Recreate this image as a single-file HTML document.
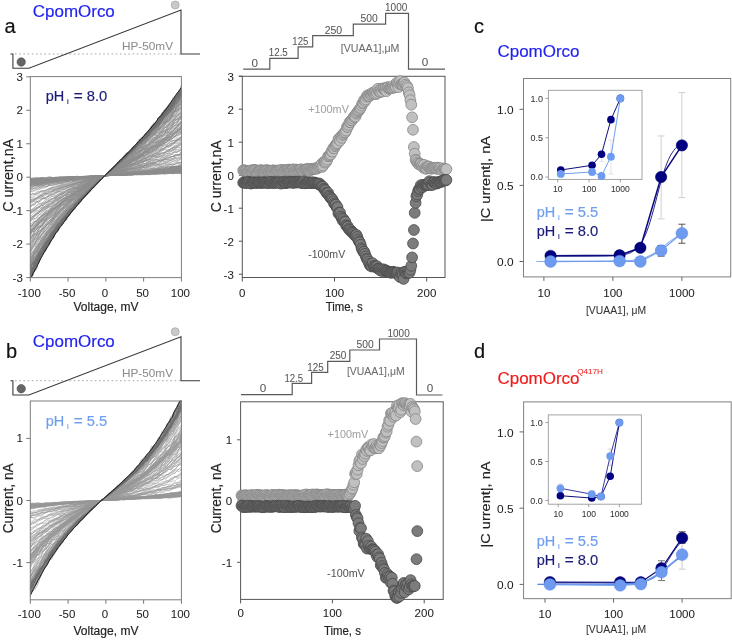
<!DOCTYPE html>
<html><head><meta charset="utf-8"><style>
html,body{margin:0;padding:0;background:#fff;}
svg{display:block;font-family:"Liberation Sans", sans-serif;will-change:transform;}
text{paint-order:stroke;stroke-width:0.05px;stroke:currentColor;}
text.h{stroke-width:0.18px;}
</style></head><body>
<svg width="732" height="640" viewBox="0 0 732 640">
<rect width="732" height="640" fill="#fff"/>
<text x="4.5" y="32.8" font-size="20" fill="#111" color="#111" text-anchor="start" class="h">a</text>
<text x="32.8" y="17" font-size="17" fill="#1f1ff0" color="#1f1ff0" text-anchor="start" class="h" textLength="82" lengthAdjust="spacingAndGlyphs">CpomOrco</text>
<line x1="15" y1="54" x2="180" y2="54" stroke="#a8a8a8" stroke-width="1" stroke-dasharray="1.6,2.6"/>
<polyline points="10.5,54 12.9,54 12.9,68.3 28.9,68.3 181,10 181,54 200,54" fill="none" stroke="#3a3a3a" stroke-width="1.1" />
<circle cx="21.2" cy="62" r="4.2" fill="#666" stroke="#4a4a4a" stroke-width="0.6"/>
<circle cx="175.2" cy="5" r="4" fill="#c9c9c9" stroke="#9a9a9a" stroke-width="0.6"/>
<text x="122" y="50" font-size="11.5" fill="#8c8c8c" color="#8c8c8c" text-anchor="start" textLength="51" lengthAdjust="spacingAndGlyphs">HP-50mV</text>
<g fill="none" stroke-linejoin="round">
<path d="M30.3 178.1l2.1-0.1 2.2 0.1 2.1-0.6 2.1 0.5 2.1 0.8 2.2-0.5 2.1 0.5 2.1 0.4 2.2-0.9 2.1-0.7 2.1 0.3 2.1 0.2 2.2-0.2 2.1-0.9 2.1 0.2 2.2-0.2 2.1-0.1 2.1-0.1 2.1-0.3 2.2 0 2.1 0.1 2.1 0.3 2.1-0.4 2.2 0.2 2.1-0.4 2.1 0.4 2.2-0.3 2.1-0.1 2.1 0.1 2.1-0.6 2.2 0 2.1 0.1 2.1-0.2 2.2 0 2.1 0 2.1-0.1 2.1-0.1 2.2 0 2.1 0 2.1-0.1 2.2-0.1 2.1-0.3 2.1 0.1 2.1 0 2.2-0.4 2.1 0.4 2.1-0.1 2.2 0.2 2.1-0.9 2.1 0.1 2.1-0.1 2.2 0 2.1 0.1 2.1-0.2 2.1 0.1 2.2-0.2 2.1-0.2 2.1-0.6 2.2 0.2 2.1 0 2.1 0.1 2.1-0.1 2.2-0.8 2.1 0.4 2.1 0.2 2.2 0.1 2.1 0.4 2.1-0.4 2.1-0.4 2.2 0.4 2.1-0.1M30.3 179l2.1-0.7 2.2-0.6 2.1 0.5 2.1-0.1 2.1-0.5 2.2-0.1 2.1 0.3 2.1-0.6 2.2-0.6 2.1 0.8 2.1 0 2.1 0.3 2.2-0.4 2.1 0.5 2.1-0.1 2.2-0.8 2.1 0.5 2.1-0.7 2.1-0.2 2.2 0.2 2.1-0.2 2.1-0.4 2.1 0.4 2.2 0 2.1 0.2 2.1-0.4 2.2-0.3 2.1 0.1 2.1 0.3 2.1-0.1 2.2-0.2 2.1-0.2 2.1 0 2.2-0.1 2.1-0.1 2.1-0.1 2.1 0 2.2-0.2 2.1 0 2.1-0.2 2.2-0.3 2.1 0.2 2.1 0 2.1 0.3 2.2-0.5 2.1 0.4 2.1-0.2 2.2-0.6 2.1-0.1 2.1 0.1 2.1 0.4 2.2-0.5 2.1 0.1 2.1-0.5 2.1-0.5 2.2 0.5 2.1 0.2 2.1 0.1 2.2-0.5 2.1-0.1 2.1 0.2 2.1-0.6 2.2 0.3 2.1-0.9 2.1 0 2.2 0 2.1 0.6 2.1-0.3 2.1 0.4 2.2 0.1 2.1 0M30.3 179.6l2.1-0.5 2.2-0.5 2.1-0.2 2.1 0.1 2.1-0.7 2.2 0.1 2.1 0.4 2.1-0.3 2.2-0.7 2.1 0 2.1 0.7 2.1-1.1 2.2 0.2 2.1-0.3 2.1 0.5 2.2-0.1 2.1 0.1 2.1-1.1 2.1 0.7 2.2-0.5 2.1 0.5 2.1-0.2 2.1 0.4 2.2-0.4 2.1-0.3 2.1 0.4 2.2-0.6 2.1 0.1 2.1 0.1 2.1-0.2 2.2-0.1 2.1-0.2 2.1 0 2.2-0.1 2.1-0.1 2.1 0 2.1-0.1 2.2-0.2 2.1-0.2 2.1 0.3 2.2-0.3 2.1 0.1 2.1 0.1 2.1-0.5 2.2 0.3 2.1-0.5 2.1 0.4 2.2-0.4 2.1 0 2.1 0 2.1-0.5 2.2 0.1 2.1-0.3 2.1 0.1 2.1 0.3 2.2-0.4 2.1-0.1 2.1-0.3 2.2 0.6 2.1-0.4 2.1 0.5 2.1-0.9 2.2 0.5 2.1 0.1 2.1-0.7 2.2-0.5 2.1 0.9 2.1-0.2 2.1-0.1 2.2 0.1 2.1-0.6M30.3 179.4l2.1-0.3 2.2 0.1 2.1-1.5 2.1 0.7 2.1-0.4 2.2 0 2.1-0.2 2.1 0 2.2-0.8 2.1 0.9 2.1 0.1 2.1-0.2 2.2 0 2.1-0.7 2.1-0.1 2.2 0.5 2.1 0.1 2.1-0.4 2.1-0.5 2.2 1.1 2.1-1 2.1 0.4 2.1-0.6 2.2 0.4 2.1-0.3 2.1 0.1 2.2-0.2 2.1-0.5 2.1 0 2.1 0.1 2.2-0.1 2.1 0 2.1-0.2 2.2-0.1 2.1-0.1 2.1-0.1 2.1 0 2.2-0.2 2.1-0.1 2.1-0.3 2.2-0.2 2.1 0.3 2.1 0 2.1-0.1 2.2 0 2.1 0 2.1-0.1 2.2 0.2 2.1-0.5 2.1 0.2 2.1-0.2 2.2 0.1 2.1 0 2.1 0 2.1-0.3 2.2 0 2.1-0.4 2.1-0.1 2.2 0.3 2.1-0.7 2.1 0.3 2.1-0.4 2.2-0.2 2.1 0.5 2.1-0.9 2.2-0.2 2.1 0.1 2.1 0 2.1 0 2.2 0.2 2.1-0.2M30.3 178.8l2.1 0.1 2.2-0.5 2.1 0.8 2.1-0.9 2.1 0 2.2-0.2 2.1-0.1 2.1 0.2 2.2-0.3 2.1-0.4 2.1 0 2.1-0.1 2.2 0.5 2.1-0.7 2.1-0.3 2.2 0 2.1 0.2 2.1 0.4 2.1-0.7 2.2 0.3 2.1 0.5 2.1-0.8 2.1 0.4 2.2-0.1 2.1-0.3 2.1-0.5 2.2 0.2 2.1-0.2 2.1-0.3 2.1-0.1 2.2 0.2 2.1-0.1 2.1 0 2.2-0.2 2.1-0.1 2.1-0.1 2.1-0.1 2.2-0.2 2.1 0.1 2.1-0.2 2.2-0.2 2.1-0.1 2.1-0.2 2.1 0.1 2.2 0.1 2.1-0.2 2.1 0.3 2.2 0.1 2.1-0.6 2.1 0.2 2.1-0.2 2.2 0.5 2.1-0.4 2.1 0 2.1 0 2.2 0.3 2.1-0.7 2.1-0.6 2.2 0 2.1 0.2 2.1-0.3 2.1-0.4 2.2 1.1 2.1-1.1 2.1-0.3 2.2-0.1 2.1-0.5 2.1 0.2 2.1 0.3 2.2-0.1 2.1-0.2M30.3 178.9l2.1-0.5 2.2 0.5 2.1-0.6 2.1 0.9 2.1-0.4 2.2-0.1 2.1-0.4 2.1-0.2 2.2 0.7 2.1-0.4 2.1-0.6 2.1 0.2 2.2 0.1 2.1-1 2.1 0 2.2-0.1 2.1 0.1 2.1-0.5 2.1 0.2 2.2-0.4 2.1 0.5 2.1-0.1 2.1-0.3 2.2 0.1 2.1-0.3 2.1 0 2.2 0.2 2.1-0.2 2.1 0 2.1-0.3 2.2 0.2 2.1-0.1 2.1-0.3 2.2-0.1 2.1 0 2.1-0.1 2.1-0.1 2.2-0.2 2.1 0.1 2.1 0.1 2.2-0.3 2.1-0.2 2.1 0.2 2.1 0 2.2-0.1 2.1-0.6 2.1 0.2 2.2-0.2 2.1-0.2 2.1-0.2 2.1 0.1 2.2-0.3 2.1 0.4 2.1-0.3 2.1 0.2 2.2-0.7 2.1 0.3 2.1 0.2 2.2-0.2 2.1-0.1 2.1-0.4 2.1 0.8 2.2-0.3 2.1-0.3 2.1-1.1 2.2 0.5 2.1 0.3 2.1-0.4 2.1-0.7 2.2 0.9 2.1-0.1M30.3 178.7l2.1-0.2 2.2 1 2.1-1.2 2.1 0.2 2.1-0.3 2.2-0.2 2.1 0.2 2.1 0.4 2.2-0.8 2.1 0.3 2.1-0.2 2.1 0 2.2-0.1 2.1 0.5 2.1-1.1 2.2 0.2 2.1-0.3 2.1-0.3 2.1 0.5 2.2 0.3 2.1-0.3 2.1-0.1 2.1-0.3 2.2-0.2 2.1 0.3 2.1-0.6 2.2 0.3 2.1-0.5 2.1 0 2.1 0 2.2-0.2 2.1 0 2.1-0.1 2.2 0 2.1-0.2 2.1-0.2 2.1-0.1 2.2-0.1 2.1 0 2.1 0.2 2.2-0.5 2.1 0.2 2.1-0.1 2.1-0.1 2.2-0.2 2.1 0 2.1-0.2 2.2 0.1 2.1-0.3 2.1-0.8 2.1 0.5 2.2-0.1 2.1-0.3 2.1-0.1 2.1 0.5 2.2-0.4 2.1-0.4 2.1 0.1 2.2 0 2.1-0.6 2.1 0.7 2.1-0.4 2.2 0.1 2.1-0.8 2.1 1.2 2.2-0.6 2.1-0.1 2.1-0.5 2.1 0 2.2-0.4 2.1 1.2M30.3 179.1l2.1 0.2 2.2-0.5 2.1-0.5 2.1-0.1 2.1-0.6 2.2 0.7 2.1 0.4 2.1-0.3 2.2 0.1 2.1 0 2.1-0.6 2.1 0.3 2.2 0.4 2.1-1 2.1 0.2 2.2-0.3 2.1-0.1 2.1-0.3 2.1 0.1 2.2-0.5 2.1 0.1 2.1-0.1 2.1-0.1 2.2 0.3 2.1-0.3 2.1-0.1 2.2-0.2 2.1 0.2 2.1-0.5 2.1 0.1 2.2 0.1 2.1 0 2.1-0.3 2.2-0.1 2.1-0.1 2.1-0.1 2.1 0 2.2-0.2 2.1 0 2.1-0.1 2.2-0.3 2.1-0.4 2.1 0.6 2.1-0.2 2.2 0 2.1-0.5 2.1 0.4 2.2-0.3 2.1-0.2 2.1 0.2 2.1-0.1 2.2-0.2 2.1 0.4 2.1-0.3 2.1-0.4 2.2-0.3 2.1 0.1 2.1 0.4 2.2-0.5 2.1-0.5 2.1 0 2.1 0.1 2.2 0.3 2.1-0.7 2.1 0.4 2.2 0.1 2.1-0.3 2.1-1 2.1 0.3 2.2-0.5 2.1 0.5M30.3 179.8l2.1-0.3 2.2-0.4 2.1 0.6 2.1 0.3 2.1-0.8 2.2-0.3 2.1-0.2 2.1-0.7 2.2 0.2 2.1-0.4 2.1 0.5 2.1-0.8 2.2-0.4 2.1 0.3 2.1 0.1 2.2 0 2.1-0.6 2.1 0.7 2.1-0.3 2.2-0.3 2.1-0.2 2.1 0.2 2.1-0.3 2.2 0 2.1-0.2 2.1 0 2.2 0.1 2.1-0.3 2.1-0.2 2.1 0.2 2.2-0.2 2.1-0.2 2.1 0.1 2.2-0.2 2.1-0.1 2.1-0.2 2.1-0.2 2.2-0.1 2.1 0.1 2.1-0.2 2.2 0 2.1-0.1 2.1-0.4 2.1 0.5 2.2-0.6 2.1 0.2 2.1-0.5 2.2 0.2 2.1 0.1 2.1-0.3 2.1-0.3 2.2 0 2.1-0.3 2.1 0.2 2.1 0.4 2.2-1 2.1 0 2.1 0.1 2.2 0 2.1-0.3 2.1 0.5 2.1 0 2.2-0.2 2.1-0.7 2.1 0.9 2.2-1.1 2.1 0.5 2.1 0.1 2.1-1.1 2.2 0.5 2.1 0.5M30.3 179.9l2.1-0.6 2.2 0.1 2.1 0 2.1 0 2.1-0.3 2.2-0.1 2.1 0.2 2.1-0.2 2.2-0.7 2.1 0.2 2.1-0.4 2.1-0.3 2.2 0 2.1-0.8 2.1 0.8 2.2-0.6 2.1 0.2 2.1-0.7 2.1 0 2.2 0.9 2.1-0.4 2.1-0.5 2.1-0.1 2.2-0.1 2.1 0.1 2.1-0.2 2.2-0.2 2.1 0.1 2.1-0.3 2.1 0.4 2.2-0.5 2.1 0.2 2.1-0.3 2.2 0 2.1-0.1 2.1-0.1 2.1 0 2.2-0.1 2.1 0.1 2.1-0.3 2.2-0.2 2.1-0.2 2.1 0.1 2.1-0.4 2.2 0.2 2.1-0.1 2.1-0.2 2.2-0.2 2.1 0.3 2.1-0.1 2.1-0.1 2.2-0.1 2.1 0.2 2.1-0.7 2.1 0.3 2.2-0.5 2.1 0.2 2.1-0.5 2.2-0.2 2.1 0.1 2.1-1 2.1 0.5 2.2-0.6 2.1 0.3 2.1 0.5 2.2-0.2 2.1-0.4 2.1 0 2.1-0.2 2.2 0 2.1 0.4M30.3 179.5l2.1 0.6 2.2 0 2.1-0.4 2.1 0.2 2.1-0.6 2.2-1.2 2.1 0.8 2.1-0.7 2.2 0.5 2.1-0.6 2.1 0.1 2.1-0.1 2.2-0.3 2.1-0.4 2.1 0.4 2.2 0 2.1 0.2 2.1-0.6 2.1 0.1 2.2-0.5 2.1 0.1 2.1-0.6 2.1 0.8 2.2-0.5 2.1-0.4 2.1 0.2 2.2 0 2.1-0.2 2.1 0.1 2.1-0.3 2.2-0.4 2.1 0.1 2.1 0.1 2.2-0.2 2.1-0.1 2.1-0.2 2.1 0 2.2-0.1 2.1-0.3 2.1-0.1 2.2 0.1 2.1 0 2.1 0.1 2.1-0.3 2.2 0.3 2.1-0.8 2.1 0.2 2.2-0.3 2.1-0.5 2.1 0 2.1 0.5 2.2-0.7 2.1-0.2 2.1 0.5 2.1 0 2.2-0.2 2.1 0.4 2.1-1 2.2 1.3 2.1-0.5 2.1-0.3 2.1-0.2 2.2-0.2 2.1-0.2 2.1 0 2.2-0.7 2.1 1.2 2.1-1 2.1 0.2 2.2-0.4 2.1-0.1M30.3 178.7l2.1 1.3 2.2-0.9 2.1-1 2.1 0.5 2.1 0.1 2.2 0 2.1 0 2.1-0.2 2.2 0.1 2.1-0.6 2.1 0.3 2.1 0 2.2 0.1 2.1-0.5 2.1 0.2 2.2-0.4 2.1-0.5 2.1 0.1 2.1-0.2 2.2-0.1 2.1-0.1 2.1-0.1 2.1 0 2.2-0.4 2.1 0.4 2.1-0.6 2.2 0.2 2.1 0.1 2.1-0.2 2.1 0 2.2-0.2 2.1 0 2.1-0.3 2.2 0.1 2.1-0.2 2.1 0 2.1 0 2.2-0.3 2.1-0.2 2.1-0.1 2.2 0.3 2.1-0.2 2.1-0.6 2.1 0.2 2.2 0 2.1-0.3 2.1-0.4 2.2 0.1 2.1 0.2 2.1-0.1 2.1-0.2 2.2 0.2 2.1 0 2.1-0.5 2.1 0.1 2.2-0.4 2.1-0.2 2.1-0.9 2.2 0.9 2.1-0.4 2.1-0.1 2.1-0.3 2.2-0.3 2.1 0.5 2.1 0.1 2.2 0.3 2.1-0.3 2.1-0.6 2.1 0.1 2.2 0.4 2.1-0.4M30.3 179.2l2.1 1.5 2.2-0.9 2.1-0.3 2.1 0.1 2.1 0 2.2-0.4 2.1-0.2 2.1-0.1 2.2 0.4 2.1-0.7 2.1 0 2.1-0.2 2.2-0.4 2.1-0.3 2.1-0.2 2.2 0.3 2.1-0.6 2.1-0.1 2.1-0.1 2.2-0.2 2.1 0.3 2.1-0.1 2.1-0.3 2.2 0.4 2.1-0.5 2.1 0.1 2.2-0.1 2.1 0.1 2.1-0.3 2.1-0.2 2.2-0.2 2.1-0.1 2.1 0 2.2-0.1 2.1-0.1 2.1-0.1 2.1-0.1 2.2-0.2 2.1-0.3 2.1 0.2 2.2 0.1 2.1-0.2 2.1 0 2.1-0.1 2.2-0.6 2.1 0.1 2.1 0.3 2.2-0.6 2.1-0.3 2.1 0.3 2.1 0 2.2-0.1 2.1-0.3 2.1-0.2 2.1-0.3 2.2-0.1 2.1 0 2.1-0.2 2.2 0.2 2.1 0.6 2.1-0.5 2.1-0.3 2.2 0.2 2.1-0.6 2.1 0.4 2.2 0.1 2.1-1.1 2.1 0.2 2.1 0.1 2.2-0.4 2.1-0.2M30.3 179.2l2.1 0.5 2.2 0 2.1-1.4 2.1 0.8 2.1 0.1 2.2-0.7 2.1-0.2 2.1 0.3 2.2-0.6 2.1 0.4 2.1 0.1 2.1-0.4 2.2-0.3 2.1 0.4 2.1-0.3 2.2 0.1 2.1-0.9 2.1 0.9 2.1-0.7 2.2 0.3 2.1-0.1 2.1-0.3 2.1-0.2 2.2-0.3 2.1 0.1 2.1 0 2.2-0.1 2.1-0.4 2.1-0.1 2.1-0.3 2.2 0.1 2.1-0.2 2.1-0.1 2.2 0.1 2.1-0.1 2.1-0.1 2.1 0 2.2-0.5 2.1 0.3 2.1-0.5 2.2 0.1 2.1-0.3 2.1 0 2.1 0.2 2.2-0.1 2.1-0.1 2.1-0.1 2.2 0 2.1-0.2 2.1-0.6 2.1 0.8 2.2-0.7 2.1 0.2 2.1-0.5 2.1-0.3 2.2 0.1 2.1-0.4 2.1 0.6 2.2-1 2.1 0.5 2.1-0.6 2.1 0.1 2.2 1 2.1-0.8 2.1-0.4 2.2-0.6 2.1 0.5 2.1-0.1 2.1 0.6 2.2-1.3 2.1-0.3M30.3 179.5l2.1 0.2 2.2 0.5 2.1-1.1 2.1 0.9 2.1-0.6 2.2-0.4 2.1-0.4 2.1 0 2.2-0.1 2.1 0.2 2.1 0.1 2.1-0.7 2.2 0.2 2.1 0 2.1-0.1 2.2-0.4 2.1 0.4 2.1-0.3 2.1 0 2.2-0.6 2.1-0.2 2.1-0.4 2.1 0.7 2.2-0.3 2.1-0.4 2.1 0.1 2.2-0.1 2.1-0.5 2.1 0.2 2.1 0 2.2-0.1 2.1-0.3 2.1-0.1 2.2 0 2.1-0.2 2.1-0.2 2.1-0.1 2.2 0 2.1-0.3 2.1-0.1 2.2 0.3 2.1-0.3 2.1-0.3 2.1 0.1 2.2 0.3 2.1-0.5 2.1-0.3 2.2-0.3 2.1 0.9 2.1-1.4 2.1 0.9 2.2-0.7 2.1-0.2 2.1-0.1 2.1 0.1 2.2 0.3 2.1-0.7 2.1 0.3 2.2 0.5 2.1-2 2.1 0.6 2.1-0.5 2.2 0.9 2.1-1 2.1-0.2 2.2-0.1 2.1 0.6 2.1 0.4 2.1-0.5 2.2 0.8 2.1-0.3M30.3 179.9l2.1-0.7 2.2 0.6 2.1-0.4 2.1-0.7 2.1 0.7 2.2-0.5 2.1 0.3 2.1-0.6 2.2-0.6 2.1 0.8 2.1-0.3 2.1 0.3 2.2 0 2.1-0.1 2.1-0.9 2.2-0.5 2.1 0.5 2.1 0.1 2.1-0.5 2.2 0.1 2.1-0.5 2.1 0 2.1-0.2 2.2-0.2 2.1 0.2 2.1-0.1 2.2 0.1 2.1-0.3 2.1 0.1 2.1-0.3 2.2 0 2.1-0.3 2.1-0.1 2.2 0 2.1-0.2 2.1 0 2.1-0.3 2.2-0.2 2.1-0.1 2.1 0.1 2.2-0.4 2.1 0.4 2.1-0.7 2.1 0.3 2.2 0.4 2.1-1.3 2.1 0.1 2.2 0.6 2.1-0.4 2.1 0 2.1-0.2 2.2 0.4 2.1-0.4 2.1-0.5 2.1-0.1 2.2-0.4 2.1 0.2 2.1-1 2.2 0.9 2.1-0.4 2.1 0.6 2.1-0.3 2.2-1 2.1 0.8 2.1-0.7 2.2 0.2 2.1 0.3 2.1-0.3 2.1-0.1 2.2-0.1 2.1-0.7M30.3 178.3l2.1 0.6 2.2 0.3 2.1 0 2.1 0.2 2.1 0 2.2 0 2.1-0.2 2.1-0.1 2.2-0.5 2.1 0.3 2.1-0.2 2.1 0.2 2.2-1.1 2.1 0.2 2.1-0.5 2.2 0.2 2.1-0.3 2.1 0.4 2.1-0.4 2.2-0.7 2.1 0.9 2.1-0.7 2.1-0.3 2.2 0.2 2.1-0.2 2.1-0.2 2.2 0.2 2.1-0.3 2.1 0.1 2.1-0.1 2.2-0.1 2.1-0.2 2.1-0.1 2.2-0.1 2.1-0.1 2.1-0.2 2.1-0.1 2.2-0.1 2.1 0 2.1-0.1 2.2-0.3 2.1-0.1 2.1 0.3 2.1-0.6 2.2-0.6 2.1 1 2.1-0.7 2.2 0.1 2.1 0 2.1-0.4 2.1 0.7 2.2-0.5 2.1-0.5 2.1 0.3 2.1-0.1 2.2-0.4 2.1-0.1 2.1-0.9 2.2 0.6 2.1-0.8 2.1 0.6 2.1-0.8 2.2 0.2 2.1 0.9 2.1-1 2.2 0.5 2.1-0.3 2.1-0.8 2.1 1.1 2.2-0.1 2.1-1.2M30.3 180.2l2.1 0.2 2.2-0.2 2.1-0.1 2.1-0.1 2.1-1.3 2.2 0.5 2.1 0.2 2.1-0.5 2.2-0.6 2.1-0.1 2.1 0.2 2.1 0.1 2.2-0.3 2.1 0.6 2.1-0.2 2.2-0.8 2.1 0.3 2.1-0.3 2.1-0.4 2.2 0 2.1 0 2.1-0.8 2.1 0.2 2.2 0.1 2.1-0.4 2.1 0 2.2 0.1 2.1-0.3 2.1 0 2.1 0.2 2.2-0.4 2.1-0.1 2.1 0 2.2-0.1 2.1-0.2 2.1-0.1 2.1-0.1 2.2 0 2.1-0.4 2.1 0.2 2.2-0.3 2.1-0.4 2.1 0.3 2.1-0.2 2.2-0.4 2.1 0.2 2.1-0.1 2.2-0.2 2.1-0.4 2.1 0.8 2.1-0.5 2.2 0 2.1-0.1 2.1-0.2 2.1-0.1 2.2-0.5 2.1 0.4 2.1-0.4 2.2-0.2 2.1 0.4 2.1-0.4 2.1-0.6 2.2 0.4 2.1 0.2 2.1-0.4 2.2 0.1 2.1-0.6 2.1-0.5 2.1 0.5 2.2-0.5 2.1-0.7M30.3 180.2l2.1-0.2 2.2-0.2 2.1-0.4 2.1-0.6 2.1 0 2.2-0.8 2.1 0.6 2.1-0.5 2.2 0.4 2.1-0.1 2.1 0.7 2.1-0.5 2.2-0.1 2.1 0 2.1 0.5 2.2-1.1 2.1 0.2 2.1-0.1 2.1-0.3 2.2-0.1 2.1-0.3 2.1 0.3 2.1-0.2 2.2-0.4 2.1-0.1 2.1 0 2.2-0.1 2.1-0.1 2.1-0.3 2.1-0.3 2.2 0.2 2.1-0.5 2.1 0 2.2 0 2.1-0.1 2.1 0 2.1-0.1 2.2-0.1 2.1-0.2 2.1-0.1 2.2 0 2.1-0.2 2.1 0.3 2.1-0.6 2.2 0.3 2.1-0.3 2.1-0.2 2.2 0 2.1-0.1 2.1-0.3 2.1-0.4 2.2-0.3 2.1-0.2 2.1 0.4 2.1-0.1 2.2-0.1 2.1-0.5 2.1 0.7 2.2-1.2 2.1 0.4 2.1 0 2.1-0.6 2.2-0.4 2.1 0.1 2.1-0.4 2.2 0.3 2.1-0.5 2.1 0 2.1 0.5 2.2-0.6 2.1 0.5M30.3 180.2l2.1 0 2.2 0.8 2.1-1.1 2.1-0.5 2.1 0.3 2.2-0.7 2.1 0.7 2.1-1.3 2.2 0.3 2.1-0.7 2.1 0.9 2.1-0.9 2.2 0.3 2.1-0.3 2.1 0.5 2.2-0.1 2.1-1 2.1 0.8 2.1-0.2 2.2-0.3 2.1 0 2.1-0.8 2.1-0.3 2.2 0.5 2.1 0.1 2.1-0.8 2.2 0 2.1 0 2.1-0.2 2.1 0.3 2.2-0.3 2.1 0.1 2.1-0.2 2.2-0.3 2.1-0.1 2.1-0.3 2.1 0 2.2 0 2.1-0.4 2.1-0.3 2.2 0.1 2.1 0.2 2.1-0.4 2.1-0.3 2.2 0.3 2.1 0 2.1-0.4 2.2 0.1 2.1 0.2 2.1-0.3 2.1 0 2.2-0.5 2.1-0.1 2.1-0.6 2.1 0 2.2 0.6 2.1-0.7 2.1-0.3 2.2 0.2 2.1-0.2 2.1 0.6 2.1 0.1 2.2-0.7 2.1 0.6 2.1 0.3 2.2-1.5 2.1 0.4 2.1-0.4 2.1 0.1 2.2-0.3 2.1-0.4M30.3 179.6l2.1 0.2 2.2 0.5 2.1-1.4 2.1 1 2.1-0.5 2.2 0 2.1-0.6 2.1 0.6 2.2-0.6 2.1 0.5 2.1-0.8 2.1 0.5 2.2-0.3 2.1-0.9 2.1 0.4 2.2-0.1 2.1-0.8 2.1 0.3 2.1 0.2 2.2-0.6 2.1 0.4 2.1-0.7 2.1-0.2 2.2 0.3 2.1-0.1 2.1-0.3 2.2 0 2.1 0.1 2.1-0.4 2.1 0.3 2.2-0.4 2.1-0.1 2.1-0.1 2.2-0.2 2.1-0.1 2.1-0.2 2.1 0 2.2 0 2.1 0 2.1-0.2 2.2-0.3 2.1 0.1 2.1-0.3 2.1-0.4 2.2-0.1 2.1-0.3 2.1 0.3 2.2 0.1 2.1-0.7 2.1 0.1 2.1-0.4 2.2 0.2 2.1-0.4 2.1 0 2.1-0.1 2.2 0 2.1 0 2.1-0.1 2.2-0.1 2.1-0.3 2.1 0.4 2.1-0.9 2.2 0.5 2.1-0.5 2.1 0.2 2.2-0.1 2.1-1 2.1 0.7 2.1 0.3 2.2-0.4 2.1-0.4M30.3 180l2.1 0.9 2.2-0.8 2.1-0.1 2.1 0.3 2.1-0.7 2.2-0.2 2.1 0.5 2.1-1.3 2.2-0.2 2.1 0.2 2.1 0.2 2.1-1 2.2 0.3 2.1-0.2 2.1-0.1 2.2 0.5 2.1-0.4 2.1 0.2 2.1-0.2 2.2-0.1 2.1-0.2 2.1-0.5 2.1 0.1 2.2-0.2 2.1-0.1 2.1-0.3 2.2 0.1 2.1-0.2 2.1-0.2 2.1 0 2.2-0.2 2.1 0 2.1-0.4 2.2 0 2.1 0 2.1-0.1 2.1-0.3 2.2 0 2.1 0 2.1-0.2 2.2-0.1 2.1-0.3 2.1 0.1 2.1-0.6 2.2 0.6 2.1-0.5 2.1 0.3 2.2-0.9 2.1 0.4 2.1-0.2 2.1-0.5 2.2-0.2 2.1 0.5 2.1-0.4 2.1 0.2 2.2-0.5 2.1 0 2.1 0 2.2 0.2 2.1-0.1 2.1 0.1 2.1-0.5 2.2-0.5 2.1 1.2 2.1-0.9 2.2-0.1 2.1-0.6 2.1 0.2 2.1-0.6 2.2 0 2.1-1M30.3 180.5l2.1-0.1 2.2-0.7 2.1-0.3 2.1 0.7 2.1-0.3 2.2-1 2.1-0.1 2.1 0.7 2.2 0 2.1-0.3 2.1-0.2 2.1 0.3 2.2-0.7 2.1 0.3 2.1-0.2 2.2-0.8 2.1 0.3 2.1-0.3 2.1-0.3 2.2-0.2 2.1 0.1 2.1-0.2 2.1 0.1 2.2-0.8 2.1 0.2 2.1 0.2 2.2-0.3 2.1-0.2 2.1-0.1 2.1-0.3 2.2 0 2.1 0.1 2.1-0.2 2.2 0 2.1-0.2 2.1-0.1 2.1-0.4 2.2 0.1 2.1 0.2 2.1-0.3 2.2-0.3 2.1 0.1 2.1-0.2 2.1-0.2 2.2-0.3 2.1-0.1 2.1 0.1 2.2-0.5 2.1 0.2 2.1-0.1 2.1 0.2 2.2-0.2 2.1-0.5 2.1 0.7 2.1-0.6 2.2-0.3 2.1 0.3 2.1-0.3 2.2 0.4 2.1-1 2.1 0 2.1 0.1 2.2 0.6 2.1-0.4 2.1-1 2.2-0.5 2.1 0.4 2.1-0.6 2.1 0.6 2.2-0.3 2.1-0.3M30.3 180.3l2.1 0.3 2.2 0.5 2.1-1.4 2.1 0.2 2.1 0.1 2.2-1.1 2.1 0.6 2.1 0.2 2.2-0.5 2.1 0.3 2.1-0.3 2.1-0.6 2.2 0.2 2.1-0.3 2.1-0.8 2.2 0.1 2.1-0.2 2.1 0 2.1-0.1 2.2-0.4 2.1 0.3 2.1-0.6 2.1 0.6 2.2-0.3 2.1 0.2 2.1-0.4 2.2-0.3 2.1-0.3 2.1 0.3 2.1-0.2 2.2-0.1 2.1-0.1 2.1-0.1 2.2-0.3 2.1-0.1 2.1-0.1 2.1-0.2 2.2 0 2.1-0.1 2.1 0 2.2-0.7 2.1 0.5 2.1-0.7 2.1 0.1 2.2 0.1 2.1 0.1 2.1-0.6 2.2-0.3 2.1 0.6 2.1-0.3 2.1-0.6 2.2 0.1 2.1-0.7 2.1 0.6 2.1-0.5 2.2 0.4 2.1-1.3 2.1 0.8 2.2 0.4 2.1-0.8 2.1-0.1 2.1-0.9 2.2 0.8 2.1-0.2 2.1-0.3 2.2-0.5 2.1 0.6 2.1-0.6 2.1 0.1 2.2 0.1 2.1-0.3M30.3 180.2l2.1 0 2.2 0.3 2.1 0.1 2.1-0.3 2.1-0.5 2.2-0.3 2.1 0 2.1-0.4 2.2 0.3 2.1-0.5 2.1 0.5 2.1-1 2.2 0 2.1 0 2.1-0.6 2.2 0 2.1 0.9 2.1-0.9 2.1 0.3 2.2-0.8 2.1-0.5 2.1 0.7 2.1-0.3 2.2-0.1 2.1-0.2 2.1-0.2 2.2-0.3 2.1 0.4 2.1-0.6 2.1 0.3 2.2-0.3 2.1-0.3 2.1 0 2.2 0 2.1-0.2 2.1-0.1 2.1-0.1 2.2-0.3 2.1 0.2 2.1-0.4 2.2-0.2 2.1-0.1 2.1-0.1 2.1-0.4 2.2 0.1 2.1-0.3 2.1 0 2.2-0.5 2.1 0.9 2.1-0.9 2.1 0.3 2.2 0 2.1 0.1 2.1 0.3 2.1-0.6 2.2 0 2.1-0.5 2.1 0.5 2.2-1.2 2.1 0.2 2.1-0.1 2.1 0 2.2-0.2 2.1-0.1 2.1-0.5 2.2-0.4 2.1 0 2.1 0.4 2.1-0.5 2.2 0.2 2.1-0.5M30.3 180.5l2.1 0.5 2.2-0.5 2.1 0.1 2.1-0.5 2.1-0.7 2.2 0.6 2.1-0.4 2.1 0 2.2-0.9 2.1 0.5 2.1-0.1 2.1 0 2.2-0.2 2.1-0.7 2.1-0.8 2.2 1.1 2.1-0.7 2.1 0.1 2.1 0.3 2.2-0.4 2.1-0.2 2.1 0 2.1-0.8 2.2 0.7 2.1-0.7 2.1-0.1 2.2 0 2.1-0.3 2.1-0.2 2.1 0 2.2-0.2 2.1-0.1 2.1 0.2 2.2-0.4 2.1 0 2.1-0.2 2.1-0.1 2.2 0.1 2.1-0.2 2.1 0 2.2-0.1 2.1-0.4 2.1 0.2 2.1-0.3 2.2 0.3 2.1-0.5 2.1-0.2 2.2 0.1 2.1-0.2 2.1-0.8 2.1 0.7 2.2-0.2 2.1-0.1 2.1-0.8 2.1-0.4 2.2 0.4 2.1 0.2 2.1-0.2 2.2-0.7 2.1 0.5 2.1-1.1 2.1-0.2 2.2 0.3 2.1-0.4 2.1-0.3 2.2-0.5 2.1 0.9 2.1-1 2.1 0.6 2.2 0.1 2.1-0.4M30.3 180.7l2.1-0.4 2.2 0.6 2.1-0.4 2.1-0.3 2.1 0.4 2.2-0.3 2.1-0.6 2.1 0 2.2 0.1 2.1-0.7 2.1 0 2.1-0.6 2.2 0.2 2.1-0.1 2.1-0.3 2.2-0.1 2.1 0 2.1-0.2 2.1-0.5 2.2-0.1 2.1-0.3 2.1 0.6 2.1-0.5 2.2-0.1 2.1-0.3 2.1 0.1 2.2-0.2 2.1-0.3 2.1 0 2.1 0.1 2.2-0.5 2.1-0.1 2.1 0.1 2.2-0.2 2.1-0.1 2.1-0.2 2.1 0 2.2-0.1 2.1-0.1 2.1-0.1 2.2-0.2 2.1-0.2 2.1-0.1 2.1 0.1 2.2 0.5 2.1-0.9 2.1 0.3 2.2-0.6 2.1-0.4 2.1 0.1 2.1 0 2.2-0.2 2.1-0.2 2.1 0 2.1-0.1 2.2-0.1 2.1-0.8 2.1 0.2 2.2-0.5 2.1 0.3 2.1-0.3 2.1 0 2.2-0.4 2.1-0.3 2.1 0.1 2.2 0.3 2.1-0.1 2.1-1.1 2.1 0.7 2.2-0.1 2.1-0.8M30.3 181.3l2.1 0.5 2.2-0.2 2.1-0.9 2.1-0.2 2.1 0.1 2.2 0.1 2.1-0.2 2.1-0.6 2.2 0.2 2.1-1 2.1-0.3 2.1-0.7 2.2 0.5 2.1 0.3 2.1 0 2.2 0.6 2.1-1.2 2.1-0.3 2.1-0.5 2.2-0.1 2.1-0.2 2.1-0.1 2.1-0.2 2.2-0.3 2.1 0.5 2.1-0.2 2.2 0.1 2.1-0.7 2.1 0 2.1 0 2.2 0.2 2.1-0.4 2.1-0.1 2.2-0.2 2.1-0.1 2.1-0.2 2.1 0 2.2-0.3 2.1 0 2.1-0.1 2.2-0.2 2.1 0 2.1-0.4 2.1 0.1 2.2-0.3 2.1 0.1 2.1 0.1 2.2-0.8 2.1 0.3 2.1-0.6 2.1-0.1 2.2 0.4 2.1-0.4 2.1-0.2 2.1 0 2.2 0 2.1-0.6 2.1 0.2 2.2-0.2 2.1 0.2 2.1-0.3 2.1 0.2 2.2-0.4 2.1-0.4 2.1-0.1 2.2 0 2.1 0 2.1-0.7 2.1-0.3 2.2 0.1 2.1 0.1M30.3 180.7l2.1 0.1 2.2-1 2.1 0.6 2.1 0.1 2.1-0.3 2.2-0.2 2.1 0.2 2.1-0.4 2.2 0.3 2.1-0.6 2.1-0.6 2.1-0.7 2.2 0.2 2.1-0.1 2.1-0.5 2.2-0.1 2.1-0.3 2.1 0.2 2.1 0.3 2.2-0.2 2.1 0 2.1-0.1 2.1-0.1 2.2 0.1 2.1 0.2 2.1-0.5 2.2 0 2.1-0.6 2.1-0.2 2.1 0.1 2.2-0.5 2.1-0.2 2.1 0 2.2-0.2 2.1 0 2.1-0.1 2.1-0.3 2.2 0 2.1-0.2 2.1-0.2 2.2 0.2 2.1-0.2 2.1-0.1 2.1-0.2 2.2-0.3 2.1 0.1 2.1-0.2 2.2-0.6 2.1 0.1 2.1-0.3 2.1 0.6 2.2-0.4 2.1-0.1 2.1-0.2 2.1 0.1 2.2-0.5 2.1 0.2 2.1-0.2 2.2-0.2 2.1-0.4 2.1 0.2 2.1-0.8 2.2 0 2.1-0.1 2.1-0.1 2.2-0.4 2.1-0.3 2.1-0.1 2.1 0 2.2-0.3 2.1 0.1M30.3 181.1l2.1 0 2.2-1.4 2.1 0.5 2.1 0.7 2.1-1 2.2 0.3 2.1-1 2.1 1 2.2 0.3 2.1-1 2.1 0 2.1-0.1 2.2 0.4 2.1-1.1 2.1-0.6 2.2 0.9 2.1-1.2 2.1 0.4 2.1-1.1 2.2 0.4 2.1 0.1 2.1-0.5 2.1 0 2.2 0.2 2.1-0.4 2.1 0.1 2.2 0.2 2.1-0.9 2.1 0.3 2.1-0.1 2.2-0.3 2.1 0.1 2.1-0.2 2.2-0.2 2.1-0.2 2.1-0.1 2.1-0.3 2.2 0.1 2.1-0.3 2.1-0.2 2.2 0.1 2.1-0.3 2.1 0.1 2.1-0.6 2.2 0 2.1 0 2.1 0.2 2.2-0.5 2.1 0.2 2.1-0.6 2.1 0.2 2.2 0.1 2.1-0.7 2.1-0.1 2.1 0.3 2.2-0.7 2.1 0.3 2.1-0.2 2.2-0.4 2.1 0.1 2.1-0.3 2.1-0.2 2.2-0.9 2.1-0.1 2.1 0.5 2.2-0.8 2.1 0.5 2.1-0.3 2.1-0.3 2.2 0.1 2.1-1M30.3 181.1l2.1-0.1 2.2-0.2 2.1-0.3 2.1-0.5 2.1 0.5 2.2-0.6 2.1 0.4 2.1-0.3 2.2-0.8 2.1 0.1 2.1 0.4 2.1-0.8 2.2 0.1 2.1 0 2.1-0.5 2.2 0.1 2.1 0.2 2.1-0.2 2.1-1 2.2 0.7 2.1-0.6 2.1-0.3 2.1-0.2 2.2 0.3 2.1-0.4 2.1-0.3 2.2-0.3 2.1 0.1 2.1 0 2.1-0.5 2.2-0.1 2.1 0 2.1 0 2.2-0.2 2.1-0.1 2.1-0.2 2.1 0.1 2.2-0.3 2.1-0.1 2.1 0 2.2-0.3 2.1-0.2 2.1 0 2.1-0.4 2.2 0.2 2.1-0.5 2.1-0.3 2.2-0.1 2.1-0.3 2.1 0.5 2.1 0 2.2-0.5 2.1-0.1 2.1-0.6 2.1 0.4 2.2 0.4 2.1-0.6 2.1 0.4 2.2 0.1 2.1-1.7 2.1 0.6 2.1-0.4 2.2-0.2 2.1-0.7 2.1 0.3 2.2-0.6 2.1 0.8 2.1 0 2.1-1.2 2.2-0.1 2.1 0.3M30.3 181.6l2.1-0.4 2.2 0.1 2.1-0.3 2.1 0.5 2.1-0.9 2.2-1 2.1 0.8 2.1-0.5 2.2-0.7 2.1-0.3 2.1-0.1 2.1 0.6 2.2-0.9 2.1 0.4 2.1-0.2 2.2-0.6 2.1 0.2 2.1-0.4 2.1-0.8 2.2 0.6 2.1-0.1 2.1 0.3 2.1-0.2 2.2-0.1 2.1-0.3 2.1 0 2.2-0.3 2.1-0.3 2.1 0 2.1-0.1 2.2-0.2 2.1-0.4 2.1-0.1 2.2-0.1 2.1-0.1 2.1-0.1 2.1-0.2 2.2 0.1 2.1-0.7 2.1 0.1 2.2 0.1 2.1 0 2.1-0.4 2.1 0.3 2.2-0.4 2.1-0.5 2.1 0 2.2 0 2.1-0.6 2.1 0.4 2.1-0.5 2.2 0.1 2.1-0.1 2.1-0.5 2.1 0.4 2.2-1.1 2.1 0.8 2.1-1 2.2 1 2.1-0.8 2.1 0.6 2.1-0.1 2.2-0.7 2.1-0.4 2.1 0.5 2.2-1.2 2.1 0.6 2.1-0.6 2.1-0.4 2.2-0.3 2.1 0.8M30.3 181.6l2.1 0.1 2.2 0.2 2.1-0.5 2.1-1 2.1 0.6 2.2-0.1 2.1-1 2.1 0.2 2.2 0 2.1 0 2.1 0.2 2.1-0.4 2.2-0.5 2.1-0.3 2.1-0.4 2.2-0.2 2.1-0.1 2.1-0.2 2.1 0.1 2.2 0.2 2.1-0.7 2.1 0 2.1-0.2 2.2-0.3 2.1 0.1 2.1-0.2 2.2-0.3 2.1-0.2 2.1 0 2.1-0.3 2.2-0.1 2.1 0 2.1-0.3 2.2-0.3 2.1 0 2.1-0.2 2.1-0.3 2.2-0.2 2.1 0.2 2.1-0.7 2.2 0.2 2.1-0.1 2.1-0.2 2.1-0.3 2.2 0 2.1 0 2.1-0.5 2.2 0.4 2.1 0 2.1-0.5 2.1-0.1 2.2-0.2 2.1 0.5 2.1-0.8 2.1 0.1 2.2-0.7 2.1 0.9 2.1-0.8 2.2 0 2.1 0.2 2.1-0.5 2.1-1 2.2 0.4 2.1-0.1 2.1-0.8 2.2-0.2 2.1-0.1 2.1 0.7 2.1-0.4 2.2-0.5 2.1 0.7M30.3 182.5l2.1-0.5 2.2-0.5 2.1 0.2 2.1 0 2.1-0.5 2.2 0.2 2.1-0.6 2.1-0.1 2.2-1.5 2.1 0.4 2.1 0.4 2.1-0.3 2.2-0.4 2.1 0.1 2.1-0.5 2.2-0.2 2.1-0.7 2.1 0.3 2.1-0.1 2.2 0 2.1-0.2 2.1-0.4 2.1-0.1 2.2-0.5 2.1 0.3 2.1-0.5 2.2 0 2.1-0.1 2.1 0.2 2.1-0.3 2.2-0.5 2.1-0.2 2.1 0 2.2-0.1 2.1-0.1 2.1-0.1 2.1-0.1 2.2-0.4 2.1 0 2.1-0.1 2.2-0.1 2.1-0.3 2.1-0.1 2.1 0.1 2.2-0.7 2.1 0.2 2.1-0.1 2.2-0.5 2.1-0.1 2.1 0.2 2.1-0.4 2.2 0.3 2.1-0.4 2.1 0.4 2.1-1.3 2.2 0.8 2.1-1 2.1 0.4 2.2-0.1 2.1-0.4 2.1-0.2 2.1-0.2 2.2-0.5 2.1 0.4 2.1-0.3 2.2 0.5 2.1-0.6 2.1 0.1 2.1 0.1 2.2-0.4 2.1-0.2M30.3 182l2.1-1.1 2.2 1.5 2.1-1 2.1-0.8 2.1 0.7 2.2-1.8 2.1 1.8 2.1-1.7 2.2-0.2 2.1 0.1 2.1 0.2 2.1-0.3 2.2 0.3 2.1-0.8 2.1 0.5 2.2-0.4 2.1-0.6 2.1 0.5 2.1-0.4 2.2-0.3 2.1 0.2 2.1-0.9 2.1 0.1 2.2 0.2 2.1-0.5 2.1 0 2.2-0.3 2.1-0.3 2.1 0 2.1-0.5 2.2 0.2 2.1-0.4 2.1 0 2.2-0.2 2.1-0.1 2.1-0.1 2.1-0.1 2.2-0.3 2.1-0.2 2.1-0.3 2.2-0.1 2.1 0.1 2.1-0.1 2.1-0.2 2.2-0.1 2.1-0.5 2.1-0.1 2.2 0.3 2.1-0.3 2.1-0.7 2.1 0 2.2 0 2.1-0.7 2.1 0.3 2.1-0.2 2.2-0.1 2.1 0.3 2.1-1.1 2.2 0.6 2.1-0.3 2.1 0 2.1-0.6 2.2 0.3 2.1-0.1 2.1 0.6 2.2-0.7 2.1 0.4 2.1-0.8 2.1-0.2 2.2 0 2.1-1.1M30.3 182l2.1-1.4 2.2 0 2.1-0.4 2.1 0.1 2.1 0.6 2.2-0.1 2.1-1.2 2.1 0.5 2.2 0.6 2.1-0.8 2.1 0.2 2.1 0.3 2.2-0.1 2.1-0.4 2.1-0.9 2.2-0.1 2.1-0.2 2.1-0.4 2.1-0.3 2.2 0.6 2.1-0.6 2.1-0.1 2.1-0.1 2.2-0.3 2.1-0.3 2.1-0.1 2.2 0 2.1-0.4 2.1-0.6 2.1 0.4 2.2-0.1 2.1-0.4 2.1-0.1 2.2-0.1 2.1-0.1 2.1-0.2 2.1 0 2.2 0 2.1-0.2 2.1-0.2 2.2-0.2 2.1-0.2 2.1 0 2.1-0.4 2.2 0 2.1-0.4 2.1 0.4 2.2-0.2 2.1-0.8 2.1 0.4 2.1-0.4 2.2-0.2 2.1-0.1 2.1-0.1 2.1-0.8 2.2 1.1 2.1-1.3 2.1-0.7 2.2 0.6 2.1-0.2 2.1-0.4 2.1-0.5 2.2 1.1 2.1-0.5 2.1 0 2.2-0.3 2.1 0.2 2.1-0.3 2.1 0.3 2.2-0.4 2.1 0M30.3 182.5l2.1-1.2 2.2 0.6 2.1-0.6 2.1 0 2.1-0.3 2.2-0.2 2.1 0.1 2.1-0.5 2.2-1 2.1 1.3 2.1-1.1 2.1-0.3 2.2 0.3 2.1-0.1 2.1-1.4 2.2 0.7 2.1-0.9 2.1 0.4 2.1 0 2.2-0.3 2.1-0.2 2.1-0.3 2.1 0 2.2 0 2.1-0.2 2.1-0.5 2.2 0 2.1 0.2 2.1-0.3 2.1-0.3 2.2 0 2.1-0.2 2.1-0.1 2.2-0.2 2.1-0.2 2.1-0.2 2.1-0.1 2.2-0.4 2.1 0.2 2.1-0.7 2.2 0.2 2.1-0.1 2.1 0 2.1 0.4 2.2-0.8 2.1-0.3 2.1-0.7 2.2 0.6 2.1-1.1 2.1 0.4 2.1-0.4 2.2 0.8 2.1-1 2.1 0.1 2.1-0.4 2.2 0.1 2.1 0.3 2.1-0.8 2.2 0 2.1-0.1 2.1-0.3 2.1-0.2 2.2 0.2 2.1 0.4 2.1-0.2 2.2-1.4 2.1 0.1 2.1 0 2.1 0 2.2-0.4 2.1-0.1M30.3 182.6l2.1-0.9 2.2-0.2 2.1 0.2 2.1-0.4 2.1 0 2.2 0.1 2.1-1.2 2.1 0.2 2.2-1 2.1 1 2.1-0.4 2.1-0.6 2.2 0.2 2.1 0.2 2.1-0.3 2.2-0.5 2.1-0.3 2.1-0.1 2.1-0.5 2.2-0.2 2.1 0 2.1-0.1 2.1-0.1 2.2-0.4 2.1-0.2 2.1 0 2.2-0.2 2.1-0.1 2.1 0.1 2.1-0.3 2.2-0.4 2.1-0.1 2.1-0.3 2.2 0 2.1-0.1 2.1-0.3 2.1-0.2 2.2 0.1 2.1-0.3 2.1-0.2 2.2 0 2.1-0.4 2.1-0.3 2.1 0.2 2.2-0.7 2.1 0.3 2.1-0.1 2.2-0.2 2.1 0 2.1-0.4 2.1 0 2.2-0.7 2.1 0.2 2.1-0.1 2.1 0.2 2.2 0.3 2.1-0.6 2.1 0.1 2.2-0.7 2.1 0.2 2.1-0.7 2.1 0.2 2.2-0.2 2.1 0.1 2.1-0.2 2.2-0.4 2.1-0.3 2.1 0.5 2.1-0.7 2.2-1.1 2.1 0.9M30.3 181.5l2.1-0.5 2.2 1.3 2.1-1.1 2.1 0 2.1-0.2 2.2-0.2 2.1-0.1 2.1-0.8 2.2 0.1 2.1-0.1 2.1-0.5 2.1-0.1 2.2 0 2.1-0.2 2.1-0.7 2.2 0.3 2.1-0.1 2.1 0.1 2.1-0.4 2.2 0 2.1-0.6 2.1-0.2 2.1 0.5 2.2-0.7 2.1-0.3 2.1 0 2.2 0.1 2.1-0.5 2.1 0.2 2.1-0.1 2.2-0.2 2.1-0.3 2.1-0.3 2.2-0.1 2.1-0.1 2.1-0.1 2.1-0.1 2.2-0.2 2.1-0.2 2.1 0.1 2.2-0.5 2.1-0.2 2.1 0 2.1-0.3 2.2 0.2 2.1 0 2.1-0.4 2.2-0.6 2.1-0.2 2.1 0.2 2.1-0.7 2.2 0.2 2.1-0.7 2.1 0.1 2.1 0.2 2.2-0.5 2.1 0.5 2.1 0.1 2.2 0.1 2.1-0.6 2.1 0 2.1-0.2 2.2-0.1 2.1-1 2.1 0.4 2.2-0.3 2.1-1.1 2.1-0.4 2.1 0.2 2.2 0.7 2.1-0.6M30.3 182l2.1 0.3 2.2-0.8 2.1 0.4 2.1 0 2.1-0.4 2.2-0.4 2.1-0.1 2.1-1.1 2.2-0.2 2.1 0.2 2.1 0.3 2.1-0.5 2.2 0 2.1-0.9 2.1 0.1 2.2-0.2 2.1 0 2.1 0.3 2.1-0.6 2.2-0.1 2.1-0.6 2.1-0.1 2.1 0 2.2-0.2 2.1-0.6 2.1 0.5 2.2-0.2 2.1-0.2 2.1-0.1 2.1-0.2 2.2-0.3 2.1-0.3 2.1 0.2 2.2-0.3 2.1-0.2 2.1-0.1 2.1-0.2 2.2-0.1 2.1-0.4 2.1 0.1 2.2-0.3 2.1-0.1 2.1-0.2 2.1-0.1 2.2-0.4 2.1 0.1 2.1-0.2 2.2-0.1 2.1 0.1 2.1-0.2 2.1-0.1 2.2-0.5 2.1 0.1 2.1-0.1 2.1-0.6 2.2-0.3 2.1 0.6 2.1-1.3 2.2 0.4 2.1 0 2.1-0.6 2.1 0.3 2.2 0.2 2.1-1.2 2.1 1.1 2.2-0.5 2.1-0.7 2.1 0.6 2.1-0.7 2.2-0.5 2.1-1.2M30.3 182.3l2.1-0.3 2.2-0.5 2.1-0.1 2.1-0.1 2.1-0.2 2.2 0.2 2.1-0.7 2.1-0.5 2.2 0 2.1-0.4 2.1 0.1 2.1-0.9 2.2-0.3 2.1 0.8 2.1-0.4 2.2 0.1 2.1-0.6 2.1 0.1 2.1-0.1 2.2-0.2 2.1-0.3 2.1 0 2.1-0.7 2.2 0.1 2.1-0.4 2.1-0.1 2.2-0.3 2.1 0.1 2.1-0.3 2.1 0.3 2.2-0.4 2.1 0 2.1-0.3 2.2-0.1 2.1-0.2 2.1 0 2.1-0.3 2.2 0 2.1-0.6 2.1 0.3 2.2-0.3 2.1 0 2.1-0.8 2.1 0.5 2.2-0.3 2.1 0.1 2.1 0.2 2.2-0.4 2.1-0.4 2.1 0 2.1-0.6 2.2 0.1 2.1-0.4 2.1-0.2 2.1-0.5 2.2-0.8 2.1 0.3 2.1 0 2.2 0.3 2.1 0 2.1-0.7 2.1 1 2.2-0.1 2.1-0.5 2.1-0.1 2.2-1.2 2.1 1.4 2.1-1.6 2.1-0.6 2.2 0.4 2.1-0.6M30.3 182.5l2.1 0.5 2.2-1.8 2.1 0.4 2.1-0.8 2.1 0.2 2.2-0.1 2.1-0.1 2.1-0.9 2.2-0.1 2.1 1.2 2.1-0.6 2.1-1.1 2.2 0.5 2.1 0.1 2.1-0.7 2.2-0.2 2.1-0.3 2.1-0.2 2.1-0.3 2.2-0.2 2.1-0.4 2.1 0.1 2.1-0.2 2.2-0.2 2.1-0.4 2.1 0.1 2.2 0 2.1-0.2 2.1-0.1 2.1-0.3 2.2-0.1 2.1-0.3 2.1-0.1 2.2 0 2.1-0.2 2.1-0.2 2.1-0.2 2.2-0.1 2.1 0.1 2.1-0.1 2.2-0.4 2.1-0.2 2.1-0.2 2.1 0.3 2.2-0.7 2.1 0.2 2.1-0.5 2.2-0.2 2.1 0 2.1-0.3 2.1 0.3 2.2-0.5 2.1 0.1 2.1-0.8 2.1 0.1 2.2-0.3 2.1 0.2 2.1 0.3 2.2-0.4 2.1 0.2 2.1-0.6 2.1-0.2 2.2 0.2 2.1-0.7 2.1-0.4 2.2-0.2 2.1-0.8 2.1-0.5 2.1 0.7 2.2-0.1 2.1 0.7M30.3 182.7l2.1-0.1 2.2-1.2 2.1 0.6 2.1-0.8 2.1-1.2 2.2 0.5 2.1-0.3 2.1 0 2.2 0.3 2.1-0.6 2.1-0.3 2.1 0.3 2.2-0.6 2.1-0.5 2.1-0.1 2.2 0.6 2.1-0.4 2.1 0 2.1-1 2.2 0 2.1-0.2 2.1 0.3 2.1-0.1 2.2-0.4 2.1-0.2 2.1 0.1 2.2-0.4 2.1-0.2 2.1-0.1 2.1 0 2.2 0 2.1-0.5 2.1-0.2 2.2-0.1 2.1-0.2 2.1-0.1 2.1-0.3 2.2-0.1 2.1-0.2 2.1 0 2.2-0.1 2.1-0.3 2.1 0.1 2.1 0 2.2-0.3 2.1-0.5 2.1 0.1 2.2-0.5 2.1 0.3 2.1-0.2 2.1 0.1 2.2-0.4 2.1-0.9 2.1 0.1 2.1-0.4 2.2-0.2 2.1 0 2.1-0.1 2.2-0.3 2.1-0.4 2.1-0.1 2.1-0.1 2.2-0.1 2.1 0.2 2.1-0.4 2.2 0 2.1-1.1 2.1 1.1 2.1-1 2.2-1.4 2.1 1M30.3 182.5l2.1-1.9 2.2 1.1 2.1-0.1 2.1-0.3 2.1-0.5 2.2-0.3 2.1-0.3 2.1 0.1 2.2 0.5 2.1-0.9 2.1 0.2 2.1-0.2 2.2 0.3 2.1-0.5 2.1-0.1 2.2-0.4 2.1 0.3 2.1-0.7 2.1-0.2 2.2 0.1 2.1-0.3 2.1-0.2 2.1-0.7 2.2 0.6 2.1-0.7 2.1 0.1 2.2-0.5 2.1-0.4 2.1 0.1 2.1-0.3 2.2 0 2.1-0.5 2.1 0 2.2-0.1 2.1-0.1 2.1-0.1 2.1-0.3 2.2 0 2.1-0.2 2.1-0.2 2.2 0.2 2.1-0.6 2.1 0.1 2.1-0.3 2.2 0.1 2.1-0.4 2.1 0.1 2.2-0.6 2.1-0.3 2.1-0.2 2.1-0.1 2.2-0.3 2.1 0.9 2.1-1.4 2.1 0.1 2.2-0.3 2.1 0 2.1 0.2 2.2-0.5 2.1-0.5 2.1-0.5 2.1 0.7 2.2 0 2.1-1 2.1 0.8 2.2-1.3 2.1 0.7 2.1 0.3 2.1-1 2.2-0.5 2.1 1.2M30.3 182.5l2.1-0.6 2.2 0 2.1 0.3 2.1 0.2 2.1-0.2 2.2-0.4 2.1-0.2 2.1-0.6 2.2 0.5 2.1-1.4 2.1-0.3 2.1-1.2 2.2 0.4 2.1 0.2 2.1-0.5 2.2 0.5 2.1-0.4 2.1 0.4 2.1-1.1 2.2 0.2 2.1 0.4 2.1-0.5 2.1-0.4 2.2-0.1 2.1-0.1 2.1 0 2.2-0.3 2.1-0.4 2.1-0.4 2.1 0.1 2.2-0.1 2.1-0.5 2.1 0.1 2.2-0.4 2.1 0 2.1-0.3 2.1-0.3 2.2 0 2.1-0.2 2.1 0.2 2.2-0.2 2.1-0.4 2.1-0.3 2.1-0.1 2.2-0.4 2.1 0.2 2.1-0.1 2.2-0.5 2.1 0.1 2.1-0.3 2.1 0.1 2.2-0.8 2.1 0.4 2.1-0.6 2.1 0.4 2.2-0.9 2.1 0.6 2.1-0.8 2.2 0.7 2.1-0.5 2.1-0.8 2.1 0.6 2.2-0.6 2.1 0 2.1 0.5 2.2-1.4 2.1-0.3 2.1 0.4 2.1-1 2.2 0.4 2.1-0.1M30.3 182.7l2.1 1 2.2-0.5 2.1-1.3 2.1 0.1 2.1-0.6 2.2-0.6 2.1 0.3 2.1 0 2.2 0.4 2.1-1.3 2.1 0.2 2.1-0.7 2.2-0.1 2.1 0.3 2.1-1.2 2.2 0.1 2.1-0.1 2.1 0.4 2.1-0.4 2.2-0.1 2.1-0.3 2.1 0 2.1-0.6 2.2-0.1 2.1-0.3 2.1 0 2.2-0.5 2.1 0 2.1 0.4 2.1-0.6 2.2-0.2 2.1-0.3 2.1 0 2.2-0.2 2.1-0.2 2.1-0.2 2.1-0.1 2.2-0.1 2.1-0.1 2.1-0.4 2.2 0.1 2.1 0.1 2.1-0.7 2.1 0.2 2.2-0.5 2.1-0.2 2.1-0.4 2.2-0.2 2.1 0.3 2.1-0.4 2.1 0.1 2.2-1.1 2.1 0.2 2.1-0.6 2.1 0.4 2.2 0.4 2.1-1.4 2.1 0.4 2.2-0.1 2.1-0.1 2.1-0.3 2.1-0.1 2.2 0.8 2.1-1.2 2.1 0.6 2.2-0.2 2.1-1.1 2.1 0.1 2.1 0.3 2.2 0.4 2.1-1.2M30.3 182.2l2.1-0.3 2.2 0.6 2.1-0.6 2.1-0.2 2.1 0.4 2.2-0.3 2.1-1 2.1 0.6 2.2-0.5 2.1 0.2 2.1-0.5 2.1 0.3 2.2-1 2.1-0.8 2.1-0.6 2.2 0.1 2.1-0.1 2.1 0 2.1 0 2.2-0.2 2.1-0.4 2.1 0.2 2.1-0.6 2.2 0.3 2.1 0 2.1-0.4 2.2 0 2.1-0.3 2.1-0.6 2.1 0 2.2-0.2 2.1-0.3 2.1-0.1 2.2 0 2.1-0.2 2.1-0.2 2.1-0.1 2.2-0.2 2.1 0.1 2.1-0.3 2.2-0.3 2.1-0.3 2.1 0 2.1-0.3 2.2-0.4 2.1-0.3 2.1 0 2.2-0.3 2.1 0.4 2.1-0.2 2.1-0.3 2.2 0.1 2.1-0.2 2.1-0.9 2.1 0.4 2.2 0 2.1-0.8 2.1-0.7 2.2 0.4 2.1-0.7 2.1 0.5 2.1-0.2 2.2 0 2.1-0.4 2.1-0.9 2.2 1.1 2.1-1.4 2.1 0.9 2.1-0.6 2.2-0.7 2.1-0.2M30.3 182.8l2.1 0.4 2.2-0.5 2.1 0.1 2.1-1.2 2.1 0.4 2.2-0.6 2.1 0.3 2.1-0.3 2.2-0.9 2.1 0.7 2.1 0.1 2.1-1.1 2.2 0.3 2.1-0.5 2.1-0.7 2.2 0.4 2.1-0.8 2.1 0.2 2.1-0.9 2.2-0.2 2.1 0.3 2.1-0.3 2.1 0 2.2-0.5 2.1-0.5 2.1 0.5 2.2-0.8 2.1 0.3 2.1-0.2 2.1-0.1 2.2-0.7 2.1 0.1 2.1-0.1 2.2-0.1 2.1-0.2 2.1 0 2.1-0.4 2.2-0.4 2.1 0.2 2.1-0.2 2.2-0.3 2.1 0.1 2.1-0.3 2.1-0.3 2.2 0 2.1-0.2 2.1 0.1 2.2-0.3 2.1-0.1 2.1-0.6 2.1 0 2.2 0.2 2.1 0.5 2.1-1.3 2.1-0.2 2.2 0.3 2.1 0.2 2.1-0.6 2.2-1 2.1 0.5 2.1-0.5 2.1-0.5 2.2-0.7 2.1 0.3 2.1-0.2 2.2-0.1 2.1-1.1 2.1 0 2.1 0.3 2.2 0.3 2.1-0.4M30.3 182.6l2.1 0.4 2.2-0.4 2.1-1.4 2.1 1.3 2.1-0.5 2.2-0.8 2.1 0.2 2.1 0.1 2.2-0.1 2.1-0.9 2.1-0.5 2.1-0.4 2.2 0.2 2.1-0.6 2.1 0.5 2.2-0.7 2.1 0 2.1-0.5 2.1-0.4 2.2-0.3 2.1 0.4 2.1-0.8 2.1 0.3 2.2-0.1 2.1-0.3 2.1 0.1 2.2-0.4 2.1-0.2 2.1-0.1 2.1-0.2 2.2 0 2.1-0.3 2.1 0 2.2-0.3 2.1-0.2 2.1-0.1 2.1-0.2 2.2-0.1 2.1 0.1 2.1-0.2 2.2-0.3 2.1-0.4 2.1-0.1 2.1-0.4 2.2-0.3 2.1 0 2.1-0.1 2.2 0.1 2.1-0.2 2.1-0.3 2.1-0.5 2.2-0.1 2.1-0.1 2.1-0.1 2.1-0.4 2.2 0 2.1-0.2 2.1-0.1 2.2 0.1 2.1 0.1 2.1-0.8 2.1-0.1 2.2 0.1 2.1-0.1 2.1-1.4 2.2 1.1 2.1-0.5 2.1-0.5 2.1 0.3 2.2-0.8 2.1-1.1M30.3 183.9l2.1-0.6 2.2-0.8 2.1-0.2 2.1-0.5 2.1 0.6 2.2-1.7 2.1-0.8 2.1 0.1 2.2 0.4 2.1-0.1 2.1-0.6 2.1 0.4 2.2-0.8 2.1 0.4 2.1-0.6 2.2-0.2 2.1 0.9 2.1-0.8 2.1 0.1 2.2 0 2.1-0.5 2.1-0.3 2.1-0.6 2.2 0.4 2.1-0.8 2.1-0.5 2.2 0.1 2.1-0.2 2.1 0 2.1 0 2.2-0.5 2.1-0.1 2.1-0.2 2.2-0.2 2.1 0 2.1-0.2 2.1-0.3 2.2 0.2 2.1-0.2 2.1-0.2 2.2-0.1 2.1-0.5 2.1 0.1 2.1-0.7 2.2-0.1 2.1 0 2.1 0.1 2.2-0.5 2.1-0.2 2.1 0.3 2.1-0.6 2.2-0.3 2.1 0 2.1-0.7 2.1 0 2.2 0.5 2.1-0.6 2.1 0.2 2.2-0.7 2.1 0.3 2.1-0.9 2.1 0 2.2-0.4 2.1 0.2 2.1 0.4 2.2-1.6 2.1 0.7 2.1-0.8 2.1 0.2 2.2-0.3 2.1-0.7M30.3 183.8l2.1-0.5 2.2-0.9 2.1 1 2.1-1.2 2.1-0.1 2.2-1.2 2.1 0.3 2.1-0.7 2.2 0.1 2.1-0.7 2.1-0.3 2.1 0.3 2.2-0.3 2.1 0.3 2.1-0.7 2.2-0.4 2.1 0.3 2.1-0.7 2.1 0.7 2.2-0.3 2.1-0.3 2.1-0.4 2.1-0.3 2.2-0.1 2.1-0.2 2.1-0.3 2.2 0.1 2.1 0 2.1-0.2 2.1-0.8 2.2 0.6 2.1-0.6 2.1-0.4 2.2 0 2.1-0.2 2.1-0.2 2.1-0.2 2.2-0.3 2.1 0.1 2.1-0.5 2.2-0.1 2.1-0.4 2.1-0.2 2.1 0.2 2.2 0.1 2.1-0.6 2.1-0.5 2.2 0.2 2.1-0.1 2.1-0.8 2.1 0.9 2.2-0.8 2.1 0.2 2.1-0.4 2.1-0.2 2.2-0.6 2.1 0.7 2.1-0.3 2.2 0.2 2.1-0.9 2.1 0.3 2.1-0.5 2.2 0.4 2.1-0.5 2.1-0.8 2.2 0.2 2.1-0.6 2.1-0.3 2.1 0 2.2 0.2 2.1-1.5M30.3 182.2l2.1 0 2.2 0.1 2.1-0.3 2.1-0.4 2.1 0.3 2.2-0.5 2.1 0 2.1 0.7 2.2-0.9 2.1-0.9 2.1 0.5 2.1-0.4 2.2-0.1 2.1-0.3 2.1-0.8 2.2 0.2 2.1 0 2.1 0.4 2.1-1.1 2.2 0.2 2.1-0.3 2.1-0.9 2.1-0.1 2.2 0.5 2.1-0.9 2.1-0.1 2.2 0.1 2.1-0.4 2.1 0.2 2.1-0.2 2.2-0.2 2.1-0.2 2.1-0.4 2.2 0 2.1-0.3 2.1-0.1 2.1-0.2 2.2-0.1 2.1-0.4 2.1 0.1 2.2-0.1 2.1-0.3 2.1-0.3 2.1 0 2.2-0.4 2.1-0.6 2.1 0.4 2.2-0.4 2.1-0.6 2.1 0.4 2.1-0.1 2.2 0 2.1-0.7 2.1-0.1 2.1 0.1 2.2-0.2 2.1-0.6 2.1 0 2.2 0.6 2.1-0.7 2.1-0.2 2.1-0.5 2.2 0.1 2.1-0.1 2.1-0.3 2.2 0.3 2.1-1.1 2.1 0 2.1-0.7 2.2 0.4 2.1-0.5M30.3 183.1l2.1 0.4 2.2-0.9 2.1-0.3 2.1-0.8 2.1-0.1 2.2-0.1 2.1-0.6 2.1 0.1 2.2-0.3 2.1-0.3 2.1 0.1 2.1-0.1 2.2-0.4 2.1 0.1 2.1-0.5 2.2-0.4 2.1-0.1 2.1 0.2 2.1 0 2.2-0.6 2.1-0.1 2.1-0.6 2.1 0.2 2.2-0.2 2.1-0.4 2.1 0.1 2.2-0.3 2.1-0.5 2.1-0.2 2.1 0 2.2-0.1 2.1 0 2.1-0.4 2.2-0.1 2.1-0.2 2.1-0.1 2.1-0.3 2.2-0.1 2.1-0.3 2.1-0.4 2.2 0 2.1 0.3 2.1-0.3 2.1 0 2.2-0.4 2.1-0.5 2.1-0.1 2.2 0.1 2.1-0.4 2.1 0.2 2.1 0 2.2-0.1 2.1-0.4 2.1-0.9 2.1 0.8 2.2-1.1 2.1-0.2 2.1 0.3 2.2-0.2 2.1 0 2.1-0.5 2.1-0.5 2.2 0.1 2.1-0.7 2.1-0.3 2.2 0.1 2.1-0.3 2.1-0.1 2.1-0.4 2.2 0.4 2.1-0.9M30.3 183.8l2.1-0.8 2.2 0 2.1-0.5 2.1-0.5 2.1-0.4 2.2-0.4 2.1-0.1 2.1-0.2 2.2 0 2.1 0.2 2.1-0.8 2.1 0.4 2.2-0.2 2.1-1.1 2.1 0 2.2 0 2.1-0.5 2.1-0.2 2.1 0.4 2.2-0.6 2.1 0.2 2.1-0.6 2.1 0 2.2-0.7 2.1 0.1 2.1 0.1 2.2-0.4 2.1 0 2.1-0.4 2.1-0.3 2.2-0.2 2.1 0.2 2.1-0.4 2.2-0.3 2.1-0.1 2.1-0.3 2.1 0.1 2.2-0.4 2.1 0 2.1-0.3 2.2-0.2 2.1-0.2 2.1 0.1 2.1-0.3 2.2 0.1 2.1-0.1 2.1-0.7 2.2 0 2.1 0.3 2.1-0.4 2.1-0.5 2.2-0.6 2.1-0.1 2.1-0.1 2.1 0.7 2.2-0.7 2.1-0.4 2.1-0.2 2.2-0.3 2.1 0 2.1-1 2.1-0.1 2.2 0.3 2.1 0.1 2.1-1.5 2.2 0.8 2.1-0.9 2.1-0.6 2.1 1 2.2-0.7 2.1 0.1M30.3 183.8l2.1-0.3 2.2-1.5 2.1 1 2.1-0.5 2.1-0.5 2.2 0.1 2.1 0.1 2.1-1.6 2.2 0.4 2.1-0.4 2.1-0.3 2.1 0 2.2-0.3 2.1-0.6 2.1-1 2.2 0.4 2.1-0.2 2.1 0.6 2.1-0.7 2.2 0.2 2.1-0.7 2.1 0.1 2.1-0.2 2.2-0.1 2.1 0 2.1 0 2.2-0.6 2.1 0.2 2.1-0.3 2.1-0.3 2.2-0.2 2.1-0.3 2.1-0.3 2.2-0.1 2.1-0.2 2.1-0.2 2.1-0.2 2.2 0.1 2.1-0.4 2.1 0 2.2-0.1 2.1-0.5 2.1-0.1 2.1-0.4 2.2-0.3 2.1 0.6 2.1-0.7 2.2-0.8 2.1 0.1 2.1-0.3 2.1 0.2 2.2 0.3 2.1-0.2 2.1-0.7 2.1-0.3 2.2 0.4 2.1-0.3 2.1-0.3 2.2 0.5 2.1-0.7 2.1-1 2.1-0.4 2.2 0.6 2.1-1 2.1 0.7 2.2-0.2 2.1 0.3 2.1-1.7 2.1 0.3 2.2-1.5 2.1 0.6M30.3 183.5l2.1-0.3 2.2 0.5 2.1-0.6 2.1-0.4 2.1-0.6 2.2 0.1 2.1-1 2.1 0.5 2.2-0.2 2.1-0.3 2.1 0.4 2.1-1 2.2-0.9 2.1 0 2.1 0 2.2-0.6 2.1 0.5 2.1-0.8 2.1-0.4 2.2-0.3 2.1 0.3 2.1-0.7 2.1-0.4 2.2 0.4 2.1-0.4 2.1 0.4 2.2-0.1 2.1-0.7 2.1-0.1 2.1-0.2 2.2 0 2.1-0.3 2.1-0.3 2.2-0.2 2.1-0.1 2.1 0 2.1-0.5 2.2-0.1 2.1-0.2 2.1-0.1 2.2-0.6 2.1 0.2 2.1-0.3 2.1 0.3 2.2-0.5 2.1-0.2 2.1-0.3 2.2-0.3 2.1 0.1 2.1-0.9 2.1 0.7 2.2-0.4 2.1-0.3 2.1 0.3 2.1-0.7 2.2-0.2 2.1 0.2 2.1-1 2.2 0.6 2.1-0.3 2.1 0.3 2.1 0.1 2.2-0.6 2.1-0.3 2.1-0.2 2.2-0.7 2.1 1.1 2.1-0.8 2.1 0.1 2.2-1.7 2.1 0.7M30.3 183.1l2.1 0.1 2.2-0.3 2.1-0.5 2.1 0.4 2.1-0.4 2.2-0.7 2.1-0.2 2.1 0 2.2-0.5 2.1-0.1 2.1-0.7 2.1-0.3 2.2 0.1 2.1-0.8 2.1 1 2.2-0.7 2.1-0.8 2.1 0.4 2.1 0.2 2.2-1.2 2.1 0 2.1 0.2 2.1-0.8 2.2 0.3 2.1-0.1 2.1-0.5 2.2-0.1 2.1 0 2.1-0.3 2.1 0 2.2-0.4 2.1-0.1 2.1-0.3 2.2-0.1 2.1-0.2 2.1-0.1 2.1-0.2 2.2-0.4 2.1-0.1 2.1 0.1 2.2-0.5 2.1 0.2 2.1-0.6 2.1 0.1 2.2-0.4 2.1-0.1 2.1 0.1 2.2-0.4 2.1 0.2 2.1-0.5 2.1-0.6 2.2-1.2 2.1 0.8 2.1 0 2.1 0.1 2.2-1 2.1 0.8 2.1-0.5 2.2-0.5 2.1 0.5 2.1-1.2 2.1 0 2.2 0.6 2.1-0.2 2.1 0.1 2.2-0.2 2.1-1.1 2.1-0.4 2.1-0.3 2.2-0.3 2.1 0M30.3 184.1l2.1-1.1 2.2-0.4 2.1 1.1 2.1-0.8 2.1-0.5 2.2-0.7 2.1 0.6 2.1-0.9 2.2 0.2 2.1-1.3 2.1 0.6 2.1 0 2.2-0.1 2.1-0.7 2.1-0.1 2.2 0.3 2.1-0.7 2.1 0.3 2.1-0.5 2.2-0.1 2.1-0.3 2.1-0.5 2.1-0.2 2.2-0.7 2.1-0.3 2.1 0 2.2 0 2.1-0.6 2.1 0.4 2.1-0.2 2.2-0.7 2.1-0.1 2.1-0.2 2.2 0 2.1-0.2 2.1-0.2 2.1-0.2 2.2 0 2.1-0.2 2.1 0 2.2-0.2 2.1-0.6 2.1-0.1 2.1 0.2 2.2-0.2 2.1-0.3 2.1-0.5 2.2 0.3 2.1-0.5 2.1 0.4 2.1-0.4 2.2-0.7 2.1-0.3 2.1 0.5 2.1-0.4 2.2-0.7 2.1 0.2 2.1-0.3 2.2-0.6 2.1-0.2 2.1-0.7 2.1-0.2 2.2 0.2 2.1-0.5 2.1-0.4 2.2 0.3 2.1-0.5 2.1-1.1 2.1 1 2.2-1.4 2.1 0.2M30.3 184.5l2.1-1.5 2.2-0.1 2.1 0.4 2.1-0.7 2.1-0.2 2.2-0.6 2.1-0.2 2.1-1 2.2 1.5 2.1-1.3 2.1 0.1 2.1 0.2 2.2-0.4 2.1-0.2 2.1-0.5 2.2-0.6 2.1 0.5 2.1-1.3 2.1 0.3 2.2-0.8 2.1 0.1 2.1-0.4 2.1 0 2.2-0.3 2.1 0.2 2.1 0.1 2.2-0.5 2.1-0.2 2.1-0.4 2.1 0.5 2.2-0.6 2.1-0.4 2.1 0.1 2.2-0.4 2.1-0.2 2.1-0.3 2.1 0 2.2-0.5 2.1-0.2 2.1-0.1 2.2-0.1 2.1-0.2 2.1 0.1 2.1-0.3 2.2-0.4 2.1-0.1 2.1-0.7 2.2 0.4 2.1 0.4 2.1-0.9 2.1-0.4 2.2-0.3 2.1-0.1 2.1 0 2.1-1 2.2 0.6 2.1-0.7 2.1 0.1 2.2 0.1 2.1-1.2 2.1 1.3 2.1-0.9 2.2-0.7 2.1 0.1 2.1-0.7 2.2 0.2 2.1-0.1 2.1-1.3 2.1 1 2.2-0.2 2.1 0.3M30.3 185.5l2.1-0.9 2.2-0.3 2.1-0.1 2.1-0.7 2.1 0 2.2-0.3 2.1-1.5 2.1 0 2.2-0.6 2.1 0 2.1-0.7 2.1-0.3 2.2-0.4 2.1-0.6 2.1 0.7 2.2-0.3 2.1 0 2.1 0.9 2.1-0.9 2.2-0.6 2.1-0.4 2.1 0.1 2.1-0.7 2.2-0.3 2.1 0.2 2.1-0.7 2.2-0.3 2.1 0.1 2.1 0.1 2.1-0.6 2.2 0.1 2.1-0.2 2.1-0.2 2.2-0.2 2.1-0.2 2.1-0.3 2.1-0.2 2.2-0.2 2.1 0 2.1-0.3 2.2-0.4 2.1 0.1 2.1-0.9 2.1 0.5 2.2 0 2.1-0.6 2.1 0 2.2 0 2.1-0.1 2.1-0.4 2.1-0.3 2.2-0.3 2.1 0.1 2.1-0.6 2.1-0.5 2.2-0.3 2.1 1.1 2.1-1.1 2.2-0.3 2.1-0.4 2.1-0.4 2.1-0.5 2.2-0.1 2.1 0.2 2.1-0.3 2.2-1 2.1 0.7 2.1-0.6 2.1-0.9 2.2 0.3 2.1 0.9M30.3 183.9l2.1-0.2 2.2-0.1 2.1-0.4 2.1-0.3 2.1 0 2.2-0.2 2.1-0.4 2.1 0.1 2.2-0.1 2.1-1.3 2.1 0.3 2.1-0.3 2.2-0.3 2.1-0.4 2.1-0.3 2.2-0.3 2.1 0 2.1-0.8 2.1 0.3 2.2-0.8 2.1 0.7 2.1-0.5 2.1-0.8 2.2 0.1 2.1 0 2.1-0.5 2.2 0.1 2.1-0.4 2.1 0.3 2.1-0.6 2.2-0.2 2.1-0.3 2.1-0.3 2.2 0 2.1-0.3 2.1-0.1 2.1-0.1 2.2-0.1 2.1-0.7 2.1 0 2.2-0.1 2.1-0.2 2.1-0.2 2.1-0.7 2.2 0.1 2.1-0.7 2.1 0.4 2.2 0.5 2.1-1 2.1 0.2 2.1-0.2 2.2-0.7 2.1 0.4 2.1-0.8 2.1 0.1 2.2 0 2.1-0.8 2.1 0.1 2.2-1 2.1-0.2 2.1 0.1 2.1-0.4 2.2-0.1 2.1 0.2 2.1-0.7 2.2 0.3 2.1-0.6 2.1 0.5 2.1-0.8 2.2-0.5 2.1 0.2M30.3 183.6l2.1 0.1 2.2 0.4 2.1-1.2 2.1-0.7 2.1 0.3 2.2-0.8 2.1 0 2.1-0.2 2.2 0.1 2.1-0.1 2.1-0.3 2.1-0.4 2.2-0.4 2.1-0.2 2.1 0 2.2-0.4 2.1-0.4 2.1 0.4 2.1-0.5 2.2-0.2 2.1-0.3 2.1-0.2 2.1-0.2 2.2 0 2.1-0.6 2.1-0.1 2.2 0.2 2.1-0.6 2.1 0 2.1-0.8 2.2 0.1 2.1-0.2 2.1-0.3 2.2-0.2 2.1-0.2 2.1-0.3 2.1-0.2 2.2-0.3 2.1-0.3 2.1 0.2 2.2-0.7 2.1 0 2.1-0.3 2.1 0.2 2.2-0.6 2.1-0.1 2.1 0 2.2-1 2.1 0.2 2.1 0.1 2.1-0.4 2.2-0.4 2.1-0.3 2.1 0 2.1-0.3 2.2-0.2 2.1 0.8 2.1-0.3 2.2 0 2.1-0.5 2.1-0.7 2.1 0 2.2 0.4 2.1-0.6 2.1-0.9 2.2 0.3 2.1-0.6 2.1-0.5 2.1 0.6 2.2-1.6 2.1-0.1M30.3 184.7l2.1-1.1 2.2-0.2 2.1 0.6 2.1-0.4 2.1-1.4 2.2 0.6 2.1-1.1 2.1-0.4 2.2 0.6 2.1-0.4 2.1-0.4 2.1 0 2.2-0.2 2.1-0.5 2.1-0.7 2.2 0.2 2.1-0.3 2.1-0.2 2.1 0 2.2-1.1 2.1 0.9 2.1-0.7 2.1-0.6 2.2 0.3 2.1-0.7 2.1-0.3 2.2 0.2 2.1-0.4 2.1 0.1 2.1-0.5 2.2-0.2 2.1-0.2 2.1-0.3 2.2-0.1 2.1-0.1 2.1-0.3 2.1 0 2.2-0.4 2.1-0.2 2.1 0.1 2.2-0.7 2.1 0.1 2.1-0.3 2.1 0.1 2.2-0.4 2.1-0.2 2.1-0.1 2.2-0.2 2.1 0.4 2.1-1.2 2.1 0.6 2.2 0.2 2.1-0.6 2.1-0.2 2.1-0.7 2.2 0.4 2.1-0.7 2.1 0.3 2.2-1.4 2.1 0.4 2.1-0.8 2.1 0.9 2.2-0.9 2.1 0.4 2.1-1 2.2-0.3 2.1 0.7 2.1-0.5 2.1-0.3 2.2-0.2 2.1-0.7M30.3 184.7l2.1-0.2 2.2-0.1 2.1-1 2.1-0.2 2.1-0.3 2.2 0.1 2.1-1.2 2.1-0.2 2.2 0.6 2.1-0.5 2.1-0.8 2.1 0.4 2.2-0.7 2.1-0.2 2.1 0 2.2-0.5 2.1 0.2 2.1-0.6 2.1 0.2 2.2-1.5 2.1 0 2.1-0.2 2.1 0.1 2.2-0.4 2.1-0.3 2.1-0.1 2.2-0.2 2.1 0.2 2.1-0.5 2.1 0 2.2-0.1 2.1-0.3 2.1-0.4 2.2-0.2 2.1-0.1 2.1-0.3 2.1-0.3 2.2 0 2.1-0.2 2.1-0.2 2.2-0.4 2.1 0 2.1 0 2.1-0.5 2.2 0.4 2.1-0.7 2.1-0.5 2.2 0.1 2.1-0.3 2.1-0.1 2.1-0.3 2.2 0 2.1 0.1 2.1-0.5 2.1-0.3 2.2-0.7 2.1-0.4 2.1 0.2 2.2 0.2 2.1-0.3 2.1-0.4 2.1-0.8 2.2 0.2 2.1 0 2.1 0.1 2.2-1 2.1 0 2.1-0.1 2.1-0.4 2.2-1.1 2.1 0.5M30.3 184.3l2.1 0 2.2-0.8 2.1 0.1 2.1-0.4 2.1-0.3 2.2 1.6 2.1-1.7 2.1 0.7 2.2-1.1 2.1 0 2.1-0.7 2.1-0.9 2.2 0.7 2.1-1.1 2.1-0.3 2.2 0.2 2.1-1.2 2.1 0 2.1-0.1 2.2-0.1 2.1-1.4 2.1 0.9 2.1 0.3 2.2-0.4 2.1-0.4 2.1-0.1 2.2-0.3 2.1 0 2.1-0.6 2.1 0 2.2-0.1 2.1-0.3 2.1-0.3 2.2-0.4 2.1-0.1 2.1-0.2 2.1-0.2 2.2-0.2 2.1-0.5 2.1 0.2 2.2-0.4 2.1-0.3 2.1 0.1 2.1-0.5 2.2-0.2 2.1-0.1 2.1-0.5 2.2-0.4 2.1-0.2 2.1 0.2 2.1-0.2 2.2-0.8 2.1 1 2.1-0.6 2.1-0.3 2.2 0.1 2.1-0.4 2.1-0.1 2.2-0.5 2.1-0.6 2.1 0.2 2.1-0.6 2.2-0.3 2.1-0.3 2.1-0.5 2.2 0.1 2.1-1.1 2.1-0.7 2.1-0.1 2.2 0.1 2.1 0.9M30.3 184.6l2.1-0.2 2.2 0.1 2.1-0.9 2.1 0.1 2.1-1 2.2-0.3 2.1 0.8 2.1-0.6 2.2-0.4 2.1 0.1 2.1-0.4 2.1-0.7 2.2-0.2 2.1 0.2 2.1-0.7 2.2-0.6 2.1 0.3 2.1-0.4 2.1-1.1 2.2-0.1 2.1 0.6 2.1-0.3 2.1-0.8 2.2 0.2 2.1-0.4 2.1-0.2 2.2-0.4 2.1 0.4 2.1-0.3 2.1-0.4 2.2-0.6 2.1 0 2.1-0.1 2.2-0.4 2.1-0.2 2.1-0.2 2.1-0.2 2.2-0.3 2.1-0.3 2.1-0.1 2.2-0.3 2.1-0.1 2.1-0.2 2.1-0.1 2.2-0.5 2.1-0.1 2.1-0.2 2.2-0.5 2.1-0.1 2.1-0.3 2.1 0.6 2.2-0.9 2.1 0.2 2.1 0 2.1-0.2 2.2-0.9 2.1 0 2.1 0.4 2.2-0.1 2.1-0.7 2.1 0 2.1-1.2 2.2 1 2.1-0.2 2.1-1.1 2.2-0.5 2.1-0.4 2.1-0.7 2.1-1 2.2 0.7 2.1-0.2M30.3 183.5l2.1 0.3 2.2 0.4 2.1-0.4 2.1 0.3 2.1-0.1 2.2-1 2.1-0.4 2.1-0.6 2.2 0.6 2.1-0.2 2.1 0 2.1-1.1 2.2-0.2 2.1 0 2.1-0.9 2.2-0.4 2.1 0.5 2.1-1.3 2.1-0.1 2.2-0.1 2.1-0.3 2.1-0.8 2.1-0.1 2.2-0.2 2.1 0.6 2.1-0.3 2.2-0.5 2.1 0.3 2.1-0.3 2.1 0 2.2-0.8 2.1-0.1 2.1-0.2 2.2-0.2 2.1-0.2 2.1-0.2 2.1-0.3 2.2 0 2.1-0.5 2.1 0 2.2-0.2 2.1-0.7 2.1 0.1 2.1-0.4 2.2 0 2.1 0.3 2.1-1 2.2 0.4 2.1-0.8 2.1 0.7 2.1 0 2.2-0.9 2.1-0.1 2.1-0.1 2.1 0.3 2.2-1 2.1 0.6 2.1-0.7 2.2-0.2 2.1-0.6 2.1-0.8 2.1 0.2 2.2-0.9 2.1-0.4 2.1 0.7 2.2-0.5 2.1-0.6 2.1-0.1 2.1-0.6 2.2 0.9 2.1-1.3M30.3 185l2.1-0.6 2.2 0.3 2.1-1 2.1 1.4 2.1-0.9 2.2-0.9 2.1 0.5 2.1-1.3 2.2 0.4 2.1-0.9 2.1 0 2.1-0.7 2.2-0.6 2.1-0.3 2.1-0.3 2.2-1.2 2.1 0.5 2.1 0 2.1-0.8 2.2-0.2 2.1-0.2 2.1-0.3 2.1 0.5 2.2-0.6 2.1-0.2 2.1 0.1 2.2-0.3 2.1 0.5 2.1-0.8 2.1-0.6 2.2 0.4 2.1-0.5 2.1-0.3 2.2-0.2 2.1-0.2 2.1-0.1 2.1-0.3 2.2-0.3 2.1 0.1 2.1-0.4 2.2-0.5 2.1-0.1 2.1-0.1 2.1 0.5 2.2-0.8 2.1-0.4 2.1-0.1 2.2-0.3 2.1-1.2 2.1 0.7 2.1 0 2.2-0.7 2.1 0 2.1-0.2 2.1-0.2 2.2-0.5 2.1 0 2.1 0.4 2.2-0.5 2.1-0.5 2.1 0.2 2.1-0.9 2.2-0.1 2.1 0.4 2.1-0.9 2.2-1.1 2.1-0.2 2.1 0.4 2.1-0.8 2.2 0.4 2.1 0.1M30.3 186.1l2.1-1.3 2.2-0.4 2.1 0.1 2.1-0.8 2.1 0.8 2.2-0.9 2.1-1.3 2.1-0.6 2.2 0.2 2.1-0.3 2.1 0.1 2.1-1 2.2-0.5 2.1 0.5 2.1-0.9 2.2-0.2 2.1-0.2 2.1 0.3 2.1-0.7 2.2 0.5 2.1-1 2.1 0.2 2.1 0.1 2.2-0.8 2.1-0.2 2.1 0.2 2.2-0.9 2.1 0.4 2.1-0.5 2.1-0.4 2.2 0.3 2.1-0.7 2.1-0.1 2.2-0.2 2.1-0.2 2.1-0.3 2.1 0 2.2-0.3 2.1-0.2 2.1-0.1 2.2-0.7 2.1 0.4 2.1-0.3 2.1-0.3 2.2-0.2 2.1-0.4 2.1-0.2 2.2 0.1 2.1-0.2 2.1-0.3 2.1-0.5 2.2-0.2 2.1 0.1 2.1 0.3 2.1-1.7 2.2 0.2 2.1-0.1 2.1-0.3 2.2 0.1 2.1-0.1 2.1-0.6 2.1-0.3 2.2-0.1 2.1 0.1 2.1-0.8 2.2-0.7 2.1 0.3 2.1-0.5 2.1 0.8 2.2-1.1 2.1-0.2M30.3 185l2.1 0.1 2.2 0.1 2.1-1.1 2.1-0.3 2.1-0.9 2.2 0.1 2.1-0.4 2.1-0.9 2.2-0.4 2.1-0.1 2.1-0.3 2.1 0 2.2-0.3 2.1-0.2 2.1 0 2.2-0.1 2.1-0.3 2.1-1.1 2.1 0.5 2.2-0.2 2.1-0.3 2.1-0.4 2.1-0.3 2.2 0.1 2.1 0 2.1-0.7 2.2 0.2 2.1-0.6 2.1-0.2 2.1-0.3 2.2-0.3 2.1 0 2.1-0.2 2.2-0.2 2.1-0.3 2.1-0.2 2.1 0 2.2-0.5 2.1-0.2 2.1-0.4 2.2-0.1 2.1-0.3 2.1 0 2.1-0.2 2.2 0.2 2.1-0.6 2.1-0.5 2.2 0.2 2.1-0.2 2.1 0.2 2.1-1 2.2 0.4 2.1-0.8 2.1 0 2.1 0.1 2.2-1.1 2.1 0.1 2.1-0.3 2.2-0.4 2.1-0.1 2.1-0.1 2.1-0.6 2.2 0 2.1-0.5 2.1 0.1 2.2 0 2.1-0.6 2.1-0.4 2.1-0.4 2.2-0.8 2.1 1.2M30.3 185.3l2.1-0.3 2.2-0.3 2.1-0.1 2.1-1.7 2.1 0.6 2.2-0.1 2.1-1.4 2.1 0 2.2 0.1 2.1-1 2.1 0.2 2.1-0.5 2.2-0.1 2.1 0.2 2.1-0.9 2.2 0.1 2.1 0.1 2.1-0.3 2.1-0.8 2.2 0.2 2.1-0.4 2.1-0.4 2.1-0.1 2.2 0.2 2.1-0.8 2.1-0.2 2.2-0.2 2.1-0.4 2.1 0 2.1-0.3 2.2-0.3 2.1 0 2.1-0.4 2.2-0.2 2.1-0.1 2.1-0.4 2.1-0.1 2.2-0.1 2.1-0.5 2.1-0.1 2.2-0.3 2.1-0.2 2.1-0.5 2.1-0.1 2.2 0.1 2.1-0.4 2.1-0.3 2.2 0.3 2.1-0.3 2.1-0.1 2.1-0.1 2.2-0.5 2.1-0.5 2.1-0.6 2.1 0 2.2-0.3 2.1-0.3 2.1-0.5 2.2 0.4 2.1-0.7 2.1-0.2 2.1 0 2.2 0 2.1-0.2 2.1-0.2 2.2 0.3 2.1-0.9 2.1 0.1 2.1-0.3 2.2-0.3 2.1-0.5M30.3 186.7l2.1-1.5 2.2-0.8 2.1 0.5 2.1-1.4 2.1-0.5 2.2-0.1 2.1-1 2.1 0.2 2.2 0.2 2.1-0.9 2.1 0 2.1 0 2.2-0.3 2.1-1.5 2.1 0.8 2.2-0.4 2.1 0.1 2.1-0.5 2.1-0.1 2.2-0.2 2.1 0 2.1-0.2 2.1-0.5 2.2-0.5 2.1-0.7 2.1 0 2.2-0.4 2.1 0.1 2.1-0.1 2.1 0.1 2.2-0.5 2.1 0.1 2.1-0.5 2.2-0.4 2.1-0.1 2.1-0.3 2.1 0 2.2-0.1 2.1-0.3 2.1-0.2 2.2-0.6 2.1-0.4 2.1 0.4 2.1-0.3 2.2-0.3 2.1-0.2 2.1 0.1 2.2-0.6 2.1-0.2 2.1-0.3 2.1 0.3 2.2-0.6 2.1 0.3 2.1-1.2 2.1 0.3 2.2-0.6 2.1-0.3 2.1-0.3 2.2-0.2 2.1 0 2.1-1.7 2.1 0.3 2.2-0.2 2.1-1.1 2.1 0.8 2.2-0.6 2.1 0 2.1-0.8 2.1 0 2.2-0.2 2.1-0.2M30.3 186.4l2.1 0.5 2.2-1.5 2.1 0.3 2.1-0.7 2.1-0.4 2.2 0 2.1-1.1 2.1 0.1 2.2-0.9 2.1-0.7 2.1-0.5 2.1-0.4 2.2-0.2 2.1-1.1 2.1 0.5 2.2 0.4 2.1-0.4 2.1-0.2 2.1-0.4 2.2-0.1 2.1-0.2 2.1-1 2.1 0.2 2.2-0.2 2.1-0.4 2.1-0.3 2.2-0.6 2.1 0 2.1-0.3 2.1 0.5 2.2-0.8 2.1-0.3 2.1-0.3 2.2 0 2.1-0.2 2.1-0.2 2.1-0.1 2.2 0 2.1-0.4 2.1-0.5 2.2-0.3 2.1-0.2 2.1 0.1 2.1-1.2 2.2 0.6 2.1-0.6 2.1 0.1 2.2-1 2.1 0.1 2.1-0.4 2.1 0.1 2.2 0 2.1-0.2 2.1 0.6 2.1-1.2 2.2-0.2 2.1 0.3 2.1-0.4 2.2-0.5 2.1-0.8 2.1 0 2.1-0.2 2.2-0.1 2.1 0 2.1-0.6 2.2-0.6 2.1-0.1 2.1-0.3 2.1-0.5 2.2 0 2.1-0.2M30.3 185.9l2.1-1.3 2.2 0.1 2.1-0.8 2.1 0.3 2.1 0.3 2.2-1 2.1 0.1 2.1-0.2 2.2-0.3 2.1-0.8 2.1-0.3 2.1-0.3 2.2 0.2 2.1-0.9 2.1-0.6 2.2-1 2.1 0.1 2.1-0.1 2.1-0.6 2.2 0.3 2.1-0.2 2.1-0.2 2.1 0.3 2.2-0.8 2.1-0.1 2.1-0.1 2.2 0 2.1-0.6 2.1-0.5 2.1 0.1 2.2-0.2 2.1-0.5 2.1 0 2.2-0.2 2.1-0.4 2.1-0.2 2.1-0.2 2.2-0.2 2.1-0.3 2.1-0.1 2.2-0.2 2.1-0.2 2.1-0.5 2.1-0.4 2.2-0.3 2.1-0.2 2.1 0.8 2.2-0.9 2.1-0.4 2.1-0.4 2.1 0.4 2.2-1.2 2.1 0.3 2.1 0.2 2.1-0.5 2.2 0 2.1 0 2.1-0.7 2.2 0 2.1 0 2.1-0.6 2.1-0.6 2.2 0 2.1-1.4 2.1 0.6 2.2-1.6 2.1 0.1 2.1 0.6 2.1-0.8 2.2-0.7 2.1 0.4M30.3 185.8l2.1-0.2 2.2-0.3 2.1-0.9 2.1 0 2.1 0.4 2.2-1.4 2.1 0.9 2.1-1.2 2.2-0.3 2.1-0.9 2.1-0.1 2.1-0.8 2.2 0 2.1-0.8 2.1-0.1 2.2-0.9 2.1 0.7 2.1-0.8 2.1 0.1 2.2 0 2.1 0 2.1-0.4 2.1 0.3 2.2-0.3 2.1-0.8 2.1 0.3 2.2-1 2.1 0.1 2.1-0.4 2.1-0.2 2.2-0.3 2.1-0.1 2.1-0.2 2.2-0.3 2.1-0.2 2.1-0.3 2.1-0.3 2.2-0.1 2.1-0.1 2.1 0.1 2.2-0.6 2.1-0.3 2.1 0 2.1-0.6 2.2-0.4 2.1 0 2.1-0.6 2.2 0 2.1 0.3 2.1-0.6 2.1-0.3 2.2-0.5 2.1 0.3 2.1-0.4 2.1 0 2.2-0.6 2.1-0.3 2.1-0.6 2.2-0.3 2.1 0 2.1-0.3 2.1-0.3 2.2-0.2 2.1-0.9 2.1 1.5 2.2-1.2 2.1-0.5 2.1-0.6 2.1 0.8 2.2-1 2.1-0.5M30.3 185.7l2.1 0.3 2.2 0.1 2.1-0.6 2.1-0.2 2.1-1.1 2.2-0.9 2.1 0.3 2.1-0.8 2.2 0.4 2.1-0.9 2.1-1.1 2.1 1.1 2.2-1.3 2.1-0.3 2.1 0.8 2.2-0.4 2.1-0.5 2.1-0.9 2.1 0.2 2.2-0.4 2.1-0.5 2.1-0.1 2.1-0.3 2.2-0.1 2.1-0.7 2.1 0.3 2.2-0.9 2.1 0.3 2.1-0.2 2.1-0.5 2.2-0.2 2.1 0.1 2.1-0.5 2.2-0.2 2.1-0.3 2.1-0.3 2.1-0.1 2.2-0.4 2.1-0.1 2.1-0.6 2.2 0.1 2.1 0 2.1-0.3 2.1-0.3 2.2-0.5 2.1-0.2 2.1-0.5 2.2 0 2.1-0.2 2.1-0.3 2.1-0.1 2.2-0.3 2.1-0.4 2.1-0.3 2.1 0.3 2.2 0.1 2.1-0.6 2.1-0.7 2.2 0.8 2.1-1.2 2.1-0.7 2.1 0.1 2.2-0.1 2.1-1.6 2.1-0.1 2.2 0.4 2.1-1 2.1-0.2 2.1 0.9 2.2-2.1 2.1 1.5M30.3 187.1l2.1-0.3 2.2-1.3 2.1 0.6 2.1-1.4 2.1 0.1 2.2-0.7 2.1-0.4 2.1-0.5 2.2-0.4 2.1-0.1 2.1-0.4 2.1-0.7 2.2 0 2.1 0.2 2.1-0.4 2.2-0.2 2.1-0.4 2.1-0.3 2.1-0.2 2.2 0 2.1-0.5 2.1 0 2.1 0.1 2.2-1.1 2.1 0 2.1-0.5 2.2-0.3 2.1-0.7 2.1 0.1 2.1-0.5 2.2-0.2 2.1-0.1 2.1-0.2 2.2-0.5 2.1-0.2 2.1-0.3 2.1-0.4 2.2-0.1 2.1-0.2 2.1-0.2 2.2-0.3 2.1-0.2 2.1-0.1 2.1-1 2.2 0.7 2.1-0.9 2.1-0.3 2.2-0.2 2.1 0 2.1-0.5 2.1-0.1 2.2 0 2.1-0.6 2.1 0 2.1-0.2 2.2-0.7 2.1 0.4 2.1-0.8 2.2 0.2 2.1-0.8 2.1-0.1 2.1-0.4 2.2 0.2 2.1-0.4 2.1-0.2 2.2-0.8 2.1-0.6 2.1-0.4 2.1 0.4 2.2-0.6 2.1 0.4M30.3 187.6l2.1-0.1 2.2-2.3 2.1 0.6 2.1-0.2 2.1-0.7 2.2 0.3 2.1-1.3 2.1 1 2.2-0.5 2.1-0.9 2.1-0.1 2.1-1.3 2.2 0.7 2.1-0.8 2.1-0.7 2.2-0.5 2.1-0.5 2.1-0.1 2.1-0.9 2.2 0.7 2.1-0.5 2.1-0.4 2.1 0.1 2.2-0.3 2.1-0.2 2.1-0.3 2.2-0.2 2.1-0.4 2.1-0.1 2.1-0.7 2.2 0 2.1-0.8 2.1-0.2 2.2-0.1 2.1-0.2 2.1-0.2 2.1-0.5 2.2-0.1 2.1-0.3 2.1-0.1 2.2-0.5 2.1 0.1 2.1-0.4 2.1 0.2 2.2-0.6 2.1-0.5 2.1 0 2.2-0.3 2.1-0.7 2.1 0 2.1-0.7 2.2 1 2.1-1.3 2.1-0.2 2.1 0.4 2.2-0.4 2.1-1.1 2.1 0.4 2.2-0.6 2.1-0.9 2.1 0 2.1-0.7 2.2 0.2 2.1-0.8 2.1-0.7 2.2 0.1 2.1 1 2.1-1.5 2.1 0.2 2.2 0.3 2.1-1.3M30.3 187.7l2.1-0.6 2.2-0.6 2.1-0.6 2.1 0.5 2.1-1.1 2.2-0.4 2.1 0.1 2.1-0.2 2.2-0.4 2.1-1.1 2.1-0.5 2.1 0.2 2.2-0.2 2.1-1.4 2.1 0.6 2.2-1 2.1 0 2.1 0 2.1-1 2.2-0.1 2.1-0.8 2.1-0.5 2.1 0.5 2.2-0.7 2.1-0.3 2.1 0.1 2.2-0.2 2.1-0.9 2.1 0.2 2.1-0.4 2.2-0.2 2.1-0.2 2.1-0.2 2.2-0.4 2.1-0.2 2.1-0.2 2.1-0.1 2.2-0.4 2.1 0 2.1-0.4 2.2-0.6 2.1-0.6 2.1 0.2 2.1 0 2.2-0.7 2.1 0.5 2.1-0.6 2.2-0.9 2.1 0 2.1 0.5 2.1-0.1 2.2-1.1 2.1 0.1 2.1-0.2 2.1-0.7 2.2 0 2.1 0.1 2.1-1.5 2.2 0.2 2.1-0.2 2.1-0.2 2.1-1 2.2 0.2 2.1-0.8 2.1 0.1 2.2-0.8 2.1 0.3 2.1-0.2 2.1 0.2 2.2-0.9 2.1-1.4M30.3 188.7l2.1 0.3 2.2-1.2 2.1-1.1 2.1-0.9 2.1 0.3 2.2-0.5 2.1-0.9 2.1-0.7 2.2-0.2 2.1 0.1 2.1-0.9 2.1-0.6 2.2 0.3 2.1-0.1 2.1-1 2.2-0.2 2.1-0.5 2.1 0 2.1-0.1 2.2-0.4 2.1-0.1 2.1-0.4 2.1-0.5 2.2-0.3 2.1-0.8 2.1 0.3 2.2-0.6 2.1-0.2 2.1-0.7 2.1 0 2.2-0.2 2.1-0.5 2.1-0.1 2.2-0.3 2.1-0.3 2.1-0.3 2.1-0.5 2.2-0.2 2.1-0.2 2.1-0.2 2.2 0 2.1-0.7 2.1-0.1 2.1-0.4 2.2-0.1 2.1-0.1 2.1-0.1 2.2-0.8 2.1-0.5 2.1 0.2 2.1-0.5 2.2-0.6 2.1 0.4 2.1-0.6 2.1 0 2.2-1.3 2.1 0 2.1-0.1 2.2 0.1 2.1-0.9 2.1-0.8 2.1 0.3 2.2-0.2 2.1-0.7 2.1 0.6 2.2-0.8 2.1-0.5 2.1 0.4 2.1-0.2 2.2-0.9 2.1-0.3M30.3 188.6l2.1-0.7 2.2 0.5 2.1-1.5 2.1-0.3 2.1-0.2 2.2-0.8 2.1-0.6 2.1-1 2.2 0.7 2.1-1.2 2.1-0.1 2.1-0.4 2.2-0.9 2.1-0.1 2.1 0.4 2.2-0.5 2.1-0.4 2.1 0.3 2.1-1 2.2 0 2.1-0.4 2.1-0.4 2.1-0.8 2.2 0.1 2.1-0.3 2.1-1 2.2 0.2 2.1-0.4 2.1-0.2 2.1-0.8 2.2-0.1 2.1-0.3 2.1-0.2 2.2-0.2 2.1-0.3 2.1-0.2 2.1-0.4 2.2-0.3 2.1-0.5 2.1 0.1 2.2-0.3 2.1-0.1 2.1-0.9 2.1 0.4 2.2-0.8 2.1-0.5 2.1 0.2 2.2-0.5 2.1 0.6 2.1-0.8 2.1 0.1 2.2-1 2.1-0.4 2.1-0.1 2.1-1.1 2.2-0.3 2.1-0.1 2.1-0.4 2.2 0 2.1-0.8 2.1-1.3 2.1 1 2.2-0.6 2.1 0.3 2.1-0.8 2.2 0 2.1 0 2.1 0.4 2.1-1 2.2-1.3 2.1 0.2M30.3 190.1l2.1-0.9 2.2-0.2 2.1-1.1 2.1-0.3 2.1 0.5 2.2-1.5 2.1-0.3 2.1-0.3 2.2-1 2.1 0 2.1-0.9 2.1-0.7 2.2-0.1 2.1 0.2 2.1-0.8 2.2-1.1 2.1-0.1 2.1-0.2 2.1-0.7 2.2-0.5 2.1-0.3 2.1-0.3 2.1 0.1 2.2-0.4 2.1-0.2 2.1-0.3 2.2 0.2 2.1-0.8 2.1-0.1 2.1-0.9 2.2-0.3 2.1-0.4 2.1-0.2 2.2-0.1 2.1-0.4 2.1-0.3 2.1-0.4 2.2-0.1 2.1-0.4 2.1-0.5 2.2-0.5 2.1 0 2.1-0.8 2.1-0.5 2.2 0.7 2.1-0.6 2.1-0.1 2.2-0.5 2.1-0.2 2.1-0.5 2.1-0.6 2.2-0.2 2.1 0 2.1-0.1 2.1-0.3 2.2-0.2 2.1-0.5 2.1-0.1 2.2-0.6 2.1 0.3 2.1-1.5 2.1-1 2.2 0.1 2.1 0.1 2.1-1.8 2.2 0.2 2.1 0.9 2.1-1.7 2.1-0.8 2.2-0.1 2.1-0.7M30.3 190.2l2.1-0.9 2.2-1.3 2.1 0.5 2.1-0.5 2.1-1.3 2.2-0.7 2.1 0 2.1 0.5 2.2-1.3 2.1 0.3 2.1-1.2 2.1 0.1 2.2-0.5 2.1-0.5 2.1 0 2.2-1 2.1-0.6 2.1-0.2 2.1-0.9 2.2 0.2 2.1-1 2.1-0.3 2.1 0 2.2-0.7 2.1-0.2 2.1-0.3 2.2-0.4 2.1-0.5 2.1 0.1 2.1-0.4 2.2 0 2.1-0.5 2.1-0.5 2.2-0.2 2.1-0.3 2.1-0.2 2.1-0.2 2.2-0.4 2.1-0.1 2.1-0.3 2.2-0.8 2.1 0 2.1-1 2.1 0.4 2.2-0.8 2.1 0.1 2.1-0.7 2.2 0 2.1-0.6 2.1-0.2 2.1-0.2 2.2-0.6 2.1-0.6 2.1 0.5 2.1-0.9 2.2 0.1 2.1-0.3 2.1-1.3 2.2 1.5 2.1-1 2.1 0.1 2.1-1.1 2.2-0.5 2.1-2.3 2.1 1.2 2.2-1.1 2.1-0.2 2.1 0.4 2.1-0.9 2.2-1.1 2.1 0.3M30.3 192.2l2.1-1 2.2-0.9 2.1-0.7 2.1-1.2 2.1-0.5 2.2-0.8 2.1 0.1 2.1-0.8 2.2-1.1 2.1 0.3 2.1-1.2 2.1 0 2.2-0.4 2.1-1 2.1 0.1 2.2-0.4 2.1-0.5 2.1-0.8 2.1-1.3 2.2 1.2 2.1-1.1 2.1-0.3 2.1-0.7 2.2 0.1 2.1 0.3 2.1-1.3 2.2 0.4 2.1-0.6 2.1 0 2.1-0.4 2.2-0.5 2.1-0.6 2.1-0.3 2.2-0.2 2.1-0.4 2.1-0.3 2.1-0.3 2.2-0.3 2.1-0.4 2.1-0.1 2.2-0.3 2.1-0.4 2.1-0.3 2.1 0 2.2-1 2.1 0.2 2.1-0.8 2.2-0.2 2.1-0.8 2.1 0.7 2.1-1.9 2.2 0.4 2.1 0 2.1-0.9 2.1-1.1 2.2 0.3 2.1 0.4 2.1-0.7 2.2-1.2 2.1 0.8 2.1-1 2.1-0.5 2.2-1.7 2.1 0.6 2.1-1.2 2.2 0.5 2.1-0.4 2.1-1.2 2.1-0.1 2.2 1 2.1-1.5M30.3 191.7l2.1-0.7 2.2 0 2.1-1.3 2.1 0.2 2.1-1.4 2.2-0.5 2.1-0.1 2.1-1.5 2.2-1 2.1-0.3 2.1 0.7 2.1-1.7 2.2 0 2.1-0.3 2.1-0.3 2.2-0.6 2.1-0.9 2.1-0.1 2.1 0 2.2-0.3 2.1-0.5 2.1-0.7 2.1-0.8 2.2 0.5 2.1-0.8 2.1-0.3 2.2-0.3 2.1-0.6 2.1-0.4 2.1 0 2.2-0.4 2.1-0.8 2.1-0.2 2.2-0.3 2.1-0.3 2.1-0.3 2.1-0.4 2.2-0.2 2.1-0.2 2.1-0.5 2.2-0.5 2.1 0.2 2.1-0.8 2.1-0.3 2.2 0.1 2.1-0.6 2.1-0.4 2.2-0.6 2.1-0.4 2.1 0.2 2.1-0.5 2.2-1.3 2.1-0.1 2.1-0.6 2.1-0.4 2.2-1 2.1 0.7 2.1-1.3 2.2 0.4 2.1-1 2.1-0.6 2.1 0.9 2.2-1.2 2.1 0 2.1-0.3 2.2-0.5 2.1 0.1 2.1-0.4 2.1-1.3 2.2-0.5 2.1 0.2M30.3 195.4l2.1-1.4 2.2-0.1 2.1-2.2 2.1 0 2.1-0.8 2.2 0.1 2.1-0.7 2.1-0.6 2.2-1.1 2.1-0.3 2.1-0.6 2.1-0.9 2.2-0.5 2.1-1.2 2.1 0.1 2.2-0.3 2.1-1.1 2.1-1.1 2.1 0.2 2.2-0.8 2.1-0.4 2.1-0.7 2.1-0.4 2.2-0.1 2.1-0.6 2.1-0.7 2.2-0.4 2.1-0.4 2.1-0.3 2.1-0.2 2.2-0.4 2.1-0.7 2.1-0.1 2.2-0.6 2.1-0.4 2.1-0.4 2.1-0.3 2.2-0.4 2.1-0.7 2.1-0.1 2.2-0.5 2.1-0.4 2.1-0.3 2.1-0.9 2.2 0.1 2.1-0.5 2.1 0.1 2.2-0.7 2.1-0.4 2.1-0.5 2.1-0.3 2.2-0.8 2.1-1.1 2.1 0.2 2.1-0.6 2.2-0.4 2.1-1.8 2.1-0.1 2.2 0 2.1-0.5 2.1 0.2 2.1-0.7 2.2-0.5 2.1-0.4 2.1 0.1 2.2-0.5 2.1-1.2 2.1-0.4 2.1 0.7 2.2-1.9 2.1-1.3M30.3 195.4l2.1-2.2 2.2 1 2.1-0.4 2.1-1.6 2.1-0.6 2.2-1.4 2.1 0.6 2.1-0.6 2.2-1.5 2.1-1.2 2.1-0.7 2.1-1.1 2.2 0.5 2.1-0.9 2.1-0.9 2.2-0.8 2.1-0.3 2.1-0.1 2.1-0.2 2.2-1.2 2.1-0.4 2.1-1.1 2.1 0.5 2.2-1.1 2.1 0.4 2.1-0.6 2.2-0.4 2.1-0.5 2.1-0.3 2.1-0.5 2.2-0.4 2.1-0.3 2.1-0.6 2.2-0.3 2.1-0.5 2.1-0.5 2.1-0.3 2.2-0.3 2.1-0.4 2.1-0.4 2.2-0.6 2.1-0.1 2.1-0.9 2.1-0.5 2.2-0.3 2.1 0.1 2.1 0 2.2-0.7 2.1-0.6 2.1-0.7 2.1-0.1 2.2-0.5 2.1-1.3 2.1 0.3 2.1-1.3 2.2-0.5 2.1 0.4 2.1-1.3 2.2-0.1 2.1-0.2 2.1 0 2.1-0.5 2.2-1.4 2.1 0 2.1-0.9 2.2 0.2 2.1-1 2.1-0.7 2.1 0 2.2-0.6 2.1-1.8M30.3 195.4l2.1-1.7 2.2 0.4 2.1-1.6 2.1 1.4 2.1-2.8 2.2 0 2.1 0.3 2.1-2 2.2-0.8 2.1-0.6 2.1-0.7 2.1 0 2.2-0.4 2.1-0.7 2.1-0.9 2.2-0.8 2.1-0.3 2.1-0.8 2.1-0.9 2.2-0.3 2.1-1.2 2.1-0.4 2.1 0.7 2.2-0.5 2.1-0.2 2.1-0.4 2.2-0.9 2.1-0.1 2.1-0.4 2.1-0.7 2.2-0.7 2.1-0.3 2.1-0.5 2.2-0.6 2.1-0.3 2.1-0.5 2.1-0.6 2.2-0.1 2.1-0.7 2.1-0.2 2.2-0.8 2.1-0.3 2.1 0.2 2.1-1 2.2 0.4 2.1-1.1 2.1-0.1 2.2-0.1 2.1-0.4 2.1-0.8 2.1-0.7 2.2-0.4 2.1-1.1 2.1 0.2 2.1-1.1 2.2-0.5 2.1 0.5 2.1-1.4 2.2 0.4 2.1 0.2 2.1-1.3 2.1-0.6 2.2-1 2.1 0.1 2.1-1.6 2.2-0.7 2.1-0.6 2.1-0.9 2.1-0.1 2.2-0.2 2.1-1.3M30.3 197.8l2.1-1.8 2.2-1.3 2.1-0.5 2.1-1.5 2.1-0.9 2.2 0.2 2.1-1.4 2.1-1.3 2.2-0.9 2.1-1 2.1 1 2.1-1.5 2.2-0.9 2.1-0.7 2.1-0.6 2.2 0.6 2.1-0.7 2.1-0.2 2.1-1.2 2.2 0.3 2.1-1.4 2.1-0.4 2.1-0.4 2.2 0.4 2.1-1 2.1-1 2.2 0.1 2.1-0.8 2.1-0.5 2.1-0.7 2.2-0.3 2.1-0.4 2.1-0.4 2.2-0.5 2.1-0.5 2.1-0.5 2.1-0.3 2.2-0.6 2.1 0.1 2.1-1 2.2-0.1 2.1-0.8 2.1-0.2 2.1-0.8 2.2-0.7 2.1 0.1 2.1-0.7 2.2-0.4 2.1-0.7 2.1 0.2 2.1-1 2.2-0.5 2.1-0.2 2.1-0.7 2.1 0.1 2.2-1.7 2.1-0.1 2.1-1.1 2.2 0.8 2.1-0.4 2.1-1.3 2.1 0.3 2.2-1.6 2.1-0.2 2.1-0.8 2.2-1 2.1-0.5 2.1-1.7 2.1 0.1 2.2 0.5 2.1-1.8M30.3 198.5l2.1-0.9 2.2-1 2.1-1.9 2.1 0.5 2.1-0.9 2.2-1.9 2.1 0.3 2.1-1.5 2.2-1.6 2.1-0.2 2.1-0.5 2.1-0.5 2.2-0.5 2.1-0.8 2.1-0.8 2.2-1 2.1-0.5 2.1 0.1 2.1-0.5 2.2-1.1 2.1 0.4 2.1-1.1 2.1-0.7 2.2-0.3 2.1-0.6 2.1-1 2.2 0 2.1-0.7 2.1-0.6 2.1-0.7 2.2-0.2 2.1-0.9 2.1-0.2 2.2-0.5 2.1-0.5 2.1-0.4 2.1-0.4 2.2-0.8 2.1-0.2 2.1-0.4 2.2-0.8 2.1 0 2.1-0.8 2.1-0.3 2.2-0.2 2.1-1.1 2.1 0.3 2.2-1.2 2.1 0.1 2.1-1 2.1-0.9 2.2-0.2 2.1-0.1 2.1-0.8 2.1-0.4 2.2-0.2 2.1-0.7 2.1-1.1 2.2-0.8 2.1 0.5 2.1-1.4 2.1-0.8 2.2-0.3 2.1 0.1 2.1-1.5 2.2 0.7 2.1-1.4 2.1-1.1 2.1 1.6 2.2-2 2.1-0.7M30.3 200.4l2.1-0.6 2.2-1.2 2.1-1.3 2.1-1.1 2.1-1.1 2.2-1.2 2.1-0.5 2.1-0.3 2.2-2.8 2.1-1.3 2.1 0.7 2.1-1.1 2.2-1 2.1-0.8 2.1-0.3 2.2-0.7 2.1 0.1 2.1-0.7 2.1-0.6 2.2-0.2 2.1-1.3 2.1-0.5 2.1-0.8 2.2-0.2 2.1-1.1 2.1 0 2.2-1 2.1 0.3 2.1-0.9 2.1-0.9 2.2-0.2 2.1-0.6 2.1-0.2 2.2-0.9 2.1-0.4 2.1-0.4 2.1-0.6 2.2-0.4 2.1-0.8 2.1-0.2 2.2-0.1 2.1-0.9 2.1-0.9 2.1-0.4 2.2-0.2 2.1-0.8 2.1-0.3 2.2-0.7 2.1 0.4 2.1-0.7 2.1-1.1 2.2-0.1 2.1-0.8 2.1-1.3 2.1 0.4 2.2-0.9 2.1-0.4 2.1-0.6 2.2-0.9 2.1 0 2.1-0.2 2.1-2.3 2.2 0.2 2.1-1.1 2.1 0 2.2-0.5 2.1-0.8 2.1-0.7 2.1 0.5 2.2-2.2 2.1 0.4M30.3 200.1l2.1-1 2.2-0.1 2.1-0.7 2.1-1.6 2.1 0.2 2.2-1.3 2.1-1.7 2.1-0.3 2.2-0.8 2.1-0.9 2.1-1.5 2.1-0.7 2.2-1 2.1-0.7 2.1-1.6 2.2 0.3 2.1 0 2.1-1.5 2.1-0.6 2.2-0.7 2.1 0 2.1-1.6 2.1-0.2 2.2-0.6 2.1-0.1 2.1-1.2 2.2-0.3 2.1-0.9 2.1 0 2.1-0.4 2.2-0.8 2.1-0.3 2.1-0.8 2.2-0.3 2.1-0.7 2.1-0.5 2.1-0.5 2.2-0.4 2.1-0.5 2.1-0.7 2.2-0.4 2.1-0.7 2.1-0.4 2.1 0.2 2.2-1.1 2.1-0.9 2.1-0.1 2.2-0.5 2.1-0.4 2.1-0.1 2.1-0.2 2.2-1.5 2.1-0.8 2.1-0.5 2.1-0.7 2.2-0.8 2.1-0.6 2.1-0.9 2.2-0.6 2.1-0.9 2.1 0.1 2.1-0.7 2.2-1.1 2.1 0 2.1 0.6 2.2-2 2.1 0.8 2.1-3.1 2.1-0.1 2.2-0.9 2.1-0.1M30.3 200.1l2.1 0 2.2-0.3 2.1-2.2 2.1-0.5 2.1-1.5 2.2-1.6 2.1-0.8 2.1-0.2 2.2-1.3 2.1-1.2 2.1-0.1 2.1-0.9 2.2-1.1 2.1-0.4 2.1-0.6 2.2-0.6 2.1-1 2.1-0.4 2.1-1.2 2.2-0.2 2.1-1.2 2.1-0.4 2.1 0.3 2.2-1.3 2.1 0 2.1-1.1 2.2-0.2 2.1-0.4 2.1-0.7 2.1-0.3 2.2-0.7 2.1-0.6 2.1-0.5 2.2-0.6 2.1-0.6 2.1-0.5 2.1-0.3 2.2-0.7 2.1-0.6 2.1-0.5 2.2-0.3 2.1-1.5 2.1 0.4 2.1-0.7 2.2-0.3 2.1-1.2 2.1 0.1 2.2-1.1 2.1 0.2 2.1-1.1 2.1-0.2 2.2-1.1 2.1-0.1 2.1-0.4 2.1-1.2 2.2 0.1 2.1-0.7 2.1-1.5 2.2 0.5 2.1-2 2.1-0.1 2.1-0.5 2.2-1.3 2.1-0.9 2.1 0 2.2-0.9 2.1-1.2 2.1-0.7 2.1-0.1 2.2-0.2 2.1-0.5M30.3 201.5l2.1-1 2.2-2.4 2.1 1 2.1-2.5 2.1-1.2 2.2-1 2.1-2.3 2.1-0.4 2.2-0.7 2.1 0 2.1-1.4 2.1-0.2 2.2-0.7 2.1-0.6 2.1-0.2 2.2-1.1 2.1-0.9 2.1-0.4 2.1-0.3 2.2 0.1 2.1-1.9 2.1-0.7 2.1-0.3 2.2-0.6 2.1-1 2.1-0.1 2.2-1 2.1 0 2.1-0.6 2.1-0.7 2.2-0.2 2.1-0.8 2.1-0.6 2.2-0.4 2.1-0.7 2.1-0.4 2.1-0.6 2.2-0.5 2.1-0.4 2.1-0.5 2.2-0.3 2.1-0.8 2.1-0.5 2.1-1.3 2.2-0.4 2.1 0.3 2.1-1.2 2.2-0.3 2.1-0.3 2.1-0.8 2.1-0.6 2.2 0 2.1-0.7 2.1-0.8 2.1-0.2 2.2-1.2 2.1-0.7 2.1-0.5 2.2-0.6 2.1-1.3 2.1-1 2.1-0.5 2.2 0 2.1-1.5 2.1-0.3 2.2-0.8 2.1-1 2.1 0.5 2.1-1.2 2.2-0.5 2.1-0.6M30.3 202.6l2.1-0.9 2.2-1.3 2.1-1.3 2.1-1.1 2.1-1.1 2.2-1.3 2.1-1.6 2.1-0.2 2.2-1.5 2.1-0.8 2.1-0.6 2.1-1.2 2.2 0.3 2.1-1 2.1-0.4 2.2-1.3 2.1-0.3 2.1-1 2.1-0.9 2.2 0 2.1-1.6 2.1-0.3 2.1-0.8 2.2-0.7 2.1-0.9 2.1-0.5 2.2-0.8 2.1 0 2.1-0.4 2.1-0.5 2.2-0.8 2.1-0.7 2.1-0.3 2.2-0.5 2.1-0.6 2.1-0.6 2.1-0.5 2.2-0.4 2.1-0.2 2.1-0.9 2.2-1 2.1-0.3 2.1 0.2 2.1-1.1 2.2 0.1 2.1-1.7 2.1 0 2.2 0 2.1-1.3 2.1 0 2.1-1.2 2.2-0.4 2.1-0.1 2.1-1.4 2.1 0.2 2.2-1.8 2.1 0 2.1-0.1 2.2-0.2 2.1-2.3 2.1-0.6 2.1 0.7 2.2-2.2 2.1 0 2.1-0.6 2.2-0.8 2.1-0.7 2.1-1.8 2.1-0.1 2.2 0.4 2.1-3.2M30.3 201.5l2.1-0.7 2.2-1.1 2.1-1.9 2.1-0.4 2.1-2.2 2.2 0.8 2.1-1.7 2.1-0.4 2.2-0.4 2.1-1.9 2.1-0.3 2.1-0.3 2.2-1.1 2.1-1.5 2.1 0.2 2.2-1.9 2.1-0.4 2.1-0.3 2.1-1.2 2.2-0.8 2.1-0.1 2.1-0.4 2.1-1.1 2.2-0.4 2.1 0.2 2.1-0.9 2.2-0.6 2.1-0.6 2.1-0.4 2.1-1.2 2.2-0.4 2.1-0.7 2.1-0.8 2.2-0.3 2.1-0.6 2.1-0.6 2.1-0.5 2.2-0.6 2.1-0.8 2.1-0.4 2.2-0.8 2.1-0.1 2.1-0.8 2.1-0.1 2.2-0.9 2.1-0.4 2.1-1.3 2.2-0.5 2.1-0.5 2.1-1.2 2.1-0.5 2.2-0.3 2.1 0.1 2.1-0.2 2.1-1.2 2.2-0.3 2.1-0.3 2.1-0.6 2.2 0.1 2.1-2 2.1 0.7 2.1-0.8 2.2-1.4 2.1 0.4 2.1-2.2 2.2-1 2.1-0.2 2.1-0.5 2.1-1.3 2.2-0.1 2.1-2.8M30.3 203l2.1-0.6 2.2-2.7 2.1-0.8 2.1-2.2 2.1 0.4 2.2-0.7 2.1-0.7 2.1-1.8 2.2 0.5 2.1-2.2 2.1-0.7 2.1-0.6 2.2-0.7 2.1-1.9 2.1-1.2 2.2 0.3 2.1-1.2 2.1-1.1 2.1 0.4 2.2-0.8 2.1-0.1 2.1-1 2.1-0.6 2.2-0.4 2.1-0.6 2.1-0.3 2.2-0.8 2.1-0.7 2.1-1.1 2.1-0.3 2.2-0.6 2.1-0.8 2.1-0.6 2.2-0.4 2.1-0.7 2.1-0.6 2.1-0.5 2.2-0.3 2.1-0.7 2.1-0.5 2.2-0.8 2.1-0.1 2.1-1.1 2.1-0.5 2.2-0.2 2.1-1.3 2.1-0.6 2.2 0.2 2.1-1.8 2.1 0.6 2.1-0.6 2.2-0.8 2.1-1.1 2.1-0.6 2.1-0.4 2.2-1.4 2.1-0.3 2.1-1.3 2.2-1.6 2.1 0.5 2.1 0.7 2.1-1.8 2.2-0.3 2.1-1.3 2.1-0.5 2.2 0.2 2.1-0.7 2.1-1.2 2.1-0.7 2.2 0.6 2.1-3.1M30.3 202.4l2.1-0.6 2.2-0.5 2.1-0.5 2.1-2.2 2.1-0.4 2.2-0.3 2.1 0.1 2.1-1.6 2.2-0.3 2.1-2.7 2.1-0.4 2.1-0.4 2.2-1.2 2.1-2.4 2.1-0.3 2.2 0.3 2.1-1.4 2.1-0.4 2.1-0.6 2.2-1.6 2.1-1.6 2.1-0.3 2.1-0.1 2.2-0.5 2.1-0.8 2.1-0.9 2.2 0.2 2.1-0.5 2.1-1.6 2.1-0.2 2.2-0.9 2.1-0.3 2.1-0.8 2.2-0.3 2.1-0.7 2.1-0.7 2.1-0.6 2.2-0.4 2.1-0.9 2.1-0.2 2.2-0.4 2.1-1.2 2.1-0.9 2.1-0.5 2.2 0.1 2.1-1.4 2.1-0.5 2.2-0.1 2.1 0.3 2.1-2 2.1-0.5 2.2-0.4 2.1 0.5 2.1-0.6 2.1-1.7 2.2-0.5 2.1-0.5 2.1-0.3 2.2-1.1 2.1-0.3 2.1-0.9 2.1-0.6 2.2-1.6 2.1-0.6 2.1-1.8 2.2-0.8 2.1-0.1 2.1-2.7 2.1 0.9 2.2-1.9 2.1-1.3M30.3 206.4l2.1-1.6 2.2-1 2.1-2.3 2.1 0.1 2.1-2.4 2.2-0.7 2.1 0 2.1-1.4 2.2-1.4 2.1-1.3 2.1-1.5 2.1-0.3 2.2-1.5 2.1 0.5 2.1-0.1 2.2-2.2 2.1-1.2 2.1-0.4 2.1-0.5 2.2-1.4 2.1-1.4 2.1 0 2.1-0.5 2.2-0.7 2.1-1.8 2.1 0 2.2-0.9 2.1-0.8 2.1-0.6 2.1-0.1 2.2-1 2.1-0.6 2.1-0.5 2.2-0.7 2.1-0.5 2.1-0.6 2.1-0.4 2.2-0.8 2.1-0.3 2.1-0.9 2.2-0.2 2.1-0.9 2.1-0.6 2.1-0.8 2.2-0.9 2.1-0.6 2.1-0.8 2.2 0 2.1-2.1 2.1 0 2.1-0.8 2.2-0.4 2.1-1.5 2.1 0.4 2.1-1.2 2.2-0.9 2.1-0.8 2.1-0.3 2.2-0.3 2.1 0.4 2.1-2.1 2.1-0.7 2.2-0.7 2.1-0.8 2.1-0.5 2.2-0.6 2.1-2 2.1-1.2 2.1 0.5 2.2-2.3 2.1-0.6M30.3 205.4l2.1-0.5 2.2-0.3 2.1-2.3 2.1 0.1 2.1-2.6 2.2-1.7 2.1 0.1 2.1-2 2.2-0.9 2.1-1.2 2.1 0.1 2.1-2.1 2.2-0.7 2.1-1.2 2.1-0.5 2.2-1.3 2.1-0.4 2.1-0.9 2.1-1.1 2.2-0.1 2.1-1 2.1-0.4 2.1-0.8 2.2-0.3 2.1-1.1 2.1-0.9 2.2-0.3 2.1-1 2.1-0.6 2.1-0.3 2.2-1.1 2.1-0.8 2.1-0.3 2.2-0.5 2.1-0.8 2.1-0.6 2.1-1 2.2-0.3 2.1-0.6 2.1-0.3 2.2-0.8 2.1-0.4 2.1-0.4 2.1-0.9 2.2-0.5 2.1-1.5 2.1 0.1 2.2-1.2 2.1-0.6 2.1-0.4 2.1-2.1 2.2 1 2.1-2.2 2.1 0.8 2.1-1.2 2.2-1.6 2.1 1.7 2.1-1 2.2-2.1 2.1-0.2 2.1-0.5 2.1-1.2 2.2-0.5 2.1-1.7 2.1-1.9 2.2 0.1 2.1-1.2 2.1-1.5 2.1-1.3 2.2 1 2.1-1.2M30.3 206.3l2.1-2.1 2.2-2 2.1-0.2 2.1-1.4 2.1-1.5 2.2-1 2.1-0.4 2.1-1 2.2-1.9 2.1 0.3 2.1-0.8 2.1-0.3 2.2-2.1 2.1-0.6 2.1-2 2.2 0.3 2.1-1.4 2.1-0.9 2.1-1.1 2.2 0.5 2.1-2 2.1-0.1 2.1-0.8 2.2-0.7 2.1-0.7 2.1-0.8 2.2-0.1 2.1-1.6 2.1-0.5 2.1-0.4 2.2-0.8 2.1-1.1 2.1-0.2 2.2-0.5 2.1-0.7 2.1-0.5 2.1-0.6 2.2-0.5 2.1-0.6 2.1-0.9 2.2-0.6 2.1-0.4 2.1-0.9 2.1-0.8 2.2-0.6 2.1-0.8 2.1-0.4 2.2-0.7 2.1-0.9 2.1-0.1 2.1-1.2 2.2-0.3 2.1-0.2 2.1-0.8 2.1-0.9 2.2-0.9 2.1-1.1 2.1-0.7 2.2-0.6 2.1-2.1 2.1-0.6 2.1-0.3 2.2-1.2 2.1-0.3 2.1-0.2 2.2-0.8 2.1-2.2 2.1 0.3 2.1-0.8 2.2 0 2.1-1.6M30.3 207.3l2.1-1.6 2.2-0.7 2.1-3.4 2.1 0.2 2.1-1.1 2.2-1.9 2.1 0 2.1-1.4 2.2-0.6 2.1-1.5 2.1-0.8 2.1-1.5 2.2-0.7 2.1-0.7 2.1-1.1 2.2-1 2.1-0.7 2.1-1.5 2.1-0.7 2.2-0.5 2.1-0.2 2.1-1.4 2.1 0 2.2-1.2 2.1-0.6 2.1-0.5 2.2-0.6 2.1-0.8 2.1-1.4 2.1-0.1 2.2-0.7 2.1-1 2.1-0.6 2.2-0.7 2.1-0.6 2.1-0.5 2.1-1.3 2.2-0.2 2.1-0.6 2.1-0.8 2.2-0.9 2.1 0 2.1-1.1 2.1-0.6 2.2-0.8 2.1-0.4 2.1-0.3 2.2-0.5 2.1 0.1 2.1-2.1 2.1 0.5 2.2-1.2 2.1-1.7 2.1 0.3 2.1-1.4 2.2-0.5 2.1-1.4 2.1-0.6 2.2-0.7 2.1-2.1 2.1-0.1 2.1-0.4 2.2-1.5 2.1-1.5 2.1 0.1 2.2-2 2.1-0.8 2.1-1.7 2.1 1 2.2-1.6 2.1 0.7M30.3 210.7l2.1-1.8 2.2-1.6 2.1-1.4 2.1-1.6 2.1-1.4 2.2 0.5 2.1-2.1 2.1-1.5 2.2-0.9 2.1-2.1 2.1-0.9 2.1-0.5 2.2-1.1 2.1-1.5 2.1-0.1 2.2-1 2.1-1.5 2.1-0.7 2.1-1.5 2.2-0.5 2.1-1.1 2.1-0.4 2.1-0.9 2.2-1.3 2.1 0.1 2.1-2 2.2-0.9 2.1-0.5 2.1-0.6 2.1-1.1 2.2-0.3 2.1-0.9 2.1-0.9 2.2-0.4 2.1-0.6 2.1-0.8 2.1-0.6 2.2-0.7 2.1-0.7 2.1-0.9 2.2 0 2.1-1.1 2.1-1 2.1-0.2 2.2-1 2.1-0.5 2.1-1.2 2.2-0.9 2.1-1 2.1-0.3 2.1-0.1 2.2-1.2 2.1-1 2.1-1.2 2.1 0.9 2.2-2.2 2.1 0.2 2.1-2.4 2.2-0.9 2.1-1 2.1-1.3 2.1-0.6 2.2-0.3 2.1-1.5 2.1-1.4 2.2 0 2.1-0.9 2.1 0 2.1-2.4 2.2 0.2 2.1-0.8M30.3 210.2l2.1 0 2.2-2.6 2.1-2.3 2.1-2.2 2.1 0.7 2.2-1.5 2.1-2.6 2.1-0.8 2.2-0.7 2.1-1.8 2.1-0.3 2.1 0 2.2-2 2.1-0.8 2.1-1.1 2.2-1 2.1-0.5 2.1-0.7 2.1-0.8 2.2-0.6 2.1-1.5 2.1-1.6 2.1-0.8 2.2-1.4 2.1 0 2.1-0.2 2.2-1.7 2.1-0.8 2.1 0 2.1-0.7 2.2-1.2 2.1-0.8 2.1-0.5 2.2-0.9 2.1-0.8 2.1-0.6 2.1-0.6 2.2-1 2.1-0.6 2.1-0.7 2.2-0.2 2.1-2 2.1 0.1 2.1-1 2.2-0.4 2.1-1.3 2.1 0 2.2-1.4 2.1-0.7 2.1-1.3 2.1 0.1 2.2-1 2.1-1 2.1-2 2.1 1.1 2.2-1.6 2.1-0.1 2.1-1.2 2.2-0.9 2.1-0.4 2.1-0.9 2.1-0.9 2.2-0.4 2.1-1.3 2.1-0.3 2.2-2 2.1-1 2.1-1.5 2.1-1.9 2.2-0.8 2.1-1.1M30.3 211.8l2.1-1.9 2.2-1.4 2.1-0.6 2.1-1.8 2.1-1.4 2.2-1.7 2.1-0.8 2.1-0.5 2.2-1.1 2.1-1.3 2.1-1.3 2.1-0.9 2.2-2 2.1-0.6 2.1-1.2 2.2-1.9 2.1-0.7 2.1-1.2 2.1-0.2 2.2-2.2 2.1-0.5 2.1-0.7 2.1-1 2.2-0.6 2.1-0.4 2.1-1.7 2.2 0.1 2.1-1.2 2.1-1 2.1-0.2 2.2-1 2.1-0.6 2.1-1.2 2.2-0.6 2.1-0.8 2.1-0.9 2.1-0.7 2.2-0.4 2.1-1.2 2.1-0.6 2.2-1.5 2.1-0.5 2.1-0.1 2.1-0.9 2.2-0.6 2.1-1.3 2.1-0.9 2.2-1.1 2.1-0.6 2.1-0.2 2.1-1 2.2-1.8 2.1-0.6 2.1 0 2.1-0.6 2.2-0.6 2.1-0.7 2.1 0.3 2.2-2.3 2.1 0 2.1-1.5 2.1 0.6 2.2-2.9 2.1-2 2.1 1 2.2-3.8 2.1-0.6 2.1-0.4 2.1-0.6 2.2-3.1 2.1-0.4M30.3 213.4l2.1-2.1 2.2-1 2.1-3.1 2.1 0.9 2.1-1.5 2.2-2.3 2.1-0.8 2.1-2.4 2.2-1 2.1-0.6 2.1-1.4 2.1 0 2.2-2 2.1-1.7 2.1-1.3 2.2-0.6 2.1-1.4 2.1-1 2.1-1.9 2.2-0.5 2.1-0.5 2.1-0.8 2.1-1.1 2.2-0.4 2.1-1 2.1-0.3 2.2-1.7 2.1-0.9 2.1-0.6 2.1-0.8 2.2-0.8 2.1-1.1 2.1-0.4 2.2-0.6 2.1-1 2.1-0.8 2.1-0.8 2.2-0.8 2.1-0.8 2.1-0.6 2.2-0.3 2.1-1 2.1-0.5 2.1-1.2 2.2-0.5 2.1-1.3 2.1-0.7 2.2 0 2.1-1.9 2.1-0.8 2.1 0.2 2.2-1.6 2.1-1.2 2.1-0.5 2.1-1.6 2.2-0.7 2.1-1.6 2.1-0.5 2.2-0.8 2.1-1.3 2.1-0.9 2.1-0.4 2.2-0.3 2.1-0.4 2.1-0.9 2.2-0.6 2.1-1.4 2.1-1 2.1-0.9 2.2-1.4 2.1-1.7M30.3 212.4l2.1-1.2 2.2-0.8 2.1-0.5 2.1-3 2.1-1.7 2.2 0.2 2.1-2.1 2.1-0.6 2.2-1.8 2.1-0.6 2.1-1.8 2.1-1.4 2.2-0.1 2.1-2.8 2.1-1 2.2 0.1 2.1-2.7 2.1-0.6 2.1-1 2.2-0.9 2.1-0.5 2.1-0.5 2.1-1.2 2.2-0.8 2.1-1.9 2.1-0.7 2.2 0 2.1-0.9 2.1-1.1 2.1-0.9 2.2-0.5 2.1-0.8 2.1-1.3 2.2-0.6 2.1-0.7 2.1-0.6 2.1-0.8 2.2-0.9 2.1-0.9 2.1-0.6 2.2-0.4 2.1-1.3 2.1-0.9 2.1-0.6 2.2-0.6 2.1-1.2 2.1-0.5 2.2-0.3 2.1-1.3 2.1-0.1 2.1-1.9 2.2-0.6 2.1-0.1 2.1-1.5 2.1-1.6 2.2 0.9 2.1-2.2 2.1-2.1 2.2 0.9 2.1-1.9 2.1-0.2 2.1-1.8 2.2 0.6 2.1-1.3 2.1-1.6 2.2-1.3 2.1-1 2.1-0.9 2.1-1.6 2.2-0.8 2.1-1.2M30.3 212.8l2.1-0.5 2.2-3.2 2.1 0.1 2.1-1.7 2.1-3 2.2 1.3 2.1-3 2.1-0.1 2.2-2.1 2.1-1.6 2.1-1.1 2.1-1.5 2.2-0.6 2.1-1.4 2.1-0.4 2.2-1.4 2.1-0.5 2.1-1.9 2.1 0 2.2-1.9 2.1-0.4 2.1-1 2.1-1.5 2.2-0.5 2.1-0.2 2.1-1.8 2.2 0.3 2.1-2 2.1-0.7 2.1-0.5 2.2-1.3 2.1-0.7 2.1-1.1 2.2-0.4 2.1-0.8 2.1-1 2.1-0.5 2.2-0.6 2.1-1.3 2.1-0.3 2.2-0.9 2.1-0.6 2.1-0.4 2.1-1 2.2-0.6 2.1-0.5 2.1-1.3 2.2-1.8 2.1-0.8 2.1 0 2.1-1 2.2-1 2.1-1.3 2.1-0.2 2.1-0.4 2.2-0.9 2.1-1.7 2.1-1.7 2.2 1 2.1-0.1 2.1-2.8 2.1-0.5 2.2-1.3 2.1-2 2.1-0.5 2.2-0.3 2.1-0.9 2.1-2.7 2.1-0.5 2.2-2.4 2.1-0.1M30.3 212.9l2.1-0.5 2.2-1 2.1-3.5 2.1-0.4 2.1-1.6 2.2-1.5 2.1-2 2.1-1.2 2.2-1.1 2.1-1.4 2.1-0.2 2.1-1.3 2.2-1.3 2.1-1.1 2.1-0.9 2.2-1.1 2.1-0.7 2.1-0.7 2.1-0.4 2.2-2.3 2.1-0.9 2.1-0.4 2.1-1.6 2.2-1 2.1-0.8 2.1-0.2 2.2-1.2 2.1-1 2.1-1.5 2.1-0.1 2.2-0.9 2.1-0.7 2.1-0.9 2.2-1 2.1-0.8 2.1-0.4 2.1-1.3 2.2-0.6 2.1-0.7 2.1-1.3 2.2-0.8 2.1 0.1 2.1-1.4 2.1-1.3 2.2-0.1 2.1-0.9 2.1-1.3 2.2-0.3 2.1-0.4 2.1-1 2.1-0.6 2.2-1.8 2.1 0.2 2.1-2.4 2.1 0.6 2.2-1.8 2.1 0.1 2.1-1.5 2.2-1.6 2.1-0.8 2.1-1 2.1 0.1 2.2-1.1 2.1-1.2 2.1-1.5 2.2-0.6 2.1-2.5 2.1-1 2.1-2.1 2.2-1 2.1-1.6M30.3 215l2.1-5.4 2.2 0.8 2.1-2.5 2.1-1 2.1 1.4 2.2-2.6 2.1-2.1 2.1 1.6 2.2-3.3 2.1-0.2 2.1-1.7 2.1-2 2.2-0.3 2.1-2.8 2.1-0.9 2.2-1.3 2.1-1.9 2.1-2.4 2.1 0.9 2.2-0.9 2.1-0.3 2.1-0.4 2.1-1.3 2.2-1.4 2.1-0.4 2.1-1.2 2.2-0.7 2.1-1.9 2.1 0.3 2.1-1.6 2.2-0.8 2.1-0.8 2.1-0.5 2.2-0.8 2.1-0.9 2.1-0.8 2.1-0.5 2.2-0.7 2.1-1.1 2.1-0.9 2.2-0.3 2.1-0.9 2.1-0.9 2.1-2.3 2.2-0.2 2.1-0.8 2.1-1.3 2.2-1.5 2.1-0.2 2.1 0.7 2.1-1.2 2.2-0.4 2.1-0.7 2.1-0.3 2.1-1.4 2.2-0.7 2.1-2.1 2.1-1.1 2.2-0.5 2.1-1.1 2.1-2.1 2.1-1.8 2.2-0.8 2.1-0.3 2.1 1.7 2.2-2.6 2.1-0.5 2.1-1.1 2.1-0.3 2.2-1.9 2.1-1.3M30.3 216.9l2.1-2.2 2.2-2.4 2.1-1.4 2.1-0.8 2.1-2 2.2-0.3 2.1-0.3 2.1-0.7 2.2-2 2.1-1.9 2.1-1.8 2.1-2 2.2-0.6 2.1-1.4 2.1-2.3 2.2-1.5 2.1-0.2 2.1-1.5 2.1-1.5 2.2-0.4 2.1-0.7 2.1 0.1 2.1-2.6 2.2-0.7 2.1-0.8 2.1-0.9 2.2-0.8 2.1-1.5 2.1-1 2.1-1.2 2.2-0.3 2.1-1.5 2.1-0.4 2.2-1 2.1-0.7 2.1-0.9 2.1-1 2.2-0.5 2.1-0.4 2.1-1.2 2.2-1.1 2.1-0.3 2.1-0.9 2.1-1.6 2.2-0.5 2.1-1.6 2.1 0 2.2-0.4 2.1-1.2 2.1-1.9 2.1 0.5 2.2-1.3 2.1-1.1 2.1-0.4 2.1-2.3 2.2-0.8 2.1-1.5 2.1 0 2.2-1.2 2.1-0.6 2.1-2.8 2.1-0.9 2.2-1.6 2.1-1.4 2.1 0.4 2.2-0.9 2.1-1.5 2.1-2 2.1 0.5 2.2-2.6 2.1-0.9M30.3 218.9l2.1-1.8 2.2-2.2 2.1-1.1 2.1-2.5 2.1-1.4 2.2-2.4 2.1-1.4 2.1-1.3 2.2-0.8 2.1-1.7 2.1-1 2.1-3.7 2.2 0.7 2.1-1.8 2.1-1.7 2.2 0.5 2.1-1.5 2.1-1.3 2.1-0.7 2.2-0.9 2.1-1.4 2.1-1.9 2.1-0.7 2.2-0.6 2.1-1 2.1-0.3 2.2-1.9 2.1-0.9 2.1-0.5 2.1-1.4 2.2-0.9 2.1-0.9 2.1-0.8 2.2-1 2.1-1 2.1-1 2.1-0.9 2.2-0.9 2.1-0.8 2.1-0.8 2.2-1.6 2.1 0.4 2.1-1.9 2.1-0.5 2.2-0.8 2.1-0.6 2.1-0.9 2.2-0.4 2.1-0.8 2.1-1.6 2.1-0.1 2.2-2.4 2.1-1.2 2.1 1.6 2.1-2.2 2.2-2.2 2.1-1.1 2.1-1 2.2-1.3 2.1-1.4 2.1-1.2 2.1-1.7 2.2 0.1 2.1-1.7 2.1 0.7 2.2-2.2 2.1-0.3 2.1-3.2 2.1-2 2.2 0.2 2.1 0.1M30.3 217.4l2.1-0.4 2.2-1.8 2.1-3.4 2.1-0.5 2.1-1.1 2.2-1.8 2.1-2.6 2.1-2.2 2.2-1.8 2.1-0.1 2.1-1 2.1-2.5 2.2 0.3 2.1-2.2 2.1-0.3 2.2-1.1 2.1-0.8 2.1-1.4 2.1-0.8 2.2-1 2.1-1.5 2.1-0.8 2.1-1.6 2.2-0.9 2.1-0.8 2.1-1 2.2-0.9 2.1-1.7 2.1-0.3 2.1-0.7 2.2-1.1 2.1-1.2 2.1-0.8 2.2-0.9 2.1-1 2.1-0.9 2.1-1 2.2-0.9 2.1-0.4 2.1-1 2.2-0.3 2.1-2.1 2.1-0.9 2.1-1 2.2-0.4 2.1-1.3 2.1-0.4 2.2-0.9 2.1-0.3 2.1-1.4 2.1-1.1 2.2-1.9 2.1-1.4 2.1 0.2 2.1-1.5 2.2-0.8 2.1-0.2 2.1-0.3 2.2-1.5 2.1-0.5 2.1-1.8 2.1-1.3 2.2-1.2 2.1-1.4 2.1-1.8 2.2-0.4 2.1-2.7 2.1 0.6 2.1-2.7 2.2-1.4 2.1-0.2M30.3 218.8l2.1-2.4 2.2-1.2 2.1-0.7 2.1-2.4 2.1-1.9 2.2-1.4 2.1-1.5 2.1-1.4 2.2-1.5 2.1-0.9 2.1-1.1 2.1-3.1 2.2-0.1 2.1-1.8 2.1-0.1 2.2-2.2 2.1-0.5 2.1-3.2 2.1 1.1 2.2-1.1 2.1-2.1 2.1-1.2 2.1 0.5 2.2-2.2 2.1-1.4 2.1-0.2 2.2-1.9 2.1-0.6 2.1-0.8 2.1-1.2 2.2-1 2.1-0.7 2.1-1.6 2.2-0.4 2.1-0.9 2.1-1.1 2.1-0.7 2.2-1.2 2.1-0.5 2.1-1.1 2.2-0.7 2.1-0.9 2.1-0.7 2.1-0.9 2.2-1.6 2.1 0.1 2.1-1 2.2-1 2.1-1.4 2.1-0.9 2.1-1.2 2.2 0.2 2.1-1.8 2.1-0.7 2.1-0.9 2.2-1.3 2.1 0.4 2.1-2.5 2.2-1 2.1-0.1 2.1-2.1 2.1-2.5 2.2 0 2.1-2.1 2.1-0.8 2.2-1.1 2.1-1.4 2.1-1.9 2.1-2.7 2.2-1.1 2.1-0.1M30.3 218.9l2.1 0.7 2.2-3.6 2.1-0.1 2.1-2.8 2.1-1.4 2.2-1.4 2.1-0.3 2.1-3 2.2-1.5 2.1-0.9 2.1-2 2.1-2.2 2.2-0.4 2.1-2 2.1-0.6 2.2-2.3 2.1-1.5 2.1-2.3 2.1-0.3 2.2-1 2.1-1.6 2.1 0.1 2.1-2 2.2-0.2 2.1-1 2.1-1.6 2.2-0.6 2.1-1.3 2.1 0.1 2.1-1.5 2.2-0.7 2.1-1.1 2.1-0.6 2.2-1.5 2.1-0.8 2.1-0.8 2.1-0.7 2.2-1 2.1-1.5 2.1-0.6 2.2-0.9 2.1-1.3 2.1-0.8 2.1-1 2.2-1.2 2.1-0.7 2.1-1.2 2.2 0.2 2.1-1.5 2.1-0.6 2.1-1 2.2-0.8 2.1-0.5 2.1-1 2.1-1.7 2.2 0 2.1-0.6 2.1-2.3 2.2-1.4 2.1-0.4 2.1-1.6 2.1-0.7 2.2-1.8 2.1-2.3 2.1-1.2 2.2-0.9 2.1-1.1 2.1-0.3 2.1-2.8 2.2-1.5 2.1-1.8M30.3 218.7l2.1-1.4 2.2-1.7 2.1-2.5 2.1 0 2.1-2.6 2.2-1.7 2.1-0.2 2.1-1.1 2.2-2.6 2.1-1.2 2.1-1.8 2.1-1.5 2.2-0.6 2.1-2.1 2.1-2 2.2-0.5 2.1-1.4 2.1-0.9 2.1-2.2 2.2-1.7 2.1 0.6 2.1-2 2.1-1 2.2-0.2 2.1-1 2.1-0.6 2.2-1 2.1-1.2 2.1-1.1 2.1-0.8 2.2-1.2 2.1-0.8 2.1-0.8 2.2-1.4 2.1-0.8 2.1-0.8 2.1-1.4 2.2-0.7 2.1-0.9 2.1-1.5 2.2 0.5 2.1-1.2 2.1-1.8 2.1-0.5 2.2-0.6 2.1-1.9 2.1-0.4 2.2-0.1 2.1-1.2 2.1-1.7 2.1-1.5 2.2 1.1 2.1-2.3 2.1-0.8 2.1-0.3 2.2-2 2.1-0.2 2.1-1.8 2.2-2.5 2.1-0.3 2.1-1.3 2.1-0.9 2.2-0.9 2.1-1.5 2.1 0.5 2.2-1.8 2.1-2.1 2.1-0.1 2.1-1.6 2.2-2.7 2.1-1.8M30.3 220.6l2.1-1.7 2.2-4.3 2.1-0.8 2.1-1.7 2.1-2.1 2.2-3.2 2.1-0.4 2.1-0.2 2.2-2.1 2.1-1.2 2.1-0.7 2.1-1.8 2.2-1.1 2.1-1 2.1-1 2.2-2 2.1 0.1 2.1-2.7 2.1-0.9 2.2-1.3 2.1 0.1 2.1-3.1 2.1 0.5 2.2-1.4 2.1-1.7 2.1-0.4 2.2-1 2.1-0.3 2.1-1.6 2.1-1.2 2.2-1.1 2.1-0.7 2.1-1.1 2.2-0.9 2.1-0.9 2.1-0.8 2.1-1.4 2.2-0.4 2.1-1.4 2.1-0.6 2.2-1.3 2.1-0.2 2.1-1.3 2.1-0.9 2.2-0.7 2.1-1.1 2.1-0.5 2.2-1.3 2.1-0.9 2.1-1.6 2.1-0.6 2.2-0.3 2.1-1.5 2.1-1.2 2.1-0.5 2.2-2.3 2.1-0.4 2.1-1.4 2.2 0 2.1-1.4 2.1-2.1 2.1 0.4 2.2-2.6 2.1-1.1 2.1-0.9 2.2-1.7 2.1-0.4 2.1-2.2 2.1-0.1 2.2-1.1 2.1-3.4M30.3 220.8l2.1-2.7 2.2-1.5 2.1-2.9 2.1-0.4 2.1-2.3 2.2-0.6 2.1-2.5 2.1-2.5 2.2-0.8 2.1-1.2 2.1 0.1 2.1-2.4 2.2-0.7 2.1-2.5 2.1-0.3 2.2-1.8 2.1-0.4 2.1-2.8 2.1 0.6 2.2-1.8 2.1-2.4 2.1 0.1 2.1-0.6 2.2-1.8 2.1-1.3 2.1-1 2.2 0 2.1-1.9 2.1-0.2 2.1-2.4 2.2-0.4 2.1-0.9 2.1-1.2 2.2-0.8 2.1-0.9 2.1-1.2 2.1-0.6 2.2-0.6 2.1-1.7 2.1-1 2.2-0.8 2.1-0.7 2.1-0.3 2.1-1.7 2.2-1.3 2.1-0.5 2.1-1.3 2.2 0.1 2.1-1.9 2.1-1.1 2.1 0.2 2.2-1 2.1-1.7 2.1-1.7 2.1-1.4 2.2-0.9 2.1-1.3 2.1-1.2 2.2-1.4 2.1-1.5 2.1-1.2 2.1-0.7 2.2-1.4 2.1-0.6 2.1-2 2.2-0.1 2.1-2.7 2.1 0.2 2.1-1.4 2.2-0.3 2.1-1.6M30.3 222l2.1-2.7 2.2-0.7 2.1-0.6 2.1-3.3 2.1-0.3 2.2-2.1 2.1-3.3 2.1-1.1 2.2-0.5 2.1-1.4 2.1-1.8 2.1-0.3 2.2-3 2.1-0.9 2.1-2.9 2.2 0.4 2.1-2.7 2.1-0.5 2.1-2.3 2.2-0.2 2.1-2.2 2.1-0.6 2.1-0.9 2.2-1.3 2.1-1.3 2.1-0.9 2.2-1.4 2.1-0.7 2.1 0.3 2.1-1.8 2.2-0.6 2.1-1.5 2.1-1.2 2.2-0.8 2.1-1.2 2.1-1 2.1-0.9 2.2-1.4 2.1-0.8 2.1-1.1 2.2-1.5 2.1-0.2 2.1-1.2 2.1-0.5 2.2-1.4 2.1-1.2 2.1-1 2.2-0.2 2.1-0.5 2.1-0.8 2.1-0.6 2.2-2 2.1-1.9 2.1 1 2.1-1.4 2.2-3.7 2.1 0.5 2.1-2.8 2.2-0.3 2.1-2.8 2.1-1.2 2.1-0.7 2.2-1.5 2.1-0.4 2.1-1.3 2.2-1.8 2.1-0.4 2.1 0.4 2.1-1 2.2-1.8 2.1-1.6M30.3 223.8l2.1-0.7 2.2-4.5 2.1-1.1 2.1-2.3 2.1-2.2 2.2-2.4 2.1-1.6 2.1-1.3 2.2-1.3 2.1-0.4 2.1-2.6 2.1-0.9 2.2-1.2 2.1-2.9 2.1 1.6 2.2-2.4 2.1-1.9 2.1-1.1 2.1-1.5 2.2 0.1 2.1-1.6 2.1-2.1 2.1-0.8 2.2-2.2 2.1-0.5 2.1-1.1 2.2-1.2 2.1-0.7 2.1-1.2 2.1-0.8 2.2-1.2 2.1-0.9 2.1-1.2 2.2-0.8 2.1-1.2 2.1-1 2.1-1 2.2-0.7 2.1-1.2 2.1-0.7 2.2-2.1 2.1 0.3 2.1-2.3 2.1 0 2.2-1.6 2.1-0.7 2.1-0.9 2.2-1.8 2.1-1 2.1-0.6 2.1-0.8 2.2-2.9 2.1-0.8 2.1-0.4 2.1-0.9 2.2-1.4 2.1-0.9 2.1-1.8 2.2 0.5 2.1-1.6 2.1-0.4 2.1-2.6 2.2-1.5 2.1 0.2 2.1-1.8 2.2-2.1 2.1-0.3 2.1-1.1 2.1-3.4 2.2-1.3 2.1-1.1M30.3 226l2.1-0.4 2.2-2.1 2.1-2.7 2.1-2.1 2.1-1 2.2-3.5 2.1-1.8 2.1-3.4 2.2-2.7 2.1 0.8 2.1-1.7 2.1-1.6 2.2-1.5 2.1-1.2 2.1-1.7 2.2-1.8 2.1 0.3 2.1-1 2.1-1.2 2.2-3 2.1-1.5 2.1 0.2 2.1-1.3 2.2-2.2 2.1-1.8 2.1-1.1 2.2-0.8 2.1-1.3 2.1-0.9 2.1-0.8 2.2-1.8 2.1-0.4 2.1-0.9 2.2-1.2 2.1-1.2 2.1-1 2.1-1.3 2.2-0.5 2.1-1.7 2.1-1.5 2.2-0.6 2.1-0.5 2.1-1.3 2.1-1.3 2.2-0.6 2.1-1 2.1-1.4 2.2-1 2.1-1.4 2.1 0.1 2.1-2.8 2.2-0.6 2.1-1 2.1-0.2 2.1-2.8 2.2 0.1 2.1-2.9 2.1-0.8 2.2 0 2.1-1.7 2.1-3.1 2.1-0.8 2.2-0.5 2.1-1.6 2.1-1.5 2.2-0.7 2.1-1.9 2.1-1.2 2.1-1.8 2.2-2.4 2.1-0.3M30.3 226.7l2.1-1.5 2.2-3 2.1-0.9 2.1-2.7 2.1-2.8 2.2-1.3 2.1-2.1 2.1-0.5 2.2-3.5 2.1 0 2.1-2.3 2.1-1.2 2.2-2.2 2.1-0.7 2.1-1.2 2.2-1.1 2.1-2.7 2.1-1.1 2.1-2.5 2.2-2 2.1 0.7 2.1-1.7 2.1-2 2.2-1.5 2.1-0.6 2.1-1 2.2-1 2.1-1.1 2.1-1.4 2.1-0.7 2.2-0.6 2.1-1.4 2.1-1.3 2.2-0.9 2.1-1.2 2.1-1 2.1-1 2.2-1.4 2.1-0.7 2.1-0.8 2.2-1.1 2.1-1.2 2.1-1.8 2.1-0.2 2.2-1.6 2.1-0.6 2.1 0.3 2.2-2.5 2.1-0.6 2.1-0.9 2.1-1.5 2.2-3 2.1 0.8 2.1-1.9 2.1-2.4 2.2-0.9 2.1 0.4 2.1-2.3 2.2-0.9 2.1-1.5 2.1-2 2.1-0.3 2.2-1.6 2.1-2.8 2.1 1.2 2.2-2.6 2.1-2.1 2.1 0.1 2.1-2 2.2-0.7 2.1-2.8M30.3 225.9l2.1-0.8 2.2-3.9 2.1-1.2 2.1-2.3 2.1-0.1 2.2-3.6 2.1-2.8 2.1-0.7 2.2-0.2 2.1-2.8 2.1-1.6 2.1-1.8 2.2-1.2 2.1-2 2.1-0.7 2.2-1.8 2.1-0.7 2.1-1.8 2.1-1.8 2.2-0.5 2.1-2 2.1-0.4 2.1-1.6 2.2-1.4 2.1-2 2.1-0.3 2.2-2.1 2.1 0 2.1-1.6 2.1-1.4 2.2-1 2.1-0.6 2.1-1 2.2-1.5 2.1-1 2.1-1.1 2.1-0.8 2.2-1.1 2.1-1.7 2.1-0.9 2.2-0.9 2.1-0.2 2.1-1.8 2.1-1.1 2.2-1 2.1-1.9 2.1 0.4 2.2-2.2 2.1-1 2.1-0.6 2.1-2.6 2.2 0.6 2.1-2 2.1-1.3 2.1 0.2 2.2-1.8 2.1-1.7 2.1-2.6 2.2-1.4 2.1-1.1 2.1-1 2.1 0.7 2.2-3 2.1-0.6 2.1-2.5 2.2-1.3 2.1-2 2.1 0 2.1-1.6 2.2 0.1 2.1-2.7M30.3 225.6l2.1-1.1 2.2-2.6 2.1-0.8 2.1-3.7 2.1 0 2.2-3 2.1-2.6 2.1 1.9 2.2-2.9 2.1-2.3 2.1-2.8 2.1-0.5 2.2-2.3 2.1-0.9 2.1-2.5 2.2-0.3 2.1-2.9 2.1 1 2.1-2.1 2.2-3.5 2.1-0.3 2.1-0.7 2.1-2.8 2.2-0.6 2.1-1.1 2.1-0.4 2.2-1.6 2.1-1 2.1-0.3 2.1-1.9 2.2-0.8 2.1-1.5 2.1-1.1 2.2-0.7 2.1-1.2 2.1-1 2.1-1.2 2.2-0.8 2.1-1.1 2.1-1.4 2.2-1.1 2.1-1.5 2.1-0.7 2.1-0.7 2.2-0.7 2.1-2.3 2.1-0.4 2.2-1 2.1-1 2.1-0.1 2.1-1.6 2.2 0.4 2.1-2.4 2.1-0.7 2.1-3.1 2.2-0.3 2.1-1 2.1-1.8 2.2-2.1 2.1-0.5 2.1-2.1 2.1-1.5 2.2-3.9 2.1 0.5 2.1 0.4 2.2-3.6 2.1-2.7 2.1 2 2.1-5 2.2 2.1 2.1-2.2M30.3 228.3l2.1-3.6 2.2-2.2 2.1-1.2 2.1-2.6 2.1-1.9 2.2-1.5 2.1-2.3 2.1-1.8 2.2-0.9 2.1-1.5 2.1-2 2.1-2.3 2.2-2.5 2.1-1.6 2.1-0.7 2.2-2 2.1-0.8 2.1-2.1 2.1-0.7 2.2-1.5 2.1-0.9 2.1-1.3 2.1-2.3 2.2 0.5 2.1-1.7 2.1-0.9 2.2-1.8 2.1-1.4 2.1-0.3 2.1-0.2 2.2-2.3 2.1-1.1 2.1-0.6 2.2-1.4 2.1-1.2 2.1-0.7 2.1-1.5 2.2-1.1 2.1-1 2.1-0.7 2.2-1.2 2.1-1.1 2.1-1.7 2.1-0.4 2.2-2.3 2.1-0.6 2.1 0.3 2.2-3.2 2.1-0.2 2.1-0.6 2.1-1.4 2.2 0.3 2.1-2.3 2.1 0.7 2.1-2 2.2-2.8 2.1-1.1 2.1-0.1 2.2-0.8 2.1-2.8 2.1-0.7 2.1-1.8 2.2-1.9 2.1-0.2 2.1-3.3 2.2 0.8 2.1-4.8 2.1 1 2.1-2.5 2.2-1.5 2.1-2.9M30.3 231l2.1-2.3 2.2-4.3 2.1-2.1 2.1-2.3 2.1-2.5 2.2-1.8 2.1-1.5 2.1-1.7 2.2-1.7 2.1-4.3 2.1-1.5 2.1 0 2.2-2.3 2.1-2.1 2.1-2.2 2.2 0.1 2.1-1.8 2.1-2 2.1 0.5 2.2-1.9 2.1-1.7 2.1-0.8 2.1-2.8 2.2-0.6 2.1-0.8 2.1-0.6 2.2-2 2.1-1 2.1-0.6 2.1-1.1 2.2-0.8 2.1-1.5 2.1-1.3 2.2-1 2.1-1 2.1-1.1 2.1-0.8 2.2-1 2.1-1.5 2.1-0.8 2.2-0.6 2.1-1.6 2.1-1.3 2.1-1.1 2.2-0.9 2.1-0.9 2.1-1.7 2.2-1.9 2.1-0.3 2.1-0.6 2.1-1.7 2.2-0.1 2.1-2.1 2.1-0.7 2.1-2 2.2-0.5 2.1-1.9 2.1-2.2 2.2 0.6 2.1-0.9 2.1-2.4 2.1-1 2.2-1.7 2.1-0.9 2.1-2.6 2.2-1.1 2.1 0.4 2.1-3.2 2.1-2 2.2-2.3 2.1 0.1M30.3 226.4l2.1-1.1 2.2-3.8 2.1-0.5 2.1-1.7 2.1-3.8 2.2-0.6 2.1-0.1 2.1-2.2 2.2-1.9 2.1-1.4 2.1-1 2.1-3.8 2.2-1.7 2.1-1.3 2.1-1.2 2.2-2 2.1-1.7 2.1-0.3 2.1-1.8 2.2-1.1 2.1-2 2.1-1 2.1-0.4 2.2-1.6 2.1-2.4 2.1 0.1 2.2-1.7 2.1-0.9 2.1-1.8 2.1-0.6 2.2-1 2.1-0.9 2.1-1.3 2.2-1.2 2.1-1 2.1-0.8 2.1-1.5 2.2-0.6 2.1-0.8 2.1-1.4 2.2-0.8 2.1-1.1 2.1-1.2 2.1-1.4 2.2-1 2.1-0.5 2.1-2.4 2.2-0.5 2.1-2.1 2.1-0.7 2.1-1.1 2.2-0.8 2.1-1.8 2.1-0.1 2.1-0.7 2.2-2.2 2.1 1 2.1-3.1 2.2-1.7 2.1-0.9 2.1-2.6 2.1-0.9 2.2-0.8 2.1-0.9 2.1-2.5 2.2 0.2 2.1-1.5 2.1-2.5 2.1-1.5 2.2-3 2.1 0.3M30.3 230.9l2.1-2.4 2.2-1.6 2.1-3.7 2.1-2.3 2.1-1.9 2.2-0.4 2.1-2.4 2.1-1.3 2.2-1.8 2.1-2 2.1-1.6 2.1-2.8 2.2-2.1 2.1-1.7 2.1-1.1 2.2-1.1 2.1-2 2.1-1.8 2.1-0.9 2.2-1.6 2.1-1.1 2.1-1.3 2.1-1.6 2.2-0.7 2.1-2.4 2.1 0 2.2-2.2 2.1-0.5 2.1-2.4 2.1-0.9 2.2-0.7 2.1-1.3 2.1-1 2.2-1.5 2.1-1.1 2.1-1.5 2.1-0.5 2.2-1.8 2.1-0.6 2.1-1.5 2.2-1.4 2.1-1 2.1-1.1 2.1-0.9 2.2-1.3 2.1-1.2 2.1-1.7 2.2 0.3 2.1-1.7 2.1-0.6 2.1-1.3 2.2-1.2 2.1-2.4 2.1-1.9 2.1-0.6 2.2 0.6 2.1-2.1 2.1-0.3 2.2-2.5 2.1-2 2.1-0.8 2.1-1.7 2.2-0.6 2.1 0 2.1-1.5 2.2-3.3 2.1-2.3 2.1-2.3 2.1-0.3 2.2-2.3 2.1-2M30.3 233l2.1-3.8 2.2-1.2 2.1-2.4 2.1-4.1 2.1-2.2 2.2-3.1 2.1-2.7 2.1-0.5 2.2-3.1 2.1 0.4 2.1-2.5 2.1 0.1 2.2-2.5 2.1-1.2 2.1-1.7 2.2-2.2 2.1 0 2.1-3 2.1-1 2.2-2.2 2.1-1.6 2.1-1 2.1-1.3 2.2-0.9 2.1-2.1 2.1-0.6 2.2-1.7 2.1-0.4 2.1-2.3 2.1-0.3 2.2-1.9 2.1-0.7 2.1-1.4 2.2-1 2.1-1.2 2.1-1.1 2.1-1.4 2.2-1 2.1-1.1 2.1-1.5 2.2-0.3 2.1-1.9 2.1-0.7 2.1-0.4 2.2-2.2 2.1-0.9 2.1-2.3 2.2 0 2.1-1.5 2.1-1.4 2.1 0.2 2.2-2.7 2.1-0.2 2.1-2.8 2.1-1.4 2.2 0 2.1-0.1 2.1-2.6 2.2-1.4 2.1-1.8 2.1-0.7 2.1-0.7 2.2-2.4 2.1-1 2.1-3.9 2.2 0.5 2.1-1.7 2.1-2.3 2.1-0.6 2.2-2.5 2.1-2M30.3 231l2.1-1 2.2-3 2.1-2.1 2.1-2.8 2.1-1.6 2.2-2.2 2.1-1.5 2.1-3.1 2.2-0.9 2.1-4.1 2.1-0.5 2.1-1.6 2.2-2.5 2.1-1 2.1-1.7 2.2-1.5 2.1-1 2.1-1.4 2.1-1.6 2.2-2.5 2.1-0.3 2.1-1.4 2.1-1.3 2.2-1.9 2.1-1.9 2.1 0.2 2.2-1.8 2.1-1 2.1-1.1 2.1-1.4 2.2-0.6 2.1-1.9 2.1-1 2.2-0.9 2.1-1.4 2.1-1.2 2.1-1.3 2.2-0.4 2.1-1.5 2.1-1 2.2-1.6 2.1-1.5 2.1 0.3 2.1-2 2.2-1.1 2.1-1.8 2.1-0.6 2.2-0.5 2.1-1.8 2.1-0.7 2.1-1.4 2.2-1.8 2.1-1 2.1-1.8 2.1 0 2.2-4.1 2.1-0.5 2.1-1 2.2 0.3 2.1-0.6 2.1-2.3 2.1-1.8 2.2-3.3 2.1-0.6 2.1 0.2 2.2-3 2.1-1.6 2.1-0.6 2.1-2.9 2.2-1 2.1-1.1M30.3 232.5l2.1-6.7 2.2-0.2 2.1-3.1 2.1-3 2.1 1 2.2-2.2 2.1-4.6 2.1 0.5 2.2-1.9 2.1-1.9 2.1-2.3 2.1-1.9 2.2-0.7 2.1-1.3 2.1-1.9 2.2-1.9 2.1-2.2 2.1-0.8 2.1-2.6 2.2 0.2 2.1-2.3 2.1-2.1 2.1-1 2.2-0.8 2.1-0.6 2.1-1.4 2.2-1.4 2.1-1.5 2.1-0.9 2.1-0.8 2.2-1.5 2.1-1.5 2.1-1.3 2.2-0.8 2.1-1.4 2.1-0.8 2.1-1.3 2.2-2.2 2.1-0.2 2.1-1 2.2-1 2.1-0.9 2.1-0.8 2.1-2 2.2-1 2.1-2.1 2.1 0.5 2.2-2.3 2.1-1.7 2.1 0.8 2.1-2.9 2.2 0.2 2.1-2.8 2.1-2 2.1-0.4 2.2-1.7 2.1-0.8 2.1-2.2 2.2-2.2 2.1-0.5 2.1-1.6 2.1-1.9 2.2-1.8 2.1 0.7 2.1-2.8 2.2-0.7 2.1-2.4 2.1-1.8 2.1-0.7 2.2-2.3 2.1 0.7M30.3 231.7l2.1-1.9 2.2-3.2 2.1-1.5 2.1-3.6 2.1-1.4 2.2-0.5 2.1-3.7 2.1-1 2.2-4 2.1-2.2 2.1-0.5 2.1-1.9 2.2-0.1 2.1-0.8 2.1-2.7 2.2-1.6 2.1-0.6 2.1-2.5 2.1-1.7 2.2-1.7 2.1-2.1 2.1-1.1 2.1-0.8 2.2-1.7 2.1-1.6 2.1-0.4 2.2-2.3 2.1-1 2.1-0.7 2.1-1 2.2-2.5 2.1-0.2 2.1-1.2 2.2-1.3 2.1-1 2.1-1.1 2.1-1.2 2.2-0.8 2.1-1.7 2.1-0.4 2.2-2 2.1-1.2 2.1-0.3 2.1-2.7 2.2 0.4 2.1-2.2 2.1-0.2 2.2-1.5 2.1-0.6 2.1-3.1 2.1-0.4 2.2-1.9 2.1-0.8 2.1-1.5 2.1-1.2 2.2-1.3 2.1-2.1 2.1-1.1 2.2-1.2 2.1-0.3 2.1-2 2.1-2 2.2-0.3 2.1-1.9 2.1-1 2.2-0.7 2.1-1.7 2.1-1.9 2.1-2.3 2.2-2 2.1-3.3M30.3 229.2l2.1-1.5 2.2-2.5 2.1-1.4 2.1-2.7 2.1-0.5 2.2-1.7 2.1-2 2.1-3.5 2.2-1.8 2.1 0 2.1-3.3 2.1-0.8 2.2-2.7 2.1-0.8 2.1-2.7 2.2-0.9 2.1-1.6 2.1-1.7 2.1-1.6 2.2-0.9 2.1-0.9 2.1-3 2.1-0.1 2.2-0.5 2.1-1 2.1-1 2.2-2.3 2.1-2.1 2.1-0.1 2.1-1.8 2.2-0.7 2.1-2.1 2.1-1 2.2-1.2 2.1-1.1 2.1-1.4 2.1-1.1 2.2-0.8 2.1-0.8 2.1-1.2 2.2-0.8 2.1-2.6 2.1-0.3 2.1-1.4 2.2-1.2 2.1-2.3 2.1 0.1 2.2-2.3 2.1-0.8 2.1-1 2.1-0.2 2.2-3.1 2.1-0.1 2.1-1.3 2.1-1.6 2.2-1 2.1-1.9 2.1 0.3 2.2-1.8 2.1-1.3 2.1-1.1 2.1-2 2.2-0.7 2.1-2.9 2.1 0 2.2-1.1 2.1-3 2.1-3 2.1-0.2 2.2-1.7 2.1-2M30.3 233.7l2.1-4.3 2.2-1.3 2.1-3.2 2.1 0.2 2.1-4.8 2.2-0.8 2.1-0.5 2.1-4.6 2.2-1.3 2.1-1.6 2.1-2.6 2.1-0.6 2.2-3.8 2.1-1.2 2.1-1.6 2.2-2.7 2.1-0.5 2.1-0.9 2.1-1.2 2.2-1.9 2.1-2.1 2.1-0.3 2.1-1.1 2.2-2.4 2.1-0.8 2.1-1.3 2.2-2.2 2.1 0.2 2.1-1.8 2.1-0.5 2.2-1.7 2.1-1.5 2.1-1.2 2.2-0.7 2.1-1.4 2.1-1.3 2.1-1 2.2-1.8 2.1-0.4 2.1-0.9 2.2-1.6 2.1-0.2 2.1-2.7 2.1-1 2.2-0.6 2.1-1.8 2.1-1.2 2.2-2 2.1 0.3 2.1-0.8 2.1-0.6 2.2-2.3 2.1-0.2 2.1-2.1 2.1-1.5 2.2-0.5 2.1-0.8 2.1-2.9 2.2-0.2 2.1-1.8 2.1-2.1 2.1 0.2 2.2-2 2.1-4.7 2.1 0.5 2.2-1 2.1-2.5 2.1-1.5 2.1-1.2 2.2-2.5 2.1-2.1M30.3 231l2.1-1.8 2.2-0.9 2.1-4.2 2.1-1 2.1-3.3 2.2-3 2.1-2.7 2.1 0 2.2-2.4 2.1-1.3 2.1-2.1 2.1 1 2.2-3.3 2.1-2.1 2.1-1.7 2.2-0.8 2.1-2.7 2.1-1.8 2.1-0.9 2.2-1.4 2.1-1.5 2.1-1.7 2.1-2 2.2-1.5 2.1-0.2 2.1-1.1 2.2-1.2 2.1-2 2.1-0.8 2.1-1.1 2.2-1.2 2.1-1.2 2.1-1 2.2-1 2.1-1.4 2.1-1.1 2.1-1.2 2.2-1 2.1-1.1 2.1-1.8 2.2-0.4 2.1-1.4 2.1-0.9 2.1-0.8 2.2-0.8 2.1-1.6 2.1-0.9 2.2-2.1 2.1 0 2.1-1.7 2.1-1.9 2.2-0.9 2.1-1.8 2.1-1.7 2.1 0.3 2.2-2.4 2.1-1.1 2.1-3.3 2.2-0.4 2.1-1.9 2.1-2.4 2.1 0.3 2.2-1.7 2.1-1.6 2.1-0.7 2.2-2.8 2.1-1.1 2.1-1.7 2.1-0.8 2.2-1.4 2.1-1.8M30.3 234l2.1-3 2.2-2.6 2.1-2.4 2.1-3.7 2.1 0.1 2.2-3.3 2.1-2.4 2.1-1.5 2.2-1.8 2.1-1.3 2.1-2.2 2.1-2.8 2.2-2.4 2.1-0.2 2.1-2.6 2.2-1.7 2.1-1.9 2.1-1.1 2.1-1.6 2.2-1.8 2.1-0.1 2.1-2 2.1-0.2 2.2-1.2 2.1-1.8 2.1-0.9 2.2-2.2 2.1-1.4 2.1-0.7 2.1-1.3 2.2-1.3 2.1-1.3 2.1-1.3 2.2-1.3 2.1-1.1 2.1-1.1 2.1-1.1 2.2-1.5 2.1-0.8 2.1-1.8 2.2-0.5 2.1-1.7 2.1 0 2.1-1.3 2.2-1.8 2.1-1.2 2.1-1 2.2-2.6 2.1-0.3 2.1-1.7 2.1-0.9 2.2-2.9 2.1-0.9 2.1-1.1 2.1 0.2 2.2-2.7 2.1-0.5 2.1-1.8 2.2-1.5 2.1 0.2 2.1-2.1 2.1-1.9 2.2-0.8 2.1-1.2 2.1-1.1 2.2-2.1 2.1-1.3 2.1-3.9 2.1-1 2.2-0.5 2.1-2.9M30.3 233.2l2.1-2.2 2.2-2.3 2.1-2.9 2.1-2.9 2.1-2.2 2.2-2.9 2.1-1.8 2.1-1.5 2.2-2.5 2.1-0.3 2.1-4 2.1 0.9 2.2-2.7 2.1-1.9 2.1-1.5 2.2-1.5 2.1-2.2 2.1 0 2.1-2.2 2.2-1.7 2.1-1.1 2.1-1.4 2.1-2.4 2.2-0.2 2.1-1.4 2.1-1.4 2.2-1.3 2.1-1.4 2.1-1.1 2.1-1.5 2.2-1.1 2.1-1.4 2.1-1.4 2.2-0.8 2.1-1.3 2.1-1.1 2.1-1.4 2.2-1.1 2.1-1 2.1-0.5 2.2-2.4 2.1-0.2 2.1-1 2.1-2 2.2-0.8 2.1-2.2 2.1-1.2 2.2-0.9 2.1-1.1 2.1-1.8 2.1-0.1 2.2-2.3 2.1-1.4 2.1-0.9 2.1-1.7 2.2 0 2.1-3 2.1-1.5 2.2 0.7 2.1-2.5 2.1-2.5 2.1-0.6 2.2-0.3 2.1-1.6 2.1-3.1 2.2-2.4 2.1 1 2.1-2.5 2.1-0.7 2.2-2 2.1-2.1M30.3 233.9l2.1-2.3 2.2-3.6 2.1-0.7 2.1-3.9 2.1-2.6 2.2-1.9 2.1-1.5 2.1-2.2 2.2-0.7 2.1-3.3 2.1-2.2 2.1-2.2 2.2-1.2 2.1-1.3 2.1-1.4 2.2-2.1 2.1-1.7 2.1-2.2 2.1-0.6 2.2-1.2 2.1-1.6 2.1-1.2 2.1-1.5 2.2-0.3 2.1-1.6 2.1-1.6 2.2-2 2.1-1 2.1-1.4 2.1-1.6 2.2-0.4 2.1-1.9 2.1-1 2.2-1 2.1-1.3 2.1-0.9 2.1-1.2 2.2-1.3 2.1-1.3 2.1-1 2.2-0.4 2.1-1.8 2.1-1.2 2.1-2.4 2.2-0.7 2.1-0.6 2.1-0.5 2.2-2.1 2.1-0.3 2.1-2.1 2.1-1.5 2.2-0.8 2.1-1.9 2.1-1 2.1-1.2 2.2-3 2.1-0.8 2.1-0.8 2.2-1.2 2.1-2.2 2.1-1.8 2.1-1.7 2.2-2.1 2.1-0.6 2.1-0.2 2.2-4.2 2.1-0.7 2.1-1.3 2.1-2 2.2 1.1 2.1-2.6M30.3 233.6l2.1-4.4 2.2 0.6 2.1-3.9 2.1-1.6 2.1-2.8 2.2-1.4 2.1-1.6 2.1-2.9 2.2-0.8 2.1-3.4 2.1-1.3 2.1-2.8 2.2-0.8 2.1-1.6 2.1-2.5 2.2-2.2 2.1 0.6 2.1-3 2.1-1.9 2.2-0.2 2.1-1.8 2.1-2.3 2.1-0.6 2.2-1.4 2.1-2.5 2.1 0 2.2-1.3 2.1-0.7 2.1-1.7 2.1-1.2 2.2-2.2 2.1-1 2.1-0.6 2.2-1.8 2.1-0.9 2.1-1.1 2.1-1.4 2.2-1 2.1-0.8 2.1-0.8 2.2-1.4 2.1-1.5 2.1-1.1 2.1-1 2.2-2 2.1-0.2 2.1-2.3 2.2-0.5 2.1-1.7 2.1-0.6 2.1-2 2.2-0.8 2.1-0.7 2.1-2.6 2.1-1.3 2.2-2 2.1-1.1 2.1-0.4 2.2-1.7 2.1 0.1 2.1-2.5 2.1-3.4 2.2-1.6 2.1-0.9 2.1-1.1 2.2-1.7 2.1-1.4 2.1 0.4 2.1-2.4 2.2-3.5 2.1-1.7M30.3 233.4l2.1-2 2.2-2.6 2.1-4 2.1-1.1 2.1-0.8 2.2-3.1 2.1-0.2 2.1-4 2.2-1.2 2.1-1.6 2.1-2.5 2.1-2.6 2.2-0.5 2.1-1.6 2.1-4.1 2.2-0.4 2.1-2.8 2.1-0.2 2.1-2.3 2.2-0.8 2.1-2.2 2.1-0.8 2.1-1.1 2.2-2.4 2.1-0.6 2.1 0 2.2-2.1 2.1-0.9 2.1-1.2 2.1-1.5 2.2-1.3 2.1-1.5 2.1-1 2.2-1.2 2.1-1.5 2.1-1.3 2.1-0.8 2.2-1.7 2.1-1.1 2.1-0.9 2.2-1.5 2.1-0.7 2.1-1.2 2.1-0.8 2.2-1.8 2.1-1.6 2.1-0.1 2.2-2.2 2.1 0.7 2.1-2 2.1-1.2 2.2-3.2 2.1 0 2.1-2.5 2.1 0.4 2.2-3.1 2.1-1.9 2.1-1.1 2.2 0.6 2.1-3.8 2.1-1.9 2.1-1.8 2.2-0.7 2.1 0.4 2.1-2.6 2.2-2.5 2.1 0 2.1-2.9 2.1-0.8 2.2-2.4 2.1-2.6M30.3 236.8l2.1-1.3 2.2-2.4 2.1-4.2 2.1-2.1 2.1-0.2 2.2-3 2.1-4 2.1-2.5 2.2-2.8 2.1-0.6 2.1-3.4 2.1-1.1 2.2-1.6 2.1-1.9 2.1-2.4 2.2-1.2 2.1-1.7 2.1-0.4 2.1-1.7 2.2-1 2.1-1.9 2.1-1.6 2.1-1.6 2.2-2.1 2.1-1.4 2.1-1.7 2.2-1.1 2.1-1.8 2.1-1 2.1-1.6 2.2-1.1 2.1-1.3 2.1-1 2.2-1 2.1-1.4 2.1-1.5 2.1-1 2.2-1.2 2.1-1 2.1-1.1 2.2-2.5 2.1 0.3 2.1-1.7 2.1-1.3 2.2-0.8 2.1-1.3 2.1-1.7 2.2-1.6 2.1-1.3 2.1-2.1 2.1-0.1 2.2-2.3 2.1-2 2.1-0.9 2.1 0.3 2.2 0.2 2.1-4.1 2.1-1 2.2-0.5 2.1-2.9 2.1-0.1 2.1-2 2.2-0.7 2.1-3 2.1-1.2 2.2-1.8 2.1-3.4 2.1-1.1 2.1-0.3 2.2-3.9 2.1-2M30.3 236.3l2.1-5 2.2 0 2.1-2.7 2.1-4.7 2.1-2.7 2.2-0.1 2.1-2 2.1-1.3 2.2-3.9 2.1-1.1 2.1-1 2.1-2.8 2.2-2.6 2.1-1.2 2.1-2.8 2.2-0.9 2.1-1.2 2.1-1.3 2.1-2 2.2-1.9 2.1-1.3 2.1-1.5 2.1-0.9 2.2-1.7 2.1-1.5 2.1-0.6 2.2-0.8 2.1-2.6 2.1-0.8 2.1-0.9 2.2-1.6 2.1-1.1 2.1-1.1 2.2-1.6 2.1-1.4 2.1-1.2 2.1-1.2 2.2-1.6 2.1-0.9 2.1-1.4 2.2-1 2.1-1.2 2.1-0.8 2.1-2.3 2.2-0.8 2.1-0.8 2.1-1.6 2.2-0.8 2.1-1 2.1-1.8 2.1-2 2.2-0.4 2.1-0.7 2.1-2 2.1-3.4 2.2 0.3 2.1-3.2 2.1-0.5 2.2-2.5 2.1-0.9 2.1-0.4 2.1-2.5 2.2-3.7 2.1 0.4 2.1-2.1 2.2-0.8 2.1-1.7 2.1-2.1 2.1-1.8 2.2-3.5 2.1 0.3M30.3 234.2l2.1-2 2.2-1.4 2.1-1.5 2.1-3.4 2.1-2.1 2.2-3.1 2.1-0.5 2.1-2.3 2.2-2.3 2.1-1.8 2.1-1.7 2.1-1.1 2.2-2 2.1-2.6 2.1-2.2 2.2-2.7 2.1-2.6 2.1-1.2 2.1-0.7 2.2-2.5 2.1-0.2 2.1-1.2 2.1-3 2.2 0.5 2.1-1.7 2.1-1.4 2.2-2.2 2.1-0.3 2.1-1.9 2.1-0.8 2.2-1.1 2.1-1.7 2.1-1.3 2.2-1 2.1-1.5 2.1-1.1 2.1-1.5 2.2-1.1 2.1-1.2 2.1-1.4 2.2-0.9 2.1-1.6 2.1-0.8 2.1-1 2.2-1.5 2.1-1.8 2.1-1.2 2.2-1.9 2.1 0.4 2.1-2.1 2.1-1.6 2.2-0.4 2.1-2 2.1-0.8 2.1-0.8 2.2-3.1 2.1 0.5 2.1-3.4 2.2-0.5 2.1-1.2 2.1-1.8 2.1-1.9 2.2-1.7 2.1-2.8 2.1 0.1 2.2-4.5 2.1-1.3 2.1-2.2 2.1 0.6 2.2-0.3 2.1-3.2M30.3 234.8l2.1 0.5 2.2-3.6 2.1-3 2.1-0.6 2.1-3.1 2.2-3.9 2.1-0.7 2.1-3.5 2.2-1.7 2.1-2.1 2.1-2.5 2.1-1.2 2.2-1.8 2.1-2.6 2.1-1 2.2-1.7 2.1-0.3 2.1-2.3 2.1-2.3 2.2-1.3 2.1-1.2 2.1-1 2.1-1.6 2.2-2.2 2.1-2 2.1-0.8 2.2-2 2.1-0.7 2.1-1.9 2.1-0.4 2.2-1.7 2.1-0.9 2.1-1.7 2.2-1.1 2.1-1.2 2.1-1.1 2.1-1.3 2.2-0.9 2.1-1.3 2.1-1.3 2.2-1.9 2.1-1.5 2.1-0.5 2.1-1.3 2.2-1.5 2.1-0.8 2.1-1.4 2.2-1.9 2.1-0.9 2.1-1.1 2.1-1.1 2.2-2.7 2.1 0 2.1-2 2.1-0.6 2.2-1.8 2.1-1.9 2.1-1 2.2-2 2.1-1 2.1-0.1 2.1-0.6 2.2-4.3 2.1-0.2 2.1-3.6 2.2-0.6 2.1-1.3 2.1-3.4 2.1-1.4 2.2-2.5 2.1-1.2M30.3 237.6l2.1-2.1 2.2-6.1 2.1-1.5 2.1-1.9 2.1 0.4 2.2-3.9 2.1-2.3 2.1-1.8 2.2-2.3 2.1-1.1 2.1-2.7 2.1-1.3 2.2-2.6 2.1-2.5 2.1-1 2.2-2.2 2.1-1.6 2.1-2 2.1-2.1 2.2-1.1 2.1-1.5 2.1-0.3 2.1-2.1 2.2-2 2.1-0.4 2.1-1.6 2.2-1.1 2.1-2.4 2.1-0.6 2.1-1.3 2.2-1.8 2.1-1.5 2.1-1.1 2.2-1.4 2.1-1.1 2.1-1.2 2.1-1.2 2.2-1.2 2.1-1.3 2.1-1.6 2.2-1.1 2.1-1.3 2.1-1.6 2.1-0.9 2.2-0.6 2.1-1.6 2.1-1 2.2-0.8 2.1-2.5 2.1-0.5 2.1-1.3 2.2-1.4 2.1-2.7 2.1-0.6 2.1-2.3 2.2-0.6 2.1-1.2 2.1-2.2 2.2-1.5 2.1-1 2.1-0.5 2.1-2 2.2-0.9 2.1-2.3 2.1-1.9 2.2-3 2.1-1.7 2.1-1.1 2.1-2.2 2.2-1.3 2.1-4.6M30.3 237.6l2.1-1.7 2.2-4.6 2.1-1.7 2.1-3 2.1-1.2 2.2-0.6 2.1-4 2.1-2.5 2.2 0.2 2.1-2.3 2.1-2.6 2.1-2.1 2.2-1 2.1-4.8 2.1-1.5 2.2-0.8 2.1-1 2.1-3.3 2.1-2.7 2.2-0.8 2.1-1.6 2.1-0.1 2.1-2.1 2.2-0.3 2.1-3.3 2.1-0.6 2.2-0.1 2.1-1.5 2.1-2.4 2.1-1.2 2.2-1.2 2.1-1.7 2.1-1.6 2.2-0.9 2.1-1.3 2.1-1.2 2.1-1 2.2-1.3 2.1-1.7 2.1-1.1 2.2-0.9 2.1-1.8 2.1-0.9 2.1-2 2.2-0.9 2.1-1.7 2.1-0.8 2.2-1.9 2.1-0.7 2.1-1.4 2.1-0.9 2.2-1.9 2.1 0 2.1-4.7 2.1 0.9 2.2-2.2 2.1-1.1 2.1-1.5 2.2-2.3 2.1-0.8 2.1-1.5 2.1-0.7 2.2-1.9 2.1-1.3 2.1-4.5 2.2 1.1 2.1-2.2 2.1-3.3 2.1-3.4 2.2 0.8 2.1-2.3M30.3 239.7l2.1-3.4 2.2-1.8 2.1-2.6 2.1-3.2 2.1-1.8 2.2-2.8 2.1-1.5 2.1-2.6 2.2-3.2 2.1-1.7 2.1-1.7 2.1-3.2 2.2-1.9 2.1-1.5 2.1-1.2 2.2-3 2.1-2.8 2.1 0.6 2.1-1.1 2.2-2.1 2.1-1.5 2.1-1.4 2.1-1.6 2.2-2.6 2.1-1.5 2.1-1.7 2.2-1.1 2.1-0.8 2.1-2 2.1-0.7 2.2-1.4 2.1-1.1 2.1-1.9 2.2-1.1 2.1-1.1 2.1-1.3 2.1-1.3 2.2-1.3 2.1-1.5 2.1-0.9 2.2-1.4 2.1-0.4 2.1-1.7 2.1-0.4 2.2-3.1 2.1-1.1 2.1-0.9 2.2-1.6 2.1-1.9 2.1-0.8 2.1 0.3 2.2-2.4 2.1 0 2.1-2.5 2.1-1.2 2.2-2.4 2.1-1.9 2.1-0.4 2.2-2.1 2.1-2 2.1-1.2 2.1-1.6 2.2 0.4 2.1-3.4 2.1-2.9 2.2-1.3 2.1-0.3 2.1-3 2.1-2.6 2.2-0.9 2.1-3.7M30.3 238.5l2.1-1.4 2.2-3.1 2.1-0.1 2.1-4.7 2.1-2 2.2-1.1 2.1-4.7 2.1-0.9 2.2-2.3 2.1-1.3 2.1-2 2.1-3 2.2-1.3 2.1-3.6 2.1-2.1 2.2-0.7 2.1-1 2.1-2.5 2.1-1.2 2.2-2.4 2.1-1.6 2.1-1.2 2.1-1.9 2.2-2.1 2.1-1.9 2.1-0.3 2.2-2.1 2.1-1 2.1-1 2.1-2.3 2.2-0.9 2.1-1.2 2.1-1.3 2.2-1.2 2.1-1.4 2.1-1.6 2.1-1.1 2.2-1.1 2.1-1.5 2.1-1.4 2.2-0.7 2.1-1.7 2.1-0.9 2.1-1.8 2.2-0.9 2.1-2.8 2.1 0.2 2.2-1.8 2.1-1.3 2.1-0.8 2.1-2.2 2.2-0.7 2.1-1.3 2.1-1.9 2.1-1 2.2-3.3 2.1-1.3 2.1-2.1 2.2 0.1 2.1-3.2 2.1-0.8 2.1-2.5 2.2-2.7 2.1-0.7 2.1-1.2 2.2-2.8 2.1-1.6 2.1-2.5 2.1 1.9 2.2-4.1 2.1-1.2M30.3 238.7l2.1-0.3 2.2-2.6 2.1-2.2 2.1-4.4 2.1-2.9 2.2-2.9 2.1-1 2.1-2.9 2.2-0.8 2.1-4.1 2.1-0.4 2.1-0.9 2.2-4.9 2.1-1.2 2.1-1.6 2.2-1.8 2.1-0.8 2.1-3.2 2.1-0.3 2.2-3.6 2.1-0.5 2.1-0.4 2.1-3.1 2.2-2.1 2.1-0.2 2.1-2 2.2-0.8 2.1-1.2 2.1-0.6 2.1-2.9 2.2-0.8 2.1-1.6 2.1-1 2.2-1.5 2.1-1.5 2.1-1.2 2.1-1.2 2.2-1 2.1-1.7 2.1-1.5 2.2-0.8 2.1-1.4 2.1-0.8 2.1-2.7 2.2-0.4 2.1-1.7 2.1-2.5 2.2-0.3 2.1-0.6 2.1-1.8 2.1-1.8 2.2-2.8 2.1-0.3 2.1-1 2.1-2.1 2.2-1.9 2.1 0.2 2.1-3.4 2.2-1.3 2.1-1.5 2.1 0.5 2.1-4.2 2.2-3 2.1-0.4 2.1-4.2 2.2 0.4 2.1-0.6 2.1-3 2.1-1.2 2.2-2.1 2.1-0.5M30.3 240.3l2.1-3.6 2.2-1.7 2.1-2.7 2.1-2.6 2.1-2.8 2.2-2.7 2.1-2.3 2.1-2.4 2.2-1.5 2.1-1.5 2.1-1.3 2.1-3.2 2.2-1.8 2.1-1.2 2.1-4.7 2.2 0.8 2.1-3.5 2.1-1.9 2.1-1.1 2.2-3.5 2.1 0.2 2.1-1 2.1-2.9 2.2 0.1 2.1-1.1 2.1-1.6 2.2-1.6 2.1-1.8 2.1-1.5 2.1-0.7 2.2-2.1 2.1-1.9 2.1-0.6 2.2-1.5 2.1-1.4 2.1-1.5 2.1-1 2.2-1.2 2.1-1.2 2.1-2.2 2.2-1.3 2.1 0.1 2.1-1.3 2.1-1.6 2.2-1.1 2.1-2.3 2.1-1.2 2.2-2.3 2.1-0.6 2.1-0.9 2.1-2.1 2.2 0 2.1-1.1 2.1-2.5 2.1-2.3 2.2 0.3 2.1-3.7 2.1-1.7 2.2-0.6 2.1-2.4 2.1-1.3 2.1-2.1 2.2-2.3 2.1-0.2 2.1-3.4 2.2-1.5 2.1-1.7 2.1 1.2 2.1-1.7 2.2-4.4 2.1-0.5M30.3 239.9l2.1-1.2 2.2-5.2 2.1 0.5 2.1-7.4 2.1 1.1 2.2-4.4 2.1-2.7 2.1-1.3 2.2-2.7 2.1-1.2 2.1-0.4 2.1-3.6 2.2-2.4 2.1-0.3 2.1-1 2.2-2.6 2.1-2.6 2.1-1.8 2.1-2.4 2.2-1.4 2.1-1.7 2.1 0 2.1-4.2 2.2-0.1 2.1-1.8 2.1-0.7 2.2-1.4 2.1-1.4 2.1-2 2.1-1.4 2.2-1 2.1-1.8 2.1-0.8 2.2-1.6 2.1-1.3 2.1-1.5 2.1-1.1 2.2-1.7 2.1-1.6 2.1 0.1 2.2-3 2.1-0.5 2.1-0.9 2.1-0.4 2.2-2 2.1-0.2 2.1-2.8 2.2-1.3 2.1-2.8 2.1-0.3 2.1-2.6 2.2-1.7 2.1-2.3 2.1 0.1 2.1-2.3 2.2 0.4 2.1-1.7 2.1-2 2.2-1.6 2.1-0.4 2.1-2.3 2.1-2.6 2.2-0.7 2.1-2.2 2.1-1.3 2.2-4.2 2.1-2.5 2.1-0.5 2.1-1.6 2.2-3.8 2.1-0.6M30.3 242.3l2.1-2.7 2.2-4.3 2.1-1 2.1-3.1 2.1-1 2.2-2.2 2.1-2.9 2.1-3.2 2.2-1.5 2.1-1.1 2.1-4.3 2.1-1.6 2.2-1.9 2.1-1.7 2.1-0.5 2.2-4.8 2.1-0.2 2.1-2.5 2.1-2.3 2.2-1.5 2.1-1.1 2.1-1.7 2.1-1.9 2.2-2.1 2.1-1.5 2.1-1.1 2.2-2 2.1-1.4 2.1-1.6 2.1-1.1 2.2-1.8 2.1-0.9 2.1-1.5 2.2-1.2 2.1-1.4 2.1-1.1 2.1-1.5 2.2-1.5 2.1-1.7 2.1-0.9 2.2-1.2 2.1-1.4 2.1-2.3 2.1-0.8 2.2-1.1 2.1-2.1 2.1-0.1 2.2-2.2 2.1-1.3 2.1-1.3 2.1-0.8 2.2-3 2.1-2.2 2.1 0.7 2.1-2.8 2.2-2.1 2.1-3 2.1 0.6 2.2-1.2 2.1-2.5 2.1-3.5 2.1 0.1 2.2-2 2.1-3.3 2.1 1.8 2.2-2 2.1-5.2 2.1-2.1 2.1 0.1 2.2-4.1 2.1-1.6M30.3 241.8l2.1-1.9 2.2-0.6 2.1-4.9 2.1-3.7 2.1-1.4 2.2-3.2 2.1-1.3 2.1-3 2.2-0.7 2.1-3.8 2.1-0.2 2.1-4.5 2.2 0.3 2.1-1.6 2.1-4.2 2.2-1.5 2.1-2.1 2.1-2.1 2.1-1.5 2.2-1.2 2.1-2.4 2.1-1.7 2.1-1.6 2.2-2.4 2.1 0.1 2.1-1.9 2.2-1.7 2.1-0.9 2.1-1.1 2.1-1.8 2.2-2.1 2.1-1 2.1-1.7 2.2-1.2 2.1-1.6 2.1-1.2 2.1-1.3 2.2-1.6 2.1-1.5 2.1-2 2.2-0.1 2.1-2.4 2.1-2.1 2.1-1.3 2.2-0.5 2.1-1.2 2.1-1.5 2.2-1.9 2.1-1.3 2.1-1.6 2.1-1.6 2.2-0.2 2.1-1.4 2.1-1.4 2.1-1.5 2.2-2.6 2.1-1.9 2.1-3.6 2.2 0.1 2.1-1.2 2.1-3 2.1 0.3 2.2-2.7 2.1-2.4 2.1-1.6 2.2-1.5 2.1-1.2 2.1-1.1 2.1-3.2 2.2-1.8 2.1-3.7M30.3 245.4l2.1-3.7 2.2-4.6 2.1-2.2 2.1-0.7 2.1-3.7 2.2-2.3 2.1-1 2.1-2.9 2.2-1.5 2.1-3.5 2.1-0.8 2.1-3.9 2.2-2.1 2.1-2.3 2.1-2 2.2-3.4 2.1-0.6 2.1-2.2 2.1-1.9 2.2-1.7 2.1-1.4 2.1-0.8 2.1-1.4 2.2-1.9 2.1-1.9 2.1-1.9 2.2-1.6 2.1-2.2 2.1-1 2.1-2.3 2.2-1.1 2.1-0.9 2.1-1.7 2.2-0.7 2.1-1.9 2.1-1.4 2.1-1.4 2.2-0.7 2.1-2.8 2.1-0.4 2.2-1.5 2.1-2 2.1-0.9 2.1-1.2 2.2-2.3 2.1-0.5 2.1-2.6 2.2-1.1 2.1-2.1 2.1 0.2 2.1-3.2 2.2-0.7 2.1-2.8 2.1 0.5 2.1-3.6 2.2-0.8 2.1-1.7 2.1-0.4 2.2-2.9 2.1-1.8 2.1-0.3 2.1-1.4 2.2-2.1 2.1-4 2.1-0.5 2.2-2.7 2.1-1.4 2.1-1.9 2.1-2.2 2.2-1.5 2.1-3.8M30.3 242.5l2.1-0.5 2.2-3.6 2.1-3.5 2.1-3.2 2.1-0.9 2.2-3.3 2.1-2.4 2.1-1.1 2.2-1.4 2.1-2.4 2.1-4.4 2.1-1.6 2.2-0.8 2.1-2.5 2.1-2.2 2.2-2 2.1-2.2 2.1-3.6 2.1 0.3 2.2-2.5 2.1-1.3 2.1-1.8 2.1-1.6 2.2-2 2.1-1.4 2.1-2 2.2-1.4 2.1-0.9 2.1-2.7 2.1-0.1 2.2-2.1 2.1-2 2.1-0.6 2.2-1.9 2.1-1.2 2.1-1.5 2.1-0.8 2.2-2.4 2.1-1.1 2.1-1.1 2.2-2.3 2.1-0.4 2.1-2.3 2.1-0.5 2.2-1.9 2.1-0.4 2.1-1.7 2.2-1 2.1-1.5 2.1-2.1 2.1-1.3 2.2-1.8 2.1-2.4 2.1-0.6 2.1-0.2 2.2-2.9 2.1-2 2.1-2.4 2.2-1.7 2.1-1.6 2.1-0.7 2.1-2.7 2.2 0.1 2.1-4.6 2.1-1.2 2.2-2.2 2.1-1.2 2.1-2.5 2.1-1.3 2.2-3.4 2.1 0.1M30.3 244.5l2.1-3.1 2.2-2.1 2.1-2.9 2.1-3.3 2.1-2.8 2.2-1.5 2.1-2.2 2.1-3.1 2.2-3.1 2.1-1.2 2.1-3 2.1-2.4 2.2-2 2.1-1.2 2.1-2.2 2.2-1 2.1-3 2.1-2.8 2.1-0.7 2.2-3.5 2.1-1.7 2.1-0.3 2.1-2.4 2.2 0 2.1-1.7 2.1-1.9 2.2-1.7 2.1-1.4 2.1-1.2 2.1-2.7 2.2-0.9 2.1-1.5 2.1-1.5 2.2-1.4 2.1-1.4 2.1-1.3 2.1-1.1 2.2-2.3 2.1-0.5 2.1-1.1 2.2-1.6 2.1-0.9 2.1-3.2 2.1-0.5 2.2-2 2.1-1.5 2.1-1 2.2-1.6 2.1-0.7 2.1-2.1 2.1-1.3 2.2-2.1 2.1-1.1 2.1-3.2 2.1-1.2 2.2-0.9 2.1-0.3 2.1-3.6 2.2-1.8 2.1-0.9 2.1-0.6 2.1-3.4 2.2-2.5 2.1 1 2.1-4.5 2.2 0.3 2.1-4 2.1-3.9 2.1-0.4 2.2-2.6 2.1-1.2M30.3 242.2l2.1-0.8 2.2-3.7 2.1-1.1 2.1-1.6 2.1-5 2.2-1 2.1-1.6 2.1-2.4 2.2-2.3 2.1-2.3 2.1-1.4 2.1-4.7 2.2-1.5 2.1-2.7 2.1-1 2.2-2.6 2.1-1.9 2.1-2.7 2.1-1.6 2.2-1.5 2.1-1 2.1-1.4 2.1-2 2.2-1.7 2.1-1.7 2.1-1.2 2.2-3.1 2.1-0.8 2.1-0.4 2.1-2 2.2-1.4 2.1-2.1 2.1-1.7 2.2-1 2.1-1.6 2.1-1.4 2.1-1.7 2.2-1.5 2.1-1.1 2.1-1.6 2.2-1.1 2.1-1.2 2.1-1 2.1-2.2 2.2-1.3 2.1-1.3 2.1-1.7 2.2-1.5 2.1-1 2.1-1.9 2.1-2.8 2.2-0.6 2.1-2.9 2.1 0.4 2.1-1.4 2.2-2.9 2.1-2.2 2.1-0.4 2.2-2.8 2.1-2.1 2.1-1.9 2.1-0.7 2.2-1.9 2.1-0.3 2.1-3.6 2.2-2.2 2.1-3.1 2.1 0.7 2.1-2.4 2.2-1.9 2.1-4.1M30.3 246.9l2.1-3.9 2.2-2.5 2.1-2 2.1-2.2 2.1-4.3 2.2-1.9 2.1-3.3 2.1-2.2 2.2-1.7 2.1-4.2 2.1-0.6 2.1-3.1 2.2-1.4 2.1-2.5 2.1-2.1 2.2-1.8 2.1-2.7 2.1-2.7 2.1-2.2 2.2-1.5 2.1-0.6 2.1-2.8 2.1-1 2.2-2.4 2.1 0.2 2.1-3.1 2.2-0.4 2.1-2.4 2.1-0.8 2.1-2 2.2-1.1 2.1-1 2.1-1.8 2.2-1.7 2.1-1.5 2.1-1 2.1-1.5 2.2-1.5 2.1-1.6 2.1-1.6 2.2-0.9 2.1-1.1 2.1-2.3 2.1-1.1 2.2-2.2 2.1-0.6 2.1-2.3 2.2-0.5 2.1-2.3 2.1-1.4 2.1-1.8 2.2-0.6 2.1-2.2 2.1-1 2.1-2.3 2.2-2.3 2.1-3.8 2.1 0.8 2.2-2.4 2.1-1.3 2.1-2.9 2.1-1.3 2.2-2.5 2.1-1.3 2.1-4 2.2-1 2.1 1.1 2.1-4.2 2.1-1.8 2.2 0.3 2.1-3.5M30.3 247l2.1-2.4 2.2-3.3 2.1-2.6 2.1-4.6 2.1-2.2 2.2-4.2 2.1-0.5 2.1-4.3 2.2-0.6 2.1-2.8 2.1-1.5 2.1-3.5 2.2-1.6 2.1-2.6 2.1-2.6 2.2-0.7 2.1-2.2 2.1-2.2 2.1-1.1 2.2-1.4 2.1-2.5 2.1-1.8 2.1-1.9 2.2-1.7 2.1-0.8 2.1-2.3 2.2-2 2.1-0.7 2.1-1.9 2.1-1.1 2.2-1.8 2.1-2 2.1-1 2.2-1.2 2.1-1.7 2.1-1.4 2.1-1.7 2.2-0.7 2.1-1.5 2.1-1.7 2.2-0.8 2.1-2.8 2.1 0.1 2.1-2.1 2.2-1.1 2.1-2 2.1-2.4 2.2-1.5 2.1-1.7 2.1-1.4 2.1 0.4 2.2-3.2 2.1 0.1 2.1-2.5 2.1-1.7 2.2-1.4 2.1-2.6 2.1-0.5 2.2-4.1 2.1-0.8 2.1-2.5 2.1-1.6 2.2-2.1 2.1-1.2 2.1-4 2.2 0.9 2.1-3.6 2.1-1.5 2.1-1.9 2.2-2.6 2.1-0.9M30.3 247.8l2.1-3.4 2.2-5.7 2.1 0 2.1-4.1 2.1-2.6 2.2-4 2.1-0.8 2.1-3.2 2.2-1.7 2.1-1.9 2.1-2.4 2.1-2.5 2.2-4.1 2.1-1.1 2.1-1.7 2.2-2 2.1-1.4 2.1-2.2 2.1-1.8 2.2-2.1 2.1-1.9 2.1 0 2.1-2.8 2.2-2.3 2.1-0.3 2.1-2.1 2.2-1.8 2.1-2 2.1-1.4 2.1-1.2 2.2-1.8 2.1-1.7 2.1-1.2 2.2-1.8 2.1-1.1 2.1-1.2 2.1-1.5 2.2-1.5 2.1-1.4 2.1-1.8 2.2-1.3 2.1-2.1 2.1-1.1 2.1-1.9 2.2-0.3 2.1-1.7 2.1-2.3 2.2-1.2 2.1-2 2.1-1.3 2.1-1 2.2-3.3 2.1-1.2 2.1 0.6 2.1-2.3 2.2-2.1 2.1-2.1 2.1-0.9 2.2-0.4 2.1-3.6 2.1-0.7 2.1-3.1 2.2-1.1 2.1-2.6 2.1-1.9 2.2-2.2 2.1-0.8 2.1-3.9 2.1-1.5 2.2-0.9 2.1-3.3M30.3 250.6l2.1-5.5 2.2-1.8 2.1-2.8 2.1-5.2 2.1-3.1 2.2-1.2 2.1-4.3 2.1-2.4 2.2-0.8 2.1-4.5 2.1-0.2 2.1-2.3 2.2 0.3 2.1-4.6 2.1-1 2.2-2.9 2.1-0.4 2.1-4.3 2.1-2.2 2.2-2.3 2.1 1.4 2.1-4.4 2.1-1.7 2.2 0.3 2.1-3.1 2.1-2.1 2.2-2.3 2.1-0.4 2.1-2 2.1-1.4 2.2-1.7 2.1-1.2 2.1-1.9 2.2-1.5 2.1-1.4 2.1-1.6 2.1-1.1 2.2-1.6 2.1-2 2.1-1.1 2.2-1.8 2.1-1.7 2.1-1.5 2.1-0.9 2.2-1.4 2.1-2.5 2.1-1.6 2.2-1.2 2.1-1.2 2.1-2.2 2.1-0.8 2.2-0.5 2.1-2.9 2.1-1.8 2.1-1.9 2.2-0.4 2.1-1.9 2.1-2.8 2.2-1.3 2.1-2.3 2.1-3 2.1-1.5 2.2-3.5 2.1-0.5 2.1-3.5 2.2-1.3 2.1-3.6 2.1 0.7 2.1-1.9 2.2-3.6 2.1-0.1M30.3 249.8l2.1-3.4 2.2-2.7 2.1-4.3 2.1-2.3 2.1-2.1 2.2-2.9 2.1-3.6 2.1-2.3 2.2-2.9 2.1-1.2 2.1-2.7 2.1-4.1 2.2-0.6 2.1-3.8 2.1-1.6 2.2-1.2 2.1-1.4 2.1-3.6 2.1-0.9 2.2-1.8 2.1-1.1 2.1-3.6 2.1-0.9 2.2-1.5 2.1-1.7 2.1-1.5 2.2-1.5 2.1-1.9 2.1-1.2 2.1-0.7 2.2-3 2.1-1.5 2.1-1.5 2.2-1.9 2.1-1.2 2.1-1 2.1-2.5 2.2-1.2 2.1-0.8 2.1-1.9 2.2-1.9 2.1-0.6 2.1-2.4 2.1-2.3 2.2-1.2 2.1-0.7 2.1-1.9 2.2-0.8 2.1-2.4 2.1-1.3 2.1-1.2 2.2-1.4 2.1-4.2 2.1-0.2 2.1-0.7 2.2-2.1 2.1-3.3 2.1-1.9 2.2 0.3 2.1-2.6 2.1-2.6 2.1-0.8 2.2-1.3 2.1-2.3 2.1-3.1 2.2-1.4 2.1-1.6 2.1-3.3 2.1-3.5 2.2-1.9 2.1-1.3M30.3 252.6l2.1-4.2 2.2-6.1 2.1-1.9 2.1-2.4 2.1-3.7 2.2-0.4 2.1-3.4 2.1-2.2 2.2-3 2.1-2.8 2.1-3.2 2.1-2.8 2.2-2.2 2.1-3.7 2.1 0.5 2.2-2.6 2.1-2.6 2.1-1.1 2.1-2.5 2.2-2.5 2.1-1 2.1-2.8 2.1-2.2 2.2-0.3 2.1-1 2.1-3 2.2-0.9 2.1-2.2 2.1-1.2 2.1-1.9 2.2-1.8 2.1-1.4 2.1-1.2 2.2-1.4 2.1-1.8 2.1-1.1 2.1-1.7 2.2-1.7 2.1-1.2 2.1-1.5 2.2-1.1 2.1-1.4 2.1-1.4 2.1-2.7 2.2 0 2.1-3.1 2.1-0.5 2.2-2.4 2.1-1.4 2.1-2 2.1-2 2.2-0.2 2.1-1.6 2.1-2.2 2.1-1.6 2.2-3.1 2.1-1.3 2.1-2 2.2-2.3 2.1-1.2 2.1-3.3 2.1 0.9 2.2-3.9 2.1-2.1 2.1-0.6 2.2-2 2.1-3.7 2.1-0.8 2.1-0.4 2.2-2.9 2.1-4.9M30.3 251.7l2.1-2.9 2.2-4.5 2.1-1.2 2.1-4.3 2.1-3.2 2.2-3.5 2.1-0.3 2.1-3.2 2.2-3.6 2.1-3.3 2.1-2.8 2.1-2.4 2.2-3.9 2.1-1 2.1-2 2.2-1.1 2.1-3 2.1-1.8 2.1-1.8 2.2-1.3 2.1-2.4 2.1-2.4 2.1-0.3 2.2-0.9 2.1-3.5 2.1-1.7 2.2-1.1 2.1-1.5 2.1-3.1 2.1-0.1 2.2-1.2 2.1-1.9 2.1-1.8 2.2-1.3 2.1-1.7 2.1-1.5 2.1-1.3 2.2-1.6 2.1-1.4 2.1-1.1 2.2-1.9 2.1-1 2.1-2.6 2.1-0.5 2.2-2 2.1-0.6 2.1-2.5 2.2-1 2.1-3.5 2.1-0.5 2.1-2 2.2 0.1 2.1-2 2.1-2.5 2.1-0.7 2.2-3.9 2.1-0.5 2.1-2.4 2.2-2.1 2.1-1.6 2.1-2.9 2.1-0.7 2.2-3.1 2.1-3 2.1-1 2.2-2 2.1-1.6 2.1-2.4 2.1-2.7 2.2-1.1 2.1-0.5M30.3 251.3l2.1-4.9 2.2-1.3 2.1-4.4 2.1-2.5 2.1-0.8 2.2-5.4 2.1-3.3 2.1-1.5 2.2-1.1 2.1-4.5 2.1-0.8 2.1-3.2 2.2-2.7 2.1-1.2 2.1-1.3 2.2-3.3 2.1-2.1 2.1-1.3 2.1-1.9 2.2-3 2.1-1.3 2.1-1.6 2.1-1.8 2.2-2.4 2.1-1.8 2.1-1.7 2.2-1.1 2.1-2.3 2.1-1.5 2.1-2 2.2-1.9 2.1-1.5 2.1-1.3 2.2-1.4 2.1-1.5 2.1-1.6 2.1-1.3 2.2-1.4 2.1-1.3 2.1-1.7 2.2-1.5 2.1-2.4 2.1-0.9 2.1-1.1 2.2-2.3 2.1-0.9 2.1-2.5 2.2-1.6 2.1-3.1 2.1 1.1 2.1-2.4 2.2-1.6 2.1-2 2.1-2.1 2.1-0.4 2.2-1.9 2.1-2.7 2.1-2.5 2.2-0.1 2.1-1.6 2.1-4.4 2.1-1.8 2.2-2.3 2.1 0 2.1-2.7 2.2-2.5 2.1-2.2 2.1-1.4 2.1-2.2 2.2-3.2 2.1-0.6M30.3 249.1l2.1-1.9 2.2-2.4 2.1-4.6 2.1-1 2.1-3.4 2.2-2.6 2.1-2.3 2.1-2.8 2.2-3 2.1-1.2 2.1-3.4 2.1-3 2.2-2.4 2.1-2.3 2.1-3.9 2.2-0.8 2.1-1.4 2.1-2.1 2.1-2.1 2.2-2.2 2.1-1.4 2.1-2.9 2.1-0.1 2.2-2.8 2.1-1.6 2.1-0.8 2.2-2.5 2.1-1.6 2.1-1 2.1-2.8 2.2-0.9 2.1-1.3 2.1-1.6 2.2-1.5 2.1-1.8 2.1-1.5 2.1-1.1 2.2-1.5 2.1-1.5 2.1-1.6 2.2-1.6 2.1-1.3 2.1-2.2 2.1-1.8 2.2-1.1 2.1-0.3 2.1-2.8 2.2-2.1 2.1-1.3 2.1-1.9 2.1-1.5 2.2-0.5 2.1-0.9 2.1-4.1 2.1-0.8 2.2-2.6 2.1-1.1 2.1-2 2.2-3.2 2.1 0.4 2.1-3 2.1-1 2.2-3.1 2.1-2.5 2.1-2.4 2.2-1.7 2.1-0.7 2.1-3.9 2.1-3 2.2-2.5 2.1-3.6M30.3 251.6l2.1-3 2.2-1.7 2.1-4.7 2.1-1.8 2.1-3.8 2.2-2.7 2.1-3.4 2.1-1.4 2.2-4.2 2.1-0.1 2.1-4 2.1-2.1 2.2-4 2.1-1.1 2.1-1.2 2.2-1.7 2.1-2.7 2.1-1.5 2.1-4 2.2 1.5 2.1-3.9 2.1-0.4 2.1-4.2 2.2-0.8 2.1-3.2 2.1-0.6 2.2-2.6 2.1-1.3 2.1-2.1 2.1-1.1 2.2-0.5 2.1-2.5 2.1-1.4 2.2-2.2 2.1-1.5 2.1-1.5 2.1-1.6 2.2-1.5 2.1-1.3 2.1-2.5 2.2-0.9 2.1-1.4 2.1-1 2.1-2 2.2-2 2.1-1.5 2.1-1.4 2.2-1.9 2.1-0.9 2.1-2.5 2.1-0.5 2.2-2.3 2.1-1.9 2.1-3.1 2.1-1.6 2.2-1.7 2.1-0.9 2.1-2.6 2.2-3.1 2.1-2.4 2.1 0.6 2.1-2.9 2.2-2.4 2.1-2.1 2.1-1.5 2.2-2.5 2.1 0.2 2.1-5.2 2.1 0.7 2.2-3.5 2.1-2.9M30.3 252.9l2.1-0.9 2.2-2.5 2.1-3.5 2.1-5.4 2.1-2.5 2.2-1.2 2.1-3.3 2.1-3 2.2-3.3 2.1 0 2.1-4 2.1-3 2.2-3.2 2.1-2.2 2.1-2.1 2.2-2.7 2.1 0.2 2.1-6.4 2.1-0.2 2.2-1.9 2.1-0.7 2.1-2.6 2.1-3 2.2-1.7 2.1-0.8 2.1-1.2 2.2-2.6 2.1-1.6 2.1-2.3 2.1-0.8 2.2-2.1 2.1-1.8 2.1-1.5 2.2-1.9 2.1-1.5 2.1-1.3 2.1-1.7 2.2-2 2.1-1.2 2.1-1.5 2.2-2.2 2.1-1.5 2.1-1.3 2.1-2 2.2-1.5 2.1-2.2 2.1-1.4 2.2-1 2.1-1.8 2.1-1.7 2.1-2.2 2.2-1.7 2.1-0.9 2.1-2.3 2.1-2.4 2.2-2.6 2.1-1.3 2.1-3.6 2.2-0.4 2.1-2.7 2.1-1 2.1-1.4 2.2-3 2.1-2.4 2.1-1.9 2.2-1.9 2.1-1.7 2.1-1.8 2.1-3 2.2-3.3 2.1-3.2M30.3 255.1l2.1-2 2.2-3.6 2.1-3.9 2.1-1.4 2.1-3.4 2.2-4 2.1-1.5 2.1-4.3 2.2-1.3 2.1-4.3 2.1-2.5 2.1-2 2.2-2.1 2.1-2.8 2.1-0.9 2.2-3.8 2.1-2.7 2.1-3 2.1-0.8 2.2-2.3 2.1-3.2 2.1-2.1 2.1-0.5 2.2-2.9 2.1-1.8 2.1-1.4 2.2-0.9 2.1-1.8 2.1-2.4 2.1-2.4 2.2-0.6 2.1-2.2 2.1-1.7 2.2-0.9 2.1-2 2.1-1.8 2.1-1.5 2.2-1.5 2.1-1.4 2.1-2 2.2-1.1 2.1-3.2 2.1 0.1 2.1-1.4 2.2-2.9 2.1-2.5 2.1-0.6 2.2-2 2.1-1 2.1-2.4 2.1-0.9 2.2-1.7 2.1-1.3 2.1-2.4 2.1-3.7 2.2-0.2 2.1-2 2.1-3.8 2.2 0.7 2.1-1.7 2.1-3.5 2.1-0.4 2.2-3.7 2.1-3.1 2.1 0.1 2.2-2.9 2.1-4.6 2.1 0.6 2.1-2.8 2.2-3.5 2.1-1.9M30.3 256.9l2.1-6 2.2-1.9 2.1-5 2.1-0.6 2.1-3.8 2.2-4 2.1-2.5 2.1-2 2.2-3.2 2.1-1.5 2.1-3.8 2.1 0.1 2.2-4.9 2.1-3.3 2.1-1.8 2.2-2.1 2.1-1.1 2.1-2.8 2.1-1.4 2.2-2.4 2.1-2 2.1 0.2 2.1-4.9 2.2-1.6 2.1-2.2 2.1-0.8 2.2-2.7 2.1-1.6 2.1-0.5 2.1-2 2.2-2.4 2.1-1.5 2.1-1.8 2.2-1.6 2.1-1.8 2.1-1.2 2.1-1.5 2.2-1.6 2.1-1.4 2.1-1.9 2.2-1.8 2.1-1 2.1-2.5 2.1-2.3 2.2-1.7 2.1-2.3 2.1-1.3 2.2-1.1 2.1-3.1 2.1-1 2.1-2.7 2.2-0.3 2.1-0.2 2.1-2.6 2.1-2.9 2.2-2.1 2.1-1.2 2.1-3 2.2 0 2.1-2.4 2.1-3.7 2.1-1.2 2.2-2.2 2.1-3.5 2.1-1.9 2.2-0.3 2.1-3.4 2.1-0.2 2.1-4.2 2.2-2.8 2.1 0.1M30.3 256l2.1-2.9 2.2-1.4 2.1-4.1 2.1-3.6 2.1-4.9 2.2-2 2.1-3.8 2.1-1.4 2.2-2 2.1-5.9 2.1-3.1 2.1-0.3 2.2-1.9 2.1-3.6 2.1-0.3 2.2-3 2.1-1.2 2.1-3.7 2.1-1.8 2.2-1.6 2.1-1.8 2.1-1.4 2.1-2.5 2.2-3.3 2.1-0.9 2.1-2.8 2.2-0.6 2.1-2.3 2.1-1.6 2.1-1.9 2.2-2.2 2.1-0.7 2.1-2.6 2.2-1.7 2.1-1.5 2.1-1.7 2.1-1.6 2.2-1.9 2.1-1.4 2.1-1.3 2.2-2.1 2.1-2 2.1-1.3 2.1-1.5 2.2-1.7 2.1-1.2 2.1-1.7 2.2-0.7 2.1-2.9 2.1-2.7 2.1-0.8 2.2-1.4 2.1-3.4 2.1-1.4 2.1-2 2.2-2.3 2.1-2.2 2.1-1.4 2.2-1.4 2.1-4.5 2.1-0.5 2.1-1.2 2.2-3.1 2.1-3.1 2.1 0.5 2.2-5 2.1-0.7 2.1-4.6 2.1-0.9 2.2-1.6 2.1-4M30.3 258.5l2.1-1.5 2.2-6.5 2.1-0.4 2.1-4.6 2.1-4.6 2.2-2.4 2.1-3 2.1-2.4 2.2-3.3 2.1-1.5 2.1-4.7 2.1-3 2.2-2.4 2.1-1.7 2.1-3.5 2.2-1.6 2.1-2.6 2.1-1.7 2.1-1.8 2.2-1.5 2.1-0.7 2.1-4.3 2.1-1.4 2.2-3.2 2.1 0.6 2.1-3.6 2.2-0.8 2.1-2.3 2.1-1.4 2.1-2.4 2.2-1.6 2.1-2 2.1-1.5 2.2-1.8 2.1-1.7 2.1-1.7 2.1-1.6 2.2-2.1 2.1-1.2 2.1-1.9 2.2-1.3 2.1-1.5 2.1-0.4 2.1-3.8 2.2-0.6 2.1-2.9 2.1-2.5 2.2 0.4 2.1-3.4 2.1-1.1 2.1-2.3 2.2-0.5 2.1-2.9 2.1-2 2.1-3.1 2.2-2.6 2.1-0.4 2.1-1.4 2.2-4.5 2.1 0.2 2.1-2.2 2.1-2.2 2.2-2.5 2.1-2.3 2.1-0.9 2.2-2.6 2.1-4.4 2.1-2 2.1-1.1 2.2-2.2 2.1-2M30.3 259.1l2.1-3 2.2-4.2 2.1-3.7 2.1-2.8 2.1-3.2 2.2-3.8 2.1-3.9 2.1-3.4 2.2-1.9 2.1-2.3 2.1-2.8 2.1-4.3 2.2-1.4 2.1-0.7 2.1-3 2.2-1.9 2.1-2.3 2.1-1.2 2.1-3.6 2.2-1.1 2.1-2.8 2.1-3.6 2.1-1.6 2.2-0.9 2.1-1.9 2.1-2 2.2-1.3 2.1-2.3 2.1-2.1 2.1-1.4 2.2-2.5 2.1-1.4 2.1-1.5 2.2-2.2 2.1-1.4 2.1-1.7 2.1-2.1 2.2-1.6 2.1-1 2.1-2 2.2-1.4 2.1-1.2 2.1-3.4 2.1-1.5 2.2-0.1 2.1-2.8 2.1-0.3 2.2-3.5 2.1-1 2.1-1.6 2.1-3 2.2-0.9 2.1-1.7 2.1-3 2.1-0.9 2.2-3.1 2.1-1.3 2.1-2.8 2.2-1.9 2.1-2.2 2.1-0.3 2.1-4.9 2.2 0.1 2.1-4.1 2.1 0.4 2.2-2.5 2.1-2.3 2.1-3.9 2.1-0.7 2.2-3.6 2.1-0.5M30.3 256.8l2.1-1.3 2.2-6.4 2.1-1.8 2.1-3.3 2.1-2.4 2.2-3.5 2.1-3.6 2.1-0.4 2.2-5.6 2.1-0.4 2.1-3.3 2.1 0 2.2-5.3 2.1-2.6 2.1-1.9 2.2-2.4 2.1-1.8 2.1-2.8 2.1-3.2 2.2-1 2.1-2.8 2.1-2.3 2.1-1.3 2.2-2.2 2.1-1.9 2.1-1.3 2.2-3.4 2.1-0.2 2.1-2.8 2.1-1.4 2.2-0.5 2.1-2.7 2.1-2 2.2-1.7 2.1-1.6 2.1-1.7 2.1-1.3 2.2-1.7 2.1-2 2.1-1.9 2.2-2.3 2.1-1.1 2.1-2.1 2.1-0.3 2.2-1.7 2.1-2 2.1-3.2 2.2 0.3 2.1-1.6 2.1-3 2.1-2.9 2.2 0.2 2.1-3.2 2.1-1.1 2.1-4.5 2.2-1.3 2.1-1.6 2.1-1.7 2.2-1.7 2.1-2.3 2.1-1.1 2.1-1.7 2.2-1.9 2.1-3.3 2.1-1.4 2.2-4.2 2.1 0.7 2.1-5.6 2.1-2.6 2.2-3.5 2.1-0.9M30.3 258.8l2.1-3.4 2.2-1.9 2.1-4.4 2.1-5.1 2.1-3.6 2.2-1.5 2.1-2.7 2.1-4.9 2.2-1.4 2.1-1.8 2.1-3.7 2.1-3.4 2.2-3.3 2.1-0.5 2.1-3.1 2.2-1.5 2.1-3.4 2.1-1.4 2.1-2.1 2.2-1.2 2.1-2.6 2.1-2.1 2.1 0.1 2.2-5 2.1-1.5 2.1-1.8 2.2-1.8 2.1-2 2.1-1.9 2.1-1 2.2-2.3 2.1-1.7 2.1-1.7 2.2-1.4 2.1-2.1 2.1-1.4 2.1-1.9 2.2-2 2.1-1.6 2.1-1.3 2.2-1.7 2.1-1.7 2.1-2.3 2.1-1.2 2.2-1.8 2.1-0.4 2.1-2.7 2.2-1.6 2.1-1.8 2.1-2.9 2.1 0.3 2.2-1.7 2.1-3.4 2.1-0.7 2.1-2.8 2.2-2.5 2.1-2.1 2.1-1.6 2.2-3.9 2.1-2.8 2.1 0.3 2.1-2.8 2.2-3.2 2.1-0.8 2.1-1.1 2.2-2.6 2.1-3.5 2.1-0.2 2.1-3.8 2.2-2.7 2.1-1.6M30.3 257.8l2.1-4.1 2.2-1.3 2.1-5.2 2.1-2.5 2.1-1.2 2.2-5.4 2.1-0.7 2.1-2.6 2.2-4.2 2.1-1.9 2.1-3.8 2.1-2.2 2.2-3.3 2.1-3.1 2.1-1.8 2.2-3.2 2.1-2.3 2.1-0.7 2.1-3.4 2.2-1.8 2.1-1.6 2.1-2.6 2.1-2.2 2.2-1.3 2.1-0.5 2.1-3.1 2.2-1.7 2.1-1.8 2.1-2.2 2.1-1.5 2.2-2.6 2.1-1.2 2.1-1.7 2.2-1.8 2.1-1.6 2.1-1.9 2.1-1.6 2.2-1.5 2.1-1.7 2.1-0.6 2.2-1.9 2.1-3 2.1-1 2.1-3.1 2.2-1.8 2.1 0.1 2.1-2.9 2.2-3.6 2.1 0.8 2.1-2.7 2.1-1.3 2.2-1.8 2.1-1.7 2.1-2.1 2.1-2.5 2.2-0.5 2.1-3.2 2.1-1 2.2-3.3 2.1-2 2.1-1.2 2.1-3.2 2.2-1.4 2.1-2.1 2.1-4.5 2.2 0.9 2.1-4.9 2.1-2.5 2.1-0.9 2.2-4.3 2.1-2.3M30.3 261.1l2.1-2.1 2.2-6.2 2.1-2.1 2.1-2.3 2.1-4.7 2.2-1.1 2.1-5.3 2.1-4.9 2.2 1.5 2.1-6.2 2.1-1.4 2.1-3.1 2.2-2.2 2.1-3.9 2.1-1.8 2.2-1.7 2.1-1.9 2.1-2.9 2.1-3.5 2.2-0.3 2.1-3.3 2.1-2 2.1-0.5 2.2-4.1 2.1-1.2 2.1-3.3 2.2-1.6 2.1-0.7 2.1-1.9 2.1-1.5 2.2-1.7 2.1-2.6 2.1-1.4 2.2-1.7 2.1-1.8 2.1-1.9 2.1-1.8 2.2-1.4 2.1-1.6 2.1-1.8 2.2-2.6 2.1 0.4 2.1-2.1 2.1-2.7 2.2-1.5 2.1-2.5 2.1-1.9 2.2-2.3 2.1 0.2 2.1-3 2.1-1.2 2.2-3 2.1-1.3 2.1-2.6 2.1-0.5 2.2-2.9 2.1-1.3 2.1-2.3 2.2-1.8 2.1-1.5 2.1-4.3 2.1-1.3 2.2-3 2.1-0.1 2.1-1.2 2.2-3.8 2.1-3.1 2.1-3.6 2.1-3 2.2-2.9 2.1-3.2M30.3 259.3l2.1-3.1 2.2-4.1 2.1-1.6 2.1-5.4 2.1-2.4 2.2-2.6 2.1-2.6 2.1-2.7 2.2-2.7 2.1-5.6 2.1 0.1 2.1-4.6 2.2-1.6 2.1-2.1 2.1-2.4 2.2-2.6 2.1-3.1 2.1-1.9 2.1-1.7 2.2-1.1 2.1-1.9 2.1-4.8 2.1-0.1 2.2-1.7 2.1-3.7 2.1-0.3 2.2-3.2 2.1-2 2.1-1.4 2.1-2.1 2.2-0.8 2.1-1.9 2.1-2.2 2.2-1.9 2.1-1.8 2.1-1.8 2.1-1.4 2.2-1.1 2.1-2.7 2.1-1.5 2.2-2.2 2.1-2.5 2.1-0.6 2.1-2.1 2.2-0.8 2.1-2.9 2.1-1.4 2.2-1.7 2.1-2.4 2.1-0.3 2.1-3.3 2.2-1.9 2.1-3 2.1 0.9 2.1-3.6 2.2-4.1 2.1 0.3 2.1-1.9 2.2-4.2 2.1-2.8 2.1 0.4 2.1-1.3 2.2-2.3 2.1-2.4 2.1-1.9 2.2-2.4 2.1-3.7 2.1-2.4 2.1-3.1 2.2-2.2 2.1-1.1M30.3 261.4l2.1-4.8 2.2-4 2.1-2 2.1-3.7 2.1-2.1 2.2-4.3 2.1-3.8 2.1-3.4 2.2-2.2 2.1-2.6 2.1-2.1 2.1-3.6 2.2-1.3 2.1-3.6 2.1-2.3 2.2-1.6 2.1-3.3 2.1-1.8 2.1-2.8 2.2-1.3 2.1-2.8 2.1-2.8 2.1-1 2.2-2.4 2.1-1 2.1-2.2 2.2-1 2.1-2.9 2.1-1.4 2.1-2.5 2.2-0.9 2.1-2.4 2.1-2.2 2.2-1.9 2.1-1.7 2.1-1.6 2.1-2.5 2.2-1.3 2.1-1.5 2.1-0.4 2.2-2.6 2.1-2.5 2.1-1.6 2.1-2 2.2-2.2 2.1-1.3 2.1-2.4 2.2 0 2.1-5.1 2.1 0.2 2.1-1.7 2.2-3.7 2.1-1.2 2.1-2.3 2.1-0.6 2.2-2.9 2.1-2.4 2.1-0.3 2.2-3 2.1-2 2.1-2.1 2.1-1.7 2.2-1.5 2.1-4 2.1-2.1 2.2-3.2 2.1-1 2.1-1.6 2.1-1.5 2.2-4.3 2.1-2M30.3 261.8l2.1-6.1 2.2-1.7 2.1-2.6 2.1-3.5 2.1-4.6 2.2-0.7 2.1-4.7 2.1-1.3 2.2-4.3 2.1-2.6 2.1-3.9 2.1-2.6 2.2-3.7 2.1-2.1 2.1-1.3 2.2-1.7 2.1-2.7 2.1-2.6 2.1-2.3 2.2-1.8 2.1-3.5 2.1-2 2.1-1.2 2.2-1.8 2.1-2.2 2.1-2.1 2.2-1.9 2.1-1 2.1-2.5 2.1-1.2 2.2-2.7 2.1-2 2.1-1.3 2.2-2.1 2.1-1.8 2.1-1.6 2.1-2.4 2.2-1.5 2.1-1.6 2.1-1.4 2.2-2.1 2.1-1.5 2.1-2.1 2.1-0.9 2.2-2.3 2.1-1.5 2.1-1.1 2.2-4 2.1-1.2 2.1-0.7 2.1-1.3 2.2-2.5 2.1-1.8 2.1-2.2 2.1-1.1 2.2-2.7 2.1-2.8 2.1-2.5 2.2 0.3 2.1-4.2 2.1-1.3 2.1-2.2 2.2-3.2 2.1-2 2.1-4 2.2-2.5 2.1-1.2 2.1-2 2.1-5.2 2.2-2.4 2.1-0.6M30.3 260l2.1-1.6 2.2-4.1 2.1-2.8 2.1-3.8 2.1-4.4 2.2-1.2 2.1-3.9 2.1-4.1 2.2-2.1 2.1-5.5 2.1 0.6 2.1-6.6 2.2 0.6 2.1-3.9 2.1-2.8 2.2-1.2 2.1-0.5 2.1-3 2.1-2.6 2.2-2.5 2.1-2.6 2.1-2.3 2.1-2.5 2.2-0.5 2.1-3.3 2.1-0.4 2.2-3.1 2.1-1.2 2.1-1.4 2.1-3.1 2.2-1.3 2.1-2.1 2.1-1 2.2-2 2.1-2.1 2.1-1.5 2.1-1.9 2.2-1.5 2.1-1.9 2.1-1.3 2.2-3 2.1-0.9 2.1-1.3 2.1-2.8 2.2-1.6 2.1-1.5 2.1-1.8 2.2-1.3 2.1-2 2.1-0.3 2.1-2.5 2.2-2.4 2.1-3.4 2.1-3 2.1-0.9 2.2-2 2.1-3.3 2.1-0.5 2.2-2.9 2.1-1.7 2.1 0 2.1-3.7 2.2-1.9 2.1-0.8 2.1-2.5 2.2-2.3 2.1-5.8 2.1-3.8 2.1-1.2 2.2-4 2.1 0.7M30.3 260.4l2.1-1.6 2.2-4.4 2.1-2.8 2.1-4.6 2.1-2.5 2.2-4.5 2.1-2.6 2.1-2.4 2.2-2.4 2.1-2.4 2.1-3 2.1-3.4 2.2-2 2.1-2.6 2.1-2.3 2.2-2.4 2.1-1.9 2.1-1.4 2.1-4.5 2.2-2.3 2.1-1 2.1-4.4 2.1 0.1 2.2-3.6 2.1-1.5 2.1-2 2.2-2.4 2.1-1.7 2.1-1.4 2.1-1.3 2.2-1.8 2.1-2.4 2.1-2.1 2.2-1.6 2.1-1.6 2.1-1.8 2.1-1.8 2.2-2.2 2.1-0.8 2.1-2.4 2.2-1.5 2.1-1.3 2.1-1.6 2.1-3.2 2.2-1.3 2.1-1.5 2.1-2.1 2.2-2.6 2.1-1.2 2.1-3.2 2.1-0.4 2.2-1.4 2.1-2.5 2.1-1.2 2.1-2.4 2.2-3.5 2.1-2.4 2.1-1 2.2-1.6 2.1-1 2.1-2 2.1-3.7 2.2-2 2.1-1.5 2.1-2.6 2.2-4.7 2.1-1.9 2.1-1.5 2.1-2.8 2.2-3.9 2.1-1.6M30.3 261.7l2.1-2.3 2.2-5.2 2.1-3.4 2.1-2.8 2.1-1.6 2.2-6.5 2.1-3.1 2.1-0.9 2.2-5.7 2.1-0.9 2.1-2 2.1-3.1 2.2-1.2 2.1-3.9 2.1-1.2 2.2-4.8 2.1-1.5 2.1-0.7 2.1-3.9 2.2-0.3 2.1-3.7 2.1-2.4 2.1-1.8 2.2-1.3 2.1-2.8 2.1-2 2.2-2.2 2.1-2.7 2.1-1.9 2.1-1.8 2.2-0.8 2.1-1.8 2.1-2.2 2.2-1.9 2.1-1.7 2.1-1.6 2.1-2.4 2.2-0.8 2.1-2 2.1-1.7 2.2-2.4 2.1-1.5 2.1-1.6 2.1-1.1 2.2-3.1 2.1-1.3 2.1-1.3 2.2-2.3 2.1-2.4 2.1-0.1 2.1-1.8 2.2-2.5 2.1-2.2 2.1-0.1 2.1-4.3 2.2-3.8 2.1-0.7 2.1-3.4 2.2 1.8 2.1-4.9 2.1-3.7 2.1-2.4 2.2 0.1 2.1-2 2.1-3.7 2.2-0.7 2.1-3.5 2.1-1 2.1-4.8 2.2-2.5 2.1-4.7M30.3 263.2l2.1-4.4 2.2-0.3 2.1-6.5 2.1-4.1 2.1-1.4 2.2-7 2.1-0.4 2.1-6.6 2.2-1.2 2.1-3 2.1-2 2.1-3.3 2.2-0.5 2.1-2.7 2.1-1.3 2.2-4.7 2.1-1.2 2.1-3.6 2.1-2.2 2.2-0.7 2.1-3.8 2.1-1.9 2.1-2.1 2.2-2.2 2.1-1.7 2.1-2 2.2-2.5 2.1-0.7 2.1-1.8 2.1-2.1 2.2-2.7 2.1-1.3 2.1-2.5 2.2-0.6 2.1-2.5 2.1-1.7 2.1-1.9 2.2-2.2 2.1-1.2 2.1-1.4 2.2-2.6 2.1-2.2 2.1 0.6 2.1-3.6 2.2-1.6 2.1-1 2.1-2.1 2.2-2.4 2.1-1.7 2.1-1.7 2.1-1.2 2.2-3.2 2.1-1.2 2.1-2.7 2.1-1.5 2.2-2.8 2.1-2.6 2.1-1.6 2.2-2.6 2.1 0 2.1-4.1 2.1-2 2.2-1.3 2.1-2.9 2.1 0.5 2.2-5.8 2.1-2 2.1-0.3 2.1-6 2.2-1.2 2.1-3.7M30.3 265.7l2.1-6.6 2.2-3 2.1-3 2.1-6.3 2.1-2.9 2.2-1 2.1-3.1 2.1-5.1 2.2-1.4 2.1-3.2 2.1-1.1 2.1-4.5 2.2-3.9 2.1-1.1 2.1-2.8 2.2-4.2 2.1-1.6 2.1-2.8 2.1-1.7 2.2-2.6 2.1 0 2.1-2.7 2.1-1.5 2.2-4.7 2.1-0.6 2.1-1.7 2.2-1.5 2.1-1.8 2.1-1 2.1-4.3 2.2-0.8 2.1-1.9 2.1-1.5 2.2-2.2 2.1-1.9 2.1-1.7 2.1-2 2.2-1.3 2.1-2.2 2.1-2 2.2-1.7 2.1-1.7 2.1-1.5 2.1-1.1 2.2-2.7 2.1-1.1 2.1-1.4 2.2-3 2.1 0 2.1-2.7 2.1-3.1 2.2-2.2 2.1-0.9 2.1-2.6 2.1-2.6 2.2-1.7 2.1-1.6 2.1-3.4 2.2-1.9 2.1-2.1 2.1-3.3 2.1-1.3 2.2-1.3 2.1-2.8 2.1-4.3 2.2 0.7 2.1-2.9 2.1-1.9 2.1-4.1 2.2-0.8 2.1-5M30.3 264.8l2.1-4 2.2-3.2 2.1-5.3 2.1-4.3 2.1 1 2.2-4.9 2.1-4.4 2.1-1.8 2.2-3.7 2.1-3.9 2.1-4.2 2.1-2.6 2.2-1.3 2.1-3 2.1-2 2.2-2.6 2.1-1.4 2.1-1.8 2.1-3.4 2.2-3.3 2.1-2 2.1-0.2 2.1-3.4 2.2-1.9 2.1-2.8 2.1-1.2 2.2-3.2 2.1-1.3 2.1-2.3 2.1-2 2.2-0.6 2.1-2.6 2.1-2.3 2.2-1.4 2.1-1.8 2.1-1.8 2.1-1.5 2.2-2.1 2.1-2.1 2.1-2 2.2-2 2.1-0.5 2.1-3 2.1-0.5 2.2-2.7 2.1-1.7 2.1-2.4 2.2-1.6 2.1-2.5 2.1-0.3 2.1-3 2.2-1.5 2.1-1.7 2.1-0.9 2.1-3.8 2.2-2 2.1-2.7 2.1-1.5 2.2-2.1 2.1-2.9 2.1-2.3 2.1-2.4 2.2-3.5 2.1 0.6 2.1-5.2 2.2 3.5 2.1-7 2.1-0.3 2.1-6.1 2.2 0.8 2.1-5.3M30.3 264.3l2.1-5.9 2.2-0.4 2.1-3.6 2.1-4.6 2.1-2.1 2.2-5 2.1-0.3 2.1-5.8 2.2-2.4 2.1-2.6 2.1-4.2 2.1-2.5 2.2-2.5 2.1-3.9 2.1-2.1 2.2-2.5 2.1-3.3 2.1-1 2.1-3 2.2-1.2 2.1-3 2.1-2 2.1-1.3 2.2-1.4 2.1-2.3 2.1-2.2 2.2-2.9 2.1-1.6 2.1-1.8 2.1-2.2 2.2-2 2.1-2 2.1-1.1 2.2-2.2 2.1-1.7 2.1-1.5 2.1-2 2.2-1.3 2.1-2 2.1-2 2.2-0.7 2.1-2.2 2.1-1.8 2.1-2.4 2.2-1.4 2.1-2.7 2.1-1 2.2-2.2 2.1-2.8 2.1-1.8 2.1-1.8 2.2-1.8 2.1-2.9 2.1-2.4 2.1-0.5 2.2-1.7 2.1-1.8 2.1-4.9 2.2 0.4 2.1-1.8 2.1-4 2.1-3.2 2.2 0.1 2.1-3.5 2.1-0.9 2.2-3.2 2.1-5 2.1-0.7 2.1-1.8 2.2-2.8 2.1-2.8M30.3 266.7l2.1-6.3 2.2-3 2.1-2.6 2.1-6.3 2.1-0.1 2.2-4.2 2.1-2.7 2.1-3.3 2.2-3.6 2.1-2.4 2.1-3.6 2.1-4.7 2.2 0.6 2.1-3.1 2.1-2.8 2.2-2.9 2.1-3.7 2.1-2.1 2.1-2 2.2-2 2.1-4 2.1 0.6 2.1-2.2 2.2-2.9 2.1-2.3 2.1-1.8 2.2-1.7 2.1-1.7 2.1-2.6 2.1-1.8 2.2-2 2.1-1.7 2.1-2.7 2.2-1.6 2.1-1.8 2.1-1.7 2.1-1.9 2.2-1.7 2.1-1.9 2.1-1.6 2.2-1.9 2.1-0.8 2.1-2.8 2.1-2.5 2.2-0.2 2.1-3 2.1-2.6 2.2-2.5 2.1-0.9 2.1-2.5 2.1-3.1 2.2-1.7 2.1-0.5 2.1-1.9 2.1-3.6 2.2-1.3 2.1-1.4 2.1-2.5 2.2-2.8 2.1-1.7 2.1-2.2 2.1-2.4 2.2-0.9 2.1-6.1 2.1-1.9 2.2-2.9 2.1-0.6 2.1-2.9 2.1-3.2 2.2-3 2.1 0.6M30.3 265.5l2.1-5.7 2.2-2 2.1-2.8 2.1-4 2.1-3.1 2.2-3.7 2.1-4 2.1-1.9 2.2-3.1 2.1-4.1 2.1-2.2 2.1-3.6 2.2-2 2.1-1.4 2.1-2.9 2.2-2.2 2.1-5 2.1-1.8 2.1-1.5 2.2-1.8 2.1-3.2 2.1-1.7 2.1-2.4 2.2-1.3 2.1-1.9 2.1-3.8 2.2-0.5 2.1-2.6 2.1-2.8 2.1-0.4 2.2-3.2 2.1-1.6 2.1-1.9 2.2-1.9 2.1-1.8 2.1-1.4 2.1-2.8 2.2-1.2 2.1-2.2 2.1-1.9 2.2-1.5 2.1-1.9 2.1-2 2.1-2.5 2.2-1.3 2.1-2.5 2.1-0.9 2.2-1.9 2.1-2.4 2.1-2.2 2.1-2.1 2.2-3.2 2.1-1 2.1-1.2 2.1-3.8 2.2-0.5 2.1-2.1 2.1-2.2 2.2-1.4 2.1-1.5 2.1-3.6 2.1-2 2.2-1.8 2.1-3.6 2.1-2.1 2.2-2.1 2.1-1.2 2.1-4.5 2.1-5 2.2-1.6 2.1-3.1M30.3 265.8l2.1-4.1 2.2-5.4 2.1-0.7 2.1-4.8 2.1-2.1 2.2-3.5 2.1-0.8 2.1-5.2 2.2-5.4 2.1-2.4 2.1-2.6 2.1-5.2 2.2-0.9 2.1-1 2.1-3.7 2.2-2.8 2.1-4 2.1-0.2 2.1-3.5 2.2-2.7 2.1-0.8 2.1-2.8 2.1-0.6 2.2-3.6 2.1-0.4 2.1-3.2 2.2-3.2 2.1-1.2 2.1-1.7 2.1-2 2.2-2.8 2.1-1.2 2.1-2 2.2-1.6 2.1-2 2.1-1.5 2.1-2 2.2-1.6 2.1-2.5 2.1-1.8 2.2-1.5 2.1-1.7 2.1-0.4 2.1-3.3 2.2-2.5 2.1-2.2 2.1 0.8 2.2-2.4 2.1-3.8 2.1-1 2.1-2.6 2.2-1.7 2.1-2.9 2.1 0.3 2.1-3.2 2.2-3.6 2.1-1.4 2.1-1.1 2.2-3.6 2.1-2.1 2.1-1.1 2.1-4.2 2.2-2.5 2.1-1.6 2.1-3.9 2.2-0.1 2.1-5 2.1-1.5 2.1-1.7 2.2-3.1 2.1-5M30.3 265.8l2.1-2.8 2.2-4.1 2.1-2.5 2.1-3.5 2.1-2.9 2.2-6.6 2.1-1.4 2.1-3 2.2-3.4 2.1-4.1 2.1-2.3 2.1-3.5 2.2-2.9 2.1-3.8 2.1 0 2.2-3.9 2.1-1.5 2.1-2.5 2.1-4 2.2-1.3 2.1-1.4 2.1-2.8 2.1-1.8 2.2-2.9 2.1-1 2.1-2.8 2.2-1.6 2.1-2.2 2.1-1.9 2.1-1.8 2.2-2.3 2.1-2.3 2.1-1.3 2.2-2 2.1-2 2.1-1.7 2.1-2.2 2.2-1.8 2.1-0.6 2.1-2.5 2.2-1.6 2.1-2.9 2.1-2 2.1-0.5 2.2-2.2 2.1-2.4 2.1-1.7 2.2-2.8 2.1-2.3 2.1-1.7 2.1-2.4 2.2-1.9 2.1-1.2 2.1-1.7 2.1-1.7 2.2-3.6 2.1-2.2 2.1-2.3 2.2-0.8 2.1-2.2 2.1-3 2.1-3.4 2.2-1.5 2.1-2.3 2.1-1.4 2.2-4 2.1-2.8 2.1-0.9 2.1-6.1 2.2 0.6 2.1-5.2M30.3 267.5l2.1-5.5 2.2-3.7 2.1-3.2 2.1-3.8 2.1-5.3 2.2-1.2 2.1-4 2.1-3.3 2.2-1.1 2.1-2.5 2.1-5 2.1-3.6 2.2-2 2.1-1.9 2.1-2.5 2.2-3.9 2.1-1.4 2.1-1.3 2.1-4.3 2.2-1.9 2.1-2.4 2.1-2.7 2.1-2.4 2.2-1.6 2.1-1.6 2.1-0.8 2.2-3.6 2.1-1.7 2.1-2.8 2.1-1.8 2.2-1.6 2.1-2.2 2.1-1.4 2.2-1.9 2.1-1.9 2.1-1.7 2.1-2 2.2-2.1 2.1-1.1 2.1-2.5 2.2-2.7 2.1 0.2 2.1-2.5 2.1-2.1 2.2-2.5 2.1-2.7 2.1-1.5 2.2-1 2.1-1.4 2.1-2.6 2.1-2.1 2.2-2.3 2.1-1.1 2.1-4.3 2.1 0 2.2-3.5 2.1-1.7 2.1-0.9 2.2-3.4 2.1-2.2 2.1-2.1 2.1-3.5 2.2-1 2.1-5.9 2.1-1 2.2-0.2 2.1-0.8 2.1-7.2 2.1-1.6 2.2-2.7 2.1-1.5M30.3 269.1l2.1-7.1 2.2-3.7 2.1-1.7 2.1-4 2.1-2.7 2.2-4.6 2.1-4.7 2.1-2.8 2.2-2.5 2.1-3.9 2.1 0 2.1-6.9 2.2-0.7 2.1-1.6 2.1-3.6 2.2-2.3 2.1-3.2 2.1-2.6 2.1 0 2.2-5.3 2.1-2.6 2.1 0 2.1-4 2.2-2 2.1-1.9 2.1-2.4 2.2-0.2 2.1-3.3 2.1-1 2.1-3.7 2.2-0.4 2.1-1.8 2.1-2.7 2.2-1.7 2.1-1.8 2.1-1.8 2.1-2 2.2-2.2 2.1-0.9 2.1-1.8 2.2-1.8 2.1-2.2 2.1-1.9 2.1-1.1 2.2-2.9 2.1-0.9 2.1-2.6 2.2-2 2.1-2 2.1-3.4 2.1-2.2 2.2-1.5 2.1-2.6 2.1-0.3 2.1-3.8 2.2-0.8 2.1-2.6 2.1-2.4 2.2-0.7 2.1-3.2 2.1-3 2.1-3.1 2.2-1.9 2.1-1.7 2.1-2.1 2.2-3.9 2.1-1 2.1-2.6 2.1-3.8 2.2-3 2.1-1.5M30.3 266.4l2.1-1.3 2.2-6.1 2.1-2.1 2.1-4.2 2.1-3.6 2.2-1.8 2.1-8.7 2.1 1.5 2.2-5.2 2.1-2.1 2.1-3.6 2.1-4.6 2.2 0.6 2.1-4.3 2.1-3.1 2.2-2 2.1-2.6 2.1-1.3 2.1-1.5 2.2-2.6 2.1-3 2.1-3.1 2.1-1.8 2.2-3.3 2.1-1.1 2.1-2.2 2.2-2.1 2.1-1 2.1-3.3 2.1-1.2 2.2-2.3 2.1-2.9 2.1-0.6 2.2-2.3 2.1-1.9 2.1-1.9 2.1-1.8 2.2-1.6 2.1-2.9 2.1 0 2.2-2.2 2.1-3.3 2.1-1.4 2.1-1.1 2.2-1.8 2.1-2.4 2.1-4.1 2.2-0.3 2.1-0.8 2.1-2.9 2.1-1.3 2.2-3.8 2.1-0.9 2.1-3 2.1-1 2.2-4 2.1-0.6 2.1-2.2 2.2-1 2.1-3 2.1-3.4 2.1-1.5 2.2-6 2.1 0.3 2.1-1.7 2.2-4.7 2.1-0.8 2.1-3.7 2.1-2 2.2-1.8 2.1-5.4M30.3 268.3l2.1-4.3 2.2-4.5 2.1-1.5 2.1-5.5 2.1-1.8 2.2-4 2.1-7.1 2.1-1.7 2.2-1.4 2.1-5.4 2.1-2.6 2.1-2.5 2.2-3.4 2.1-1.2 2.1-2.8 2.2-2 2.1-3.9 2.1-0.9 2.1-3 2.2-3.2 2.1-1.4 2.1-2.8 2.1-3.2 2.2 0 2.1-3.7 2.1-0.6 2.2-1.8 2.1-2.7 2.1-2.4 2.1-1.1 2.2-2 2.1-2.2 2.1-1.9 2.2-2.2 2.1-1.9 2.1-1.8 2.1-2 2.2-1.6 2.1-2.5 2.1-1 2.2-1.8 2.1-3.5 2.1-1.6 2.1-1 2.2-2.4 2.1-1.6 2.1-1.3 2.2-2.9 2.1-1.7 2.1-2.9 2.1 0.6 2.2-4.4 2.1-1.5 2.1-1.4 2.1-2.4 2.2-2.2 2.1-1.2 2.1-2.9 2.2-3.7 2.1 0.3 2.1-3.5 2.1-0.1 2.2-4.3 2.1-3.6 2.1-2 2.2-2.7 2.1-1.2 2.1-4.9 2.1-1 2.2-5.1 2.1-2.1M30.3 266.7l2.1-3.5 2.2-3.4 2.1-3.8 2.1-4.1 2.1-3.4 2.2-2.9 2.1-2.5 2.1-1.5 2.2-5.8 2.1-2.9 2.1-4.5 2.1-2 2.2-3.5 2.1-3.4 2.1-0.9 2.2-1.9 2.1-4.1 2.1-1.2 2.1-2.7 2.2-3.7 2.1-1.4 2.1-2.6 2.1-0.2 2.2-3.1 2.1-2.8 2.1-0.4 2.2-3 2.1-2.1 2.1-0.6 2.1-4 2.2-0.9 2.1-2.3 2.1-2.5 2.2-1.1 2.1-2.3 2.1-1.7 2.1-2 2.2-1.5 2.1-2.7 2.1-0.8 2.2-2.5 2.1-2 2.1-1.6 2.1-1.8 2.2-2 2.1-2.9 2.1-1.6 2.2-1.7 2.1-1.2 2.1-3.1 2.1-2.4 2.2-1.5 2.1-3.3 2.1 1.1 2.1-6.3 2.2 0.6 2.1-1.1 2.1-1.5 2.2-5 2.1-2 2.1-1.5 2.1-2.6 2.2-2.7 2.1-1.9 2.1-4.4 2.2-2 2.1-1.7 2.1-0.7 2.1-6.4 2.2-0.3 2.1-2M30.3 268.5l2.1-7.6 2.2-4.4 2.1-0.1 2.1-4.8 2.1-3.7 2.2-2.3 2.1-1.7 2.1-6.1 2.2-1.6 2.1-3.6 2.1-3.1 2.1-1.1 2.2-5.3 2.1-1 2.1-2.8 2.2-2 2.1-3.6 2.1-2.9 2.1-1.1 2.2-3.5 2.1-1.5 2.1-1.8 2.1-3 2.2-2.9 2.1-2 2.1-2.4 2.2-0.9 2.1-2.2 2.1-2.2 2.1-2.2 2.2-1.6 2.1-1.6 2.1-1.8 2.2-2.7 2.1-1.7 2.1-1.7 2.1-2.5 2.2-1.4 2.1-2.1 2.1-2.3 2.2-1 2.1-1.7 2.1-1.3 2.1-3.1 2.2-2 2.1-2.2 2.1-1.8 2.2-1.5 2.1-2.9 2.1-0.2 2.1-3.2 2.2-2.2 2.1-1.5 2.1-3.8 2.1-1 2.2-3 2.1-1.8 2.1-1.1 2.2-4.4 2.1-1.5 2.1-1.1 2.1-2.2 2.2-1.4 2.1-3.6 2.1-2.5 2.2-3.3 2.1-2 2.1-4.1 2.1-2.1 2.2-1 2.1-4.4M30.3 268.2l2.1-8 2.2 0.7 2.1-4.8 2.1-2.8 2.1-5 2.2-4 2.1-1.4 2.1-4.7 2.2-0.6 2.1-4.5 2.1-1.4 2.1-4.5 2.2-2.1 2.1-3.6 2.1-1.4 2.2-4 2.1-2.4 2.1-1.9 2.1-2.3 2.2-2 2.1-3 2.1-2.8 2.1-1.8 2.2-2.3 2.1-2.9 2.1-0.9 2.2-2.5 2.1-2.3 2.1-1.8 2.1-1.9 2.2-1.8 2.1-2.7 2.1-1.2 2.2-1.9 2.1-2 2.1-2.2 2.1-2 2.2-1.4 2.1-2.3 2.1-1.7 2.2-1.7 2.1-2.2 2.1-1.9 2.1-1.7 2.2-3 2.1-0.4 2.1-3.3 2.2-2.5 2.1-2 2.1-0.5 2.1-1.7 2.2-0.8 2.1-3.5 2.1-4.5 2.1 1.7 2.2-2.2 2.1-4.7 2.1-2.1 2.2 0.3 2.1-4.2 2.1-2.8 2.1-0.3 2.2-5.2 2.1 0.3 2.1-5.4 2.2-1.3 2.1-1.4 2.1-1.5 2.1-4.2 2.2-3 2.1-2.8M30.3 267.7l2.1-3.2 2.2-4.9 2.1-4.5 2.1-1.2 2.1-4.1 2.2 0.2 2.1-6.4 2.1-4.4 2.2-1.3 2.1-5.9 2.1 0.3 2.1-6.5 2.2-1 2.1-2.4 2.1-3.3 2.2-2.9 2.1-1.8 2.1-2.1 2.1-3.1 2.2-3.5 2.1-1.7 2.1-2.8 2.1-0.6 2.2-2.3 2.1-2.1 2.1-2.4 2.2-2.3 2.1-2.8 2.1-1.5 2.1-1.8 2.2-2.5 2.1-1.1 2.1-1.9 2.2-2.5 2.1-1.7 2.1-1.9 2.1-2.2 2.2-1.5 2.1-1.9 2.1-2.1 2.2-1.9 2.1-2.1 2.1-1.3 2.1-1.9 2.2-0.1 2.1-4.4 2.1 0.1 2.2-3.2 2.1-4.2 2.1 0.3 2.1-1.1 2.2-5 2.1-0.2 2.1-2.5 2.1-2.2 2.2-3.1 2.1-2.3 2.1-1.3 2.2-3.6 2.1-0.1 2.1-4 2.1-0.9 2.2-3.9 2.1-0.9 2.1-2.7 2.2-4.9 2.1 0.5 2.1-2.6 2.1-4.9 2.2-1.7 2.1-2.7M30.3 268.2l2.1-4.6 2.2-2 2.1-6.2 2.1-0.7 2.1-4.6 2.2-3.9 2.1-6.6 2.1 2.4 2.2-5.5 2.1-5.7 2.1 0.3 2.1-4.9 2.2-2.1 2.1-1.2 2.1-4.6 2.2-1.4 2.1-3.5 2.1-1 2.1-4.3 2.2 0.4 2.1-4.1 2.1-3.3 2.1-1.5 2.2-1.5 2.1-2.2 2.1-2 2.2-4 2.1-0.4 2.1-2.1 2.1-1.6 2.2-2.2 2.1-2.4 2.1-1.5 2.2-1.9 2.1-2.1 2.1-1.8 2.1-2 2.2-1.6 2.1-1.9 2.1-1.5 2.2-2.9 2.1-1.2 2.1-1.6 2.1-2.3 2.2-1.8 2.1-0.9 2.1-3 2.2-3.5 2.1-1.2 2.1-2.6 2.1-0.5 2.2-1.3 2.1-2.8 2.1-4 2.1 0.2 2.2-2.3 2.1-4.1 2.1-0.8 2.2-2.4 2.1-3 2.1-2.1 2.1-2.1 2.2-3.2 2.1-1.5 2.1-3.5 2.2-3.5 2.1-0.6 2.1-3.8 2.1-1.5 2.2-5.1 2.1-2.6M30.3 270.6l2.1-8.3 2.2-1.3 2.1-4.2 2.1-1.4 2.1-6.3 2.2-3.6 2.1-0.1 2.1-4.4 2.2-3.4 2.1-2.9 2.1-5.3 2.1-3.7 2.2 0.4 2.1-4.9 2.1-1.4 2.2-4.2 2.1 1 2.1-4.4 2.1-3.8 2.2-0.7 2.1-3.9 2.1-0.9 2.1-3.5 2.2-1.8 2.1-1.5 2.1-2 2.2-2.5 2.1-2.9 2.1-1.3 2.1-1.7 2.2-3.7 2.1 0.1 2.1-2.5 2.2-2.1 2.1-1.8 2.1-1.9 2.1-1.7 2.2-1.4 2.1-2.6 2.1-1.1 2.2-2 2.1-3 2.1-0.6 2.1-3.1 2.2-2.4 2.1-1.9 2.1-1.6 2.2-1.5 2.1-1 2.1-3.3 2.1-2.3 2.2-1.2 2.1-1.6 2.1-3.8 2.1-0.3 2.2-3.7 2.1-1.4 2.1-1 2.2-5.9 2.1-1.4 2.1-2.4 2.1-0.3 2.2-3.9 2.1-3 2.1-1.4 2.2-5.5 2.1 1.9 2.1-6.1 2.1 0.5 2.2-3.3 2.1-3.3M30.3 271.9l2.1-4.8 2.2-3.8 2.1-4.7 2.1-3.8 2.1-1.2 2.2-5.7 2.1-5.6 2.1-1.4 2.2-3.7 2.1-2.4 2.1-3.1 2.1-3.6 2.2-1.5 2.1-4 2.1-1.2 2.2-4.6 2.1-0.8 2.1-4.6 2.1-2.8 2.2-0.2 2.1-4.3 2.1-1.5 2.1-3.5 2.2-0.9 2.1-2.4 2.1-2.1 2.2-3 2.1-0.2 2.1-3.5 2.1-1.6 2.2-1.7 2.1-2 2.1-2.3 2.2-1.9 2.1-1.8 2.1-1.7 2.1-1.4 2.2-2.2 2.1-2 2.1-1.8 2.2-2.8 2.1-2.5 2.1-0.9 2.1-0.5 2.2-3.9 2.1-0.7 2.1-2.5 2.2-2.6 2.1-1.6 2.1-1.7 2.1-2.3 2.2-2.5 2.1-2 2.1-3.5 2.1 2.7 2.2-4.4 2.1-2.5 2.1-3.8 2.2-1.7 2.1-3.1 2.1 0.1 2.1-3.8 2.2-3.4 2.1-1.7 2.1-2 2.2-3.3 2.1-4.3 2.1 2.1 2.1-7.3 2.2-1.1 2.1-1.3M30.3 269.1l2.1-4.3 2.2-2.8 2.1-4.5 2.1-2.1 2.1-5.6 2.2-1.7 2.1-3.3 2.1-4.2 2.2-3.5 2.1-2.5 2.1-4.9 2.1-2.1 2.2-3.6 2.1-0.6 2.1-2.8 2.2-3.6 2.1-1.7 2.1-3.2 2.1-3 2.2-2.8 2.1-2.6 2.1-1.7 2.1-1.2 2.2-3.2 2.1-1.4 2.1-2.9 2.2-1.1 2.1-3.4 2.1-1.5 2.1-1.6 2.2-1.5 2.1-2.6 2.1-1.7 2.2-2.2 2.1-2 2.1-1.7 2.1-2.1 2.2-2.3 2.1-0.8 2.1-2.3 2.2-2.3 2.1-1.6 2.1-1.8 2.1-3.6 2.2 0.1 2.1-2.8 2.1-1.3 2.2-2.2 2.1-0.2 2.1-4.6 2.1-1.2 2.2-1.5 2.1-4.6 2.1-0.5 2.1-1.9 2.2-2.1 2.1-4.2 2.1-1.2 2.2-1.9 2.1-1.2 2.1-2.7 2.1-3.7 2.2-1.9 2.1-0.1 2.1-3.8 2.2-4 2.1-5.7 2.1 1.5 2.1-1 2.2-6.7 2.1-1.3" stroke="#8c8c8c" stroke-width="0.5"/>
<path d="M30.3 269.7l2.1-1.8 2.2-7.6 2.1-1.1 2.1-7 2.1-2.2 2.2-2.9 2.1-3.9 2.1-2.2 2.2-3.8 2.1-5 2.1-0.7 2.1-4.4 2.2-1.2 2.1-3.7 2.1-3.7 2.2-0.5 2.1-4 2.1-0.1 2.1-3.3 2.2-2.9 2.1-3.3 2.1-2.1 2.1-0.9 2.2-2.8 2.1-2.4 2.1-1 2.2-3.5 2.1-2.6 2.1-2 2.1-1.1 2.2-2.1 2.1-1.9 2.1-2.2 2.2-2 2.1-2.1 2.1-1.9 2.1-1.5 2.2-2.5 2.1-1.9 2.1-1.3 2.2-2.1 2.1-2 2.1-1 2.1-3.1 2.2-2.4 2.1-2.9 2.1-0.7 2.2-1.5 2.1-2.1 2.1-2.6 2.1-2.2 2.2-0.6 2.1-3 2.1-2.7 2.1 0.4 2.2-5.7 2.1-0.7 2.1-3.6 2.2-1.4 2.1-2.2 2.1-2.6 2.1-2.8 2.2-3.1 2.1-1.1 2.1-1.5 2.2-3.1 2.1-2.4 2.1-4.9 2.1-0.7 2.2-6.2 2.1-1.2M30.3 271l2.1-8.4 2.2-1.4 2.1-1.4 2.1-5 2.1-4.8 2.2-2.7 2.1-4.1 2.1-5.1 2.2-1.7 2.1-4.4 2.1-1.7 2.1-1.7 2.2-5.2 2.1-0.6 2.1-4.4 2.2-2.3 2.1-1.1 2.1-2.5 2.1-2.8 2.2-2.8 2.1-3.1 2.1-1.2 2.1-3.6 2.2-1.4 2.1-1.1 2.1-2.2 2.2-2.6 2.1-1.8 2.1-2.3 2.1-2.4 2.2-1.8 2.1-2.2 2.1-1.4 2.2-1.9 2.1-2.2 2.1-1.5 2.1-2.1 2.2-2 2.1-1.7 2.1-2 2.2-3 2.1-0.2 2.1-2.4 2.1-1.8 2.2-1.7 2.1-3.6 2.1-1.1 2.2-3 2.1-0.1 2.1-4.5 2.1-2.4 2.2 0.8 2.1-2.9 2.1-1.9 2.1-2.8 2.2-0.4 2.1-4 2.1-2.7 2.2-1 2.1-0.6 2.1-4.3 2.1-2.9 2.2-3.9 2.1-1 2.1-2 2.2-4.7 2.1-2.4 2.1-3.1 2.1-1.8 2.2-4 2.1-2.2M30.3 269l2.1-1.4 2.2-5.3 2.1-3 2.1-3.1 2.1-3.3 2.2-5.4 2.1-3.7 2.1-2.2 2.2-2.6 2.1-3.7 2.1-4.9 2.1-1 2.2-5.4 2.1 0 2.1-4.7 2.2-3 2.1-3 2.1-0.9 2.1-2.2 2.2-1.8 2.1-4.2 2.1-1.4 2.1-2 2.2-2.3 2.1-2.6 2.1-2 2.2-2.8 2.1-0.1 2.1-3.8 2.1-1.3 2.2-2.2 2.1-1.9 2.1-2.1 2.2-2.2 2.1-1.8 2.1-1.6 2.1-2.1 2.2-1.9 2.1-2.1 2.1-1.8 2.2-1.8 2.1-2.6 2.1-0.7 2.1-4.1 2.2-0.1 2.1-1.6 2.1-3.3 2.2-2.3 2.1-2.2 2.1-2.2 2.1-1.2 2.2-1.7 2.1-2.4 2.1-1.8 2.1-1.6 2.2-4.4 2.1-2.6 2.1-0.4 2.2-2.2 2.1-2.2 2.1-1.1 2.1-3.7 2.2-2.7 2.1-3.2 2.1-1.4 2.2-1.5 2.1-5.7 2.1-4 2.1 2.2 2.2-5.3 2.1-4.1M30.3 268l2.1-3.1 2.2-3.1 2.1-3.5 2.1-5.2 2.1-2.2 2.2-5.5 2.1-3 2.1-1.1 2.2-4.6 2.1-3.9 2.1-2 2.1-1.2 2.2-3.6 2.1-2.7 2.1-3.3 2.2-2.6 2.1-2.2 2.1-3.7 2.1-2.9 2.2-0.8 2.1-1.6 2.1-3.8 2.1-1.9 2.2-2.5 2.1-1.4 2.1-2.8 2.2-1.3 2.1-3.3 2.1-2.3 2.1-0.7 2.2-1.4 2.1-3 2.1-2 2.2-2.2 2.1-1.9 2.1-2 2.1-2.7 2.2-0.9 2.1-1.9 2.1-2.4 2.2-0.7 2.1-3.4 2.1-1.1 2.1-1.3 2.2-2.3 2.1-3 2.1-2.2 2.2-2.4 2.1-1.4 2.1-1.1 2.1-3.3 2.2-1.6 2.1-4.4 2.1 2 2.1-5.8 2.2-1.4 2.1-1.9 2.1-1.7 2.2-1.7 2.1-1.8 2.1-1.6 2.1-6.4 2.2-1.1 2.1-2.2 2.1-2.1 2.2 0.2 2.1-4.8 2.1-3.2 2.1-4.3 2.2-0.1 2.1-4.7M30.3 268.9l2.1-5.4 2.2-0.1 2.1-6.4 2.1-1 2.1-4.1 2.2-6.2 2.1-1.5 2.1-4.7 2.2-1.8 2.1-3.9 2.1-1.8 2.1-4.7 2.2-3.3 2.1-1.7 2.1-1.6 2.2-2.9 2.1-2.1 2.1-4 2.1-2.4 2.2-1.4 2.1-3.7 2.1-1 2.1-4.1 2.2-1.4 2.1-2.7 2.1-0.6 2.2-1.9 2.1-1.7 2.1-3.4 2.1-1.2 2.2-3.2 2.1-1.4 2.1-2.2 2.2-1.4 2.1-2.3 2.1-2 2.1-2.1 2.2-1.1 2.1-2.6 2.1-1.3 2.2-2.8 2.1-1.3 2.1-1.9 2.1-2.5 2.2-2.5 2.1-1.1 2.1-3.2 2.2-0.4 2.1-3.1 2.1-0.9 2.1-3.3 2.2-1.1 2.1-3 2.1-2.7 2.1-0.5 2.2-1.4 2.1-3.7 2.1-3 2.2-2 2.1-1.2 2.1-4.4 2.1-1.3 2.2-3.9 2.1-0.7 2.1-4.4 2.2-3.8 2.1-0.6 2.1-3.4 2.1-4.1 2.2-2.8 2.1-2.7M30.3 272l2.1-1.2 2.2-9 2.1-4.4 2.1-1.9 2.1-2 2.2-4.2 2.1-4.8 2.1-3 2.2-1.6 2.1-5.4 2.1-2.6 2.1-2.9 2.2-2.1 2.1-3.4 2.1-2.2 2.2-3.7 2.1-1.9 2.1-4.3 2.1-1.4 2.2-2.6 2.1-2.4 2.1-2.2 2.1-0.9 2.2-4.2 2.1-1.3 2.1-1.7 2.2-1.9 2.1-2.3 2.1-2.2 2.1-2.5 2.2-1.6 2.1-2.5 2.1-2.1 2.2-1.8 2.1-2.1 2.1-1.9 2.1-2.1 2.2-1.9 2.1-1.8 2.1-2.3 2.2-2.4 2.1-1.1 2.1-1.5 2.1-2.9 2.2-0.1 2.1-3.7 2.1-1.8 2.2-2.5 2.1-0.6 2.1-3 2.1-1.7 2.2-2.6 2.1-3.2 2.1-1.5 2.1-1.8 2.2-4.1 2.1-1.1 2.1-0.2 2.2-3.5 2.1-4 2.1-2.6 2.1-2.3 2.2-2.6 2.1-1.2 2.1-3.7 2.2-1.3 2.1-3.2 2.1-2.6 2.1-2.9 2.2-3.6 2.1-3.1M30.3 270.9l2.1-1.2 2.2-7.7 2.1-2.4 2.1-2 2.1-2.1 2.2-5.7 2.1-2.3 2.1-6.2 2.2-0.6 2.1-4.3 2.1-3.9 2.1-2.6 2.2-3.3 2.1-2.3 2.1-3.8 2.2-1.2 2.1-4 2.1-1 2.1-3.8 2.2-1.3 2.1-3.2 2.1-3 2.1-2.8 2.2 0 2.1-3 2.1-2.1 2.2-3.6 2.1-0.9 2.1-3 2.1-1.4 2.2-1.7 2.1-2.7 2.1-1.7 2.2-2.5 2.1-1.9 2.1-2.2 2.1-1.3 2.2-2.9 2.1-1.7 2.1-0.7 2.2-4 2.1-1.8 2.1-0.5 2.1-2.9 2.2-0.9 2.1-3 2.1-2.3 2.2-2.4 2.1-0.9 2.1-2.8 2.1-1.3 2.2-3.2 2.1-2.4 2.1-1.6 2.1-3.2 2.2-1.9 2.1-1.9 2.1-3.2 2.2 0.1 2.1-3.9 2.1-0.6 2.1-4.6 2.2-2.2 2.1-4.2 2.1-1.2 2.2-2.4 2.1-3.4 2.1-2.7 2.1-3.6 2.2-0.9 2.1-2M30.3 273.6l2.1-6.5 2.2-1.6 2.1-5.1 2.1-4.4 2.1-3.9 2.2-1 2.1-4.5 2.1-3.8 2.2-1.4 2.1-6.1 2.1-2.9 2.1-3.2 2.2-1 2.1-4.6 2.1-3 2.2-3.3 2.1-1.1 2.1-3.7 2.1-3.6 2.2-0.3 2.1-2.4 2.1-2.4 2.1-1.4 2.2-3.2 2.1-3.6 2.1-0.5 2.2-2.7 2.1-3 2.1-1.8 2.1-1.9 2.2-1.8 2.1-2.1 2.1-2.1 2.2-2.2 2.1-1.8 2.1-2.2 2.1-1.1 2.2-2.9 2.1-1.3 2.1-2.2 2.2-1.7 2.1-2.6 2.1-1.5 2.1-2.5 2.2-1.1 2.1-2.7 2.1-2.9 2.2-2 2.1-0.9 2.1-2.4 2.1-1.7 2.2-2.3 2.1-2.3 2.1-3.3 2.1-1.6 2.2-3.2 2.1-2.5 2.1 0.5 2.2-4.1 2.1-1.8 2.1-1.3 2.1-3.3 2.2-3.4 2.1-5.3 2.1-0.9 2.2-2.4 2.1-3 2.1-1.8 2.1-4 2.2-2.5 2.1-0.8M30.3 272.4l2.1-5 2.2-0.7 2.1-4.8 2.1-4.1 2.1-3.7 2.2-3.3 2.1-4.5 2.1-4.3 2.2-2.7 2.1-4.1 2.1-3.4 2.1-1.4 2.2-4.1 2.1-2.3 2.1-3.9 2.2-1.7 2.1-2.8 2.1-4.2 2.1-0.7 2.2-1.2 2.1-3.7 2.1-2.4 2.1-1.7 2.2-2.7 2.1-2.9 2.1-1.1 2.2-2.5 2.1-1.9 2.1-2.7 2.1-1.9 2.2-1.8 2.1-2.4 2.1-2.6 2.2-1.1 2.1-2.4 2.1-2 2.1-1.5 2.2-3.1 2.1-0.5 2.1-2 2.2-2.3 2.1-2.9 2.1-1.8 2.1-1.9 2.2-1.8 2.1-2.8 2.1 0.2 2.2-3.7 2.1-3.1 2.1 0 2.1-3.4 2.2-3 2.1-2.3 2.1-0.9 2.1-4.2 2.2-1 2.1-3 2.1-0.1 2.2-2.7 2.1-2.4 2.1-5.3 2.1 2.2 2.2-3.1 2.1-5.6 2.1-1.9 2.2 1.1 2.1-5.8 2.1-3 2.1-4.8 2.2 1 2.1-4.8M30.3 274l2.1-6.3 2.2-3.3 2.1-1.7 2.1-4.7 2.1-4.7 2.2-3.4 2.1-4.8 2.1-3 2.2-2.5 2.1-3.8 2.1-1.7 2.1-3.4 2.2-4.3 2.1-2.7 2.1-1.5 2.2-3.8 2.1-2 2.1-2.9 2.1-4.1 2.2-0.5 2.1-2.7 2.1-3.3 2.1-1.8 2.2-2.3 2.1-1.1 2.1-3.1 2.2-2 2.1-1.9 2.1-2.2 2.1-2.3 2.2-2.6 2.1-2.4 2.1-1.4 2.2-2.4 2.1-1.7 2.1-1.6 2.1-2.3 2.2-2.5 2.1-2.1 2.1-0.9 2.2-3.6 2.1-0.4 2.1-2 2.1-2.1 2.2-3.3 2.1-1.4 2.1-2.4 2.2 0.4 2.1-3.8 2.1-2.1 2.1-2.8 2.2-1.2 2.1-3.7 2.1-0.5 2.1-1.6 2.2-2.1 2.1-5.3 2.1-1.9 2.2-0.9 2.1-4.5 2.1-1.1 2.1-2.6 2.2-1 2.1-3.6 2.1-3.4 2.2-2.8 2.1-1.8 2.1-4.7 2.1-3.4 2.2 0 2.1-4.6M30.3 273.3l2.1-3.7 2.2-5.7 2.1-1.7 2.1-4.3 2.1-4.8 2.2-3.3 2.1-3.9 2.1-2.9 2.2-2.8 2.1-4.8 2.1-2.5 2.1-3.9 2.2-3.3 2.1-1.1 2.1-2.4 2.2-3 2.1-2.5 2.1-1.4 2.1-5.8 2.2-1.5 2.1-4 2.1-0.1 2.1-3.2 2.2-2.1 2.1-2 2.1-2.9 2.2-1.5 2.1-2 2.1-2.2 2.1-0.9 2.2-2.8 2.1-2.1 2.1-2.9 2.2-1.7 2.1-1.9 2.1-2.1 2.1-1.7 2.2-2.7 2.1-1.2 2.1-1.4 2.2-3.1 2.1-2.3 2.1-1.4 2.1-2.2 2.2-2.5 2.1-2.5 2.1-1.4 2.2-3 2.1-1 2.1-3.7 2.1 0.8 2.2-4.3 2.1-1.7 2.1-2.1 2.1-1 2.2-4.6 2.1-1 2.1-1.5 2.2-2.7 2.1-2.8 2.1-2.7 2.1-1.2 2.2-2.5 2.1-4 2.1-2.1 2.2-5.2 2.1 0.1 2.1-4.4 2.1-4.3 2.2-0.7 2.1-4.7M30.3 273.5l2.1-5.7 2.2-2.6 2.1-5.3 2.1-1.9 2.1-6 2.2-2.1 2.1-3 2.1-5.7 2.2-1.4 2.1-3.8 2.1-2.6 2.1-3.6 2.2-2.3 2.1-1.6 2.1-4.3 2.2-3 2.1-2.6 2.1-2.2 2.1-4.4 2.2-0.4 2.1-3.2 2.1-2.5 2.1-1.4 2.2-2.3 2.1-3.5 2.1-2.2 2.2-1.8 2.1-1.2 2.1-2.8 2.1-2.3 2.2-2.2 2.1-2.3 2.1-1.7 2.2-2.1 2.1-1.8 2.1-1.5 2.1-2.7 2.2-1.5 2.1-2.4 2.1-1.8 2.2-1.4 2.1-2 2.1-2.8 2.1-1.7 2.2-2.7 2.1-1.3 2.1-3.9 2.2-0.3 2.1-4 2.1 0.2 2.1-3.3 2.2-2.6 2.1 0 2.1-2.5 2.1-3.5 2.2-3 2.1-2.6 2.1-1.5 2.2-3 2.1 0 2.1-3.3 2.1-4.7 2.2-0.3 2.1-3 2.1-0.9 2.2-4.5 2.1-1.1 2.1-5.2 2.1-4.3 2.2-1.5 2.1-2.8M30.3 274.6l2.1-3.2 2.2-7.4 2.1-2.2 2.1-2.6 2.1-3.9 2.2-6.5 2.1-3.1 2.1-3.6 2.2-2.4 2.1-4.3 2.1-3.6 2.1-2.4 2.2-0.6 2.1-2.5 2.1-3.3 2.2-4.4 2.1-0.9 2.1-3 2.1-3.5 2.2-1.7 2.1-2.1 2.1-4.1 2.1-2 2.2-2.5 2.1-2.4 2.1-2.5 2.2-1.3 2.1-2.1 2.1-1.4 2.1-2.9 2.2-2 2.1-2.8 2.1-1.8 2.2-2.2 2.1-1.7 2.1-2.2 2.1-1.9 2.2-1.9 2.1-1.7 2.1-2.2 2.2-1.4 2.1-2.7 2.1-1.7 2.1-0.8 2.2-1.5 2.1-3.4 2.1-2.2 2.2-2.3 2.1-3.4 2.1-0.6 2.1-1.7 2.2-3.7 2.1-2.9 2.1-2.9 2.1 0.2 2.2-3.1 2.1-2.1 2.1-4.4 2.2-1.5 2.1-1.7 2.1-3.2 2.1-1.3 2.2-2.7 2.1-2.8 2.1-2.1 2.2-2.9 2.1-3.6 2.1-2.7 2.1-4.4 2.2-2.2 2.1-1.9M30.3 273.4l2.1-3.3 2.2-4.8 2.1-4.1 2.1-3.1 2.1-3.5 2.2-4.4 2.1-3.8 2.1-1.9 2.2-2.1 2.1-4.4 2.1-4.7 2.1-0.8 2.2-5.6 2.1-1.5 2.1-3.5 2.2-2 2.1-4 2.1-2.1 2.1-2.9 2.2-0.5 2.1-4.7 2.1-0.5 2.1-3.4 2.2-2.9 2.1-1.8 2.1-2.7 2.2-2 2.1-2.1 2.1-1.7 2.1-3.1 2.2-2.1 2.1-1.4 2.1-2 2.2-2.3 2.1-2 2.1-2 2.1-2.2 2.2-2 2.1-2.3 2.1-1.6 2.2-1.2 2.1-2 2.1-2.8 2.1-2.9 2.2-0.6 2.1-1.6 2.1-3.8 2.2-1 2.1-2.7 2.1-2.5 2.1-0.5 2.2-2.7 2.1-2 2.1-3.2 2.1-2.4 2.2-1.1 2.1-3.4 2.1 0 2.2-4.7 2.1-2.5 2.1-2.2 2.1-1 2.2-4.3 2.1-1.6 2.1-5.7 2.2-0.7 2.1-2.9 2.1-3 2.1-3.6 2.2-2.3 2.1-3.5M30.3 273.6l2.1-5.2 2.2-2.5 2.1-2.2 2.1-4.1 2.1-4.8 2.2-5.4 2.1-1.4 2.1-4 2.2-4.6 2.1-1.4 2.1-4.2 2.1-3.1 2.2-2.3 2.1-3.8 2.1-3.8 2.2-2.8 2.1-1.5 2.1-5.5 2.1-0.3 2.2-2 2.1-2 2.1-2.2 2.1-3.7 2.2 0.4 2.1-4.1 2.1-1.5 2.2-2.9 2.1-2.3 2.1-1.5 2.1-2.3 2.2-3.1 2.1-1.4 2.1-2.3 2.2-2 2.1-2.1 2.1-2.3 2.1-2 2.2-1.9 2.1-2 2.1-1.2 2.2-3.2 2.1-1 2.1-1.7 2.1-2.3 2.2-1.7 2.1-2.8 2.1-2.3 2.2-2.5 2.1-1.1 2.1-1.7 2.1-2.4 2.2-1.5 2.1-2.6 2.1-4.9 2.1 0.3 2.2-2.7 2.1-3.5 2.1-2 2.2-3 2.1-0.7 2.1-2.3 2.1-5.1 2.2-0.4 2.1-3.2 2.1-3 2.2-0.3 2.1-4.8 2.1-2.3 2.1-4.5 2.2-2 2.1-0.6M30.3 273.9l2.1-2.1 2.2-4.6 2.1-5.8 2.1-3.8 2.1-4.2 2.2-3.3 2.1-3.1 2.1-3.3 2.2-3.5 2.1-4.8 2.1-3.7 2.1-3.5 2.2 0.1 2.1-3.6 2.1-3 2.2-2.5 2.1-1.8 2.1-5.5 2.1-1.9 2.2-1 2.1-2.2 2.1-2.8 2.1-1.5 2.2-3 2.1-3.1 2.1-2.8 2.2-1.7 2.1-2.4 2.1-0.8 2.1-1.1 2.2-4.3 2.1-1.5 2.1-2 2.2-2.4 2.1-1.7 2.1-1.7 2.1-2 2.2-2.7 2.1-1.8 2.1-0.7 2.2-3.7 2.1-1.1 2.1-2.3 2.1-1.3 2.2-3.8 2.1-1.1 2.1-2.8 2.2-0.4 2.1-3.5 2.1-1.7 2.1-2 2.2-1.7 2.1-2.3 2.1-1.8 2.1-2.7 2.2-2.9 2.1-3 2.1-0.1 2.2-3 2.1-2.9 2.1-1.4 2.1-4 2.2-2.7 2.1-2.8 2.1-3.4 2.2-3.5 2.1-2.7 2.1-2.3 2.1-3.3 2.2-1.3 2.1-2.8M30.3 275.4l2.1-3.8 2.2-7 2.1-4.7 2.1-2.1 2.1-2.7 2.2-4.8 2.1-3.3 2.1-2 2.2-5.9 2.1-2.7 2.1-4.2 2.1-1.1 2.2-3.6 2.1-2.8 2.1-1.2 2.2-6.8 2.1 1.7 2.1-3.5 2.1-3.2 2.2-1.5 2.1-4.1 2.1-1.7 2.1-2.8 2.2-2.4 2.1-2.2 2.1-2.3 2.2-2 2.1-2.6 2.1-2.3 2.1-1.6 2.2-2 2.1-2.1 2.1-2.4 2.2-1.9 2.1-2.1 2.1-1.6 2.1-2.9 2.2-0.9 2.1-3.2 2.1-1.6 2.2-2.2 2.1-1.6 2.1-2.2 2.1-1.9 2.2-2.3 2.1-2.3 2.1-2.7 2.2-0.2 2.1-3.3 2.1-3.2 2.1-2.1 2.2-0.1 2.1-3.4 2.1-2.3 2.1-2.2 2.2 0.2 2.1-5.5 2.1 0.3 2.2-6.4 2.1-0.8 2.1-1.6 2.1-3.3 2.2-2 2.1-1.8 2.1-3.2 2.2-3.3 2.1-1.4 2.1-4.8 2.1-3.5 2.2-3 2.1-3.3M30.3 272.1l2.1-1.2 2.2-2.7 2.1-8.5 2.1-2.6 2.1-4.6 2.2-2.6 2.1-2.9 2.1-2.5 2.2-3.1 2.1-6 2.1-2.7 2.1-2.4 2.2-1.6 2.1-3.5 2.1-2.8 2.2-3 2.1-0.3 2.1-5.5 2.1-3.7 2.2-0.6 2.1-2.9 2.1-2.6 2.1-1.4 2.2-3.4 2.1-1.4 2.1-2.6 2.2-2.6 2.1-2 2.1-2.3 2.1-1.6 2.2-2.9 2.1-1.3 2.1-2.8 2.2-1.6 2.1-2.2 2.1-2 2.1-1.6 2.2-2.1 2.1-2.1 2.1-2.5 2.2-2 2.1-1.9 2.1-1.5 2.1-1.3 2.2-2.9 2.1-2 2.1-2.3 2.2-1.8 2.1-2.2 2.1-3.2 2.1-0.4 2.2-3.3 2.1-3.4 2.1-0.3 2.1-2 2.2-3 2.1-2.2 2.1-3 2.2-3.7 2.1-0.8 2.1-3.4 2.1-1.3 2.2-2.8 2.1-3.6 2.1-1.6 2.2-5.2 2.1-0.8 2.1-3.2 2.1-1.8 2.2-3.7 2.1-2.2M30.3 272.2l2.1-1.8 2.2-5.4 2.1-1.6 2.1-7.7 2.1 0 2.2-4.9 2.1-5.4 2.1-0.2 2.2-2.1 2.1-5.8 2.1-2.4 2.1-2.9 2.2-3 2.1-2.4 2.1-5.8 2.2-2.6 2.1-0.2 2.1-3.9 2.1-2.3 2.2-4 2.1-0.8 2.1-4.4 2.1-1.1 2.2-1.7 2.1-2.7 2.1-1.9 2.2-4 2.1-0.8 2.1-1.8 2.1-2.5 2.2-2.7 2.1-1.1 2.1-1.9 2.2-2.9 2.1-1.8 2.1-1.9 2.1-2.1 2.2-2.5 2.1-0.3 2.1-3.9 2.2-1.2 2.1-2.5 2.1-1.6 2.1-4 2.2 0.5 2.1-3.3 2.1 0.9 2.2-4.2 2.1-2.8 2.1-0.1 2.1-1.8 2.2-4.2 2.1-3.2 2.1-2.6 2.1-0.5 2.2-3.4 2.1-0.5 2.1-5.8 2.2 0.2 2.1-4.5 2.1-0.7 2.1-2.4 2.2-4.9 2.1 0.3 2.1-5.4 2.2-0.8 2.1-2.2 2.1-3.1 2.1-5.6 2.2-1.5 2.1-2.8M30.3 277.3l2.1-5.8 2.2-5.2 2.1-4.2 2.1-3.2 2.1-4.9 2.2-2.5 2.1-3.7 2.1-2.7 2.2-5 2.1-2.2 2.1-3.4 2.1-5.1 2.2-1.5 2.1-2.9 2.1-1.4 2.2-3.9 2.1-4.2 2.1-2.2 2.1-2.1 2.2-2.3 2.1-2.6 2.1-2.7 2.1-1.7 2.2-0.7 2.1-5.5 2.1-1.6 2.2-1.4 2.1-3.1 2.1-0.6 2.1-3.5 2.2-1.6 2.1-2.3 2.1-1.7 2.2-2.2 2.1-2 2.1-2.2 2.1-1.9 2.2-2 2.1-1.6 2.1-3.1 2.2-1.3 2.1-1.8 2.1-2 2.1-1.4 2.2-2.4 2.1-1.5 2.1-3.3 2.2-1.9 2.1-2.3 2.1-0.7 2.1-2.8 2.2-1.9 2.1-3.7 2.1 0.2 2.1-2.3 2.2-5.3 2.1-1.6 2.1-0.4 2.2-5.9 2.1-2.8 2.1-2.3 2.1 1.1 2.2-5.2 2.1-1.4 2.1-3.4 2.2-0.9 2.1-6.9 2.1 0.4 2.1-4.1 2.2-3.6 2.1-2.8M30.3 277.6l2.1-8.5 2.2-2 2.1-4.2 2.1-4 2.1-2.6 2.2-4 2.1-2.9 2.1-6.2 2.2-4.2 2.1-2 2.1-1.8 2.1-5.8 2.2-1.2 2.1-1.6 2.1-2.6 2.2-4.8 2.1-3.9 2.1-0.9 2.1-2.3 2.2-2.8 2.1-2 2.1-2.7 2.1-3 2.2-1.6 2.1-3.5 2.1-0.9 2.2-3.4 2.1-1.9 2.1-1.8 2.1-2.2 2.2-2.1 2.1-3 2.1-1.1 2.2-2.6 2.1-1.8 2.1-1.9 2.1-2.6 2.2-0.6 2.1-3 2.1-2 2.2-2 2.1-2.5 2.1-1.2 2.1-2.2 2.2-2.9 2.1-1.2 2.1-1.3 2.2-3.4 2.1-1.5 2.1-1.7 2.1-3.2 2.2-0.9 2.1-2 2.1-3 2.1-2.4 2.2-2.6 2.1-1 2.1-5.6 2.2-1.4 2.1-1.9 2.1-2.7 2.1 0.7 2.2-6.7 2.1-0.3 2.1-4.6 2.2-0.7 2.1-5.5 2.1-0.9 2.1-3.4 2.2-5.3 2.1-2.3M30.3 277.6l2.1-5.1 2.2-5.2 2.1-5.1 2.1-4.3 2.1-4.5 2.2-2.5 2.1-3.2 2.1-4.7 2.2-2.4 2.1-2.9 2.1-3.3 2.1-4.6 2.2-3.6 2.1-2.7 2.1 0.2 2.2-5.4 2.1-0.5 2.1-3.3 2.1-3.4 2.2-0.8 2.1-2.5 2.1-2.9 2.1-4.3 2.2-1.8 2.1-0.9 2.1-3 2.2-2.2 2.1-2.3 2.1-1.6 2.1-3.3 2.2-1.3 2.1-2.6 2.1-1.2 2.2-2.7 2.1-2 2.1-2.3 2.1-0.9 2.2-3 2.1-2.2 2.1-1.5 2.2-2.9 2.1-2.5 2.1-1.3 2.1-2.1 2.2-2.4 2.1-1.5 2.1-2.7 2.2-1.7 2.1-1.1 2.1-1.8 2.1-4.2 2.2-1.8 2.1-1 2.1-3 2.1-3.8 2.2 1 2.1-3.2 2.1-4.2 2.2-2.5 2.1-0.2 2.1-2.7 2.1-3.9 2.2-4.1 2.1-0.9 2.1 0.2 2.2-7 2.1-1.5 2.1-2.4 2.1-2 2.2-6.3 2.1-1.9M30.3 275.6l2.1-3.9 2.2-7.1 2.1-1.5 2.1-2.3 2.1-5.9 2.2-2.8 2.1-3.5 2.1-3.8 2.2-2.3 2.1-2.6 2.1-7.5 2.1-0.7 2.2-2.1 2.1-4.6 2.1-3.5 2.2 0.2 2.1-4.1 2.1-3.4 2.1-1.6 2.2-3.8 2.1-1.1 2.1-3 2.1-2.9 2.2-2.8 2.1-2 2.1-1.7 2.2-2.4 2.1-1.1 2.1-4.7 2.1-0.7 2.2-2.2 2.1-2.3 2.1-2.2 2.2-2 2.1-2 2.1-1.6 2.1-2.3 2.2-1.8 2.1-2.1 2.1-2.3 2.2-2.2 2.1-2.7 2.1-1.1 2.1-1 2.2-3.6 2.1-2.3 2.1 0 2.2-3.9 2.1-1.7 2.1-1.5 2.1-2.8 2.2-2.4 2.1-2.5 2.1-2.9 2.1-1.3 2.2-2.4 2.1-5.1 2.1 1.2 2.2-3.5 2.1-2.5 2.1-3.9 2.1-3 2.2 0.3 2.1-5.8 2.1 0.3 2.2-7.5 2.1 1.4 2.1-5.1 2.1-1.1 2.2-4.3 2.1-1.1M30.3 277.6l2.1-5.1 2.2-3.7 2.1-6 2.1-3.8 2.1-2.2 2.2-5.3 2.1-4.8 2.1-1.7 2.2-2.4 2.1-7.5 2.1-1 2.1-3.2 2.2-5 2.1 0.6 2.1-4 2.2-0.6 2.1-5.1 2.1-2.6 2.1-1.6 2.2-2.5 2.1-3.2 2.1-2.4 2.1-3.9 2.2-0.9 2.1-2.4 2.1-2.2 2.2-1.3 2.1-2.9 2.1-1.7 2.1-2.9 2.2-1.1 2.1-2.7 2.1-2.6 2.2-1.6 2.1-2.6 2.1-2.2 2.1-1.4 2.2-2.4 2.1-2.2 2.1-1.4 2.2-1.7 2.1-3.9 2.1-0.8 2.1-2.7 2.2-1.2 2.1-2.9 2.1-0.7 2.2-2 2.1-2.4 2.1-2.5 2.1-2.2 2.2-2.5 2.1-3 2.1-1.3 2.1-3.9 2.2-0.7 2.1-3.9 2.1-3.2 2.2-3 2.1 1.7 2.1-7 2.1 1.5 2.2-6.5 2.1-1 2.1-3.3 2.2-1.1 2.1-5.4 2.1-2.6 2.1-1.2 2.2-2.9 2.1-5.1M30.3 275.4l2.1-3 2.2-3.1 2.1-5.5 2.1-4.2 2.1-2.6 2.2-5 2.1-2.1 2.1-4.9 2.2-2.4 2.1-6.5 2.1-2.1 2.1-2.1 2.2-1.4 2.1-3.1 2.1-4.9 2.2-2 2.1-3.2 2.1-0.9 2.1-2.8 2.2-4.1 2.1-2.3 2.1-1.6 2.1-2.9 2.2-3.7 2.1-1.4 2.1-3 2.2-2.9 2.1-1.4 2.1-2 2.1-1.8 2.2-3 2.1-0.9 2.1-2.4 2.2-2.4 2.1-2.1 2.1-2.2 2.1-1.6 2.2-2.4 2.1-1.7 2.1-2 2.2-2.2 2.1-0.9 2.1-2.5 2.1-2.5 2.2-4.1 2.1-1.1 2.1-2.1 2.2-0.7 2.1-3.9 2.1-2.5 2.1-1.8 2.2-4.1 2.1 1.6 2.1-2.5 2.1-3.2 2.2-1.5 2.1-3.5 2.1-3 2.2-1.8 2.1-2.7 2.1-2.9 2.1-3.1 2.2-1 2.1-2.7 2.1-5.1 2.2-0.9 2.1-2.3 2.1-4.4 2.1-2.2 2.2-3.7 2.1-2.8M30.3 277.6l2.1-2.3 2.2-6.8 2.1-3.5 2.1-2.5 2.1-5.2 2.2-3.7 2.1-6.3 2.1-2.7 2.2-3.3 2.1-1.9 2.1-4.6 2.1-4.1 2.2-2.4 2.1-3.9 2.1-1.8 2.2-3.4 2.1-2.5 2.1-1.6 2.1-4.3 2.2-1.6 2.1-2.8 2.1-0.8 2.1-2.4 2.2-3.1 2.1-1.9 2.1-3.3 2.2-2.1 2.1-2.7 2.1-1.8 2.1-1.3 2.2-3.2 2.1-1.5 2.1-2.1 2.2-2.4 2.1-2.1 2.1-2.3 2.1-2.7 2.2-1.3 2.1-2.5 2.1-1.3 2.2-2.3 2.1-1.5 2.1-2.1 2.1-3.3 2.2-1.5 2.1-2.1 2.1-1.1 2.2-4.2 2.1-0.6 2.1-1.7 2.1-2.8 2.2-2.9 2.1-2.5 2.1-3.1 2.1 0.2 2.2-3.1 2.1-4.6 2.1-3.3 2.2 0.6 2.1-3.1 2.1-0.9 2.1-3.5 2.2-2.5 2.1-3.7 2.1-1.3 2.2-5.4 2.1-1.5 2.1-2.5 2.1-4.5 2.2-1.3 2.1-1.7M30.3 275.8l2.1-0.2 2.2-6.2 2.1-5 2.1-4.4 2.1-6 2.2-4.9 2.1-1.3 2.1-3.1 2.2-3.7 2.1-4.2 2.1-0.3 2.1-3.7 2.2-3.7 2.1-3.2 2.1-0.6 2.2-5.3 2.1-0.8 2.1-5 2.1-2.8 2.2 0.2 2.1-5 2.1-2.2 2.1-1.7 2.2-3.6 2.1-3 2.1-1.2 2.2-1.2 2.1-2 2.1-2.4 2.1-2.4 2.2-3.2 2.1-1.7 2.1-2 2.2-2.4 2.1-1.9 2.1-2 2.1-1.8 2.2-2 2.1-2.4 2.1-1.4 2.2-3.6 2.1-1.2 2.1-1.6 2.1-3.1 2.2-0.6 2.1-3.7 2.1-1.4 2.2-3.6 2.1-0.2 2.1-2.3 2.1-1.8 2.2-1.9 2.1-3.8 2.1-1 2.1-3.8 2.2-1.4 2.1-4.2 2.1 1.5 2.2-5.7 2.1-2.1 2.1-2.5 2.1-1.8 2.2-5.5 2.1 0 2.1-3.8 2.2-1.9 2.1-2.8 2.1-3.6 2.1-3.9 2.2-0.7 2.1-4M30.3 276.3l2.1-3.7 2.2-5 2.1-3.8 2.1-2.5 2.1-5.6 2.2-3.1 2.1-3.8 2.1-4.1 2.2-2.5 2.1-2.7 2.1-5.7 2.1-3.8 2.2-0.7 2.1-4.5 2.1-2.2 2.2-1.8 2.1-2.6 2.1-3.3 2.1-2.5 2.2-2.8 2.1-2.7 2.1-1.6 2.1-4.1 2.2-0.7 2.1-2.4 2.1-3.6 2.2-2.1 2.1-2.6 2.1-1.3 2.1-1.7 2.2-3 2.1-1.6 2.1-2.2 2.2-2 2.1-2.3 2.1-1.4 2.1-2.8 2.2-1 2.1-3.3 2.1-0.8 2.2-3.3 2.1-3.2 2.1-0.4 2.1-1.4 2.2-4.3 2.1-0.3 2.1-1.5 2.2-4.1 2.1 1.4 2.1-3.3 2.1-2.3 2.2-2.9 2.1-1 2.1-5.2 2.1-2.7 2.2-1.3 2.1-2.2 2.1-1.2 2.2-4.8 2.1-1.3 2.1-4.1 2.1-3.1 2.2-1.4 2.1 0 2.1-4.1 2.2-5.7 2.1-1.5 2.1-4.4 2.1 1.9 2.2-5.9 2.1-3M30.3 275l2.1-1.2 2.2-6 2.1-5 2.1-1.6 2.1-6.4 2.2-2 2.1-5.1 2.1-3.4 2.2-2.7 2.1-2.7 2.1-3 2.1-4.2 2.2-3.1 2.1-4.3 2.1-1.4 2.2-3.3 2.1-4 2.1-1.3 2.1-2.7 2.2-3.5 2.1-1 2.1-2.7 2.1-2.6 2.2-1.7 2.1-1.6 2.1-2.1 2.2-3.1 2.1-3.1 2.1-2.1 2.1-2.5 2.2-1.8 2.1-1.5 2.1-1.9 2.2-2.5 2.1-2.2 2.1-1.9 2.1-2.5 2.2-1.4 2.1-2.6 2.1-2.2 2.2-0.6 2.1-2.7 2.1-3.2 2.1-1.8 2.2-1.6 2.1-1.2 2.1-2.4 2.2-2.8 2.1-3.3 2.1-1.6 2.1-1.8 2.2-2.6 2.1-2.8 2.1 0.1 2.1-3.1 2.2-3.4 2.1-3.7 2.1-2.3 2.2-0.4 2.1-3.4 2.1-1.7 2.1-2.9 2.2-3.3 2.1-2.1 2.1-2.5 2.2-2 2.1-2.3 2.1-4.8 2.1-3.5 2.2-3.6 2.1-1.2M30.3 277.6l2.1-6.2 2.2-1.3 2.1-3.3 2.1-5.3 2.1-6.5 2.2-2.2 2.1-4 2.1-3.5 2.2-3.4 2.1-3.3 2.1-1.9 2.1-6.7 2.2-1.1 2.1-4.4 2.1 0 2.2-4.9 2.1-1 2.1-2.6 2.1-4 2.2-3.2 2.1-2.7 2.1-2.4 2.1-1 2.2-3.3 2.1-1.3 2.1-2.4 2.2-2.8 2.1-2 2.1-2.8 2.1-0.8 2.2-3.6 2.1-1.4 2.1-2.9 2.2-1.9 2.1-1.8 2.1-2 2.1-2.3 2.2-1.5 2.1-2 2.1-2.2 2.2-2.6 2.1-2.2 2.1-1.3 2.1-2.9 2.2-2.6 2.1-1.7 2.1-0.9 2.2-2 2.1-3.1 2.1-2.7 2.1-1.9 2.2-1.5 2.1-1.7 2.1-4.5 2.1-0.9 2.2-4.5 2.1 0.7 2.1-3.3 2.2-2.2 2.1-5.4 2.1-2 2.1-0.6 2.2-1 2.1-6.5 2.1-1.5 2.2-1.2 2.1-2.4 2.1-5.4 2.1-2.2 2.2-3.6 2.1-3.5M30.3 277.6l2.1-6.5 2.2-3.3 2.1-2.5 2.1-4.8 2.1-5.7 2.2-2.8 2.1-0.8 2.1-4.4 2.2-4.8 2.1-5.1 2.1-2 2.1-2.1 2.2-3.8 2.1-2.4 2.1-2.6 2.2-3.5 2.1-0.4 2.1-5.8 2.1-2.2 2.2-1.8 2.1-2.2 2.1-2.3 2.1-3.7 2.2-2.3 2.1-2.4 2.1-3.4 2.2 0.4 2.1-3.3 2.1-2.2 2.1-3.1 2.2-1.5 2.1-1.9 2.1-2.5 2.2-2.2 2.1-2 2.1-2.1 2.1-1.8 2.2-2 2.1-1.9 2.1-2.7 2.2-2.2 2.1-1.5 2.1-2.1 2.1-3.2 2.2-1.2 2.1-2.5 2.1-0.9 2.2-2.5 2.1-0.8 2.1-2.8 2.1-3.8 2.2-3.1 2.1-0.8 2.1-1.4 2.1-3.6 2.2-3.5 2.1-1.1 2.1-3.6 2.2-1.5 2.1-1.2 2.1-3 2.1-3.5 2.2-5.8 2.1-0.8 2.1-1.8 2.2-3.6 2.1-2.8 2.1-2.1 2.1-3.4 2.2-2.9 2.1-4.4M30.3 277.6l2.1-4.8 2.2-3.6 2.1-5.5 2.1-4.2 2.1-3.9 2.2-2.8 2.1-2.3 2.1-7.4 2.2-0.7 2.1-4.7 2.1-2.9 2.1-2.1 2.2-5.4 2.1-1.7 2.1-2.1 2.2-2.4 2.1-2.3 2.1-2.4 2.1-4.4 2.2-1.7 2.1-2.6 2.1-3.3 2.1-1.8 2.2-3.1 2.1-1.4 2.1-2.4 2.2-3.2 2.1-1.2 2.1-3 2.1-2.1 2.2-1.9 2.1-1.5 2.1-2.4 2.2-2.3 2.1-2.4 2.1-2.2 2.1-1.6 2.2-1.9 2.1-2.3 2.1-2.2 2.2-1.1 2.1-3.4 2.1-2.2 2.1-1.2 2.2-3.1 2.1-0.3 2.1-2.9 2.2-2.5 2.1-2.5 2.1-3.2 2.1-0.9 2.2-1.7 2.1-3.5 2.1-2.2 2.1-2.7 2.2-1.5 2.1-2.9 2.1-1.6 2.2-3.6 2.1-1.1 2.1-2.7 2.1-4.7 2.2-0.5 2.1-3.7 2.1-3.7 2.2-1.8 2.1-4.7 2.1-1.1 2.1-5.3 2.2 0.3 2.1-3.4M30.3 277.6l2.1-5.4 2.2-2.8 2.1-6.3 2.1-2.6 2.1-2.9 2.2-3.6 2.1-4.3 2.1-4.4 2.2-2.4 2.1-7.2 2.1-0.4 2.1-1.7 2.2-4.5 2.1-4.2 2.1-2.1 2.2-2.1 2.1-2.5 2.1-2.5 2.1-2.3 2.2-3.2 2.1-3.2 2.1-1.8 2.1-4.2 2.2-1.3 2.1-1.8 2.1-2.6 2.2-3.2 2.1-0.3 2.1-3.3 2.1-3.4 2.2-1.3 2.1-1.3 2.1-2.6 2.2-2 2.1-2.2 2.1-1.9 2.1-2 2.2-2 2.1-1.5 2.1-1 2.2-3.7 2.1-2.5 2.1-1.5 2.1-2.8 2.2-2.3 2.1-2.2 2.1-0.3 2.2-4.8 2.1-1.7 2.1-2.1 2.1-1.5 2.2-2.2 2.1-1.8 2.1-3.2 2.1-2.8 2.2-0.9 2.1-3.9 2.1-1.1 2.2-3.7 2.1-1.8 2.1-3.9 2.1-4.1 2.2-0.8 2.1-2 2.1-2.9 2.2-4.3 2.1-1.5 2.1-4.9 2.1-2 2.2-3.9 2.1-1M30.3 277.6l2.1-4.2 2.2-2 2.1-5.8 2.1-2.8 2.1-5.6 2.2-3.4 2.1-4.8 2.1-1.6 2.2-2.6 2.1-4.7 2.1-4.2 2.1-3.3 2.2-3.3 2.1-4.3 2.1-1.4 2.2-3.1 2.1-2.2 2.1-2.9 2.1-4.2 2.2-1.8 2.1 0.1 2.1-5.6 2.1 0.2 2.2-3.6 2.1-3.4 2.1-1.7 2.2-2.6 2.1-2.4 2.1-1.9 2.1-1.4 2.2-3 2.1-1.7 2.1-1.7 2.2-2.8 2.1-2.2 2.1-2.1 2.1-2 2.2-2.7 2.1-1.5 2.1-2.4 2.2-1.8 2.1-2.9 2.1-0.9 2.1-3.2 2.2-2.7 2.1-0.5 2.1-3.3 2.2-0.3 2.1-3.5 2.1-2.5 2.1-0.8 2.2-1.2 2.1-3.9 2.1-1.9 2.1-2.9 2.2-2.5 2.1-3.1 2.1-3.4 2.2-1.4 2.1-0.5 2.1-5.3 2.1-2.5 2.2-2.5 2.1-4.5 2.1-1.2 2.2-2 2.1-3.8 2.1-0.1 2.1-6.3 2.2-1.8 2.1-5.4M30.3 276.8l2.1-3.7 2.2-4.7 2.1-4.1 2.1-2.5 2.1-5 2.2-3.1 2.1-2.5 2.1-3.4 2.2-6.4 2.1-4.1 2.1-3.3 2.1-0.7 2.2-5.7 2.1-3 2.1-0.5 2.2-4.1 2.1-3.9 2.1-1.1 2.1-3.6 2.2-0.9 2.1-2.8 2.1-3.5 2.1-1.6 2.2-2.6 2.1-2.4 2.1-1.6 2.2-3.9 2.1-1.3 2.1-2.1 2.1-2.1 2.2-2.4 2.1-1.8 2.1-2.7 2.2-1.8 2.1-2.2 2.1-1.9 2.1-1.9 2.2-2 2.1-2.5 2.1-1.3 2.2-3.3 2.1-1.4 2.1-2.9 2.1-1.2 2.2-3 2.1-0.7 2.1-2 2.2-3.5 2.1-1.1 2.1-3.6 2.1-0.7 2.2-3.4 2.1-1 2.1-1.4 2.1-5.7 2.2-0.8 2.1-3.8 2.1-1.7 2.2-0.4 2.1-5 2.1-3.5 2.1-2.9 2.2-3.1 2.1-1.2 2.1-2.1 2.2-3.1 2.1-1.3 2.1-5.5 2.1-3.1 2.2-2.6 2.1-1.7M30.3 277.6l2.1-1.5 2.2-5.2 2.1-1.5 2.1-9.9 2.1-2 2.2-3.8 2.1-2.3 2.1-5 2.2-3.4 2.1-3.6 2.1-1.5 2.1-4.9 2.2-1.2 2.1-4.9 2.1-2.2 2.2-3.2 2.1-3.1 2.1-3.8 2.1-3 2.2-1.5 2.1-1.6 2.1-4.6 2.1-0.1 2.2-3.1 2.1-2.6 2.1-1.9 2.2-3.7 2.1-1.6 2.1-2.7 2.1-1.4 2.2-2.8 2.1-1.7 2.1-2.2 2.2-2.3 2.1-2.1 2.1-2.2 2.1-1.8 2.2-1.6 2.1-2.5 2.1-0.9 2.2-3.3 2.1-1.8 2.1-3.2 2.1 0.3 2.2-5.5 2.1-0.5 2.1-1.1 2.2-3.9 2.1-2.3 2.1-2.2 2.1-3.8 2.2 0.5 2.1-3.4 2.1-2.2 2.1-1.5 2.2-3.4 2.1-3.5 2.1-0.1 2.2-4 2.1-3.2 2.1-2.2 2.1 0 2.2-5 2.1-2 2.1-4.9 2.2-1.2 2.1-5.7 2.1 1.1 2.1-5.4 2.2-1.3 2.1-7" stroke="#6e6e6e" stroke-width="0.5"/>
<path d="M30.3 277.6l1.5-0.9 1.6-3.8 1.5-2.8 1.5-2.5 1.5-3.2 1.6-3.3 1.5-3 1.5-2.5 1.5-2.9 1.6-2.7 1.5-2.6 1.5-2.1 1.5-2.9 1.6-2.6 1.5-1.8 1.5-3.3 1.5-2.2 1.6-1.9 1.5-2.8 1.5-1.3 1.6-2.1 1.5-2.2 1.5-2.1 1.5-2.6 1.6-1.6 1.5-1.9 1.5-2 1.5-2.1 1.6-1.6 1.5-1.7 1.5-1.9 1.5-2 1.6-1.4 1.5-2.1 1.5-1.5 1.5-1.6 1.6-1.7 1.5-1.9 1.5-1.3 1.6-1.8 1.5-1.5 1.5-1.6 1.5-1.5 1.6-1.7 1.5-1.5 1.5-1.6 1.5-1.5 1.6-1.5 1.5-1.6 1.5-1.4 1.5-1.6 1.6-1.4 1.5-1.5 1.5-1.6 1.5-1.4 1.6-1.5 1.5-1.6 1.5-1.7 1.5-1.3 1.6-1.7 1.5-1.5 1.5-1.2 1.6-1.8 1.5-1.3 1.5-1.7 1.5-1.7 1.6-1.3 1.5-1.9 1.5-1.5 1.5-1.6 1.6-1.8 1.5-1.4 1.5-1.4 1.5-2.1 1.6-1.5 1.5-1.9 1.5-1.5 1.5-1.8 1.6-1.7 1.5-1.8 1.5-1.9 1.6-1.9 1.5-2.1 1.5-2.8 1.5-0.7 1.6-1.7 1.5-2.6 1.5-1.4 1.5-2.1 1.6-2.2 1.5-2.2 1.5-2.1 1.5-2.2 1.6-2 1.5-2.7 1.5-2.1 1.5-1.7 1.6-2.4 1.5-1.8" stroke="#1a1a1a" stroke-width="1.0"/>
</g>
<rect x="30.3" y="76.6" width="151.1" height="201" fill="none" stroke="#7e7e7e" stroke-width="1"/>
<line x1="26.3" y1="76.85" x2="30.3" y2="76.85" stroke="#777" stroke-width="1" />
<text x="22.8" y="80.85" font-size="11.5" fill="#222" color="#222" text-anchor="end" >3</text>
<line x1="26.3" y1="110.3" x2="30.3" y2="110.3" stroke="#777" stroke-width="1" />
<text x="22.8" y="114.3" font-size="11.5" fill="#222" color="#222" text-anchor="end" >2</text>
<line x1="26.3" y1="143.75" x2="30.3" y2="143.75" stroke="#777" stroke-width="1" />
<text x="22.8" y="147.75" font-size="11.5" fill="#222" color="#222" text-anchor="end" >1</text>
<line x1="26.3" y1="177.2" x2="30.3" y2="177.2" stroke="#777" stroke-width="1" />
<text x="22.8" y="181.2" font-size="11.5" fill="#222" color="#222" text-anchor="end" >0</text>
<line x1="26.3" y1="210.65" x2="30.3" y2="210.65" stroke="#777" stroke-width="1" />
<text x="22.8" y="214.65" font-size="11.5" fill="#222" color="#222" text-anchor="end" >-1</text>
<line x1="26.3" y1="244.1" x2="30.3" y2="244.1" stroke="#777" stroke-width="1" />
<text x="22.8" y="248.1" font-size="11.5" fill="#222" color="#222" text-anchor="end" >-2</text>
<line x1="26.3" y1="277.55" x2="30.3" y2="277.55" stroke="#777" stroke-width="1" />
<text x="22.8" y="281.55" font-size="11.5" fill="#222" color="#222" text-anchor="end" >-3</text>
<line x1="30.3" y1="277.6" x2="30.3" y2="281.6" stroke="#777" stroke-width="1" />
<text x="29.3" y="296.5" font-size="11.5" fill="#222" color="#222" text-anchor="middle" >-100</text>
<line x1="68.08" y1="277.6" x2="68.08" y2="281.6" stroke="#777" stroke-width="1" />
<text x="67.08" y="296.5" font-size="11.5" fill="#222" color="#222" text-anchor="middle" >-50</text>
<line x1="105.85" y1="277.6" x2="105.85" y2="281.6" stroke="#777" stroke-width="1" />
<text x="104.85" y="296.5" font-size="11.5" fill="#222" color="#222" text-anchor="middle" >0</text>
<line x1="143.62" y1="277.6" x2="143.62" y2="281.6" stroke="#777" stroke-width="1" />
<text x="142.62" y="296.5" font-size="11.5" fill="#222" color="#222" text-anchor="middle" >50</text>
<line x1="181.4" y1="277.6" x2="181.4" y2="281.6" stroke="#777" stroke-width="1" />
<text x="180.4" y="296.5" font-size="11.5" fill="#222" color="#222" text-anchor="middle" >100</text>
<text x="106" y="310.6" font-size="12" fill="#222" color="#222" text-anchor="middle" class="h" textLength="65" lengthAdjust="spacingAndGlyphs">Voltage, mV</text>
<text transform="translate(12.7,175.3) rotate(-90)" class="h" font-size="15" fill="#222" color="#222" text-anchor="middle" textLength="73" lengthAdjust="spacingAndGlyphs">C urrent,nA</text>
<text x="45.7" y="101.2" font-size="15.5" class="h" fill="#1c1c78" color="#1c1c78" textLength="18.5" lengthAdjust="spacingAndGlyphs">pH</text>
<text x="66.9" y="104.2" font-size="7.5" class="h" fill="#1c1c78" color="#1c1c78">i</text>
<text x="73.7" y="101.2" font-size="15" class="h" fill="#1c1c78" color="#1c1c78" textLength="9" lengthAdjust="spacingAndGlyphs">=</text>
<text x="86.7" y="101.2" font-size="15" class="h" fill="#1c1c78" color="#1c1c78" textLength="20.5" lengthAdjust="spacingAndGlyphs">8.0</text>
<text x="6" y="357.8" font-size="20" fill="#111" color="#111" text-anchor="start" class="h">b</text>
<text x="32.8" y="346.6" font-size="17" fill="#1f1ff0" color="#1f1ff0" text-anchor="start" class="h" textLength="82" lengthAdjust="spacingAndGlyphs">CpomOrco</text>
<line x1="15" y1="380.7" x2="180" y2="380.7" stroke="#a8a8a8" stroke-width="1" stroke-dasharray="1.6,2.6"/>
<polyline points="10.5,380.7 12.9,380.7 12.9,395 28.9,395 181,336.7 181,380.7 200,380.7" fill="none" stroke="#3a3a3a" stroke-width="1.1" />
<circle cx="21.2" cy="388.7" r="4.2" fill="#666" stroke="#4a4a4a" stroke-width="0.6"/>
<circle cx="175.2" cy="331.7" r="4" fill="#c9c9c9" stroke="#9a9a9a" stroke-width="0.6"/>
<text x="122" y="376.7" font-size="11.5" fill="#8c8c8c" color="#8c8c8c" text-anchor="start" textLength="51" lengthAdjust="spacingAndGlyphs">HP-50mV</text>
<g fill="none" stroke-linejoin="round">
<path d="M30.3 503.1l2.1-0.2 2.2 0.7 2.1-0.8 2.1 0.2 2.1 0.4 2.2 0.5 2.1-0.6 2.1-0.1 2.2-0.4 2.1 0.6 2.1-0.9 2.1 0.4 2.2-0.5 2.1-0.1 2.1-0.2 2.2-0.6 2.1 0.5 2.1-0.5 2.1 0.2 2.2-0.1 2.1 0.1 2.1-0.2 2.1 0.4 2.2-0.4 2.1-0.4 2.1 0 2.2 0.3 2.1-0.2 2.1-0.2 2.1-0.4 2.2 0.2 2.1-0.2 2.1 0 2.2-0.2 2.1 0 2.1-0.1 2.1-0.2 2.2-0.2 2.1 0.2 2.1-0.4 2.2-0.3 2.1 0.1 2.1-0.1 2.1 0.5 2.2-0.9 2.1-0.2 2.1 0.1 2.2 0.1 2.1-0.2 2.1-0.7 2.1 0.9 2.2-0.2 2.1-0.5 2.1 0.1 2.1 0.6 2.2-0.8 2.1-0.2 2.1 0.4 2.2-0.4 2.1 0 2.1 0.7 2.1-0.8 2.2-0.6 2.1 0.1 2.1 0.9 2.2-0.2 2.1-0.8 2.1-0.4 2.1 0.3 2.2-0.5 2.1-1.2M30.3 504.4l2.1-0.1 2.2 0.1 2.1 0.2 2.1-0.7 2.1 0.2 2.2-0.5 2.1-0.4 2.1-0.2 2.2-0.2 2.1 0.1 2.1-0.2 2.1-0.5 2.2 0.3 2.1-0.2 2.1 0.6 2.2-0.5 2.1-0.7 2.1 0.4 2.1-0.1 2.2-0.6 2.1 0.5 2.1-0.6 2.1 0.2 2.2 0 2.1 0.2 2.1-0.7 2.2 0.5 2.1-0.2 2.1-0.4 2.1 0.1 2.2-0.3 2.1-0.1 2.1 0 2.2-0.1 2.1-0.1 2.1-0.2 2.1 0.1 2.2-0.3 2.1-0.1 2.1-0.1 2.2 0 2.1-0.2 2.1-0.1 2.1-0.2 2.2 0 2.1-0.1 2.1 0.1 2.2 0.1 2.1-0.7 2.1-0.3 2.1 0.4 2.2 0.1 2.1-0.4 2.1-0.2 2.1-0.2 2.2 0.5 2.1 0.3 2.1-0.3 2.2-0.3 2.1 0.2 2.1-0.5 2.1 0.4 2.2-0.8 2.1-0.6 2.1 0.7 2.2-0.3 2.1-0.8 2.1-1.2 2.1 0.9 2.2 0.1 2.1-0.6M30.3 503.7l2.1 0.1 2.2-0.5 2.1 0.7 2.1-0.2 2.1-0.2 2.2 0.3 2.1-0.4 2.1-0.1 2.2-0.4 2.1 0.2 2.1 0 2.1-0.4 2.2-0.4 2.1-0.1 2.1 0 2.2 0 2.1-0.2 2.1 0.1 2.1-0.6 2.2-0.1 2.1-0.5 2.1 0.3 2.1-0.2 2.2-0.1 2.1 0.6 2.1-0.3 2.2-0.1 2.1-0.2 2.1 0.1 2.1-0.3 2.2-0.1 2.1-0.1 2.1-0.1 2.2 0 2.1-0.2 2.1 0 2.1 0.1 2.2-0.4 2.1-0.1 2.1 0.1 2.2 0.1 2.1-0.2 2.1-0.3 2.1 0.5 2.2-0.9 2.1-0.1 2.1 0.2 2.2-0.4 2.1 0.2 2.1 0.2 2.1-0.7 2.2-0.1 2.1 0.3 2.1 0.1 2.1-0.3 2.2-0.8 2.1 0.4 2.1-1.1 2.2 1.2 2.1-0.5 2.1 0 2.1 0.1 2.2-0.5 2.1 0.5 2.1-0.5 2.2 0.2 2.1 0.2 2.1-1.2 2.1 0.2 2.2-0.2 2.1-1.1M30.3 503.6l2.1-0.1 2.2 0.6 2.1-0.8 2.1 0.1 2.1 0.1 2.2-0.2 2.1-1 2.1 1 2.2-0.2 2.1-0.2 2.1 0 2.1 0.5 2.2-0.9 2.1-0.1 2.1-0.4 2.2 0.6 2.1 0.1 2.1-0.7 2.1 0.4 2.2-0.4 2.1 0 2.1-0.3 2.1 0 2.2-0.3 2.1 0.2 2.1-0.7 2.2 0.2 2.1 0.1 2.1-0.1 2.1-0.2 2.2-0.1 2.1-0.1 2.1-0.2 2.2-0.1 2.1 0 2.1-0.3 2.1 0 2.2-0.3 2.1 0.1 2.1-0.5 2.2 0.2 2.1-0.4 2.1 0.4 2.1-0.5 2.2 0.3 2.1-0.5 2.1 0.4 2.2 0.1 2.1-0.1 2.1-0.3 2.1-0.5 2.2 0 2.1-0.1 2.1-0.4 2.1-0.3 2.2 0.8 2.1-0.7 2.1-0.5 2.2 1 2.1 0 2.1-0.4 2.1-0.1 2.2 0.2 2.1-0.4 2.1-0.9 2.2 0 2.1 0.4 2.1 0.1 2.1-0.5 2.2-0.8 2.1 0.2M30.3 503.7l2.1-0.3 2.2 0.2 2.1-0.6 2.1 1.1 2.1 0 2.2-0.2 2.1-0.9 2.1 0.2 2.2 0.8 2.1-0.3 2.1-0.5 2.1 0 2.2-0.4 2.1 0.2 2.1 0.1 2.2-0.9 2.1-0.4 2.1 0.6 2.1-0.1 2.2-0.6 2.1 0.3 2.1-0.7 2.1 0.3 2.2-0.4 2.1 0.2 2.1-0.2 2.2-0.1 2.1 0 2.1 0.1 2.1-0.4 2.2 0.2 2.1-0.4 2.1 0 2.2-0.1 2.1-0.2 2.1-0.1 2.1-0.2 2.2 0.2 2.1-0.2 2.1-0.3 2.2-0.1 2.1 0 2.1-0.4 2.1 0.3 2.2-0.4 2.1-0.1 2.1 0.2 2.2 0 2.1-0.3 2.1-0.1 2.1-0.2 2.2 0.3 2.1-0.6 2.1-0.6 2.1 0.3 2.2-0.3 2.1-0.1 2.1-0.6 2.2 0.9 2.1-1.3 2.1 0.3 2.1 0.3 2.2-0.1 2.1-0.3 2.1 0.4 2.2 0 2.1-0.2 2.1 0.4 2.1-0.3 2.2-0.5 2.1 0.2M30.3 504.5l2.1 0.5 2.2-0.3 2.1-0.8 2.1 0.3 2.1 0.4 2.2-0.7 2.1 0.1 2.1-0.7 2.2 0.9 2.1-0.8 2.1-0.5 2.1 0.5 2.2-0.3 2.1-0.6 2.1 0 2.2-0.1 2.1-0.4 2.1 0.3 2.1-0.3 2.2-0.7 2.1 0.4 2.1-0.3 2.1 0 2.2-0.3 2.1 0.1 2.1-0.1 2.2-0.2 2.1 0.1 2.1 0.2 2.1-0.3 2.2-0.3 2.1 0 2.1 0 2.2-0.1 2.1-0.1 2.1-0.4 2.1 0 2.2-0.1 2.1 0.4 2.1-0.1 2.2-0.2 2.1 0.1 2.1-0.4 2.1 0.1 2.2-0.5 2.1 0 2.1 0 2.2-0.5 2.1-0.1 2.1-0.1 2.1-0.1 2.2-0.3 2.1 0.4 2.1-0.2 2.1-0.5 2.2-0.5 2.1-0.7 2.1 0.3 2.2 0.4 2.1-0.3 2.1 0.2 2.1-0.5 2.2-0.1 2.1 0 2.1-0.2 2.2-0.3 2.1 0.1 2.1 0.8 2.1-0.8 2.2 0.7 2.1-0.6M30.3 504.3l2.1 0 2.2-0.5 2.1-0.6 2.1 0 2.1 0 2.2 0.6 2.1-0.3 2.1-0.3 2.2 0.5 2.1-1.3 2.1 0.9 2.1-0.8 2.2 0.4 2.1-0.5 2.1-0.4 2.2 0 2.1 0.3 2.1-0.1 2.1-0.5 2.2 0.2 2.1-0.1 2.1-0.2 2.1 0.7 2.2-0.7 2.1-0.4 2.1-0.2 2.2 0.1 2.1 0.1 2.1-0.4 2.1-0.2 2.2 0.2 2.1-0.1 2.1-0.2 2.2-0.1 2.1 0.1 2.1 0 2.1-0.2 2.2-0.2 2.1-0.2 2.1 0.1 2.2-0.2 2.1-0.3 2.1-0.4 2.1 0.3 2.2 0.3 2.1-0.6 2.1 0.1 2.2-0.3 2.1-0.4 2.1-0.1 2.1 0.4 2.2-0.2 2.1-0.6 2.1-0.2 2.1-0.5 2.2 0.5 2.1 0.3 2.1 0 2.2 0.1 2.1 0.2 2.1-0.1 2.1-0.4 2.2-0.5 2.1 0.1 2.1-0.6 2.2-0.2 2.1-0.3 2.1-0.3 2.1-0.6 2.2-0.1 2.1 0.9M30.3 505l2.1-0.7 2.2 0.1 2.1 0.7 2.1-0.3 2.1-0.6 2.2 0 2.1 0 2.1 0.2 2.2-0.4 2.1-0.5 2.1-0.3 2.1-0.2 2.2 0 2.1-0.4 2.1-0.2 2.2 0.1 2.1-0.2 2.1-0.1 2.1 0.1 2.2-0.6 2.1-0.1 2.1 0 2.1 0.3 2.2-0.1 2.1-0.3 2.1 0.1 2.2-0.2 2.1-0.1 2.1 0 2.1-0.5 2.2 0.2 2.1-0.2 2.1-0.3 2.2 0 2.1-0.3 2.1 0 2.1-0.1 2.2-0.1 2.1 0.1 2.1-0.1 2.2-0.4 2.1-0.1 2.1 0.1 2.1-0.1 2.2-0.2 2.1-0.4 2.1-0.2 2.2-0.3 2.1 0.2 2.1-0.6 2.1 0.1 2.2-0.3 2.1 0.6 2.1-0.5 2.1-0.2 2.2 0.8 2.1-0.9 2.1 0 2.2-0.3 2.1 0.1 2.1-0.5 2.1 0.4 2.2-0.2 2.1-0.7 2.1-0.2 2.2 0.7 2.1-1.2 2.1-0.1 2.1 0 2.2 0.7 2.1-0.8M30.3 504.7l2.1 0.5 2.2-0.2 2.1-0.4 2.1 0.1 2.1 0.6 2.2-0.6 2.1-0.3 2.1-0.8 2.2 0.2 2.1 0.4 2.1-0.2 2.1-0.4 2.2-0.5 2.1 0.1 2.1-0.6 2.2 0.3 2.1-0.7 2.1-0.4 2.1 0.9 2.2-0.8 2.1-0.1 2.1-0.1 2.1 0 2.2 0 2.1-0.2 2.1-0.1 2.2-0.1 2.1-0.3 2.1 0 2.1-0.2 2.2 0.1 2.1-0.2 2.1-0.2 2.2 0 2.1-0.3 2.1 0.1 2.1-0.6 2.2 0 2.1 0.2 2.1-0.1 2.2 0.2 2.1-0.4 2.1-0.4 2.1 0.1 2.2 0.1 2.1-0.7 2.1 0.2 2.2-0.1 2.1 0 2.1-0.4 2.1-0.8 2.2 0.4 2.1 0.4 2.1-0.8 2.1-0.7 2.2 0.1 2.1 0.4 2.1-0.4 2.2 0.6 2.1-0.9 2.1 0.5 2.1-0.2 2.2-0.1 2.1-0.1 2.1-1 2.2-0.1 2.1 0.6 2.1-0.3 2.1-0.8 2.2 0.7 2.1 0M30.3 504.4l2.1 0.6 2.2-0.2 2.1 0.4 2.1-0.3 2.1-0.3 2.2-0.1 2.1 0.2 2.1-0.5 2.2-0.4 2.1 0.6 2.1-1.3 2.1 0.1 2.2 0.1 2.1-0.4 2.1-0.4 2.2 0.1 2.1-0.1 2.1-0.1 2.1-0.2 2.2 0.4 2.1-0.3 2.1-0.4 2.1 0 2.2 0 2.1-0.3 2.1-0.1 2.2-0.2 2.1 0.1 2.1-0.2 2.1-0.1 2.2-0.3 2.1-0.3 2.1 0 2.2-0.1 2.1-0.1 2.1-0.2 2.1 0 2.2-0.1 2.1-0.3 2.1 0.2 2.2 0 2.1-0.3 2.1-0.7 2.1-0.1 2.2 0 2.1 0 2.1-0.1 2.2-0.3 2.1 0.3 2.1-0.5 2.1 0.4 2.2-0.7 2.1 0.4 2.1 0.1 2.1-0.4 2.2 0.1 2.1-0.4 2.1 0.4 2.2-0.6 2.1-0.3 2.1-0.2 2.1 0.3 2.2-0.7 2.1 1 2.1-0.6 2.2-0.1 2.1-0.4 2.1-0.1 2.1-1 2.2 0.2 2.1 0M30.3 505.6l2.1-0.7 2.2 0.6 2.1-0.5 2.1-0.8 2.1-0.5 2.2 0.4 2.1-0.2 2.1-0.6 2.2 0.8 2.1-0.4 2.1-0.1 2.1 0.3 2.2 0.2 2.1-0.9 2.1-0.4 2.2-0.1 2.1-0.2 2.1 0.9 2.1-0.9 2.2-0.6 2.1 0.4 2.1-0.1 2.1-0.6 2.2 0 2.1-0.3 2.1 0 2.2-0.3 2.1 0 2.1 0 2.1 0 2.2-0.2 2.1 0 2.1-0.3 2.2-0.1 2.1-0.1 2.1 0 2.1-0.3 2.2-0.2 2.1-0.2 2.1 0.2 2.2-0.3 2.1-0.2 2.1-0.4 2.1 0.4 2.2-0.4 2.1 0.2 2.1-0.5 2.2 0.4 2.1 0.4 2.1-0.6 2.1-0.4 2.2-0.6 2.1-0.1 2.1-0.1 2.1 0.1 2.2-0.6 2.1-0.1 2.1-0.5 2.2 0.2 2.1 0.9 2.1 0.5 2.1-0.7 2.2-0.2 2.1 0.3 2.1-0.4 2.2-1 2.1-0.3 2.1 0.5 2.1-1.4 2.2-0.3 2.1-0.1M30.3 505.4l2.1-0.5 2.2 0.4 2.1-0.1 2.1 0 2.1 0 2.2-0.4 2.1 0.2 2.1-0.9 2.2-0.2 2.1-0.1 2.1 0 2.1-0.4 2.2-0.1 2.1-0.5 2.1 0.1 2.2-0.4 2.1-0.2 2.1-0.2 2.1 0.5 2.2-0.3 2.1 0.1 2.1-0.7 2.1 0.4 2.2-0.6 2.1 0.3 2.1-0.5 2.2 0.2 2.1-0.2 2.1-0.3 2.1-0.1 2.2-0.1 2.1-0.2 2.1-0.1 2.2-0.1 2.1-0.1 2.1 0 2.1-0.4 2.2 0.3 2.1-0.6 2.1-0.2 2.2 0.3 2.1-0.5 2.1 0.2 2.1-0.5 2.2 0.4 2.1 0 2.1-0.1 2.2-0.4 2.1 0.3 2.1-1 2.1 0.6 2.2-0.8 2.1 0.4 2.1-0.2 2.1 0 2.2-0.2 2.1-0.6 2.1-0.5 2.2 0.2 2.1 0.2 2.1-0.5 2.1 0.2 2.2 0.6 2.1-1.2 2.1 0.7 2.2-0.6 2.1-0.4 2.1 0.1 2.1-0.2 2.2-0.9 2.1 0M30.3 505.4l2.1-0.3 2.2-0.3 2.1 0 2.1-0.4 2.1 0.5 2.2-0.7 2.1 0.4 2.1-1 2.2-0.1 2.1 0.2 2.1-0.1 2.1-0.4 2.2-0.4 2.1 0.5 2.1-0.4 2.2-0.7 2.1 0.2 2.1 0.2 2.1 0.1 2.2-0.6 2.1 0.3 2.1-0.5 2.1 0 2.2-0.5 2.1 0.6 2.1-0.5 2.2 0.2 2.1-0.2 2.1-0.2 2.1-0.1 2.2-0.5 2.1 0 2.1-0.1 2.2-0.3 2.1 0.1 2.1-0.2 2.1-0.1 2.2-0.1 2.1-0.4 2.1-0.2 2.2 0.3 2.1-0.3 2.1-0.2 2.1 0.1 2.2-0.1 2.1-0.3 2.1 0 2.2-0.4 2.1-0.2 2.1 0 2.1-0.2 2.2 0.3 2.1-0.3 2.1-0.5 2.1-0.2 2.2 0 2.1-0.3 2.1 0.1 2.2 0.1 2.1-0.6 2.1 0.1 2.1 0.4 2.2-1.1 2.1 0.1 2.1-0.2 2.2 0.3 2.1-0.8 2.1 0.2 2.1-0.4 2.2 0.5 2.1-0.4M30.3 505.3l2.1 1.2 2.2-0.7 2.1-0.1 2.1-1 2.1-0.3 2.2 0.4 2.1-0.5 2.1-0.6 2.2-0.2 2.1-0.2 2.1-0.4 2.1-0.5 2.2 0.4 2.1 0.2 2.1-0.4 2.2-0.1 2.1 0 2.1-0.3 2.1-0.1 2.2-0.1 2.1 0.1 2.1-0.1 2.1 0.2 2.2-0.3 2.1 0 2.1-0.4 2.2-0.1 2.1-0.1 2.1-0.3 2.1 0 2.2-0.3 2.1-0.1 2.1 0 2.2-0.3 2.1 0 2.1-0.1 2.1-0.1 2.2 0 2.1-0.3 2.1-0.3 2.2 0.4 2.1-0.4 2.1-0.2 2.1-0.1 2.2-0.1 2.1-0.1 2.1 0.1 2.2-0.5 2.1-0.1 2.1-0.3 2.1-0.1 2.2-0.1 2.1-0.3 2.1-0.4 2.1-0.3 2.2 0.7 2.1-0.4 2.1 0 2.2-0.5 2.1 0 2.1-0.4 2.1 0.1 2.2-0.6 2.1 0.6 2.1 0 2.2 0 2.1-0.3 2.1-0.3 2.1 0.1 2.2 0 2.1 0M30.3 504.9l2.1 0.7 2.2-0.4 2.1 0.3 2.1-0.1 2.1-0.2 2.2-1.1 2.1 0.3 2.1 0.4 2.2-0.4 2.1-0.1 2.1 0 2.1-0.8 2.2 0.9 2.1-0.6 2.1-0.4 2.2-0.3 2.1 0.4 2.1-0.9 2.1 0.1 2.2-0.4 2.1 0 2.1-0.7 2.1-0.6 2.2 0.3 2.1 0.2 2.1 0.2 2.2-0.6 2.1-0.1 2.1 0.3 2.1-0.4 2.2 0.2 2.1-0.3 2.1-0.2 2.2-0.1 2.1-0.2 2.1-0.2 2.1 0 2.2-0.2 2.1-0.4 2.1 0 2.2-0.3 2.1-0.3 2.1 0.4 2.1-0.9 2.2 0.1 2.1 0.1 2.1-0.3 2.2 0 2.1 0 2.1 0.2 2.1-0.2 2.2-0.1 2.1-0.6 2.1 0.1 2.1-0.1 2.2 0 2.1-0.6 2.1 1.1 2.2-0.7 2.1-0.8 2.1 0.3 2.1-0.5 2.2-0.6 2.1 0.1 2.1 0.6 2.2-0.7 2.1 0.1 2.1-0.9 2.1-0.6 2.2 0.3 2.1-0.6M30.3 505.5l2.1 0.1 2.2-0.2 2.1-0.4 2.1-0.2 2.1 0.2 2.2-0.2 2.1-0.3 2.1-0.4 2.2 0.2 2.1 0 2.1-0.3 2.1-0.1 2.2-0.4 2.1 0.2 2.1-0.1 2.2-0.7 2.1 0.3 2.1 0.2 2.1-0.7 2.2 0.2 2.1-0.1 2.1-0.5 2.1 0.2 2.2-0.5 2.1-0.3 2.1-0.2 2.2 0 2.1-0.2 2.1-0.2 2.1-0.3 2.2 0.2 2.1-0.4 2.1-0.1 2.2-0.2 2.1 0.1 2.1-0.4 2.1 0.1 2.2-0.3 2.1 0 2.1 0.2 2.2-0.6 2.1-0.3 2.1-0.3 2.1 0.2 2.2-0.1 2.1-0.6 2.1 0.1 2.2-0.6 2.1-0.2 2.1 0.3 2.1-0.2 2.2 0.1 2.1 0.3 2.1-0.6 2.1-0.3 2.2-0.2 2.1 0.3 2.1-0.7 2.2 0.8 2.1-0.3 2.1 0 2.1-0.2 2.2-0.2 2.1-0.1 2.1-0.3 2.2-0.5 2.1-0.2 2.1 0.3 2.1-0.9 2.2 0.4 2.1-0.7M30.3 507l2.1-0.4 2.2-0.4 2.1 0.2 2.1-1 2.1 0.5 2.2-0.3 2.1-0.4 2.1-0.4 2.2-0.8 2.1-0.6 2.1 0.6 2.1-0.3 2.2-0.5 2.1 0 2.1-0.5 2.2 0.3 2.1-0.7 2.1 0.7 2.1-0.8 2.2-0.2 2.1-0.5 2.1 0.7 2.1-0.5 2.2-0.1 2.1 0.2 2.1-0.4 2.2 0.1 2.1-0.1 2.1-0.1 2.1-0.3 2.2-0.1 2.1 0 2.1-0.4 2.2 0 2.1-0.3 2.1-0.1 2.1 0 2.2 0 2.1-0.2 2.1-0.1 2.2-0.2 2.1-0.1 2.1-0.7 2.1 0.9 2.2-0.4 2.1-0.4 2.1-0.2 2.2-0.2 2.1 0.5 2.1-0.7 2.1 1 2.2-1 2.1-0.6 2.1-0.1 2.1 0.4 2.2-0.5 2.1 0.2 2.1-0.8 2.2 0 2.1-0.9 2.1 0.1 2.1-0.7 2.2 0 2.1-0.1 2.1-1 2.2 0 2.1 0.8 2.1-1.2 2.1 0 2.2-0.4 2.1 0.2M30.3 506.2l2.1-0.4 2.2-0.5 2.1 0.4 2.1-1 2.1 0.2 2.2 0.3 2.1-0.3 2.1-0.3 2.2-0.5 2.1-0.5 2.1 0.4 2.1-0.3 2.2-0.9 2.1-0.6 2.1 0.2 2.2 0.4 2.1 0 2.1-0.4 2.1 0 2.2 0.2 2.1-0.6 2.1-0.3 2.1 0.7 2.2-0.1 2.1-0.2 2.1 0 2.2-0.6 2.1 0.2 2.1-0.5 2.1-0.2 2.2-0.2 2.1 0 2.1-0.2 2.2-0.2 2.1-0.2 2.1-0.1 2.1 0 2.2-0.4 2.1-0.2 2.1-0.1 2.2 0.2 2.1-0.4 2.1 0.2 2.1-0.4 2.2-0.4 2.1 0.4 2.1-1.3 2.2 0.2 2.1 0.3 2.1-0.2 2.1-0.3 2.2-0.1 2.1 0.3 2.1-0.4 2.1 0.4 2.2-0.4 2.1-1 2.1 0.5 2.2-0.1 2.1-1 2.1 0.2 2.1-0.5 2.2 0.1 2.1-1 2.1 0.3 2.2-0.8 2.1-0.2 2.1-0.6 2.1 0.1 2.2 0.3 2.1 0.4M30.3 505.9l2.1 0.5 2.2-0.9 2.1 0.6 2.1-0.8 2.1-0.1 2.2-0.3 2.1-0.2 2.1 0.3 2.2-0.6 2.1 0.4 2.1-0.3 2.1-0.6 2.2 0.7 2.1-0.6 2.1-0.7 2.2-0.1 2.1 0.3 2.1-0.3 2.1-0.6 2.2 0 2.1-0.4 2.1 0.2 2.1-0.7 2.2 0.4 2.1-0.5 2.1-0.2 2.2 0.2 2.1 0 2.1-0.2 2.1-0.1 2.2-0.6 2.1 0.2 2.1-0.3 2.2-0.2 2.1-0.2 2.1-0.2 2.1-0.2 2.2-0.1 2.1 0 2.1-0.1 2.2-0.2 2.1-0.3 2.1-0.1 2.1-0.2 2.2 0.4 2.1-0.4 2.1-0.2 2.2-0.3 2.1 0 2.1-0.7 2.1-0.3 2.2-0.3 2.1 0.7 2.1-0.2 2.1-0.1 2.2 0.1 2.1 0.2 2.1-0.7 2.2 0.9 2.1-0.8 2.1 0.3 2.1-1.3 2.2 0.5 2.1-0.4 2.1-0.8 2.2 0.1 2.1-0.8 2.1 0 2.1-1.2 2.2 1.2 2.1-0.4M30.3 506l2.1 0.9 2.2-0.9 2.1 0 2.1-0.5 2.1 0.4 2.2-0.9 2.1 0.6 2.1-1 2.2 0 2.1 0.6 2.1-0.9 2.1 0.6 2.2-1 2.1 0.5 2.1-0.7 2.2-0.2 2.1 0.2 2.1-0.1 2.1-0.9 2.2 0.1 2.1-0.6 2.1 0.1 2.1-0.9 2.2 0.5 2.1-0.6 2.1 0.2 2.2-0.1 2.1-0.2 2.1 0 2.1-0.2 2.2-0.4 2.1 0.1 2.1-0.1 2.2-0.2 2.1-0.1 2.1-0.2 2.1-0.3 2.2-0.2 2.1-0.3 2.1 0 2.2-0.1 2.1-0.1 2.1-0.1 2.1-0.1 2.2-0.8 2.1 0.5 2.1-0.7 2.2 0.3 2.1-0.6 2.1 1.1 2.1-1.1 2.2 0.1 2.1-0.9 2.1-0.1 2.1 0.5 2.2-0.3 2.1-0.5 2.1 0.1 2.2 0 2.1-0.5 2.1 0.8 2.1-1.3 2.2 0.3 2.1 1.2 2.1-1 2.2-0.5 2.1-1.2 2.1 0.8 2.1 0.4 2.2-1.5 2.1 0.1M30.3 506.3l2.1 0.3 2.2-1.1 2.1 1 2.1-0.3 2.1-1 2.2 0.1 2.1-0.4 2.1-0.1 2.2-0.1 2.1 0.2 2.1-0.6 2.1-0.5 2.2 0.5 2.1-1.1 2.1-0.1 2.2 0.5 2.1-0.8 2.1 0.3 2.1-0.6 2.2 0 2.1-0.3 2.1 0.1 2.1-0.5 2.2 0 2.1-0.1 2.1 0.1 2.2-0.4 2.1-0.5 2.1 0.3 2.1-0.1 2.2-0.1 2.1-0.2 2.1-0.2 2.2-0.1 2.1-0.1 2.1-0.2 2.1-0.3 2.2-0.1 2.1-0.2 2.1-0.4 2.2-0.1 2.1 0.2 2.1 0.2 2.1-0.5 2.2-0.2 2.1-0.3 2.1 0.1 2.2-0.9 2.1 0.7 2.1-0.4 2.1 0.3 2.2-0.2 2.1-0.4 2.1-0.3 2.1-0.4 2.2 1.2 2.1-1.7 2.1-0.3 2.2-0.1 2.1 0 2.1 0.2 2.1-0.5 2.2-0.6 2.1 0.6 2.1-1.1 2.2-0.3 2.1-0.1 2.1-1.2 2.1 0.7 2.2-0.1 2.1-0.6M30.3 507.2l2.1-1.4 2.2 1.1 2.1-1.4 2.1 0.6 2.1-0.3 2.2-1 2.1 0.5 2.1 0.1 2.2-0.6 2.1-0.8 2.1 0.4 2.1 0 2.2-0.6 2.1 0.2 2.1-0.5 2.2-0.3 2.1-0.6 2.1 0.1 2.1-0.4 2.2-0.3 2.1-0.2 2.1 0.7 2.1-0.5 2.2 0.1 2.1-0.5 2.1-0.1 2.2 0 2.1-0.1 2.1-0.1 2.1-0.1 2.2-0.5 2.1 0 2.1-0.2 2.2-0.1 2.1-0.2 2.1-0.4 2.1 0.1 2.2-0.2 2.1 0.2 2.1-0.3 2.2 0 2.1-0.1 2.1-0.5 2.1 0.1 2.2-0.2 2.1-0.1 2.1-0.1 2.2-0.2 2.1-0.1 2.1-0.3 2.1-0.2 2.2-0.3 2.1 0.3 2.1-0.8 2.1-0.1 2.2-0.3 2.1 0.4 2.1-0.1 2.2-0.8 2.1 0.5 2.1-0.6 2.1 0.3 2.2 0 2.1-0.2 2.1-0.6 2.2-0.3 2.1 0 2.1-1.4 2.1 0.3 2.2 0.1 2.1-1.3M30.3 506.2l2.1 0.3 2.2-0.7 2.1 0.1 2.1-0.5 2.1-0.2 2.2-0.4 2.1 0.6 2.1-1.2 2.2 1 2.1-0.8 2.1-0.3 2.1 0 2.2-0.5 2.1 0.6 2.1-0.7 2.2-0.5 2.1 0.1 2.1 0.1 2.1-0.5 2.2-0.1 2.1 0.1 2.1-0.6 2.1 0.3 2.2 0 2.1-0.4 2.1 0 2.2-0.2 2.1-0.3 2.1 0 2.1-0.4 2.2-0.2 2.1-0.2 2.1-0.1 2.2-0.2 2.1-0.2 2.1-0.1 2.1 0.1 2.2-0.3 2.1-0.4 2.1-0.3 2.2 0 2.1-0.2 2.1-0.4 2.1 0.2 2.2-0.1 2.1-0.7 2.1 0.1 2.2 0 2.1 0 2.1-0.9 2.1 0.3 2.2 0 2.1-0.9 2.1 0.7 2.1-0.7 2.2-0.4 2.1 0.1 2.1 0 2.2-0.5 2.1 0.5 2.1-0.5 2.1-0.5 2.2 0.6 2.1-1.1 2.1 0.4 2.2-0.3 2.1-0.1 2.1-0.8 2.1 0.1 2.2-0.6 2.1-0.9M30.3 507.3l2.1 0.1 2.2-0.7 2.1-0.4 2.1 0.4 2.1-0.5 2.2-0.5 2.1-0.4 2.1 0.1 2.2-0.2 2.1-0.3 2.1 0 2.1-0.4 2.2-0.1 2.1-0.2 2.1 0.4 2.2-0.4 2.1-0.8 2.1-0.4 2.1-0.1 2.2-0.1 2.1-0.1 2.1-0.4 2.1 0.1 2.2-0.3 2.1-0.5 2.1 0.4 2.2-0.3 2.1-0.3 2.1 0.1 2.1-0.3 2.2-0.4 2.1-0.1 2.1-0.1 2.2-0.3 2.1 0 2.1-0.5 2.1 0 2.2-0.1 2.1-0.4 2.1-0.1 2.2-0.1 2.1-0.1 2.1 0.2 2.1 0 2.2-0.7 2.1-0.4 2.1 0.3 2.2-0.3 2.1 0.3 2.1-0.2 2.1-0.6 2.2-0.4 2.1-0.2 2.1-0.4 2.1 0.4 2.2-0.4 2.1-0.6 2.1 0.4 2.2-0.5 2.1-0.4 2.1-0.2 2.1-0.5 2.2 0 2.1 0.2 2.1 0.6 2.2-1.4 2.1-0.2 2.1 0.1 2.1-0.1 2.2-0.2 2.1-0.5M30.3 508l2.1-1.1 2.2-0.8 2.1 1.4 2.1-2 2.1 0.2 2.2 0 2.1-0.5 2.1 0.1 2.2-0.2 2.1-0.6 2.1 0.4 2.1-0.2 2.2 0.1 2.1-0.2 2.1 0.1 2.2-0.5 2.1-0.1 2.1-0.9 2.1 0.1 2.2-0.6 2.1-0.4 2.1-0.2 2.1 0.2 2.2-0.7 2.1 0.6 2.1-0.8 2.2 0.6 2.1-0.4 2.1-0.3 2.1-0.1 2.2 0 2.1-0.3 2.1-0.3 2.2-0.1 2.1-0.3 2.1-0.3 2.1-0.2 2.2-0.1 2.1-0.1 2.1-0.1 2.2-0.8 2.1 0.1 2.1 0 2.1-0.1 2.2-0.4 2.1 0.6 2.1-0.9 2.2 0.2 2.1 0.3 2.1-1.2 2.1 0.4 2.2-0.6 2.1 0.3 2.1-0.2 2.1-0.8 2.2 0.4 2.1-0.1 2.1 0.7 2.2-1 2.1 0.4 2.1-0.7 2.1 0.3 2.2-1 2.1-0.5 2.1 0.4 2.2-1.2 2.1 0.1 2.1-1.3 2.1 0 2.2-0.1 2.1-1.5M30.3 506.4l2.1 0.6 2.2-0.4 2.1-0.3 2.1-0.5 2.1-1.1 2.2 0.4 2.1 0.3 2.1-0.5 2.2-0.3 2.1-0.3 2.1 0.3 2.1-0.3 2.2-1.1 2.1 0.9 2.1-0.3 2.2 0.3 2.1-0.9 2.1 0.2 2.1-0.8 2.2 0 2.1-0.1 2.1 0.2 2.1-0.2 2.2-0.2 2.1-0.3 2.1 0 2.2-0.2 2.1-0.3 2.1-0.1 2.1-0.2 2.2-0.3 2.1-0.2 2.1-0.1 2.2-0.3 2.1-0.1 2.1-0.3 2.1-0.3 2.2 0.3 2.1-0.5 2.1-0.3 2.2-0.3 2.1-0.1 2.1-0.2 2.1 0.4 2.2-0.2 2.1-0.6 2.1 0.6 2.2-0.5 2.1-0.2 2.1-0.3 2.1-0.3 2.2 0 2.1 0.1 2.1-0.2 2.1-0.7 2.2-0.4 2.1-0.2 2.1-0.2 2.2-0.3 2.1 0.2 2.1-0.7 2.1-0.6 2.2 0.5 2.1-0.8 2.1-0.3 2.2-0.9 2.1 0.9 2.1-0.1 2.1 0.2 2.2-0.3 2.1 0M30.3 507.3l2.1-1.6 2.2 0.1 2.1 1 2.1-0.6 2.1-0.1 2.2 0.4 2.1-0.3 2.1-0.7 2.2-0.2 2.1-0.3 2.1-0.1 2.1-0.3 2.2-0.4 2.1-0.1 2.1-0.9 2.2 0.2 2.1-0.3 2.1 0.1 2.1 0 2.2-0.3 2.1 0 2.1 0 2.1-0.5 2.2-0.5 2.1 0.2 2.1-0.1 2.2-0.1 2.1-0.1 2.1-0.6 2.1-0.2 2.2 0 2.1-0.3 2.1-0.1 2.2-0.3 2.1-0.2 2.1-0.2 2.1-0.3 2.2 0.4 2.1-0.6 2.1-0.1 2.2 0 2.1-0.2 2.1-0.4 2.1 0.3 2.2-0.2 2.1-0.8 2.1-0.1 2.2 0 2.1-0.4 2.1 0 2.1 0 2.2-0.2 2.1-0.4 2.1 0.2 2.1 0.2 2.2-0.6 2.1-0.3 2.1 0 2.2-0.5 2.1-0.1 2.1-0.5 2.1 0 2.2-0.2 2.1-0.7 2.1-0.5 2.2 0.2 2.1-0.2 2.1-1.3 2.1 0.5 2.2-0.7 2.1 0.1M30.3 506.6l2.1-0.6 2.2 0.4 2.1 0 2.1-0.6 2.1 0.5 2.2-0.8 2.1-0.5 2.1-0.3 2.2 0 2.1 0.1 2.1-0.3 2.1 0 2.2-1.1 2.1 0.1 2.1 0.2 2.2-0.1 2.1-0.2 2.1 0.2 2.1-0.5 2.2-0.1 2.1-0.2 2.1-0.1 2.1 0.4 2.2-0.8 2.1 0.1 2.1-0.2 2.2-1 2.1 0.3 2.1-0.3 2.1-0.1 2.2-0.1 2.1-0.4 2.1 0 2.2-0.2 2.1-0.1 2.1-0.4 2.1-0.1 2.2 0 2.1 0.1 2.1-0.6 2.2-0.2 2.1-0.2 2.1 0 2.1-0.4 2.2 0.2 2.1-0.5 2.1-0.2 2.2 0.1 2.1 0.1 2.1-0.4 2.1 0.1 2.2 0 2.1-0.9 2.1 0.2 2.1-0.2 2.2-0.3 2.1-0.7 2.1 0 2.2-0.3 2.1-0.7 2.1-0.3 2.1 0.1 2.2-0.2 2.1-1.1 2.1 0.4 2.2-0.8 2.1 0.1 2.1 0.2 2.1-0.2 2.2-1 2.1 0.7M30.3 507.2l2.1-0.2 2.2-0.3 2.1 0.1 2.1-1 2.1-0.5 2.2 0.6 2.1 0.1 2.1-0.8 2.2 0.1 2.1-0.3 2.1-0.4 2.1 0.4 2.2-1 2.1 0.4 2.1-0.2 2.2-0.5 2.1-0.7 2.1 0.4 2.1-0.4 2.2 0.2 2.1-0.6 2.1 0 2.1-0.4 2.2 0 2.1-0.2 2.1 0.2 2.2-0.7 2.1-0.2 2.1-0.1 2.1-0.2 2.2-0.2 2.1-0.2 2.1 0 2.2-0.2 2.1-0.2 2.1-0.1 2.1 0 2.2 0.1 2.1-0.5 2.1-0.2 2.2-0.4 2.1 0 2.1 0.1 2.1-0.6 2.2-0.2 2.1-0.1 2.1-0.1 2.2-0.1 2.1-0.5 2.1-0.3 2.1-0.2 2.2 0 2.1 0 2.1-0.6 2.1 0.7 2.2-0.6 2.1 0.6 2.1-0.3 2.2-0.4 2.1 0.1 2.1-1.9 2.1 0.1 2.2-0.7 2.1-0.9 2.1 0.1 2.2-0.8 2.1 1.6 2.1-1.7 2.1 0.5 2.2 0.4 2.1-0.7M30.3 507.1l2.1 0.3 2.2 0.4 2.1-0.3 2.1-0.1 2.1-0.6 2.2-0.2 2.1 0.1 2.1-0.3 2.2-1.3 2.1 0.6 2.1-0.4 2.1-1.4 2.2 0.8 2.1-0.1 2.1-0.3 2.2-0.8 2.1 0.2 2.1-0.4 2.1 0.4 2.2-0.7 2.1-0.4 2.1-0.2 2.1-0.6 2.2 0.1 2.1 0.5 2.1-0.5 2.2-0.3 2.1-0.3 2.1-0.2 2.1-0.2 2.2 0.2 2.1-0.2 2.1-0.4 2.2 0 2.1 0 2.1-0.2 2.1-0.2 2.2 0 2.1-0.1 2.1-0.6 2.2 0.3 2.1-0.5 2.1-0.2 2.1-0.1 2.2-1 2.1 0.8 2.1-1.4 2.2 0.8 2.1-0.4 2.1-0.4 2.1-0.4 2.2-0.1 2.1 0.2 2.1-0.1 2.1-0.7 2.2-0.4 2.1 0.6 2.1-0.9 2.2 0 2.1-0.2 2.1 0.3 2.1-0.2 2.2-1 2.1 1.1 2.1-1.2 2.2-0.6 2.1 0.7 2.1-1.6 2.1-0.2 2.2 1.1 2.1-0.6M30.3 507.3l2.1-0.1 2.2 0.2 2.1-0.6 2.1 0.3 2.1 0 2.2-0.9 2.1 0.8 2.1-0.8 2.2-0.4 2.1-0.4 2.1 0.2 2.1-0.6 2.2-0.6 2.1-0.5 2.1 0 2.2-0.2 2.1 0 2.1-0.5 2.1 0.7 2.2-1.2 2.1-0.2 2.1 0.1 2.1 0 2.2-0.7 2.1 0.3 2.1-0.6 2.2 0.1 2.1-0.1 2.1-0.3 2.1-0.1 2.2-0.3 2.1-0.2 2.1-0.1 2.2-0.2 2.1-0.2 2.1-0.2 2.1-0.1 2.2-0.2 2.1-0.2 2.1-0.1 2.2-0.2 2.1 0 2.1-0.5 2.1 0 2.2-0.4 2.1 0 2.1 0.1 2.2-0.5 2.1-0.4 2.1-0.4 2.1-0.1 2.2-0.6 2.1 0.7 2.1 0 2.1-0.6 2.2 0.1 2.1-0.4 2.1-0.3 2.2-0.9 2.1 1.3 2.1-0.2 2.1-0.7 2.2 0.3 2.1-0.6 2.1-1.2 2.2 0.2 2.1-0.5 2.1-0.8 2.1 0.8 2.2-1.1 2.1-0.2M30.3 507.4l2.1 0.9 2.2-1.4 2.1-0.3 2.1 0.5 2.1-0.4 2.2-0.2 2.1-0.3 2.1-0.5 2.2 0.2 2.1-0.1 2.1-0.3 2.1-0.5 2.2-0.6 2.1-0.2 2.1-0.1 2.2-0.5 2.1-0.2 2.1-0.2 2.1-0.4 2.2-0.1 2.1-0.5 2.1 0.4 2.1-0.4 2.2 0.2 2.1-0.6 2.1 0 2.2-0.3 2.1 0 2.1 0.1 2.1-0.4 2.2-0.1 2.1-0.3 2.1-0.2 2.2-0.2 2.1-0.2 2.1-0.2 2.1-0.4 2.2 0.2 2.1-0.3 2.1-0.1 2.2-0.1 2.1-0.2 2.1-0.2 2.1-0.2 2.2-0.4 2.1-0.2 2.1 0.1 2.2-0.5 2.1-0.3 2.1 0 2.1-0.2 2.2-0.3 2.1-0.3 2.1 0 2.1 0.1 2.2-0.3 2.1-0.5 2.1 0.6 2.2-0.8 2.1 0 2.1-1.8 2.1 0.8 2.2-0.1 2.1-0.3 2.1 0.2 2.2-0.7 2.1-1.3 2.1 0.5 2.1 0.1 2.2-0.2 2.1-0.2M30.3 507.7l2.1 0.9 2.2-0.7 2.1-1.3 2.1-0.3 2.1-0.5 2.2 0.9 2.1-0.7 2.1-0.2 2.2-0.8 2.1 0 2.1-0.2 2.1-0.4 2.2 0.1 2.1-0.7 2.1 0.2 2.2-0.6 2.1 0.1 2.1-0.2 2.1 0.3 2.2-0.1 2.1-0.2 2.1-0.6 2.1 0.4 2.2-1 2.1 0.2 2.1 0 2.2-0.6 2.1 0.1 2.1-0.4 2.1-0.2 2.2-0.4 2.1-0.1 2.1-0.2 2.2-0.1 2.1-0.3 2.1 0 2.1-0.2 2.2-0.3 2.1-0.1 2.1 0.2 2.2-0.6 2.1 0.3 2.1-0.6 2.1 0 2.2-0.3 2.1 0.1 2.1-0.8 2.2 0.1 2.1-0.5 2.1 0.2 2.1-0.3 2.2-0.5 2.1-0.6 2.1 0.5 2.1-0.5 2.2-0.2 2.1-0.3 2.1-0.1 2.2-0.8 2.1 0 2.1 0 2.1-0.5 2.2-0.3 2.1 0.4 2.1-0.2 2.2-0.9 2.1-0.9 2.1 1.5 2.1-1.1 2.2-0.9 2.1 0.3M30.3 508.5l2.1-0.4 2.2-0.3 2.1-0.8 2.1-0.2 2.1-0.7 2.2 0.1 2.1-1.1 2.1 0.4 2.2-0.7 2.1-0.4 2.1 0.1 2.1 0.4 2.2-0.2 2.1-0.1 2.1-0.4 2.2 0.1 2.1 0 2.1-0.9 2.1-0.2 2.2-0.7 2.1-0.3 2.1 0.6 2.1-0.3 2.2-0.5 2.1-0.2 2.1 0.1 2.2-0.1 2.1 0.1 2.1-0.8 2.1 0.2 2.2-0.3 2.1-0.2 2.1-0.2 2.2-0.2 2.1-0.3 2.1-0.1 2.1-0.3 2.2-0.3 2.1-0.3 2.1-0.2 2.2 0.2 2.1-0.2 2.1-0.2 2.1 0.5 2.2-0.4 2.1-0.3 2.1 0 2.2 0 2.1-0.7 2.1 0 2.1-0.4 2.2 0 2.1-0.3 2.1-0.2 2.1-0.7 2.2 0.3 2.1-0.6 2.1-0.8 2.2-0.4 2.1 0.2 2.1 0.3 2.1-0.8 2.2 0.4 2.1-0.4 2.1 0.2 2.2-1.4 2.1-0.2 2.1 0.6 2.1-0.3 2.2-0.9 2.1-0.8M30.3 507.9l2.1-0.1 2.2 0.1 2.1-0.6 2.1-0.6 2.1-0.2 2.2 0.5 2.1-0.4 2.1-0.8 2.2 0.1 2.1-0.3 2.1-1.2 2.1 1.4 2.2-0.9 2.1-0.2 2.1-0.4 2.2-0.8 2.1 0.4 2.1-0.2 2.1-0.3 2.2-0.2 2.1-0.4 2.1-0.8 2.1 0.5 2.2-0.3 2.1-0.3 2.1 0.2 2.2-0.7 2.1-0.1 2.1 0.2 2.1-0.4 2.2-0.2 2.1-0.1 2.1-0.3 2.2-0.1 2.1 0 2.1-0.4 2.1 0 2.2-0.2 2.1 0.2 2.1-0.2 2.2-0.3 2.1-0.4 2.1-0.2 2.1-0.7 2.2-0.3 2.1 0.1 2.1-0.2 2.2-0.8 2.1 0.3 2.1-0.4 2.1 0.2 2.2-0.3 2.1-0.1 2.1-0.1 2.1-0.5 2.2 0.1 2.1-0.4 2.1-0.4 2.2-0.9 2.1 1.3 2.1-0.9 2.1-0.4 2.2 0.3 2.1-0.6 2.1 0 2.2-0.1 2.1 0.2 2.1-0.3 2.1-0.3 2.2-0.1 2.1-1M30.3 508.9l2.1 0 2.2-0.7 2.1-0.3 2.1-0.7 2.1-0.3 2.2 0.4 2.1-1.8 2.1-0.2 2.2 0.6 2.1-1.2 2.1 0.1 2.1-0.4 2.2-0.6 2.1 0 2.1-0.2 2.2-0.4 2.1 0.1 2.1 0.4 2.1 0 2.2-0.7 2.1 0.5 2.1-0.5 2.1-0.2 2.2-0.1 2.1-0.7 2.1 0 2.2-0.1 2.1-0.4 2.1 0 2.1-0.5 2.2-0.2 2.1 0 2.1-0.2 2.2-0.3 2.1 0.1 2.1-0.2 2.1-0.2 2.2-0.1 2.1-0.4 2.1-0.2 2.2-0.1 2.1-0.2 2.1-0.4 2.1-0.2 2.2-0.3 2.1 0.2 2.1-0.3 2.2-0.7 2.1 0.1 2.1-0.6 2.1 0.2 2.2-0.4 2.1-0.1 2.1-0.5 2.1-0.4 2.2 0 2.1-1.1 2.1 1 2.2-1.1 2.1 0.5 2.1-0.7 2.1 0.3 2.2-0.5 2.1-0.2 2.1 0.1 2.2 0 2.1-0.5 2.1-0.6 2.1-0.6 2.2-0.8 2.1 1.1M30.3 512.5l2.1-1.4 2.2-0.1 2.1-0.5 2.1-1.1 2.1 0.4 2.2-0.6 2.1-1.3 2.1 0.3 2.2 0.4 2.1-1.3 2.1-0.3 2.1 0.5 2.2-0.1 2.1-0.7 2.1-0.5 2.2-0.1 2.1-0.3 2.1-0.8 2.1-0.4 2.2 0.2 2.1-0.5 2.1-0.6 2.1-0.2 2.2-0.4 2.1-0.3 2.1-0.6 2.2 0.1 2.1-0.4 2.1 0.2 2.1-0.5 2.2-0.5 2.1-0.1 2.1-0.5 2.2-0.2 2.1-0.3 2.1-0.3 2.1-0.1 2.2-0.3 2.1-0.4 2.1-0.2 2.2-0.6 2.1 0.4 2.1-0.2 2.1 0.1 2.2-0.6 2.1-0.2 2.1-0.6 2.2-0.5 2.1 0 2.1 0 2.1-0.9 2.2-0.5 2.1-0.3 2.1-0.1 2.1-0.9 2.2 0.3 2.1-0.6 2.1-0.1 2.2 0.7 2.1-1.5 2.1-1 2.1 0.7 2.2-0.4 2.1-1.3 2.1 0.3 2.2-1.3 2.1-0.8 2.1-0.3 2.1-0.8 2.2-0.1 2.1-0.5M30.3 513.8l2.1-1.2 2.2 0.3 2.1-0.8 2.1-1.7 2.1-1.3 2.2 0.3 2.1-0.9 2.1 0.3 2.2-1 2.1-0.3 2.1-0.4 2.1 0.3 2.2-1.2 2.1 0.8 2.1-1.1 2.2 0.6 2.1-0.9 2.1-0.6 2.1-0.6 2.2 0.3 2.1 0.1 2.1-1 2.1 0 2.2-0.2 2.1-0.4 2.1-0.2 2.2-0.7 2.1-0.1 2.1-0.4 2.1-0.3 2.2-0.2 2.1-0.4 2.1-0.3 2.2-0.4 2.1-0.2 2.1-0.3 2.1-0.2 2.2-0.4 2.1-0.4 2.1-0.3 2.2 0.1 2.1-0.5 2.1-0.2 2.1-0.1 2.2-0.2 2.1-0.5 2.1 0.1 2.2-0.7 2.1 0.2 2.1-0.8 2.1 0.1 2.2-1.1 2.1-0.2 2.1-0.6 2.1 0.5 2.2 0 2.1-0.3 2.1-0.7 2.2-0.8 2.1-0.2 2.1-0.5 2.1 0.3 2.2-1.6 2.1-0.5 2.1-0.1 2.2 0.2 2.1-1.6 2.1-1 2.1-1.4 2.2 0.1 2.1-0.4M30.3 513.6l2.1 0.2 2.2-1.1 2.1-0.2 2.1-0.4 2.1-1.2 2.2-0.8 2.1-0.9 2.1 0 2.2-0.6 2.1 0 2.1 0.1 2.1-0.8 2.2-0.8 2.1 0 2.1-1.3 2.2-0.1 2.1 0.1 2.1-1 2.1 0 2.2-0.6 2.1 0.3 2.1-0.6 2.1-0.1 2.2-0.3 2.1-0.6 2.1-0.5 2.2 0.1 2.1-0.3 2.1-0.1 2.1-0.5 2.2-0.4 2.1-0.1 2.1-0.4 2.2-0.3 2.1-0.3 2.1-0.4 2.1-0.2 2.2-0.2 2.1-0.1 2.1-0.1 2.2-0.7 2.1-0.7 2.1 0.2 2.1-0.4 2.2-0.2 2.1-0.2 2.1-1 2.2-0.3 2.1 0.4 2.1-0.5 2.1-1.3 2.2 0.4 2.1-0.7 2.1-0.1 2.1-0.9 2.2-0.1 2.1-0.5 2.1-0.2 2.2-1.7 2.1-0.8 2.1 0.6 2.1-0.7 2.2-0.4 2.1-0.2 2.1-0.4 2.2-0.4 2.1-1 2.1 0.5 2.1-0.7 2.2-1.2 2.1 0.5M30.3 513.8l2.1-1.2 2.2-0.7 2.1 0.3 2.1-1.1 2.1-0.5 2.2-0.1 2.1 0.3 2.1-1 2.2-0.4 2.1 0.5 2.1 0.1 2.1-0.8 2.2-0.8 2.1-1 2.1-0.5 2.2-0.3 2.1-0.2 2.1-1 2.1-0.3 2.2-0.1 2.1-0.3 2.1-1.2 2.1 0.4 2.2-1.1 2.1-0.5 2.1 0.3 2.2-0.1 2.1-0.3 2.1-0.2 2.1-0.5 2.2-0.4 2.1-0.1 2.1-0.4 2.2-0.2 2.1-0.5 2.1-0.3 2.1 0 2.2-0.4 2.1-0.4 2.1 0.1 2.2-0.5 2.1-0.5 2.1 0.2 2.1-0.7 2.2-0.3 2.1-0.1 2.1-0.8 2.2 0.3 2.1-0.8 2.1-0.1 2.1-0.9 2.2 0.3 2.1-1 2.1-0.5 2.1-0.6 2.2-0.7 2.1 0.9 2.1-1 2.2 0 2.1-1.3 2.1-0.6 2.1 0.3 2.2-0.7 2.1-0.9 2.1 0 2.2-0.5 2.1 0.2 2.1-1.2 2.1-1.5 2.2 0.5 2.1-1.6M30.3 513.6l2.1 0.1 2.2-1 2.1-0.2 2.1-1.5 2.1 0.8 2.2-0.7 2.1-1.3 2.1-0.1 2.2-0.1 2.1-0.3 2.1 0.1 2.1-0.8 2.2-0.7 2.1-0.7 2.1-0.3 2.2-0.6 2.1 0 2.1-0.1 2.1-0.6 2.2-1 2.1 0 2.1-0.8 2.1 0.4 2.2-0.7 2.1-0.3 2.1-0.6 2.2-0.1 2.1-0.3 2.1-0.5 2.1 0 2.2-0.5 2.1-0.4 2.1-0.2 2.2-0.3 2.1-0.2 2.1-0.4 2.1-0.4 2.2-0.3 2.1-0.2 2.1 0 2.2-0.8 2.1 0 2.1 0 2.1-0.8 2.2 0.3 2.1-1 2.1 0 2.2-0.1 2.1-0.2 2.1-0.3 2.1-0.4 2.2-0.6 2.1-1.1 2.1 0 2.1-0.4 2.2-0.7 2.1-0.2 2.1 0 2.2-0.4 2.1-1.7 2.1 0.3 2.1-1.3 2.2-0.5 2.1 0.3 2.1-0.6 2.2 0.2 2.1-0.6 2.1-0.5 2.1-0.4 2.2-1.3 2.1 0.3M30.3 516.1l2.1-1 2.2-0.4 2.1-0.7 2.1-0.3 2.1-0.2 2.2-3 2.1-0.2 2.1-0.1 2.2 0.1 2.1-1.6 2.1-0.8 2.1 0.2 2.2 0.6 2.1-0.7 2.1-0.5 2.2-0.1 2.1-0.8 2.1 0.4 2.1-0.5 2.2 0.1 2.1-1.6 2.1-0.4 2.1-0.1 2.2-0.1 2.1-1.2 2.1 0.2 2.2-0.4 2.1-0.2 2.1-0.5 2.1-0.5 2.2-0.3 2.1-0.6 2.1-0.3 2.2-0.3 2.1-0.2 2.1-0.4 2.1-0.1 2.2-0.6 2.1-0.1 2.1-0.4 2.2-0.6 2.1 0 2.1-0.1 2.1-1 2.2 0.5 2.1-0.5 2.1-0.4 2.2-0.6 2.1-0.7 2.1 0.6 2.1-1.5 2.2-1.3 2.1-0.5 2.1-0.5 2.1 0 2.2-0.6 2.1 0 2.1 0.2 2.2-1.1 2.1-0.6 2.1 0.1 2.1-0.1 2.2-0.8 2.1-0.3 2.1-1 2.2 0.1 2.1-0.1 2.1-2 2.1-1.1 2.2 0.1 2.1-1.3M30.3 517.7l2.1-3.2 2.2 1.4 2.1-1.2 2.1 0 2.1-0.9 2.2-1.2 2.1 0 2.1-1.1 2.2-0.7 2.1-1 2.1-0.9 2.1-0.2 2.2-1.2 2.1 0.2 2.1-0.5 2.2-0.6 2.1-0.2 2.1-0.8 2.1 1 2.2-0.7 2.1-0.2 2.1-1.4 2.1-0.1 2.2 0.1 2.1-0.6 2.1 0.2 2.2-0.8 2.1-0.8 2.1-0.2 2.1-0.6 2.2 0 2.1-0.6 2.1-0.3 2.2-0.3 2.1-0.4 2.1-0.4 2.1-0.5 2.2-0.2 2.1-0.4 2.1-0.3 2.2-0.4 2.1-0.1 2.1-0.8 2.1-0.2 2.2-0.2 2.1-0.2 2.1-0.1 2.2-0.1 2.1-0.3 2.1-0.4 2.1-1 2.2-0.2 2.1 0.3 2.1-0.6 2.1-1.5 2.2-0.7 2.1-0.3 2.1-1.2 2.2 0.7 2.1-1.2 2.1-0.1 2.1-2 2.2 0.3 2.1-0.6 2.1-0.6 2.2 0.1 2.1-0.9 2.1 0.7 2.1-1.5 2.2-0.3 2.1-1.5M30.3 516.1l2.1 0 2.2-0.7 2.1-0.2 2.1-1.3 2.1-0.7 2.2-1 2.1 0.2 2.1-1.2 2.2 0 2.1-1.3 2.1-0.5 2.1-0.4 2.2-1 2.1 0.5 2.1-1.5 2.2 0.1 2.1-0.5 2.1-0.2 2.1-0.1 2.2-0.4 2.1-0.9 2.1-0.2 2.1-0.5 2.2-0.3 2.1-0.8 2.1-0.3 2.2 0 2.1-1.1 2.1-0.1 2.1-0.3 2.2-0.2 2.1-0.3 2.1-0.3 2.2-0.5 2.1-0.2 2.1-0.1 2.1-0.4 2.2-0.3 2.1-0.5 2.1 0.2 2.2-0.4 2.1-0.4 2.1-0.7 2.1-0.4 2.2-0.1 2.1-0.8 2.1-0.1 2.2-0.4 2.1 0.4 2.1-0.9 2.1-0.4 2.2-1 2.1-0.3 2.1 0 2.1-0.9 2.2-0.5 2.1-0.7 2.1-0.2 2.2-0.5 2.1-1.5 2.1 0 2.1-1.2 2.2 0.3 2.1-1 2.1-0.5 2.2-0.2 2.1-1.3 2.1 0.6 2.1-1.2 2.2 0.9 2.1-2M30.3 516.6l2.1-1.1 2.2-0.7 2.1-1.1 2.1-0.4 2.1-0.8 2.2 0.3 2.1-0.8 2.1 0.1 2.2-0.8 2.1 0.8 2.1-1.6 2.1-0.5 2.2-0.3 2.1-0.5 2.1 0 2.2-1 2.1-0.5 2.1-0.9 2.1-0.6 2.2-0.3 2.1-0.6 2.1-0.6 2.1-0.1 2.2-1 2.1-0.6 2.1 0 2.2-0.1 2.1-0.5 2.1-0.5 2.1-0.4 2.2 0.1 2.1-0.6 2.1-0.3 2.2-0.4 2.1-0.4 2.1-0.3 2.1-0.3 2.2-0.2 2.1-0.5 2.1-0.2 2.2-1.1 2.1 0.5 2.1-1 2.1-0.3 2.2-0.4 2.1 0 2.1-0.6 2.2-0.4 2.1-0.2 2.1-0.5 2.1-0.5 2.2-0.1 2.1-0.7 2.1-0.6 2.1 0.2 2.2-1.1 2.1-0.2 2.1-0.2 2.2-1.1 2.1-0.9 2.1 0.1 2.1 0.1 2.2-2 2.1-0.7 2.1 0.4 2.2-1.1 2.1-0.9 2.1 0.9 2.1-2.3 2.2-0.6 2.1-0.8M30.3 517.6l2.1 0.2 2.2-0.1 2.1-1.7 2.1-0.6 2.1-0.3 2.2-1.2 2.1-1.1 2.1-0.7 2.2-0.5 2.1 0.1 2.1-1 2.1 0.2 2.2-1.1 2.1-1 2.1-0.6 2.2-0.3 2.1-0.4 2.1 0.2 2.1-0.7 2.2-0.5 2.1-0.6 2.1-0.5 2.1-1.3 2.2-0.1 2.1 0.2 2.1-0.5 2.2-0.5 2.1-0.4 2.1-0.4 2.1-0.2 2.2-0.9 2.1-0.3 2.1-0.4 2.2-0.3 2.1-0.4 2.1-0.3 2.1-0.1 2.2-0.7 2.1-0.4 2.1-0.1 2.2-0.1 2.1-1.2 2.1 0.2 2.1-0.5 2.2-0.2 2.1-1.2 2.1 0.7 2.2-1.3 2.1 0.8 2.1-1.8 2.1 0.1 2.2 0.1 2.1-1.5 2.1-0.5 2.1 0.1 2.2-1.4 2.1-0.3 2.1-0.7 2.2 0.5 2.1-0.8 2.1-0.3 2.1-1 2.2-0.2 2.1-0.3 2.1-1.9 2.2 0.3 2.1-1.8 2.1-0.8 2.1-0.1 2.2-0.3 2.1-2.2M30.3 517.3l2.1 0.4 2.2 0.6 2.1-1.7 2.1-0.8 2.1 0.3 2.2-1.6 2.1-1.2 2.1-1.3 2.2-0.7 2.1 0.3 2.1-0.6 2.1-0.4 2.2-0.7 2.1-0.7 2.1 0.5 2.2-0.7 2.1-0.3 2.1-0.3 2.1-0.6 2.2-1.4 2.1-0.5 2.1-0.5 2.1 0.4 2.2-1.2 2.1-1.2 2.1 0.1 2.2-0.3 2.1-0.7 2.1-0.2 2.1-0.4 2.2-0.5 2.1-0.4 2.1-0.3 2.2-0.5 2.1-0.2 2.1-0.5 2.1-0.6 2.2-0.3 2.1-0.3 2.1-0.1 2.2-1.1 2.1 0.3 2.1-0.9 2.1 0 2.2-0.7 2.1-0.4 2.1 0.2 2.2 0.7 2.1-0.8 2.1-0.8 2.1-0.6 2.2-1.1 2.1-1.5 2.1-0.2 2.1-0.5 2.2-1.5 2.1-0.1 2.1-1.2 2.2-0.5 2.1 0.5 2.1-2 2.1-0.9 2.2 0.7 2.1-1.1 2.1-0.3 2.2-0.1 2.1-0.6 2.1-1.4 2.1 0.2 2.2-0.9 2.1-1.7M30.3 522.3l2.1-1 2.2-1.9 2.1 0 2.1-0.2 2.1-1.6 2.2-1.6 2.1 0.9 2.1-1 2.2-1.9 2.1-0.2 2.1-0.1 2.1-1 2.2-0.7 2.1-0.1 2.1-1 2.2-1.5 2.1-0.2 2.1-1.1 2.1-0.2 2.2-0.4 2.1-0.9 2.1-0.1 2.1-0.9 2.2-0.3 2.1-0.4 2.1-0.5 2.2-0.3 2.1-1 2.1 0.1 2.1-0.9 2.2-0.4 2.1-0.8 2.1-0.4 2.2-0.5 2.1-0.6 2.1-0.5 2.1-0.5 2.2-0.5 2.1-0.5 2.1-0.3 2.2-0.4 2.1-0.4 2.1-0.2 2.1-0.5 2.2-1 2.1 0.5 2.1-1.6 2.2 0.3 2.1-1.1 2.1-0.3 2.1-0.5 2.2-0.9 2.1-1.1 2.1 0.2 2.1-0.5 2.2-0.3 2.1-1.8 2.1-0.2 2.2-0.7 2.1-0.2 2.1 0.2 2.1-2.1 2.2 0.3 2.1-1.5 2.1-1.8 2.2 0 2.1-0.7 2.1 0.1 2.1-2.4 2.2-0.5 2.1-0.3M30.3 524.5l2.1-1.6 2.2-2 2.1 0 2.1-1.5 2.1-1.1 2.2-0.5 2.1-1.3 2.1 0 2.2-1.5 2.1-1.2 2.1-1.1 2.1-1.1 2.2 0.2 2.1-1 2.1-0.3 2.2-0.2 2.1-0.5 2.1-0.7 2.1-0.5 2.2-0.2 2.1-1.8 2.1 0.5 2.1-0.8 2.2-0.3 2.1-1.6 2.1 0.8 2.2-1.1 2.1-0.8 2.1-0.8 2.1-0.3 2.2-0.4 2.1-0.9 2.1-0.3 2.2-0.4 2.1-0.5 2.1-0.5 2.1-0.5 2.2 0 2.1-0.9 2.1-0.2 2.2-0.7 2.1-0.4 2.1-0.1 2.1-1.3 2.2-0.3 2.1 0 2.1-0.6 2.2-0.8 2.1-1.1 2.1-1 2.1 0.2 2.2-0.6 2.1-1.2 2.1-0.2 2.1-0.5 2.2-0.5 2.1-0.4 2.1-1.5 2.2-0.2 2.1 0.1 2.1-1.6 2.1-1.2 2.2-0.1 2.1-0.9 2.1-0.6 2.2-1.5 2.1-1.3 2.1-1.9 2.1 0.2 2.2-0.8 2.1-1.9M30.3 524.9l2.1-2 2.2 0.2 2.1-2.2 2.1-1 2.1-1.7 2.2-0.7 2.1-0.6 2.1-1.7 2.2-0.5 2.1 0 2.1-0.2 2.1-1.2 2.2-1 2.1-0.8 2.1 0.1 2.2-0.6 2.1 0 2.1-1.1 2.1-0.9 2.2-0.3 2.1-0.8 2.1-0.3 2.1-0.7 2.2-1.1 2.1 0 2.1-1.1 2.2-1 2.1-0.1 2.1-0.6 2.1-0.5 2.2-0.5 2.1-0.7 2.1-0.5 2.2-0.6 2.1-0.4 2.1-0.4 2.1-0.7 2.2-0.7 2.1-0.5 2.1-0.3 2.2-0.6 2.1-0.2 2.1-0.8 2.1-0.9 2.2-0.6 2.1-0.7 2.1 0.5 2.2-1.7 2.1-0.1 2.1-1 2.1 0.2 2.2-1.1 2.1 0.1 2.1 0 2.1-1.3 2.2-0.2 2.1-0.9 2.1-1 2.2-1 2.1-0.8 2.1-1.1 2.1 0.4 2.2-2.5 2.1 0 2.1-1.6 2.2-0.8 2.1-0.7 2.1-2.3 2.1 0.1 2.2-1.3 2.1-2.3M30.3 524.5l2.1-2 2.2-0.4 2.1-1.2 2.1-1.5 2.1-0.2 2.2-0.6 2.1-0.5 2.1-2 2.2-1.1 2.1-0.1 2.1 0.3 2.1-0.7 2.2-0.5 2.1-1.3 2.1-1.3 2.2-0.3 2.1-0.9 2.1 0.5 2.1-2.3 2.2-0.1 2.1-1 2.1-0.8 2.1-0.4 2.2-0.7 2.1-0.7 2.1 0.6 2.2-0.7 2.1-1.4 2.1-0.3 2.1-0.3 2.2-0.7 2.1-0.7 2.1-0.6 2.2-0.4 2.1-0.6 2.1-0.3 2.1-1.1 2.2-0.3 2.1-0.3 2.1-0.2 2.2-0.7 2.1-0.7 2.1-0.8 2.1-0.3 2.2 0.4 2.1-0.5 2.1-0.3 2.2-1.2 2.1-0.2 2.1-1.3 2.1-0.7 2.2-0.8 2.1-0.1 2.1-1.7 2.1 0 2.2-0.2 2.1-1.3 2.1-0.8 2.2-0.7 2.1-1.3 2.1-1 2.1-1.6 2.2 0.4 2.1-1.7 2.1 1.2 2.2-3.6 2.1 0.2 2.1-1.8 2.1 0.1 2.2-1.4 2.1-1M30.3 525l2.1-0.7 2.2-1.2 2.1 0 2.1-2.3 2.1-0.8 2.2-1.7 2.1-0.1 2.1-0.3 2.2-1.3 2.1-1.8 2.1 0.7 2.1-1.7 2.2 0 2.1 0.1 2.1-2.1 2.2-1.6 2.1 0.1 2.1-0.2 2.1-1.2 2.2-0.5 2.1-2.2 2.1 0.3 2.1 0.4 2.2-1.7 2.1-0.4 2.1-0.1 2.2-0.6 2.1-0.7 2.1-0.9 2.1-0.1 2.2-0.5 2.1-0.8 2.1-0.4 2.2-0.5 2.1-0.6 2.1-0.7 2.1-0.5 2.2-0.4 2.1-1 2.1-0.5 2.2 0.4 2.1-0.6 2.1-0.5 2.1-0.6 2.2-0.6 2.1-0.4 2.1-0.5 2.2-0.7 2.1 0.1 2.1-0.2 2.1-1.8 2.2-1.2 2.1-0.2 2.1-0.4 2.1-1.1 2.2-0.2 2.1-0.1 2.1-1 2.2-1.2 2.1-0.5 2.1-0.9 2.1-0.1 2.2-1.6 2.1-1.5 2.1-0.1 2.2-1.2 2.1-2.4 2.1-0.6 2.1-0.5 2.2-1.9 2.1-2.4M30.3 527.6l2.1-0.4 2.2-1.1 2.1-1.6 2.1-0.5 2.1-0.7 2.2-1.1 2.1-1.8 2.1-0.9 2.2-0.8 2.1-1.4 2.1-0.1 2.1-1.2 2.2-2 2.1 0.3 2.1-2 2.2-0.2 2.1-1.2 2.1-0.6 2.1-0.6 2.2-0.8 2.1-1 2.1 0 2.1-0.5 2.2-1.2 2.1-0.2 2.1-0.7 2.2-0.7 2.1-0.5 2.1-0.4 2.1-1 2.2-0.6 2.1-0.6 2.1-0.7 2.2-0.7 2.1-0.8 2.1-0.2 2.1-1 2.2-0.1 2.1-0.8 2.1-0.4 2.2-0.9 2.1-0.4 2.1-0.4 2.1-0.2 2.2-1.6 2.1 0.3 2.1-1 2.2-1.7 2.1-0.1 2.1-0.6 2.1-0.7 2.2-0.7 2.1-0.4 2.1-0.9 2.1-0.4 2.2-0.6 2.1-1.2 2.1-0.9 2.2-0.7 2.1-1.4 2.1-1.7 2.1-1.2 2.2-0.3 2.1-0.7 2.1-2.8 2.2-0.7 2.1-1.7 2.1-0.4 2.1-1.8 2.2 0.4 2.1-1.8M30.3 529.4l2.1 0.3 2.2-2.3 2.1-2 2.1-0.6 2.1-1.8 2.2-1 2.1-1.3 2.1-2.2 2.2 0.1 2.1-1.4 2.1-1.2 2.1-0.5 2.2-1.1 2.1 0.8 2.1-2.2 2.2 0.4 2.1-1.1 2.1-0.7 2.1-1.1 2.2-0.6 2.1-0.7 2.1-1.3 2.1-1.3 2.2 0.2 2.1-0.8 2.1-0.8 2.2-0.5 2.1-0.6 2.1-0.9 2.1-0.8 2.2-0.4 2.1-0.5 2.1-0.8 2.2-0.5 2.1-1 2.1-0.4 2.1-0.3 2.2-0.1 2.1-0.9 2.1-0.5 2.2-0.6 2.1-0.3 2.1-1.2 2.1-0.7 2.2-0.6 2.1-0.5 2.1-1.4 2.2-0.1 2.1 0 2.1-1.2 2.1-1.5 2.2-0.9 2.1 0.5 2.1-1.2 2.1-1.1 2.2-0.9 2.1-0.1 2.1-1.4 2.2-0.5 2.1-0.3 2.1-2.7 2.1-0.5 2.2-1.5 2.1-0.8 2.1-0.8 2.2-1.4 2.1-1.7 2.1-0.2 2.1-3 2.2-1.7 2.1 1.9M30.3 530.9l2.1-2.9 2.2-0.9 2.1-0.3 2.1-2 2.1-1.1 2.2-0.4 2.1-0.2 2.1-2.5 2.2 0.6 2.1-0.8 2.1-0.1 2.1-2.3 2.2-0.8 2.1-1.9 2.1-1.6 2.2-0.1 2.1-1.1 2.1-1.8 2.1-0.8 2.2-0.4 2.1-0.8 2.1-0.2 2.1-0.7 2.2-0.6 2.1 0 2.1-1.7 2.2-0.7 2.1-0.3 2.1-0.9 2.1-0.9 2.2-0.8 2.1-0.5 2.1-0.6 2.2-0.8 2.1-0.5 2.1-0.4 2.1-0.7 2.2-0.4 2.1-0.8 2.1 0 2.2-0.8 2.1-0.9 2.1-1 2.1-1.8 2.2 0 2.1-1.5 2.1-0.8 2.2-1 2.1-0.9 2.1-0.1 2.1 0.3 2.2-0.8 2.1-1.4 2.1-0.9 2.1-0.2 2.2-1.5 2.1 0 2.1-0.4 2.2-1.8 2.1-1.5 2.1-1.8 2.1-1.3 2.2-0.1 2.1-2.4 2.1 0.1 2.2-1.5 2.1-1.2 2.1-1.1 2.1-1.1 2.2-0.7 2.1-1.9M30.3 533.9l2.1-0.5 2.2-1.7 2.1-1.3 2.1-2.1 2.1 0 2.2-1 2.1-2.1 2.1-1.7 2.2-0.3 2.1-2.2 2.1-1 2.1-1.6 2.2 0 2.1-2.3 2.1-1 2.2-1.4 2.1-0.6 2.1-1.3 2.1 0 2.2-1.9 2.1-1.3 2.1-0.3 2.1-0.6 2.2-0.8 2.1-1 2.1 0.1 2.2-0.5 2.1-0.7 2.1-0.9 2.1-0.8 2.2-0.9 2.1-0.5 2.1-0.8 2.2-0.8 2.1-0.7 2.1-0.3 2.1-0.9 2.2-0.5 2.1-0.6 2.1-0.8 2.2-0.5 2.1-0.5 2.1-0.8 2.1-1.1 2.2-1.3 2.1-0.9 2.1-1 2.2-0.1 2.1-1.2 2.1-0.1 2.1-1.1 2.2-1.8 2.1-0.2 2.1-2 2.1-0.2 2.2-0.2 2.1-0.8 2.1-0.1 2.2-3 2.1-0.9 2.1-2.8 2.1-0.3 2.2-0.1 2.1-0.3 2.1-0.9 2.2-2.3 2.1-1.7 2.1-0.4 2.1-3 2.2-1.7 2.1-0.1M30.3 535.1l2.1-1.1 2.2-3.6 2.1-1.3 2.1-0.3 2.1-1.7 2.2-2 2.1-1.4 2.1-0.5 2.2-2.6 2.1-0.7 2.1-1.8 2.1 1.8 2.2-1.6 2.1-2.2 2.1-0.7 2.2-0.6 2.1-0.5 2.1-1.8 2.1-0.4 2.2-1.8 2.1-0.8 2.1-0.7 2.1 0.2 2.2-1.6 2.1-1.3 2.1-0.8 2.2-0.5 2.1-0.7 2.1-0.2 2.1-1.3 2.2-0.7 2.1-0.5 2.1-0.7 2.2-0.6 2.1-0.7 2.1-0.6 2.1-0.8 2.2-0.5 2.1-0.3 2.1-0.9 2.2-1 2.1-0.6 2.1-1.2 2.1-0.5 2.2-0.9 2.1-0.2 2.1-1.3 2.2 0 2.1-0.9 2.1-1.7 2.1-0.6 2.2-0.5 2.1-1.9 2.1-1.3 2.1-0.5 2.2-1.3 2.1-0.6 2.1-0.9 2.2 0.3 2.1-0.2 2.1-1.9 2.1 1 2.2-2.9 2.1-0.8 2.1-2.3 2.2-0.9 2.1-2.2 2.1-1.2 2.1-2.3 2.2-3.2 2.1 0.1M30.3 533.9l2.1-2.4 2.2-0.4 2.1-1.1 2.1-2 2.1-0.4 2.2-2.1 2.1-0.1 2.1-1.7 2.2-1.7 2.1-0.6 2.1-2.2 2.1-0.4 2.2-1.2 2.1 0.2 2.1-2.3 2.2-0.6 2.1 0.1 2.1-2 2.1-0.9 2.2-0.4 2.1-0.8 2.1-0.8 2.1-1.4 2.2-0.9 2.1-0.7 2.1-1.6 2.2-0.1 2.1-0.8 2.1-0.3 2.1-1.2 2.2-0.9 2.1-0.5 2.1-1.1 2.2-0.4 2.1-0.8 2.1-0.6 2.1-0.8 2.2-0.1 2.1-1.8 2.1 0.2 2.2-2 2.1 0.1 2.1-0.9 2.1-1.8 2.2 0.8 2.1-0.9 2.1-0.1 2.2-1.1 2.1-1.1 2.1-1.4 2.1 1.2 2.2-2.3 2.1-1.5 2.1-1.4 2.1-0.2 2.2-1.7 2.1-2.1 2.1-0.1 2.2-2 2.1 1.4 2.1-1.1 2.1-1.3 2.2-0.1 2.1-2.1 2.1 0 2.2-2.4 2.1-0.3 2.1-2.3 2.1-2.8 2.2-2.4 2.1-0.9M30.3 536.7l2.1-3.5 2.2-1.4 2.1-0.2 2.1-1.5 2.1-2.6 2.2-0.6 2.1-1.4 2.1-1.7 2.2-0.9 2.1-2.6 2.1-0.2 2.1-0.4 2.2-1 2.1-0.8 2.1-1.9 2.2 0.4 2.1-2.1 2.1-0.2 2.1-0.3 2.2-2.3 2.1-0.6 2.1-0.9 2.1-0.6 2.2-1 2.1-0.7 2.1-1.6 2.2-0.9 2.1-0.4 2.1-0.9 2.1-0.9 2.2-0.9 2.1-0.6 2.1-0.7 2.2-0.8 2.1-0.8 2.1-0.7 2.1-0.7 2.2-1.2 2.1-0.6 2.1-0.9 2.2-0.1 2.1-1.3 2.1-0.4 2.1-0.6 2.2-0.5 2.1-0.7 2.1-0.8 2.2-1 2.1-0.6 2.1-1.9 2.1 0 2.2-0.8 2.1-0.8 2.1-0.6 2.1-1 2.2-1.9 2.1 0 2.1-3.2 2.2-1.3 2.1 0.6 2.1-3.1 2.1-1.3 2.2-1.4 2.1-1.1 2.1-2 2.2 0.4 2.1-1.6 2.1-2.1 2.1-1 2.2-0.2 2.1-3.1M30.3 537.3l2.1-2.2 2.2-0.7 2.1-1.3 2.1-2.4 2.1-2.4 2.2 0.8 2.1-3.2 2.1-1 2.2-1.4 2.1-1.6 2.1-0.4 2.1-2.3 2.2 0.2 2.1-1.7 2.1-1.8 2.2-1.3 2.1 0.2 2.1-0.7 2.1-2 2.2-0.8 2.1-1 2.1-0.5 2.1-0.4 2.2-1.8 2.1-0.7 2.1-0.6 2.2-1.5 2.1-0.2 2.1-1.1 2.1-0.3 2.2-0.3 2.1-1.1 2.1-0.8 2.2-0.9 2.1-0.9 2.1-0.2 2.1-1.2 2.2-0.5 2.1-1 2.1-0.6 2.2-0.3 2.1-1.3 2.1-0.5 2.1-1.1 2.2-1.3 2.1 0.2 2.1-1.8 2.2 0 2.1-1.3 2.1-0.8 2.1-0.5 2.2-1.6 2.1-0.7 2.1-1.7 2.1-0.2 2.2-1.1 2.1-2.2 2.1-0.9 2.2-1.1 2.1-1.1 2.1-1.5 2.1-0.9 2.2-1.7 2.1-0.3 2.1-2.5 2.2-0.7 2.1-1.4 2.1-2.4 2.1-2.4 2.2-1.1 2.1-2.9M30.3 537.1l2.1-0.2 2.2-2.5 2.1-1.4 2.1-2.5 2.1-0.4 2.2-3 2.1-1.3 2.1-1.5 2.2-2.8 2.1 0.5 2.1-1.4 2.1-0.7 2.2-1.7 2.1-1.6 2.1-0.6 2.2-0.1 2.1-0.1 2.1-1.8 2.1 0.1 2.2-1.4 2.1-1.1 2.1-0.8 2.1-1.5 2.2-0.8 2.1-0.8 2.1-1.4 2.2-0.5 2.1-1.5 2.1-0.7 2.1-0.5 2.2-1 2.1-0.5 2.1-0.8 2.2-0.9 2.1-0.5 2.1-1.1 2.1-1.1 2.2 0.4 2.1-2.1 2.1 0.7 2.2-0.5 2.1-0.7 2.1-1 2.1-0.9 2.2-0.1 2.1-1.5 2.1-1.3 2.2-0.1 2.1-1.4 2.1-1.2 2.1-1.7 2.2 0 2.1-1.6 2.1-1.1 2.1-0.9 2.2-0.9 2.1-1.7 2.1-1.4 2.2 0.1 2.1-1.8 2.1-1.7 2.1-1.2 2.2-1.2 2.1-2.2 2.1-0.8 2.2 0.4 2.1-3.5 2.1 0.3 2.1-1.4 2.2-3.2 2.1-0.6M30.3 539.6l2.1-3.4 2.2-0.5 2.1-2.7 2.1 0.1 2.1-1.7 2.2-0.7 2.1-2.3 2.1-2.6 2.2-0.8 2.1-0.8 2.1-2.5 2.1-0.5 2.2-1.5 2.1-0.9 2.1-0.8 2.2-1.2 2.1-1.3 2.1-1.4 2.1-0.7 2.2-1.2 2.1-0.1 2.1-0.7 2.1-2 2.2-0.9 2.1-1.1 2.1-0.4 2.2-1.3 2.1-0.5 2.1-1.2 2.1-0.8 2.2-0.8 2.1-0.9 2.1-0.7 2.2-0.8 2.1-0.9 2.1-0.9 2.1-0.5 2.2-0.9 2.1-0.8 2.1-1.2 2.2-1 2.1 0.2 2.1-1.5 2.1-0.8 2.2-1.5 2.1 1 2.1-1.8 2.2-0.3 2.1-2.5 2.1-0.3 2.1-1 2.2-0.6 2.1-0.7 2.1-0.9 2.1-0.3 2.2 0.1 2.1-2.5 2.1-0.9 2.2-0.9 2.1-1.4 2.1-2.8 2.1-0.2 2.2-1.4 2.1-3 2.1-2.3 2.2 0.4 2.1-1.8 2.1-1.5 2.1-2.7 2.2-1.6 2.1-2.2M30.3 539.8l2.1-1.8 2.2-1.9 2.1-0.8 2.1-3.3 2.1-1.5 2.2 0.9 2.1-2.3 2.1-0.5 2.2-1.8 2.1-0.6 2.1-1.9 2.1-1.6 2.2-1.1 2.1-0.3 2.1-0.9 2.2-1.3 2.1-2.9 2.1-0.4 2.1-1.3 2.2-1.9 2.1 0.1 2.1-1.8 2.1-0.6 2.2-1.4 2.1-0.2 2.1-1.6 2.2-1.1 2.1-1 2.1-0.5 2.1-1.2 2.2-1.1 2.1-0.6 2.1-0.9 2.2-0.8 2.1-0.9 2.1-0.7 2.1-1 2.2-0.6 2.1-1.3 2.1-0.7 2.2-1.2 2.1-1.3 2.1-0.2 2.1-0.7 2.2-0.6 2.1-1.1 2.1-1.1 2.2 0 2.1-0.2 2.1-0.8 2.1-2.2 2.2-0.6 2.1-1 2.1 0.4 2.1-1.7 2.2-0.5 2.1-1.4 2.1-1.6 2.2-1.2 2.1-2.9 2.1 0.6 2.1-2 2.2-1.4 2.1-2.3 2.1-2.2 2.2-0.5 2.1-1.1 2.1-2.9 2.1-2.6 2.2-0.7 2.1-3.7M30.3 541.8l2.1-1.9 2.2-2.2 2.1-3.4 2.1-1.4 2.1-0.6 2.2-0.8 2.1-0.7 2.1-2.4 2.2-2.1 2.1-1.5 2.1-1.4 2.1-0.7 2.2-2.2 2.1-1 2.1-1.9 2.2-0.9 2.1-1.4 2.1-0.9 2.1-0.6 2.2-1.8 2.1 0.1 2.1-1.8 2.1-0.4 2.2-0.9 2.1-1.2 2.1-0.7 2.2-0.7 2.1-1 2.1-0.8 2.1-1.3 2.2-0.9 2.1-0.7 2.1-0.8 2.2-0.9 2.1-1 2.1-0.4 2.1-0.8 2.2-1.3 2.1-0.4 2.1-1.2 2.2-0.3 2.1-0.4 2.1-1.4 2.1-0.8 2.2-1 2.1-0.4 2.1-1.1 2.2-2.2 2.1 0.4 2.1-2.1 2.1 0.5 2.2-1.7 2.1-1.2 2.1-1.4 2.1-0.6 2.2-0.7 2.1-1.8 2.1-0.1 2.2-0.6 2.1-2.1 2.1-3.6 2.1-0.9 2.2-2.3 2.1-0.6 2.1-0.1 2.2-2 2.1-2.8 2.1-0.8 2.1-1.8 2.2-1.8 2.1-2.2M30.3 539.9l2.1-1.8 2.2-0.9 2.1-1.2 2.1-2.5 2.1-1 2.2-0.8 2.1-1.3 2.1-1.9 2.2-2.2 2.1-1.4 2.1-0.8 2.1-1.9 2.2-1.7 2.1-1.1 2.1-1.6 2.2-0.7 2.1-1.3 2.1-1.7 2.1-1 2.2-0.6 2.1-2.1 2.1 0.3 2.1-1.2 2.2-0.7 2.1-0.6 2.1-1.3 2.2-1 2.1-0.6 2.1-1 2.1-1.5 2.2 0 2.1-1 2.1-1 2.2-0.8 2.1-0.6 2.1-0.8 2.1-0.8 2.2-0.7 2.1-0.8 2.1-1.4 2.2-0.3 2.1-0.6 2.1-1.3 2.1-1 2.2-0.3 2.1-1.3 2.1-0.9 2.2-1.9 2.1-1.5 2.1-0.6 2.1-2 2.2 0 2.1-1.2 2.1-1.1 2.1-1.1 2.2-1.9 2.1 0.9 2.1-2.1 2.2-0.7 2.1-1.9 2.1 0.6 2.1-1.5 2.2-3.5 2.1-1.2 2.1-1.5 2.2-0.7 2.1-2.6 2.1-0.9 2.1-0.8 2.2-2.5 2.1-1.7M30.3 540.6l2.1-0.3 2.2-3.3 2.1-2.1 2.1-1.6 2.1-0.7 2.2-0.2 2.1-3.8 2.1-0.7 2.2-2.4 2.1 0.4 2.1-2.6 2.1-0.5 2.2-0.6 2.1-1.8 2.1-1.4 2.2-1.8 2.1-1.2 2.1-1.4 2.1-0.9 2.2-0.5 2.1-1 2.1-1.2 2.1-0.7 2.2-0.4 2.1-0.7 2.1-2 2.2-0.7 2.1-1.5 2.1-0.2 2.1-1.4 2.2-0.7 2.1-1 2.1-0.9 2.2-0.9 2.1-0.8 2.1-0.6 2.1-0.9 2.2-0.8 2.1-0.8 2.1-0.8 2.2-0.6 2.1-0.7 2.1-1.1 2.1-0.2 2.2-2 2.1-1 2.1 0.6 2.2-2.1 2.1-1.7 2.1 0.1 2.1-2.6 2.2-1.3 2.1-0.7 2.1-1.3 2.1-0.3 2.2-1.7 2.1-1.1 2.1-0.8 2.2-1.6 2.1-0.3 2.1-1.9 2.1-3.4 2.2-1.7 2.1-0.2 2.1-1 2.2-1.1 2.1-3.9 2.1-0.7 2.1-2.7 2.2-1 2.1-2.3M30.3 541.8l2.1-3.2 2.2-0.4 2.1-1.6 2.1-2.9 2.1 1.4 2.2-4.7 2.1-0.9 2.1-0.8 2.2-2.2 2.1-0.6 2.1-1.9 2.1-0.9 2.2-1.6 2.1-0.1 2.1-1.3 2.2-2.6 2.1-0.3 2.1-0.9 2.1-0.8 2.2-1.4 2.1-1.6 2.1-0.5 2.1-1.8 2.2-1 2.1-0.4 2.1-1.9 2.2-1.4 2.1-0.3 2.1-1 2.1-1 2.2-0.6 2.1-0.7 2.1-1.1 2.2-0.8 2.1-0.7 2.1-1.2 2.1-0.5 2.2-0.5 2.1-0.7 2.1-1.6 2.2-0.5 2.1 0.2 2.1-1.9 2.1-0.5 2.2-1 2.1-1.9 2.1-0.9 2.2-0.3 2.1-1.6 2.1-1.5 2.1-0.7 2.2-1.4 2.1-0.4 2.1-2.3 2.1-1.2 2.2 0.3 2.1-0.6 2.1-1.8 2.2-2.2 2.1-0.8 2.1-1.3 2.1-1.6 2.2-0.4 2.1-2.7 2.1-1.7 2.2-1.4 2.1-2.9 2.1-0.7 2.1-1.9 2.2-2.9 2.1-1.8M30.3 541.9l2.1-1.2 2.2-1.8 2.1-3.3 2.1-1.6 2.1-0.7 2.2-2 2.1-1 2.1-2.4 2.2 0.4 2.1-2.9 2.1 0 2.1-2 2.2-1 2.1-2 2.1-2 2.2-1.1 2.1-0.4 2.1-1.8 2.1-1.4 2.2-2 2.1 0.3 2.1-1 2.1-0.7 2.2-1.1 2.1-1.1 2.1-0.3 2.2-1.8 2.1-0.8 2.1-0.8 2.1-0.9 2.2-1.4 2.1-0.2 2.1-1 2.2-1.2 2.1-0.4 2.1-1.1 2.1-0.7 2.2-0.5 2.1-0.7 2.1-1 2.2-1 2.1-0.9 2.1-0.9 2.1-0.7 2.2-0.9 2.1-1.3 2.1-0.5 2.2-0.7 2.1-2.3 2.1 0.5 2.1-2.6 2.2-1.5 2.1 0.5 2.1-0.5 2.1-2 2.2-1.9 2.1-0.5 2.1-2.7 2.2-1.2 2.1-0.3 2.1-2.9 2.1 0 2.2-2.4 2.1-2.2 2.1-2.5 2.2-1.3 2.1-2.3 2.1 0.7 2.1-5.6 2.2 1.6 2.1-2.9M30.3 543.7l2.1-2.6 2.2-1.5 2.1-1 2.1-2.7 2.1-0.2 2.2-2 2.1-2.1 2.1-0.5 2.2-2 2.1-1.9 2.1-2 2.1-1.2 2.2-1.3 2.1-1.1 2.1-0.4 2.2-1.7 2.1-1.3 2.1-1.5 2.1-1.4 2.2-0.8 2.1-1.4 2.1-1.8 2.1-0.3 2.2-0.3 2.1-1.8 2.1-1 2.2-1 2.1-1.8 2.1-0.6 2.1-1.2 2.2-0.4 2.1-1.3 2.1-0.8 2.2-0.9 2.1-0.8 2.1-1.1 2.1-0.4 2.2-1.8 2.1-1.5 2.1-0.5 2.2 0.5 2.1-1.8 2.1-0.4 2.1-1 2.2-1 2.1-1.6 2.1-0.8 2.2-0.1 2.1-1.9 2.1-0.8 2.1-2.3 2.2 0.9 2.1-2 2.1-0.6 2.1-1.7 2.2 0.2 2.1-1.9 2.1-1.6 2.2-0.8 2.1-0.9 2.1-1.8 2.1-1 2.2-1.1 2.1-2.1 2.1-1.9 2.2-2.1 2.1-0.3 2.1-3.3 2.1-3.5 2.2-0.1 2.1-3.7M30.3 544.5l2.1-1.9 2.2-2.8 2.1-3.1 2.1-2.1 2.1-0.5 2.2-1.5 2.1-1.4 2.1-1.7 2.2-1.1 2.1-2.6 2.1 0.3 2.1-1.9 2.2-0.8 2.1-2.3 2.1-1.9 2.2-0.6 2.1-1.1 2.1-1.2 2.1-1.6 2.2-0.6 2.1-2.3 2.1-1.1 2.1-0.7 2.2-0.9 2.1-0.4 2.1-1.9 2.2 0.3 2.1-1.3 2.1-1.8 2.1-0.2 2.2-0.9 2.1-0.8 2.1-1.3 2.2-1 2.1-0.7 2.1-0.5 2.1-1.2 2.2-0.6 2.1-1.4 2.1-1.1 2.2-0.5 2.1-0.9 2.1-1.5 2.1-1.1 2.2 0.3 2.1-1.9 2.1-0.3 2.2-1.3 2.1-2.2 2.1 0.2 2.1-1.6 2.2-1.9 2.1-0.5 2.1 0.4 2.1-2 2.2-0.9 2.1-0.6 2.1-3.2 2.2 0 2.1-1.5 2.1-2.5 2.1-1.2 2.2-0.9 2.1-3.1 2.1-2.5 2.2-1.9 2.1-2.8 2.1-1.8 2.1-1.4 2.2-1.1 2.1-1.7M30.3 544.4l2.1-0.6 2.2-3.4 2.1-2.3 2.1-0.7 2.1-2.6 2.2-2.6 2.1-0.8 2.1-0.9 2.2-1.1 2.1-1.5 2.1-3.5 2.1-0.7 2.2-1.5 2.1-1.4 2.1-1 2.2-2.7 2.1-0.5 2.1-1.5 2.1 0.5 2.2-1.9 2.1-1 2.1-0.1 2.1-1.2 2.2-1 2.1-1.9 2.1-0.7 2.2-0.7 2.1-1.6 2.1-0.6 2.1-1.3 2.2-0.9 2.1-0.8 2.1-1.2 2.2-0.8 2.1-0.5 2.1-1.2 2.1-1.2 2.2 0.3 2.1-1.8 2.1-0.6 2.2-0.2 2.1-1.4 2.1-0.4 2.1-0.8 2.2-2 2.1-1.1 2.1-0.1 2.2-1.9 2.1-1.5 2.1-0.4 2.1-2.8 2.2-0.1 2.1-1.9 2.1-1.3 2.1-0.2 2.2-2 2.1-1.1 2.1-1.5 2.2-0.8 2.1-2.5 2.1-1.3 2.1-2.2 2.2-1.2 2.1 0.2 2.1-2.1 2.2-2.4 2.1-2 2.1-0.2 2.1-2.2 2.2-1.9 2.1-1.4M30.3 547.5l2.1-3.3 2.2-0.9 2.1-3.1 2.1-2.7 2.1-1.5 2.2-1.8 2.1-2.1 2.1-1 2.2-2.8 2.1-1.4 2.1-2.1 2.1-0.3 2.2-1.8 2.1-0.3 2.1-1.9 2.2-0.4 2.1-2 2.1-1 2.1-1.9 2.2 0.3 2.1-2.2 2.1-1.2 2.1-1.6 2.2-0.5 2.1-1.2 2.1-1.7 2.2-0.3 2.1-1 2.1-1.5 2.1 0 2.2-1.6 2.1-0.9 2.1-1 2.2-0.7 2.1-0.8 2.1-1 2.1-0.8 2.2-1.4 2.1-0.5 2.1-1.6 2.2-0.4 2.1-1.2 2.1-0.3 2.1-1 2.2-1.3 2.1-1.1 2.1-0.2 2.2-2 2.1-0.1 2.1-2.1 2.1 0.5 2.2-1.8 2.1-2 2.1-1 2.1-1.2 2.2-2.5 2.1-1.9 2.1-0.8 2.2-2.6 2.1-0.8 2.1-1.4 2.1-3.2 2.2-0.2 2.1-1.5 2.1-2.5 2.2 0 2.1-1.5 2.1-2.1 2.1-2 2.2-2.5 2.1-1M30.3 548.1l2.1-2.5 2.2-3.7 2.1-2.7 2.1-3 2.1 0.6 2.2-3 2.1-0.9 2.1-3 2.2-0.5 2.1-2.1 2.1-0.3 2.1-2.1 2.2-1 2.1-0.8 2.1-2.5 2.2-0.7 2.1-0.4 2.1-2.6 2.1-0.8 2.2-2.3 2.1-1.7 2.1-0.5 2.1-1.2 2.2-0.2 2.1-1.3 2.1-1 2.2-1.9 2.1-0.2 2.1-1.2 2.1-0.4 2.2-1.3 2.1-1.1 2.1-0.9 2.2-1 2.1-1 2.1-0.9 2.1-0.5 2.2-0.8 2.1-1.4 2.1-1 2.2 0 2.1-1.7 2.1 0 2.1-1.5 2.2-1.8 2.1 0.4 2.1-2 2.2-1 2.1-0.8 2.1-2.3 2.1-0.2 2.2-1.3 2.1-0.9 2.1-2 2.1-1.2 2.2-1.6 2.1 0.1 2.1-0.7 2.2-2.9 2.1 0.2 2.1-2.6 2.1-2.4 2.2-1.3 2.1-0.1 2.1-2.8 2.2-2.5 2.1-3.7 2.1-1 2.1-3.6 2.2-1.7 2.1-2.1M30.3 548.2l2.1-4.3 2.2 0.5 2.1-2.6 2.1-1.2 2.1-1.7 2.2-1.5 2.1-1.1 2.1-1.8 2.2-2.9 2.1-1.3 2.1-3.7 2.1-0.7 2.2-2.7 2.1-0.5 2.1-2.3 2.2-0.6 2.1-1 2.1-1.6 2.1-1.1 2.2-2.5 2.1 1 2.1-1.4 2.1-1.7 2.2-0.8 2.1-1.3 2.1-1.4 2.2-0.8 2.1-1 2.1-1 2.1-1.4 2.2-1.2 2.1-0.9 2.1-1 2.2-0.8 2.1-1.1 2.1-0.7 2.1-0.5 2.2-1.6 2.1-0.5 2.1-1.3 2.2-0.4 2.1-0.5 2.1-1.2 2.1-1.4 2.2-0.9 2.1-1.4 2.1-1.7 2.2-0.9 2.1-1.5 2.1-0.8 2.1-0.8 2.2-0.9 2.1-0.2 2.1-2.8 2.1-1.4 2.2 0.3 2.1-1.2 2.1-1.4 2.2-2.3 2.1-1.5 2.1-1.5 2.1-2.1 2.2-0.7 2.1-3.3 2.1-2.1 2.2-2.6 2.1-1.1 2.1-2.2 2.1-2.6 2.2-4.2 2.1 1M30.3 547.9l2.1-3 2.2-2.3 2.1-0.4 2.1-2.5 2.1-1.2 2.2-2.9 2.1 0.9 2.1-4.8 2.2 0.2 2.1-0.2 2.1-3.3 2.1-0.8 2.2-2.2 2.1-1.7 2.1-2.1 2.2 0.4 2.1-2.8 2.1-1.8 2.1 0.1 2.2-2.3 2.1-1.2 2.1-0.4 2.1-0.5 2.2-2.1 2.1-0.8 2.1-1.9 2.2-0.4 2.1-1.5 2.1-1 2.1-1.1 2.2-0.9 2.1-1.3 2.1-1.2 2.2-1 2.1-0.9 2.1-1.2 2.1-0.9 2.2-1.2 2.1-0.8 2.1-1.1 2.2-0.6 2.1-0.5 2.1-2.1 2.1-1 2.2-1 2.1-0.4 2.1-2.2 2.2-0.7 2.1-1.4 2.1-0.8 2.1-1.6 2.2-1.3 2.1-2.1 2.1-0.7 2.1-1.9 2.2-1 2.1-0.8 2.1-2.3 2.2-1.4 2.1-1.3 2.1 0.9 2.1-4.7 2.2-0.8 2.1-0.9 2.1-4.4 2.2-0.4 2.1-2.7 2.1-1.8 2.1-0.1 2.2-5.5 2.1-0.2M30.3 550.9l2.1-1.3 2.2-3.8 2.1-1.3 2.1-2.3 2.1-4.1 2.2-1.1 2.1-0.8 2.1-2.6 2.2-0.1 2.1-2.2 2.1-1.8 2.1-1 2.2-1.2 2.1-2.5 2.1-0.6 2.2-1.4 2.1-1.8 2.1-1.6 2.1-2.4 2.2-1.3 2.1-0.5 2.1-2.9 2.1-1.1 2.2-0.5 2.1-0.8 2.1-1.5 2.2-0.8 2.1-1.4 2.1-0.8 2.1-1.5 2.2-0.4 2.1-1.4 2.1-1.2 2.2-1 2.1-1 2.1-0.8 2.1-2 2.2-0.5 2.1-1.3 2.1-0.5 2.2-1 2.1-1.1 2.1-1.6 2.1-0.8 2.2-1.3 2.1-0.7 2.1-1 2.2-0.3 2.1-1 2.1-2.6 2.1-0.3 2.2-2.3 2.1-0.8 2.1-1.1 2.1-2.2 2.2-0.7 2.1-1.7 2.1-2.1 2.2-0.5 2.1-2.4 2.1-0.4 2.1-2.4 2.2-0.8 2.1-4 2.1 0.5 2.2-4.4 2.1-2.7 2.1 0.4 2.1-3.3 2.2-2.5 2.1-3.7M30.3 551.3l2.1-3.2 2.2 0.4 2.1-2.8 2.1-2.8 2.1-2.3 2.2-3.2 2.1-1.5 2.1-0.8 2.2-2.7 2.1-1 2.1-2 2.1-1.8 2.2-0.8 2.1-2.6 2.1-1.9 2.2-0.1 2.1-0.1 2.1-3.2 2.1-1.8 2.2-0.2 2.1-1.8 2.1-1.8 2.1-0.9 2.2-1.8 2.1-0.9 2.1-0.7 2.2-1.2 2.1-1.2 2.1-1 2.1-1.7 2.2-0.9 2.1-1 2.1-1.2 2.2-1 2.1-1.2 2.1-1.3 2.1-0.7 2.2-0.8 2.1-0.9 2.1-2.1 2.2-0.5 2.1-0.5 2.1-1.1 2.1-0.4 2.2-2.2 2.1-0.5 2.1-0.7 2.2-0.5 2.1-3.4 2.1-0.2 2.1 0 2.2-2.5 2.1-1.9 2.1-1.6 2.1-0.6 2.2-3 2.1-1.1 2.1-1 2.2-0.8 2.1-0.6 2.1-2.6 2.1-2 2.2-1 2.1-3.2 2.1-2.5 2.2-1.2 2.1-2.3 2.1-2.6 2.1-3.8 2.2-2 2.1 0.6M30.3 551.4l2.1-2.9 2.2-2.7 2.1-1.7 2.1-2 2.1-3.2 2.2-0.5 2.1-3 2.1-0.2 2.2-1.9 2.1-2.3 2.1-1.4 2.1-1.9 2.2-0.9 2.1-1.5 2.1-1.2 2.2-0.8 2.1-2.3 2.1-2.3 2.1-0.8 2.2-1.7 2.1-1.9 2.1-0.3 2.1-2 2.2-0.9 2.1-2 2.1-0.1 2.2-1.7 2.1-1 2.1-1.2 2.1-1 2.2-1.6 2.1-0.6 2.1-1 2.2-0.9 2.1-1 2.1-1 2.1-0.8 2.2-1.5 2.1-0.6 2.1-0.9 2.2-1.1 2.1-0.6 2.1-0.8 2.1-1.2 2.2-1.5 2.1-0.9 2.1-0.7 2.2-2.6 2.1-0.6 2.1-1.5 2.1-2 2.2 0.2 2.1-2.8 2.1-1.1 2.1-1.6 2.2-0.4 2.1-2.1 2.1-2.3 2.2-1.7 2.1-2.9 2.1-0.3 2.1-2.2 2.2-1.3 2.1-0.9 2.1-2.6 2.2-2.3 2.1-3.3 2.1-1.6 2.1-0.5 2.2-1.8 2.1-3.1M30.3 553.2l2.1-0.5 2.2-4.6 2.1-2.4 2.1-4 2.1 0.5 2.2-4.1 2.1-0.8 2.1-2.5 2.2-0.5 2.1-2.4 2.1-1.9 2.1-2.8 2.2 0.6 2.1-2.3 2.1-1.8 2.2-1.4 2.1-2 2.1-1.7 2.1-1.2 2.2-0.5 2.1-2.3 2.1-0.2 2.1-1.7 2.2-1.6 2.1 0 2.1-1.7 2.2-1.3 2.1-1.1 2.1-1.2 2.1-1.4 2.2-1.4 2.1-0.8 2.1-1.3 2.2-1.2 2.1-0.9 2.1-0.9 2.1-1.5 2.2-1 2.1-1 2.1-0.5 2.2-0.6 2.1-1.8 2.1-0.9 2.1-1 2.2-0.6 2.1-1.7 2.1-1 2.2-1.5 2.1-2.3 2.1-1.7 2.1-1.6 2.2-1 2.1-2.5 2.1 1 2.1-2.6 2.2 0.3 2.1-2.1 2.1 0.1 2.2-3.9 2.1-1.2 2.1 0.3 2.1-4.6 2.2-1.6 2.1-3.1 2.1-1.8 2.2-2.3 2.1-1.1 2.1-2.9 2.1-2.4 2.2-0.3 2.1-2.5M30.3 551.2l2.1-0.6 2.2-3.9 2.1-1 2.1-1.2 2.1-3.8 2.2-1.7 2.1-0.1 2.1-2.8 2.2-1.7 2.1-1 2.1-3.5 2.1-0.3 2.2-1.6 2.1-2.5 2.1-1.8 2.2-1.6 2.1-1.7 2.1-1 2.1-2.5 2.2-0.2 2.1-2.5 2.1-0.9 2.1-0.5 2.2-1 2.1-1 2.1-1.4 2.2-1.8 2.1-0.7 2.1-0.9 2.1-1.9 2.2-0.7 2.1-1.2 2.1-1.5 2.2-1 2.1-1.2 2.1-1.1 2.1-1.1 2.2-1.2 2.1-1.1 2.1-1.6 2.2 0.3 2.1-0.3 2.1-1.9 2.1-0.4 2.2-1.8 2.1-0.3 2.1-1.8 2.2-1.9 2.1-0.4 2.1-1.3 2.1-2.5 2.2-0.6 2.1-2.1 2.1-1.6 2.1-0.9 2.2-3.2 2.1-0.1 2.1-3 2.2-1.2 2.1-0.4 2.1-2.1 2.1-2.7 2.2-0.8 2.1-3.9 2.1 0.7 2.2-4.1 2.1 0.3 2.1-3.6 2.1-3.7 2.2 0.2 2.1-4.7M30.3 554.5l2.1-2.1 2.2-0.7 2.1-5.6 2.1-2.8 2.1-0.7 2.2-1.4 2.1-1.5 2.1-3 2.2-1.9 2.1-1 2.1-2.5 2.1-2.5 2.2-1.4 2.1-1.5 2.1-1.8 2.2-1 2.1-2 2.1-1.6 2.1-1 2.2-1.8 2.1-1.9 2.1-1.4 2.1 0.4 2.2-1.6 2.1-2.4 2.1-0.9 2.2-1.2 2.1-0.5 2.1-1.6 2.1-1.3 2.2-1.1 2.1-1 2.1-1.2 2.2-1.2 2.1-1 2.1-1.3 2.1 0 2.2-1.6 2.1-1.7 2.1-0.2 2.2-1.6 2.1-1.8 2.1 0 2.1-1.9 2.2-2.1 2.1 0.5 2.1-0.9 2.2-3.1 2.1-0.4 2.1-1.6 2.1-1.4 2.2-2.2 2.1-0.3 2.1-2.3 2.1-1.3 2.2-0.9 2.1-2.2 2.1-1 2.2-1.3 2.1-4.1 2.1 2.3 2.1-2.5 2.2-2 2.1-2.5 2.1-2.7 2.2-1.9 2.1-4.6 2.1 0.1 2.1-2 2.2-3.7 2.1-2.3M30.3 554.4l2.1-1.9 2.2-1.5 2.1-3.7 2.1-1.3 2.1-3.8 2.2-1.9 2.1-2 2.1-3.9 2.2-0.7 2.1 0.7 2.1-3.9 2.1-1.4 2.2-1.7 2.1-1.2 2.1-2.6 2.2 1 2.1-2.5 2.1-2.7 2.1-1.1 2.2-1.8 2.1-0.6 2.1-1.2 2.1-2 2.2-0.9 2.1-0.3 2.1-2.4 2.2-0.4 2.1-2 2.1-0.9 2.1-1.3 2.2-1.3 2.1-0.8 2.1-1.5 2.2-1 2.1-0.9 2.1-1.1 2.1-0.9 2.2-1.2 2.1-1.2 2.1-0.7 2.2-1.9 2.1-0.7 2.1-0.7 2.1-2 2.2-1.4 2.1-0.2 2.1-2.4 2.2-1 2.1-1.8 2.1-1.2 2.1-1.9 2.2-1.4 2.1 0.2 2.1-3.2 2.1-1.9 2.2-1.8 2.1-2 2.1-0.9 2.2-2.4 2.1-1.3 2.1-0.6 2.1-1.5 2.2-3.4 2.1-1.3 2.1 0.3 2.2-2.5 2.1-4 2.1-1.2 2.1-0.3 2.2-4.4 2.1-2.9M30.3 553.6l2.1-4.8 2.2-2.5 2.1 0.3 2.1-1 2.1-3.1 2.2-1.7 2.1-1.8 2.1-0.6 2.2-3.1 2.1-1.3 2.1-2.3 2.1-0.5 2.2-2.9 2.1-0.8 2.1-1.9 2.2-1.7 2.1-1.6 2.1-1.4 2.1-1.5 2.2-1.3 2.1-1.3 2.1-1.5 2.1-1.5 2.2-2.5 2.1-0.9 2.1-0.7 2.2-1 2.1-2.3 2.1-0.9 2.1-1.3 2.2-1.4 2.1-0.5 2.1-1.4 2.2-1.2 2.1-1.4 2.1-0.7 2.1-1.1 2.2-1 2.1-1 2.1-1 2.2-0.7 2.1-0.9 2.1-1.3 2.1-1.6 2.2-1.5 2.1-0.7 2.1-1.1 2.2-2.3 2.1-1 2.1-1.6 2.1-0.8 2.2-1.3 2.1-2.1 2.1-1 2.1-2.6 2.2-0.1 2.1-2.7 2.1-1.6 2.2-1.1 2.1-2.6 2.1-1.5 2.1-2.7 2.2-2.2 2.1-4.7 2.1 1.2 2.2-3.5 2.1-0.9 2.1-2.7 2.1-1.2 2.2-1.5 2.1-4.3M30.3 555.8l2.1-2.1 2.2-2.7 2.1-3.6 2.1-0.3 2.1-3.8 2.2-2.9 2.1 2 2.1-4.4 2.2-3.4 2.1-1.2 2.1-1.3 2.1-3.5 2.2-1.4 2.1-0.1 2.1-3.5 2.2-1 2.1-1.8 2.1-0.7 2.1-2.6 2.2-1.1 2.1-0.8 2.1-1.6 2.1-2.2 2.2-1.2 2.1 0.3 2.1-2.1 2.2-0.8 2.1-1 2.1-1.4 2.1-1.5 2.2-0.9 2.1-0.9 2.1-1.3 2.2-1.2 2.1-1.1 2.1-0.8 2.1-1 2.2-1.1 2.1-1.2 2.1 0 2.2-2.5 2.1-0.6 2.1-1.1 2.1-0.6 2.2-2 2.1-2.3 2.1 0.1 2.2-0.8 2.1-2.7 2.1-1.2 2.1-1.5 2.2-0.6 2.1-3 2.1-1.8 2.1 2.1 2.2-5.1 2.1-2.1 2.1-0.4 2.2-0.8 2.1-3.6 2.1-3.5 2.1-0.3 2.2-3.6 2.1-0.2 2.1-1.5 2.2-1.6 2.1-4.1 2.1 0.4 2.1-3 2.2-2.5 2.1-3.1M30.3 556.2l2.1-3.2 2.2-1.7 2.1-4.1 2.1-2.2 2.1-1.5 2.2-3 2.1-1.2 2.1-1.9 2.2-3.1 2.1-1 2.1-1.3 2.1-3.6 2.2-0.4 2.1-2.2 2.1-2.3 2.2 0.3 2.1-2.2 2.1-2.4 2.1-0.6 2.2-1.4 2.1-1.5 2.1-1.2 2.1-1.3 2.2-1.7 2.1-1 2.1-1.9 2.2-0.6 2.1-1.7 2.1-0.6 2.1-1.7 2.2-0.6 2.1-1.5 2.1-1 2.2-1.3 2.1-0.6 2.1-1.1 2.1-1.3 2.2-0.7 2.1-1.9 2.1-0.5 2.2-1.4 2.1-1.4 2.1-1 2.1-0.4 2.2-0.9 2.1-1 2.1-1.6 2.2-1.4 2.1-1.3 2.1-2.2 2.1-0.2 2.2-1.3 2.1-2.8 2.1-2.9 2.1 0.4 2.2-2.4 2.1-1.8 2.1-2.7 2.2-1.6 2.1-0.8 2.1-3 2.1-1.1 2.2-2.6 2.1-2.9 2.1 1.6 2.2-2.8 2.1-2.3 2.1-2.4 2.1-3.7 2.2-2.5 2.1-4.2M30.3 554.7l2.1-1.3 2.2-2.8 2.1-2.1 2.1-1.8 2.1-2 2.2-2.6 2.1-1.9 2.1-1.1 2.2-4.3 2.1-2 2.1-1.9 2.1-1.6 2.2-0.9 2.1-1.3 2.1-1.8 2.2-1.3 2.1-2.6 2.1-0.7 2.1-2.6 2.2-1.5 2.1-0.9 2.1-1.3 2.1-1.4 2.2-1.5 2.1-0.8 2.1-2.1 2.2 0 2.1-1.3 2.1-1.3 2.1-1.3 2.2-1.3 2.1-1.3 2.1-1.1 2.2-1.3 2.1-0.5 2.1-1.5 2.1-1 2.2-0.6 2.1-1.1 2.1-1.7 2.2-1.6 2.1-0.8 2.1-1 2.1-1 2.2-1.1 2.1-1.3 2.1-1.9 2.2-1.6 2.1-1 2.1-0.7 2.1-2.2 2.2-1.9 2.1 0.5 2.1-3.1 2.1-1 2.2-2.1 2.1-0.7 2.1-1.8 2.2-2.5 2.1-1.5 2.1-1.8 2.1-1.6 2.2-3 2.1-2.5 2.1-0.3 2.2-3.2 2.1-1.5 2.1-3 2.1-3.2 2.2-1.6 2.1-2.2M30.3 558.9l2.1-5.3 2.2-1.6 2.1-3.9 2.1-0.1 2.1-2.7 2.2-1.6 2.1-3.6 2.1-0.8 2.2-3.3 2.1-3.1 2.1-1.5 2.1-2.1 2.2-1.1 2.1-2.2 2.1-1 2.2-0.8 2.1-2.7 2.1-1.2 2.1-1 2.2-1.2 2.1-2.7 2.1 0.2 2.1-1.8 2.2-1.9 2.1-1.4 2.1-1 2.2-0.5 2.1-2.3 2.1-0.7 2.1-0.9 2.2-1.9 2.1-1 2.1-1 2.2-1 2.1-1.4 2.1-0.9 2.1-1.4 2.2-1 2.1-0.8 2.1-1.7 2.2-1.1 2.1-0.6 2.1-2.1 2.1-0.9 2.2-1 2.1-1.6 2.1-0.5 2.2-1.3 2.1-1.7 2.1-0.8 2.1-3 2.2-0.6 2.1-1.9 2.1-2.5 2.1-1.5 2.2-2.3 2.1 0.4 2.1-3.9 2.2-0.3 2.1-2.1 2.1-2.3 2.1-1.8 2.2-1.7 2.1-2.2 2.1-2.9 2.2 1.5 2.1-2.5 2.1-2.1 2.1-3.6 2.2-2.1 2.1-2.7M30.3 558.4l2.1-3 2.2-3 2.1-3 2.1-2.1 2.1-2.3 2.2-4.2 2.1-2.3 2.1-0.9 2.2-1.5 2.1-1.8 2.1-1.4 2.1-1.6 2.2-2.4 2.1-1.3 2.1-2.3 2.2-1.1 2.1-1.4 2.1-2 2.1-0.3 2.2-3.3 2.1-1.1 2.1-2.3 2.1-0.4 2.2-1.5 2.1-0.9 2.1-2.5 2.2-0.4 2.1-1.5 2.1-0.7 2.1-1.4 2.2-0.8 2.1-1.4 2.1-1.3 2.2-1 2.1-1.4 2.1-1.1 2.1-1.2 2.2-0.4 2.1-1.2 2.1-1.3 2.2-1.5 2.1-0.3 2.1-1.6 2.1-1.9 2.2-0.8 2.1-1.2 2.1-0.8 2.2-1.9 2.1-2.1 2.1-1.7 2.1 0.3 2.2-2.9 2.1-0.9 2.1-1.1 2.1-3.6 2.2-0.6 2.1-0.3 2.1-1.6 2.2-2.7 2.1-0.5 2.1-3 2.1-2.7 2.2-0.6 2.1-3.6 2.1-2.5 2.2-1.3 2.1-3.2 2.1-2.6 2.1-2 2.2-1.1 2.1-3.7M30.3 557.4l2.1-2.3 2.2-3 2.1-1.6 2.1-2.8 2.1-3.1 2.2-0.3 2.1-3.6 2.1-2.5 2.2-2.4 2.1-1.9 2.1-1.7 2.1-2.5 2.2-2 2.1-1.3 2.1-1.8 2.2-1 2.1-2.1 2.1-1.4 2.1-0.2 2.2-1.3 2.1-1.6 2.1-1.7 2.1-2 2.2-1.4 2.1-1.2 2.1-1 2.2-1.4 2.1-1.4 2.1-1.3 2.1-0.2 2.2-2.1 2.1-1.2 2.1-1.1 2.2-1.3 2.1-1.1 2.1-1 2.1-0.4 2.2-1.8 2.1-0.9 2.1-1.2 2.2-0.1 2.1-1.4 2.1-1.8 2.1-0.7 2.2-2.7 2.1 0.2 2.1-2.4 2.2-1.1 2.1-2.9 2.1 0.3 2.1-2.5 2.2-0.3 2.1-1.2 2.1-2.9 2.1-2.6 2.2-0.5 2.1-3.1 2.1-1.5 2.2-1.3 2.1-1.9 2.1-1.6 2.1-1 2.2-2.3 2.1-2 2.1-0.8 2.2-0.3 2.1-5.1 2.1-1.2 2.1-3.8 2.2-1.4 2.1-4.2M30.3 558.9l2.1-5.4 2.2-2.4 2.1-1.8 2.1-0.7 2.1-4.5 2.2-1.5 2.1-3.4 2.1-0.3 2.2-2.1 2.1-2.8 2.1 0.6 2.1-3.1 2.2-1.8 2.1-0.2 2.1-2.7 2.2-2.5 2.1-1.8 2.1-2.5 2.1-1.1 2.2-0.2 2.1-2.8 2.1-1.2 2.1-1.3 2.2-0.7 2.1-2.7 2.1-1.2 2.2-0.6 2.1-0.8 2.1-1.1 2.1-1.3 2.2-1.8 2.1-0.7 2.1-1.7 2.2-1 2.1-1.2 2.1-1.2 2.1-1.7 2.2-0.7 2.1-0.8 2.1-1.4 2.2-1.1 2.1-1.1 2.1-1.2 2.1-0.5 2.2-1.8 2.1-0.2 2.1-2.6 2.2-0.3 2.1-0.7 2.1-2.6 2.1-1.5 2.2-1.2 2.1-0.6 2.1-2 2.1-3.3 2.2-3.3 2.1-0.5 2.1-2.1 2.2-2.2 2.1-0.8 2.1-3.5 2.1-0.3 2.2-2.3 2.1-1 2.1-1.3 2.2-2.2 2.1-1.7 2.1-2.5 2.1-4 2.2-1.3 2.1-1.8M30.3 558.6l2.1-1.6 2.2-2.6 2.1-3.6 2.1-2.1 2.1-3.4 2.2-3.2 2.1-1.5 2.1-2.9 2.2-3 2.1-0.1 2.1-3.2 2.1 0.1 2.2-1.3 2.1-2.5 2.1-1.2 2.2-0.7 2.1-3.4 2.1-1.3 2.1-0.6 2.2-2.1 2.1-1.8 2.1-1 2.1-2.4 2.2-0.7 2.1-1.2 2.1-2.8 2.2-0.3 2.1-1.2 2.1-1.3 2.1-1 2.2-1.9 2.1-0.7 2.1-1.2 2.2-1.2 2.1-1.3 2.1-0.1 2.1-1.9 2.2-0.9 2.1-1.1 2.1-1.7 2.2-1 2.1-0.2 2.1-2.3 2.1-1.1 2.2-1.9 2.1 0.6 2.1-2.8 2.2-0.9 2.1-1.5 2.1-1 2.1 0.5 2.2-3.3 2.1-0.9 2.1-1 2.1-3.1 2.2-1.1 2.1-3.4 2.1-1.7 2.2-0.5 2.1-3.8 2.1-1.6 2.1-2.2 2.2-2.1 2.1-3.1 2.1-0.3 2.2-3.1 2.1 0 2.1-3.8 2.1-0.5 2.2-2.1 2.1-3.6M30.3 555.4l2.1-1.8 2.2-4.1 2.1-0.2 2.1-1 2.1-2.8 2.2-1.4 2.1-2.3 2.1-1.7 2.2-2.2 2.1-3.2 2.1-1.4 2.1-2.6 2.2-1.1 2.1-2 2.1-1.4 2.2-2.9 2.1-1.7 2.1-0.4 2.1-2 2.2-0.1 2.1-1.6 2.1-2.6 2.1-0.1 2.2-3.7 2.1-0.5 2.1-1.7 2.2-0.5 2.1-0.8 2.1-1.4 2.1-1.3 2.2-1.7 2.1-0.8 2.1-1.4 2.2-1.4 2.1-0.6 2.1-1.3 2.1-1.7 2.2-1.7 2.1 0.3 2.1-0.9 2.2-2 2.1-1.7 2.1-1.1 2.1-0.9 2.2-0.8 2.1-2.3 2.1-0.2 2.2-1 2.1-1.5 2.1-2.1 2.1-0.4 2.2-3.1 2.1 0.5 2.1-2.4 2.1 0.3 2.2-3.1 2.1-2.5 2.1-1.4 2.2-1.9 2.1-2.2 2.1-1.5 2.1-2.3 2.2-2.5 2.1-2.2 2.1-0.7 2.2-3 2.1-1.7 2.1-4.2 2.1-3.4 2.2-1.3 2.1-3.1M30.3 557l2.1-2.2 2.2-3.2 2.1-3.7 2.1-0.5 2.1-3.4 2.2-1.7 2.1 0 2.1-3.5 2.2-2.7 2.1-1.7 2.1-1.5 2.1-1.1 2.2-3 2.1-1.8 2.1-2 2.2-2.6 2.1-0.4 2.1-2.2 2.1-1 2.2-2.7 2.1 0.1 2.1-2.4 2.1 0.8 2.2-1.2 2.1-2.1 2.1-1 2.2-1.9 2.1-1.1 2.1-1.4 2.1-0.8 2.2-1.6 2.1-1.4 2.1-1.1 2.2-1.2 2.1-1.4 2.1-0.9 2.1-1.2 2.2-1.5 2.1-0.9 2.1-0.3 2.2-1.9 2.1-1.1 2.1-1.4 2.1-2.4 2.2-0.7 2.1-0.8 2.1-0.9 2.2-2.4 2.1-1 2.1-2.2 2.1-0.7 2.2-1.9 2.1-0.1 2.1-1.8 2.1-1.6 2.2-0.8 2.1-2.6 2.1-1.1 2.2-2 2.1-1.7 2.1-2.8 2.1-0.9 2.2-4.7 2.1-1.9 2.1-2.6 2.2-3 2.1-1.3 2.1-1.7 2.1-3.8 2.2-0.4 2.1-2.9M30.3 558.5l2.1-2.3 2.2-2.9 2.1-1.5 2.1-2.8 2.1-3 2.2-0.7 2.1-2.9 2.1-4.1 2.2-1.3 2.1-3.1 2.1-0.8 2.1-1.2 2.2-2.7 2.1-0.8 2.1-1.9 2.2-0.8 2.1-1.5 2.1-2 2.1-1.5 2.2-2.2 2.1-1.2 2.1-2.5 2.1-1.8 2.2-1.3 2.1-0.5 2.1-2.4 2.2 0.1 2.1-2 2.1-1.1 2.1-1.3 2.2-0.8 2.1-1.3 2.1-1.5 2.2-1.2 2.1-0.8 2.1-1.3 2.1-1 2.2-0.5 2.1-2.5 2.1-0.5 2.2-1.4 2.1-1.2 2.1-0.2 2.1-2.3 2.2-0.2 2.1-0.7 2.1-2.4 2.2-1.4 2.1-1.1 2.1-2 2.1-3 2.2-1.2 2.1-1.2 2.1-1.5 2.1-3.3 2.2 0.2 2.1-0.3 2.1-4.1 2.2 0 2.1-0.2 2.1-2.4 2.1-1.9 2.2-1.3 2.1-3.6 2.1-2.5 2.2-4.7 2.1-0.9 2.1-2 2.1-2.9 2.2-2.9 2.1-3.3M30.3 558l2.1-1.3 2.2-2.7 2.1-2.9 2.1-3.9 2.1-0.6 2.2-2.6 2.1-2.3 2.1-2.6 2.2-1.3 2.1-2.7 2.1-2.7 2.1-1.3 2.2-1.1 2.1-2.1 2.1-2.1 2.2-1.4 2.1-1 2.1-1.7 2.1-1.8 2.2-0.5 2.1-4.4 2.1-0.1 2.1-0.6 2.2-1.3 2.1-2.4 2.1-0.1 2.2-1.5 2.1-2.1 2.1-0.9 2.1-1.5 2.2-1 2.1-1.2 2.1-1.2 2.2-1.3 2.1-1.1 2.1-1.1 2.1-0.9 2.2-1.8 2.1-0.9 2.1-1.5 2.2-0.6 2.1-1.1 2.1-2.6 2.1-0.6 2.2-1.1 2.1-1.9 2.1-1.7 2.2-0.1 2.1-1 2.1-1.6 2.1-1.3 2.2-0.9 2.1-0.2 2.1-3.6 2.1-0.7 2.2-4.3 2.1 0.1 2.1-2.9 2.2-2 2.1-2.3 2.1-4.1 2.1 0.5 2.2-3.1 2.1-1 2.1-1.6 2.2-3.2 2.1-1.9 2.1-1.9 2.1-1.9 2.2-4.2 2.1-6.1M30.3 561l2.1-5.1 2.2-2 2.1-2.8 2.1-2.1 2.1-3.9 2.2-2.2 2.1-2.2 2.1 0.9 2.2-3.8 2.1-3 2.1-2.7 2.1 0.9 2.2-5.2 2.1-0.7 2.1-2.5 2.2 0.5 2.1-1.6 2.1-1.2 2.1-1.6 2.2-1.3 2.1-0.8 2.1-3.2 2.1-1 2.2-0.8 2.1-0.9 2.1-3 2.2 0 2.1-2 2.1-1.4 2.1-1.5 2.2-1.6 2.1-1.3 2.1-1 2.2-1 2.1-1.7 2.1-1.2 2.1-1 2.2-1.7 2.1 0.3 2.1-1.1 2.2-1.1 2.1-1.1 2.1-1.8 2.1-1 2.2-1 2.1-2.3 2.1-0.7 2.2-1.3 2.1-1.5 2.1-1.2 2.1-2.4 2.2-1.1 2.1-2.2 2.1-2 2.1-1.7 2.2-0.9 2.1-3.6 2.1 0.8 2.2-3.3 2.1-1.2 2.1-2.2 2.1-1.1 2.2-1.9 2.1-3.5 2.1 0.1 2.2-4.1 2.1-0.7 2.1-2.1 2.1-4.3 2.2-1.9 2.1-5.3M30.3 558.6l2.1-3 2.2-2.5 2.1-2.6 2.1-3.4 2.1-2.2 2.2-2 2.1-0.9 2.1-3.5 2.2-0.3 2.1-3 2.1-0.7 2.1-2.5 2.2-2.5 2.1-0.9 2.1-2.6 2.2-0.7 2.1-3.2 2.1-0.4 2.1-3.3 2.2-0.3 2.1-1.1 2.1-0.8 2.1-1.9 2.2-2.6 2.1 0.2 2.1-1.2 2.2-2.2 2.1-1.7 2.1-0.7 2.1-1.1 2.2-1.5 2.1-1.3 2.1-1.4 2.2-1.3 2.1-0.8 2.1-1 2.1-0.9 2.2-0.9 2.1-1.7 2.1-0.5 2.2-2.2 2.1-0.7 2.1-1 2.1-2.5 2.2 0.4 2.1-2.9 2.1-1 2.2-1.6 2.1-1.3 2.1-0.8 2.1-2.7 2.2-1.9 2.1 0.9 2.1-3 2.1-1.3 2.2-1.3 2.1-2.2 2.1-1.1 2.2-1.6 2.1-3.3 2.1-0.1 2.1-2.7 2.2-2.4 2.1-2.1 2.1-2.8 2.2-4.5 2.1-0.5 2.1-5.9 2.1 1.5 2.2-1.7 2.1-4.4M30.3 557.6l2.1-0.7 2.2-3.2 2.1-3.1 2.1-2.5 2.1-2.3 2.2-1.6 2.1-3 2.1-2.1 2.2-0.6 2.1-2.9 2.1-0.7 2.1-1.4 2.2-3 2.1-2.2 2.1-2.1 2.2-0.7 2.1-1.1 2.1-2.2 2.1-2.1 2.2-1.7 2.1-1.9 2.1-1 2.1-2.1 2.2-0.4 2.1-1.9 2.1-1.3 2.2-1.1 2.1-1.4 2.1-0.6 2.1-2 2.2-0.9 2.1-1.4 2.1-1.3 2.2-1.4 2.1-1 2.1-1.1 2.1-1.6 2.2-0.8 2.1-1.7 2.1-1.2 2.2-1.4 2.1-0.9 2.1-0.5 2.1-1.8 2.2-1.3 2.1-2 2.1-1.1 2.2-0.6 2.1-1.4 2.1 1.1 2.1-2.9 2.2-1.2 2.1-3 2.1-1.9 2.1-1.9 2.2-2.1 2.1-1.9 2.1-1.7 2.2-1.6 2.1-3.1 2.1-1.4 2.1-2.9 2.2-0.5 2.1-2.1 2.1-1.5 2.2-3.5 2.1-0.7 2.1-0.8 2.1-4.1 2.2-2.8 2.1-3.5M30.3 558.4l2.1-1.5 2.2-3.6 2.1-2.1 2.1-3.3 2.1-1.1 2.2-3.4 2.1-1.2 2.1-3.1 2.2-2.5 2.1-1.9 2.1-0.5 2.1-3.2 2.2 0.6 2.1-3.2 2.1-0.6 2.2-2.7 2.1-0.8 2.1-2.4 2.1-1.2 2.2-2.8 2.1-2 2.1-0.7 2.1-1.6 2.2-1.1 2.1-1.2 2.1-1.3 2.2-0.9 2.1-1.5 2.1-1.9 2.1-0.9 2.2-1.5 2.1-0.9 2.1-1.7 2.2-1.1 2.1-1 2.1-1.7 2.1-0.8 2.2-1.4 2.1-0.6 2.1-1 2.2-2 2.1-0.8 2.1-1.2 2.1-1.3 2.2-0.7 2.1-0.9 2.1-1.8 2.2 0 2.1-2.6 2.1-2.2 2.1-0.7 2.2-3.1 2.1-0.1 2.1-1.3 2.1-3.1 2.2-1.4 2.1-2.7 2.1-1 2.2-3.2 2.1-1.8 2.1-2.3 2.1-2.9 2.2-0.7 2.1-2.8 2.1-3.5 2.2-2.5 2.1-1.8 2.1-0.5 2.1-3.7 2.2-1.7 2.1-2.6M30.3 560.1l2.1-1.8 2.2-3.3 2.1-1.5 2.1-1.4 2.1-3.2 2.2-3.1 2.1-1.1 2.1-3.8 2.2-2.6 2.1-2 2.1-2.2 2.1-1.7 2.2-2.6 2.1-1.1 2.1-0.7 2.2-3.1 2.1-3.1 2.1-1.3 2.1-0.2 2.2-2 2.1-1.1 2.1-1.1 2.1-1.8 2.2-1.9 2.1-1 2.1-1.2 2.2-0.5 2.1-3.1 2.1-0.1 2.1-1.7 2.2-1.5 2.1-1.1 2.1-1.3 2.2-0.8 2.1-1.3 2.1-1.2 2.1-0.9 2.2-1.1 2.1-2 2.1-0.3 2.2-2.2 2.1-1.2 2.1-0.5 2.1-0.7 2.2-1.8 2.1-1.2 2.1-1.5 2.2-1.3 2.1-2.1 2.1-1.3 2.1-1.7 2.2-1.5 2.1-2.5 2.1-2.2 2.1 0.1 2.2-1.5 2.1-1.5 2.1-2.5 2.2-1.4 2.1-1.2 2.1-1.6 2.1-2.6 2.2-2.6 2.1-0.9 2.1-3.3 2.2-0.4 2.1-3.9 2.1-4.1 2.1-1 2.2-3.1 2.1-5M30.3 561.4l2.1-3.1 2.2-3 2.1-3 2.1-2.7 2.1-1.7 2.2-1.9 2.1-1.1 2.1-4.1 2.2-0.9 2.1-3.5 2.1-2.5 2.1 0.1 2.2-4.8 2.1-0.3 2.1-2.9 2.2-1.8 2.1-2.4 2.1-1.2 2.1-1.9 2.2-1.1 2.1-0.5 2.1-1.8 2.1-1.8 2.2-1.5 2.1-0.9 2.1-0.8 2.2-1.1 2.1-1.8 2.1-2.4 2.1-0.1 2.2-1.2 2.1-1.5 2.1-1.3 2.2-1.1 2.1-0.7 2.1-1.4 2.1-1.1 2.2-1.6 2.1-0.7 2.1-1.4 2.2-0.8 2.1-1.5 2.1-2.7 2.1-0.5 2.2-1.1 2.1-0.6 2.1-1.1 2.2-2.8 2.1-0.7 2.1-1.9 2.1-1.3 2.2-1.5 2.1 0.4 2.1-4.3 2.1-2.4 2.2-0.5 2.1-1.7 2.1-2.2 2.2-1.6 2.1-0.7 2.1-3.5 2.1-2.5 2.2-3.2 2.1-0.4 2.1-3 2.2-2.7 2.1-2.9 2.1-4.1 2.1-1.2 2.2-2.7 2.1-0.8M30.3 560l2.1-1.6 2.2-4.3 2.1 1.6 2.1-5.4 2.1 0 2.2-4.9 2.1-2 2.1-3.4 2.2-0.6 2.1-2.4 2.1-1.1 2.1-3.5 2.2-2.3 2.1-1.5 2.1-1.2 2.2-2.1 2.1-2.1 2.1-1.2 2.1 0 2.2-2.4 2.1-1.1 2.1-0.4 2.1-3.4 2.2-1.3 2.1-0.8 2.1-2.3 2.2-1.3 2.1-1.1 2.1-1.8 2.1-1.2 2.2-1.2 2.1-1.7 2.1-0.9 2.2-1.6 2.1-1 2.1-1.1 2.1-1.5 2.2-0.7 2.1-1.4 2.1-2.2 2.2-0.6 2.1-0.9 2.1-1.3 2.1-2 2.2-1.3 2.1-0.7 2.1-2.4 2.2-0.6 2.1-1.4 2.1-2 2.1-0.4 2.2-0.8 2.1-2.5 2.1-2.2 2.1-0.5 2.2-2.5 2.1-1.8 2.1-0.4 2.2-2.1 2.1-1.8 2.1-2.8 2.1-2.1 2.2-2.1 2.1-3.7 2.1-1.7 2.2-2.7 2.1-1.7 2.1-3.7 2.1-4.1 2.2-2.2 2.1-2.2M30.3 560.5l2.1-1.1 2.2-2.7 2.1-4.7 2.1-2 2.1-0.8 2.2-4.2 2.1-2 2.1-2.7 2.2-2.5 2.1-0.9 2.1-2.7 2.1-3.8 2.2 0 2.1-1.3 2.1-2.5 2.2 0.2 2.1-2.3 2.1-2.6 2.1-0.8 2.2-1.8 2.1-1.3 2.1-2 2.1-1.9 2.2-1 2.1-1.7 2.1-1.4 2.2-0.5 2.1-2.4 2.1-1.6 2.1-0.9 2.2-1.1 2.1-1.1 2.1-1.5 2.2-1.4 2.1-1.2 2.1-0.7 2.1-1.9 2.2-0.6 2.1-1.3 2.1-1.5 2.2-1.6 2.1-0.9 2.1-1.8 2.1-0.9 2.2-1.8 2.1 0.6 2.1-2 2.2-1.5 2.1-1.9 2.1 1.1 2.1-2.9 2.2-0.4 2.1-3.7 2.1-1.2 2.1-2.8 2.2-2.7 2.1-2 2.1-1.1 2.2-2.7 2.1-4.1 2.1 1.4 2.1-2.8 2.2-0.9 2.1-3.2 2.1-0.6 2.2-3.6 2.1-0.5 2.1-4.4 2.1-5.3 2.2 0.6 2.1-3.7M30.3 561.5l2.1-3.1 2.2-3.9 2.1-1.8 2.1-3.9 2.1-2.6 2.2-0.6 2.1-3.6 2.1-1.5 2.2-1.2 2.1-2 2.1-2.8 2.1-0.1 2.2-1.7 2.1-4.1 2.1-2.6 2.2-0.7 2.1-2.3 2.1 0.1 2.1-1.9 2.2-2.1 2.1-1.6 2.1-1.7 2.1-1 2.2-1.5 2.1-1.3 2.1-1.8 2.2-1.6 2.1-1.3 2.1-1.5 2.1-0.8 2.2-1.3 2.1-1.1 2.1-1.5 2.2-1.5 2.1-1.2 2.1-1.1 2.1-1 2.2-0.8 2.1-0.7 2.1-1.8 2.2-1.4 2.1 0 2.1-3.4 2.1-0.3 2.2-2.1 2.1-2 2.1-1.7 2.2-0.3 2.1-2.3 2.1-1.4 2.1-0.8 2.2-1.6 2.1-0.6 2.1-2.5 2.1-0.9 2.2-2.2 2.1-2.3 2.1-2.8 2.2-1.2 2.1-2.2 2.1-2.1 2.1-5.2 2.2 0.8 2.1-3 2.1-0.2 2.2-3.7 2.1-0.9 2.1-3 2.1-3.9 2.2-3.8 2.1-1.3M30.3 562.2l2.1-2.5 2.2-3.4 2.1-1.5 2.1-3.5 2.1-0.1 2.2-4.4 2.1-0.9 2.1-3 2.2-4.3 2.1-1.4 2.1-1 2.1-2.4 2.2-3.1 2.1-1.9 2.1-1.1 2.2-2.3 2.1-0.8 2.1 0 2.1-4.3 2.2-0.5 2.1-2.3 2.1-1.1 2.1-1.6 2.2-1.2 2.1-2.4 2.1-1.5 2.2-1.6 2.1-1.1 2.1-1.1 2.1-1 2.2-1.4 2.1-1.3 2.1-1 2.2-1.3 2.1-1.3 2.1-1.5 2.1-1.4 2.2-1.4 2.1-0.2 2.1-1.7 2.2-1 2.1-1.1 2.1-1.5 2.1-1.5 2.2-1.7 2.1 0.2 2.1-2.1 2.2-0.7 2.1-3 2.1-1.7 2.1 0.1 2.2-1.5 2.1-2.9 2.1-2.2 2.1-0.4 2.2-2.6 2.1-2.6 2.1-1 2.2-4.3 2.1-0.7 2.1-2.1 2.1-0.9 2.2-4.4 2.1 0.2 2.1-3 2.2-2.7 2.1-3.2 2.1-1.5 2.1-3.6 2.2-4.5 2.1-2.4M30.3 561.2l2.1 0.6 2.2-3.1 2.1-3.1 2.1-6.2 2.1-0.5 2.2-3.6 2.1-0.1 2.1-2.8 2.2-3.5 2.1-1.4 2.1-2.4 2.1-2.2 2.2-1.3 2.1-1.7 2.1-1.8 2.2-1.5 2.1-2.1 2.1-2.2 2.1-0.4 2.2-2.6 2.1-2 2.1-1 2.1-1.6 2.2-2.6 2.1-1 2.1-1.9 2.2-1 2.1-0.4 2.1-1.2 2.1-1.5 2.2-1.6 2.1-0.5 2.1-2 2.2-1.4 2.1-1.1 2.1-1.3 2.1-1.2 2.2-0.7 2.1-2.3 2.1-0.8 2.2-1.6 2.1-1.1 2.1-2.3 2.1-0.4 2.2-1.3 2.1-0.9 2.1-0.9 2.2-2.2 2.1-2 2.1-0.9 2.1 0 2.2-2.8 2.1-3.8 2.1 0.2 2.1-2.3 2.2 0.1 2.1-2.8 2.1-1.4 2.2-3.1 2.1-1.7 2.1-1.8 2.1-2.4 2.2-0.7 2.1-4.5 2.1-0.6 2.2-3.9 2.1-4 2.1-0.2 2.1-3.8 2.2-2.4 2.1-3.2M30.3 563.1l2.1-1.7 2.2-4.3 2.1-1.8 2.1-2.2 2.1-2.2 2.2-3 2.1-3.7 2.1-0.9 2.2-4.3 2.1-2 2.1-1.8 2.1-0.4 2.2-2.6 2.1-3.2 2.1-0.7 2.2-1.4 2.1-1.8 2.1-2.5 2.1-0.2 2.2-3.7 2.1-1.2 2.1-0.9 2.1-2.5 2.2 0.3 2.1-2.3 2.1-2.1 2.2-1.8 2.1-0.1 2.1-1.2 2.1-1.8 2.2-1.3 2.1-1.2 2.1-1.5 2.2-1.5 2.1-0.7 2.1-1 2.1-1.6 2.2-1.9 2.1-1.2 2.1-1.1 2.2-0.8 2.1-1.9 2.1-3 2.1 0 2.2-1.5 2.1 0.4 2.1-1.9 2.2-1.2 2.1-2.9 2.1-0.1 2.1-1.7 2.2-1.5 2.1 0.1 2.1-5.1 2.1 0.6 2.2-3 2.1-1 2.1-2.7 2.2-1.9 2.1-1.7 2.1-3.6 2.1 0.5 2.2-2.9 2.1-3 2.1-1.6 2.2-2.5 2.1-5.4 2.1-1.9 2.1-1.4 2.2-4.4 2.1-2M30.3 563.2l2.1-1.9 2.2-3.8 2.1-3.2 2.1-2.4 2.1-1.1 2.2-3.7 2.1-0.6 2.1-2.6 2.2-2.1 2.1-2.4 2.1-2.5 2.1-2.8 2.2-2.4 2.1-1.6 2.1-1.1 2.2-3 2.1-2.1 2.1-0.5 2.1-1.5 2.2-2.3 2.1-2.9 2.1-0.1 2.1-1.6 2.2-1.9 2.1-0.5 2.1-1.5 2.2-1.8 2.1-1.8 2.1-1 2.1-1.2 2.2-1.1 2.1-2.2 2.1-0.9 2.2-1.6 2.1-0.8 2.1-1.7 2.1-1.4 2.2-0.3 2.1-1.8 2.1-1.2 2.2-1.5 2.1-0.5 2.1-2.2 2.1-0.8 2.2-0.8 2.1-2.8 2.1-1.9 2.2-0.8 2.1-1.7 2.1-2.5 2.1-2.4 2.2 0.4 2.1-3.5 2.1-2.4 2.1 0.7 2.2-2.8 2.1-1.1 2.1-1.8 2.2-2.5 2.1 0.8 2.1-2.9 2.1-1.2 2.2-3.3 2.1-4.6 2.1 0.3 2.2-3.4 2.1-2.7 2.1-4.1 2.1-2.3 2.2-2.6 2.1-3M30.3 564.4l2.1-3.7 2.2-1 2.1-3.4 2.1-1.9 2.1-4 2.2 1.1 2.1-3.3 2.1-4.9 2.2 0.1 2.1-2.7 2.1-2 2.1-1.4 2.2-4.1 2.1-2.9 2.1-1.8 2.2-0.9 2.1-2.5 2.1-3.5 2.1-0.5 2.2-1.2 2.1-2.7 2.1-0.8 2.1-0.5 2.2-2 2.1-2.3 2.1-0.8 2.2-1.4 2.1-1.7 2.1-0.8 2.1-1.1 2.2-1.9 2.1-1.3 2.1-1.6 2.2-1.1 2.1-1.2 2.1-1 2.1-1.8 2.2-1.9 2.1-0.1 2.1-2.4 2.2-1.1 2.1-0.7 2.1-1.1 2.1-2.2 2.2-0.8 2.1-1.4 2.1-1.2 2.2-3 2.1 1 2.1-2.9 2.1-2.7 2.2-0.3 2.1-3.3 2.1 0 2.1-2.1 2.2-2.5 2.1-0.7 2.1-2.9 2.2-2.7 2.1-1.2 2.1-3.5 2.1-3 2.2-0.3 2.1-3.5 2.1-3.1 2.2-1.4 2.1-4.5 2.1-2.9 2.1-0.8 2.2-3.7 2.1-2M30.3 564.3l2.1-1.4 2.2-4 2.1-4.9 2.1 0.5 2.1-4.4 2.2-3.7 2.1 0.3 2.1-3.3 2.2 0.4 2.1-5.4 2.1-1.6 2.1-2.3 2.2-1.6 2.1-2.7 2.1-2.1 2.2-1.6 2.1-1.2 2.1-1.8 2.1-1.9 2.2-1.5 2.1-1.2 2.1-1.3 2.1-2.2 2.2-1 2.1-1.8 2.1-1 2.2-1.5 2.1-1.8 2.1-1.6 2.1-2.2 2.2-0.7 2.1-1.6 2.1-1.3 2.2-1.3 2.1-1.2 2.1-1.5 2.1-1.4 2.2-0.6 2.1-2.1 2.1-1 2.2-0.6 2.1-1.7 2.1-2 2.1-1.4 2.2-0.7 2.1-2.1 2.1-1 2.2 0.3 2.1-1.6 2.1-2.5 2.1-0.6 2.2-1.9 2.1-2.5 2.1-1.4 2.1-1.6 2.2-1.5 2.1-5.2 2.1 0.8 2.2-3.1 2.1-3.8 2.1-1.3 2.1-1.5 2.2-2.2 2.1-4.7 2.1-2.1 2.2 0.3 2.1-3.1 2.1-4.8 2.1-3.8 2.2-0.4 2.1-4.6M30.3 568.8l2.1-6.5 2.2-0.7 2.1-6 2.1-0.5 2.1-0.9 2.2-4.6 2.1-2.1 2.1-5 2.2-1.3 2.1-3.4 2.1-0.4 2.1-2.2 2.2-2.7 2.1-1.8 2.1-0.9 2.2-2.9 2.1-2.1 2.1-0.5 2.1-1.6 2.2-1.6 2.1-2.4 2.1-1.2 2.1-2 2.2-2 2.1-0.8 2.1-1.6 2.2-1.5 2.1-2.2 2.1-0.8 2.1-1.4 2.2-1.3 2.1-1.7 2.1-1.2 2.2-1.1 2.1-1.6 2.1-1.1 2.1-1.6 2.2-1.1 2.1-1 2.1-1 2.2-2.4 2.1-1.7 2.1-0.3 2.1-2 2.2-1.9 2.1-1.1 2.1-1.8 2.2-0.9 2.1-1.1 2.1-2.7 2.1 0.9 2.2-3.2 2.1-0.3 2.1-2.3 2.1-1.1 2.2-2.6 2.1-1.4 2.1-3.2 2.2-0.8 2.1-3 2.1-3.6 2.1-3.5 2.2-1.3 2.1-5.5 2.1-0.2 2.2-3.8 2.1 0.3 2.1-3.2 2.1-2.4 2.2-2.2 2.1-2M30.3 564.7l2.1-2.7 2.2 0.2 2.1-2.6 2.1-2.8 2.1-4.7 2.2 0.1 2.1-2.9 2.1-2 2.2-4.3 2.1-3 2.1-0.7 2.1-4.1 2.2-1.3 2.1-1.2 2.1-3.1 2.2-2.4 2.1-1.8 2.1-1.3 2.1-2.4 2.2-0.8 2.1-2 2.1-2.6 2.1-0.5 2.2-1.2 2.1-1.3 2.1-1.9 2.2-0.9 2.1-1.9 2.1-1.4 2.1-1.8 2.2-1.1 2.1-1.8 2.1-1.5 2.2-1.4 2.1-1.5 2.1-1.6 2.1-0.8 2.2-0.9 2.1-2.4 2.1-1.2 2.2-0.9 2.1-2 2.1-2 2.1-0.3 2.2-0.7 2.1-1.7 2.1-0.6 2.2-3.5 2.1 0.7 2.1-1.8 2.1-3.4 2.2-1 2.1-1.1 2.1-3.9 2.1-2.2 2.2 0.5 2.1-3.9 2.1-2.2 2.2-2.7 2.1-0.6 2.1-2.3 2.1-1.4 2.2-2.9 2.1-3.5 2.1-1.6 2.2-1.4 2.1-3.6 2.1-5.3 2.1 0.4 2.2-3.9 2.1-3.2M30.3 567.3l2.1-3.3 2.2-2.8 2.1-5.6 2.1-1.2 2.1-3 2.2-2.1 2.1-0.8 2.1-2 2.2-2.5 2.1-4.8 2.1 0.2 2.1-2.8 2.2-0.7 2.1-5 2.1 0 2.2-0.8 2.1-3 2.1-2.6 2.1-2.5 2.2-0.9 2.1-2.6 2.1-1.5 2.1-1.6 2.2-1.2 2.1-2 2.1-1.8 2.2-0.9 2.1-1.3 2.1-2.6 2.1-0.6 2.2-1.3 2.1-0.9 2.1-1.9 2.2-1 2.1-1.8 2.1-1.1 2.1-1.1 2.2-1.2 2.1-1.6 2.1-1 2.2-0.6 2.1-2.8 2.1 0.2 2.1-2.1 2.2-1.2 2.1-2.7 2.1 0.5 2.2-3.4 2.1-1.3 2.1 0.7 2.1-3 2.2-2.5 2.1-1.8 2.1-3.1 2.1-2.3 2.2-2.5 2.1-0.4 2.1-3.2 2.2-1.2 2.1-2.7 2.1-1.4 2.1-2.1 2.2-1.8 2.1-3.1 2.1-2 2.2-1.4 2.1-1.5 2.1-6.3 2.1-2.8 2.2-2.3 2.1-4.7M30.3 572.1l2.1-3 2.2-5.3 2.1-3.3 2.1-3 2.1-0.9 2.2-4.7 2.1-2.5 2.1-2 2.2-2.9 2.1-1.6 2.1-2.6 2.1-1.8 2.2-1.8 2.1-3.9 2.1-0.7 2.2-2.8 2.1-2.4 2.1-0.7 2.1-2.6 2.2-1.5 2.1-2.4 2.1-1.1 2.1-2.9 2.2-1 2.1-0.9 2.1-2.4 2.2-0.8 2.1-1.3 2.1-2.4 2.1-1.3 2.2-1.3 2.1-1.9 2.1-1.4 2.2-1.4 2.1-1.6 2.1-1.1 2.1-1.7 2.2-1.1 2.1-1.3 2.1 0.1 2.2-2.6 2.1-2.7 2.1-0.1 2.1-1.8 2.2-1.4 2.1-0.6 2.1-3.3 2.2-2.6 2.1-1.5 2.1-0.2 2.1-1.2 2.2-2 2.1-2.7 2.1-1.2 2.1-3.1 2.2-1.8 2.1-1 2.1-2.5 2.2-4.4 2.1-2.6 2.1-1.8 2.1-3.9 2.2-0.9 2.1-2.1 2.1-2.5 2.2-3 2.1 0.7 2.1-5.2 2.1-2.9 2.2-1.9 2.1-3.4M30.3 571.9l2.1-3.3 2.2-2.1 2.1-3.8 2.1-2.5 2.1-3.4 2.2-2.1 2.1-1.5 2.1-6.3 2.2-2.3 2.1-2.6 2.1-2.5 2.1-2.6 2.2-1.3 2.1-5.3 2.1 0.7 2.2-1.5 2.1-4.4 2.1 0.1 2.1-2 2.2-0.9 2.1-2.1 2.1-2 2.1-1.4 2.2-0.7 2.1-2.7 2.1-0.8 2.2-1.3 2.1-2.8 2.1-1.3 2.1-1.4 2.2-1.5 2.1-1.9 2.1-1.3 2.2-1.4 2.1-1.6 2.1-1.3 2.1-0.9 2.2-2.3 2.1-0.2 2.1-1.7 2.2-2 2.1-1.2 2.1-2 2.1-1.4 2.2 0.3 2.1-4 2.1-0.4 2.2-2 2.1-1.1 2.1-1.4 2.1-3.1 2.2-1.6 2.1-1.5 2.1-1 2.1-3.8 2.2-0.8 2.1-2.3 2.1-1.6 2.2-2.6 2.1-3.3 2.1-2.5 2.1-2.8 2.2-1.8 2.1-3 2.1-1.5 2.2-4.1 2.1-2.6 2.1-2.7 2.1-3.9 2.2-3.1 2.1-2.1M30.3 571.6l2.1-1.3 2.2-5.4 2.1-2.7 2.1-4.5 2.1-1 2.2-5.7 2.1-1.2 2.1-2.6 2.2-2.7 2.1-2.8 2.1-2.3 2.1 0.3 2.2-3.2 2.1-3 2.1-2.1 2.2-1.8 2.1-1.1 2.1-3.1 2.1-1.5 2.2-2 2.1-2.7 2.1-0.9 2.1-2.1 2.2-2.2 2.1-1.3 2.1-0.3 2.2-1.7 2.1-1.1 2.1-2.8 2.1-1 2.2-1.5 2.1-1.7 2.1-1.4 2.2-1.6 2.1-1.1 2.1-1.8 2.1-1.3 2.2-1.3 2.1-1.7 2.1-1.1 2.2-1.6 2.1-2.1 2.1-1.8 2.1-0.8 2.2-2.1 2.1 0.5 2.1-2.6 2.2-1.5 2.1-1.3 2.1-2.4 2.1-2.9 2.2-0.8 2.1-2.4 2.1-2.2 2.1-2 2.2-1 2.1-1.5 2.1-3.8 2.2-2 2.1-1 2.1-4.5 2.1 0 2.2-2.3 2.1-3.9 2.1-1.6 2.2-4.2 2.1-3.2 2.1-2.6 2.1-3.9 2.2-1.7 2.1-2M30.3 573.2l2.1-0.9 2.2-5.1 2.1-2.6 2.1-4.4 2.1-2.4 2.2-1 2.1-4.3 2.1-2 2.2-3.9 2.1-2.8 2.1-0.5 2.1-3.8 2.2-1 2.1-2.7 2.1-2.7 2.2-3 2.1-1.5 2.1-2.2 2.1-1.2 2.2-2.2 2.1-2.4 2.1-1.6 2.1-1.7 2.2-1.9 2.1-2.3 2.1-1.5 2.2-1.6 2.1-1.1 2.1-1.1 2.1-1.5 2.2-2 2.1-1.4 2.1-1.6 2.2-1.6 2.1-2.1 2.1-0.9 2.1-1.5 2.2-1.4 2.1-1.7 2.1-0.7 2.2-2.4 2.1-1.8 2.1-1.2 2.1-1.5 2.2-1.4 2.1-1.9 2.1-0.3 2.2-0.9 2.1-2.8 2.1-2.1 2.1-2.4 2.2-0.9 2.1-2.9 2.1-2 2.1-3.1 2.2-1.3 2.1-3.5 2.1-2.6 2.2-1.5 2.1-2.5 2.1-2.2 2.1-2.1 2.2-2.5 2.1-1.9 2.1-4.4 2.2-2.2 2.1-2.2 2.1-3.1 2.1-3.1 2.2-5.1 2.1-2.9M30.3 576.3l2.1-2.9 2.2-3.2 2.1-2.4 2.1-3.2 2.1-3.5 2.2-4.4 2.1-2.9 2.1-3.4 2.2-3.8 2.1-2 2.1 0 2.1-3.6 2.2-4.3 2.1-1 2.1-2.3 2.2-2 2.1-0.7 2.1-3.4 2.1-1.5 2.2-1.4 2.1-2.9 2.1-2.8 2.1-0.6 2.2-1.2 2.1-2.5 2.1-1.3 2.2-1 2.1-2.6 2.1-2 2.1-1.1 2.2-1.9 2.1-1.7 2.1-1.6 2.2-1.5 2.1-1.4 2.1-1.4 2.1-1.5 2.2-1.8 2.1-1.1 2.1-1.4 2.2-2.3 2.1-1 2.1-3.4 2.1-0.2 2.2-3.1 2.1-0.5 2.1-1.8 2.2-2.2 2.1-1.4 2.1-1.5 2.1-1.7 2.2-1.6 2.1-2.1 2.1-3.7 2.1 0.7 2.2-6 2.1-1.6 2.1-1 2.2-4.3 2.1-2.4 2.1-1.5 2.1 1.3 2.2-2.8 2.1-5.4 2.1-0.8 2.2-4.7 2.1-2.3 2.1-4.3 2.1-2.7 2.2-4.1 2.1-1.7M30.3 576l2.1-3.1 2.2-4.6 2.1-3.1 2.1-4.1 2.1-1.2 2.2-2.6 2.1-4.6 2.1-2.1 2.2-3.3 2.1-2.6 2.1 0.6 2.1-4.3 2.2-2.2 2.1-2.2 2.1-3 2.2-3 2.1-0.4 2.1-2.1 2.1-2.7 2.2-2 2.1-1.3 2.1-2.6 2.1-2.1 2.2-0.7 2.1-2.8 2.1-0.7 2.2-2.8 2.1-0.7 2.1-1.7 2.1-1.6 2.2-2 2.1-1.7 2.1-1.6 2.2-1.5 2.1-1.5 2.1-1.4 2.1-1.5 2.2-1.7 2.1-1.1 2.1-1.7 2.2-0.8 2.1-1.2 2.1-2.7 2.1-0.5 2.2-2.1 2.1-0.9 2.1-1.4 2.2-1.9 2.1-2.3 2.1-3.8 2.1-0.5 2.2-3 2.1-1.7 2.1-2.7 2.1-1.1 2.2-4.5 2.1-1.4 2.1-1.7 2.2-3.5 2.1 0 2.1-3.2 2.1-3.5 2.2-3.9 2.1-0.4 2.1-5.4 2.2-2.2 2.1-0.8 2.1-4.8 2.1-4.1 2.2-1 2.1-6.5M30.3 578.9l2.1-7.6 2.2-2.4 2.1-3.8 2.1-1.8 2.1-1.4 2.2-5.9 2.1-1.4 2.1-3.6 2.2-3.1 2.1-0.6 2.1-4 2.1-1.1 2.2-2.4 2.1-3.4 2.1-0.2 2.2-2.9 2.1-2.3 2.1-3.1 2.1-1.2 2.2-2.7 2.1-0.7 2.1-1.8 2.1-2.8 2.2-3 2.1-1.2 2.1-1.3 2.2-1.7 2.1-2.6 2.1-1.4 2.1-0.9 2.2-1.6 2.1-2.7 2.1-1.2 2.2-1.5 2.1-1.6 2.1-1.4 2.1-1.5 2.2-1.6 2.1-0.6 2.1-2.4 2.2-1.6 2.1-2.5 2.1-1.6 2.1-0.8 2.2-1.8 2.1-1.8 2.1-3 2.2-1.1 2.1-0.3 2.1-3.4 2.1 0.3 2.2-3.6 2.1-1 2.1-0.8 2.1-2.7 2.2-2.5 2.1-3.5 2.1-2.8 2.2 0.5 2.1-4 2.1-4.4 2.1-2.4 2.2-3 2.1-3.2 2.1-3.2 2.2-3.8 2.1-1.4 2.1-1.1 2.1-6.6 2.2-2.1 2.1-2.3M30.3 577.5l2.1-2.9 2.2-3.6 2.1-5.5 2.1-3 2.1-2.1 2.2-2 2.1-4.5 2.1-1.6 2.2-3.8 2.1-1 2.1-3.3 2.1-2.6 2.2-1.6 2.1-3.3 2.1-0.8 2.2-4.5 2.1-0.9 2.1-2.1 2.1-2.3 2.2-1.8 2.1-1.7 2.1-2.4 2.1-1.3 2.2-1.9 2.1-2.1 2.1-1.5 2.2-1.5 2.1-2.6 2.1-2.2 2.1-0.7 2.2-2.2 2.1-1.3 2.1-1.8 2.2-1.4 2.1-1.5 2.1-1.5 2.1-1.7 2.2-1.4 2.1-2.6 2.1 0 2.2-2.3 2.1-1.7 2.1 0 2.1-1.6 2.2-3.4 2.1-0.4 2.1-2.4 2.2-0.1 2.1-3.1 2.1-2.5 2.1-3 2.2-2.7 2.1 0.4 2.1-3.8 2.1-0.7 2.2-1.8 2.1-2.3 2.1-2.3 2.2-1.3 2.1-4.2 2.1-1.8 2.1-4.6 2.2-5.7 2.1 1.1 2.1-6.5 2.2 0 2.1-4.1 2.1-4.7 2.1-2.6 2.2-4 2.1-3.6M30.3 576l2.1-2.8 2.2-2.3 2.1-2.6 2.1-3 2.1-2.9 2.2-5.4 2.1-1.1 2.1-2.5 2.2-3 2.1-3.2 2.1-2.9 2.1-1.9 2.2-2.4 2.1-2.1 2.1-3.1 2.2-2.4 2.1-1.9 2.1-2.5 2.1-3.3 2.2-1.7 2.1-1.6 2.1-2.5 2.1-1.1 2.2-2.3 2.1-1 2.1-2.5 2.2-1.1 2.1-1.3 2.1-1.3 2.1-2.2 2.2-1.6 2.1-1.4 2.1-1.9 2.2-1.5 2.1-1.6 2.1-1 2.1-1.9 2.2-2.3 2.1-1.2 2.1-1.1 2.2-2.4 2.1-0.5 2.1-2.4 2.1-1.3 2.2-1.2 2.1-2.3 2.1-3.2 2.2 0.6 2.1-1.9 2.1-4 2.1-0.1 2.2-2.6 2.1-1.9 2.1-2 2.1-3.4 2.2-0.9 2.1-2.4 2.1-3.1 2.2-3.3 2.1-3.3 2.1-1 2.1-3.5 2.2-3 2.1-1.7 2.1-3.1 2.2-1.6 2.1-1.3 2.1-5.9 2.1-1 2.2-5.5 2.1-2M30.3 576.9l2.1-2.5 2.2-2.1 2.1-4.4 2.1-2.7 2.1-2.3 2.2-2 2.1-3.7 2.1-5.8 2.2-1 2.1-3.4 2.1-3.9 2.1-0.5 2.2-4.3 2.1 0.7 2.1-3.8 2.2-1.4 2.1-4 2.1-2 2.1-1.4 2.2-2 2.1-4.3 2.1 0 2.1-1.8 2.2-0.8 2.1-1.9 2.1-2.3 2.2-1.5 2.1-1.8 2.1-1.8 2.1-1.2 2.2-2.5 2.1-1.7 2.1-1.7 2.2-1.7 2.1-1.9 2.1-0.9 2.1-1.8 2.2-2.1 2.1-0.8 2.1-2.3 2.2-0.7 2.1-1.6 2.1-1.1 2.1-2.1 2.2-3.1 2.1-1.6 2.1-0.4 2.2-2.2 2.1-2.4 2.1-0.1 2.1-2.6 2.2-2.3 2.1-0.7 2.1-3.3 2.1-2.4 2.2-2.6 2.1-2.5 2.1-0.3 2.2-5.1 2.1-1.5 2.1-3.5 2.1-2.7 2.2-1.8 2.1-5 2.1 1 2.2-5 2.1-3.5 2.1-5.1 2.1-1.9 2.2-4.6 2.1-3.5M30.3 582.1l2.1-4.6 2.2-6.5 2.1-1.3 2.1-2.9 2.1-3.6 2.2-2.7 2.1-2.9 2.1-4.1 2.2-2 2.1-5.1 2.1 1.5 2.1-5.4 2.2-1.3 2.1-4.6 2.1-0.1 2.2-3.7 2.1-3.2 2.1-1.5 2.1-1.3 2.2-2.5 2.1-2.4 2.1-2.8 2.1-1 2.2-2.1 2.1-0.6 2.1-2.4 2.2-2.3 2.1-0.9 2.1-1.6 2.1-1.8 2.2-2.2 2.1-1.5 2.1-1.6 2.2-1.4 2.1-1.2 2.1-2.4 2.1-1 2.2-2.1 2.1-1.4 2.1-1 2.2-1.2 2.1-2.8 2.1 0.4 2.1-1.4 2.2-4.4 2.1 0 2.1-2.5 2.2-2.6 2.1-2.8 2.1 0.6 2.1-2.7 2.2-3 2.1-1.2 2.1-1.4 2.1-3.8 2.2 0.4 2.1-5 2.1-1.4 2.2-2.7 2.1-2.1 2.1-3.4 2.1-4.5 2.2-2.4 2.1-4.2 2.1-2.6 2.2-2.1 2.1-3.3 2.1-3.5 2.1-2.6 2.2-5.4 2.1-0.1M30.3 576.8l2.1-3.4 2.2-4 2.1-2.7 2.1 0.2 2.1-5.9 2.2-1.5 2.1-4.6 2.1-1.6 2.2-2.5 2.1-2.1 2.1-4 2.1-2.9 2.2-0.3 2.1-3.6 2.1-2.3 2.2-1.8 2.1-2.1 2.1-3.2 2.1-2.2 2.2-1.5 2.1-2 2.1-2 2.1-1.1 2.2-2.3 2.1-2 2.1-1.3 2.2-2.8 2.1-2.3 2.1-1.7 2.1-0.9 2.2-1.6 2.1-1.7 2.1-2 2.2-1.5 2.1-1.9 2.1-0.9 2.1-1.9 2.2-1.3 2.1-1.9 2.1-1.4 2.2-0.7 2.1-3.2 2.1-1.2 2.1-1.8 2.2-1.5 2.1-1.2 2.1-2.5 2.2-2.5 2.1-2.7 2.1-0.8 2.1-1.4 2.2-3.6 2.1-0.9 2.1-2.2 2.1-2.5 2.2-3 2.1-0.6 2.1-3.8 2.2-2.4 2.1-2.2 2.1-5 2.1 0.8 2.2-4.5 2.1-3.1 2.1-3 2.2-4.5 2.1 1.1 2.1-5.3 2.1-2.6 2.2-2.8 2.1-4.5M30.3 581.4l2.1-4.4 2.2-2.7 2.1-4.4 2.1-2.6 2.1-3.1 2.2-2.7 2.1-3.6 2.1-4.1 2.2-1.6 2.1-4 2.1-1.7 2.1-2.8 2.2-3.7 2.1-0.2 2.1-3.4 2.2-3.2 2.1-2 2.1-2.1 2.1-3 2.2-0.7 2.1-2.5 2.1-3.1 2.1 0 2.2-3 2.1-1.9 2.1-1.7 2.2-1.8 2.1-1.2 2.1-2.2 2.1-1.7 2.2-1.9 2.1-1.6 2.1-1.9 2.2-1.6 2.1-1.9 2.1-1.4 2.1-1.5 2.2-1.7 2.1-2 2.1-0.5 2.2-1.2 2.1-1.6 2.1-2.9 2.1-0.9 2.2-1.7 2.1-2 2.1-2.2 2.2-0.9 2.1-1.5 2.1-2.2 2.1-3.1 2.2-1.3 2.1-3 2.1-2.8 2.1-1.3 2.2-1.9 2.1-2.2 2.1-3.3 2.2-2.1 2.1-3.9 2.1-1.1 2.1-4.3 2.2-2.1 2.1-4.1 2.1-0.8 2.2-4.4 2.1-4 2.1-0.6 2.1-5.9 2.2-2.7 2.1-3.6M30.3 581.4l2.1-5.4 2.2-1.1 2.1-3.3 2.1-3.8 2.1-4.4 2.2-4.9 2.1 0.5 2.1-0.7 2.2-6.2 2.1-2.3 2.1-2.5 2.1-2.6 2.2-0.7 2.1-4.9 2.1-1.6 2.2-3.4 2.1-1.9 2.1-2 2.1-1.6 2.2-4.7 2.1-1 2.1-2.3 2.1-2.7 2.2-1.1 2.1-1.6 2.1-0.3 2.2-3.7 2.1-1.6 2.1-0.8 2.1-1.7 2.2-2.5 2.1-1.7 2.1-1.9 2.2-1.3 2.1-1.8 2.1-1.9 2.1-1.6 2.2-0.9 2.1-1.5 2.1-2 2.2-3.1 2.1 0.2 2.1-1.8 2.1-2.5 2.2-1.4 2.1-2.5 2.1-0.3 2.2-1.9 2.1-3.2 2.1-1.3 2.1-2.3 2.2-1.3 2.1-2.4 2.1-2.2 2.1-2.4 2.2-2.2 2.1-2.6 2.1-2.4 2.2-4 2.1-3.3 2.1-0.5 2.1-4.9 2.2-1.8 2.1 0 2.1-6.1 2.2-1.3 2.1-6.4 2.1-1.6 2.1-6.1 2.2-3.6 2.1-1.4M30.3 581.5l2.1-5.2 2.2-1.9 2.1-3.9 2.1-2.1 2.1-1 2.2-6.4 2.1-3 2.1-3.6 2.2-2.4 2.1-2.1 2.1-2.7 2.1-3.3 2.2-1.6 2.1-2 2.1-3.8 2.2-2.1 2.1-2.7 2.1-1.3 2.1-2.5 2.2-1.5 2.1-2.6 2.1-2.9 2.1-2.5 2.2-0.7 2.1-2.4 2.1-1.2 2.2-1.5 2.1-2.3 2.1-2 2.1-1.8 2.2-1.6 2.1-2.1 2.1-1.8 2.2-1.4 2.1-1.8 2.1-1.7 2.1-1.8 2.2-1.5 2.1-1.8 2.1-1.2 2.2-0.8 2.1-1.7 2.1-2 2.1-1.3 2.2-1.8 2.1-2.2 2.1-2 2.2-1.6 2.1-2.7 2.1-3.5 2.1 0.3 2.2-2.7 2.1-1.7 2.1-4.4 2.1-2.2 2.2-0.2 2.1-4.1 2.1-0.5 2.2-4.3 2.1-2.2 2.1-2.7 2.1-0.9 2.2-5.1 2.1-3.1 2.1-4.6 2.2-2.1 2.1-3.3 2.1-2.8 2.1-5.1 2.2-4 2.1-3.6M30.3 583.1l2.1-6.7 2.2-2.6 2.1-2.8 2.1-1.3 2.1-5.1 2.2-3.6 2.1-4.5 2.1-0.5 2.2-3.2 2.1-4.5 2.1-2.8 2.1-2.5 2.2-1.3 2.1-2.4 2.1-3.2 2.2-2.4 2.1-2.5 2.1-0.8 2.1-1.4 2.2-4.1 2.1-1.1 2.1-2 2.1-2.7 2.2-0.4 2.1-2.9 2.1-1.7 2.2-2.3 2.1-1.6 2.1-2.2 2.1-1 2.2-2.1 2.1-1.8 2.1-2.1 2.2-1.7 2.1-1.4 2.1-1.8 2.1-1.3 2.2-1.4 2.1-2.6 2.1-1 2.2-2.6 2.1-2.4 2.1 0.4 2.1-3 2.2-1.2 2.1-2.3 2.1 0.2 2.2-4 2.1-0.7 2.1-2.8 2.1-2.1 2.2-2.4 2.1-1.4 2.1-2.5 2.1-1.8 2.2-1.3 2.1-3.5 2.1-2.9 2.2-2.9 2.1-3.4 2.1-3 2.1-3.9 2.2-4 2.1 0.4 2.1-4.4 2.2-3.4 2.1-2.3 2.1-4.4 2.1 0.2 2.2-7.2 2.1-2.6M30.3 582.7l2.1-3.1 2.2-4.7 2.1-4.4 2.1-3.8 2.1-1.6 2.2-1.9 2.1-5.7 2.1 0.4 2.2-4.7 2.1-3.3 2.1-3.3 2.1-1.8 2.2-3.5 2.1-3.3 2.1-1.8 2.2-1.7 2.1-3.7 2.1-1.7 2.1-1.2 2.2-2.3 2.1-3.9 2.1-0.4 2.1-2.3 2.2-1.2 2.1-2 2.1-1.9 2.2-1.6 2.1-2.4 2.1-1.9 2.1-1.7 2.2-1.4 2.1-1.8 2.1-1.7 2.2-2.1 2.1-1.3 2.1-1.3 2.1-1.6 2.2-2.5 2.1-1.1 2.1-2.3 2.2-1.3 2.1-2.2 2.1-1.2 2.1 0.4 2.2-4.7 2.1 0.2 2.1-4 2.2-0.8 2.1-1.2 2.1-2.3 2.1-1.8 2.2-3.3 2.1-2.4 2.1-0.6 2.1-1.9 2.2-5.5 2.1-1.6 2.1-0.8 2.2-5 2.1-2.8 2.1-2 2.1-2.8 2.2-1.7 2.1-0.2 2.1-7.3 2.2-1.4 2.1-6.8 2.1-0.6 2.1-5 2.2-2.1 2.1-3.1M30.3 585l2.1-6.7 2.2-1.4 2.1-4.8 2.1-3.5 2.1-2.7 2.2-4.3 2.1-1.5 2.1-5.2 2.2-3.6 2.1-0.8 2.1-4.2 2.1-2.5 2.2-2.2 2.1-3.2 2.1-1 2.2-1.6 2.1-3.6 2.1-2.1 2.1-0.1 2.2-4.1 2.1-1.6 2.1-2.5 2.1-2.4 2.2-3 2.1-1.3 2.1-1.2 2.2-2 2.1-2.1 2.1-1.9 2.1-2.6 2.2-0.3 2.1-1.9 2.1-2.1 2.2-1.4 2.1-1.7 2.1-1 2.1-1.5 2.2-2.6 2.1-0.9 2.1-2.7 2.2-1 2.1-2.3 2.1-2.3 2.1-0.4 2.2-1.8 2.1-3.1 2.1-0.9 2.2-1.6 2.1-2.6 2.1-0.3 2.1-2.7 2.2-1 2.1-2.1 2.1-4.2 2.1-3.1 2.2-1.6 2.1-1 2.1-4.2 2.2-3.4 2.1-2.5 2.1-4.3 2.1-0.7 2.2-4.2 2.1-2.1 2.1-3.3 2.2-2.8 2.1-4.2 2.1-1.3 2.1-4.7 2.2-4.6 2.1-4.8M30.3 582.1l2.1-1.5 2.2-3.9 2.1-3.3 2.1-4 2.1-4.1 2.2-3.3 2.1-2.6 2.1-4.1 2.2-3.7 2.1-2.6 2.1-2.5 2.1-1.6 2.2-2.7 2.1-4.3 2.1-1 2.2-1.8 2.1-3.8 2.1-2.9 2.1 0.3 2.2-4.7 2.1-0.1 2.1-3.4 2.1-1.4 2.2-1.4 2.1-1.6 2.1-1.8 2.2-1.7 2.1-2.2 2.1-2.4 2.1-1.3 2.2-2.5 2.1-1.1 2.1-1.8 2.2-1.8 2.1-2 2.1-0.9 2.1-1.9 2.2-2.1 2.1-1 2.1-2.1 2.2-1.3 2.1-1.7 2.1-1.8 2.1-1.6 2.2-2.6 2.1-0.1 2.1-2.2 2.2-2.6 2.1-1.2 2.1-2.5 2.1-1.9 2.2-3.1 2.1-0.7 2.1-3.4 2.1-1.8 2.2-3.9 2.1 0.4 2.1-2.2 2.2-2.5 2.1-3.1 2.1-3 2.1-4.7 2.2-1.5 2.1-4 2.1-3.5 2.2-4.4 2.1-1.2 2.1-4.4 2.1-4.6 2.2-5.6 2.1-1.2M30.3 580.9l2.1-0.8 2.2-5.5 2.1-4.9 2.1-0.8 2.1-6.4 2.2-1.5 2.1-2.7 2.1-4.2 2.2-1.7 2.1-0.1 2.1-5.6 2.1-2.2 2.2-1.5 2.1-4.5 2.1-1.3 2.2-2.1 2.1-4.9 2.1-1.3 2.1-2.4 2.2-2.2 2.1 0.3 2.1-4.2 2.1 0.1 2.2-2 2.1-2.7 2.1-1.5 2.2-3 2.1-0.8 2.1-2.3 2.1-1.5 2.2-1.6 2.1-2 2.1-1.9 2.2-1.7 2.1-1.6 2.1-1.9 2.1-1.3 2.2-1.9 2.1-2.3 2.1-1.2 2.2-3 2.1-0.2 2.1-1.8 2.1-1.9 2.2-2.2 2.1-1.5 2.1-1.2 2.2-1.8 2.1-1.7 2.1-2.4 2.1-0.7 2.2-2.4 2.1-2.3 2.1-4.8 2.1-1.3 2.2-3.3 2.1-1.4 2.1-3.2 2.2-1.6 2.1-1.5 2.1-4.7 2.1-2.7 2.2-2.8 2.1-2.1 2.1-5.5 2.2-3.4 2.1-3.1 2.1-4.1 2.1-1.2 2.2-5.5 2.1-3.1M30.3 582.1l2.1-3.4 2.2-3.7 2.1-4.8 2.1-2.3 2.1-3.3 2.2-4.3 2.1-0.7 2.1-2 2.2-5.2 2.1-1.4 2.1-3.9 2.1-2.2 2.2-1.2 2.1-3.1 2.1-1.5 2.2-3.5 2.1-2.2 2.1-3.2 2.1-3.2 2.2-0.9 2.1-1.8 2.1-2.4 2.1-1.9 2.2-1.8 2.1-2.4 2.1-1.1 2.2-2.1 2.1-2.4 2.1-2.1 2.1-1.7 2.2-1.5 2.1-2.2 2.1-1.6 2.2-1.9 2.1-1.5 2.1-1.5 2.1-1.2 2.2-2.8 2.1-1.6 2.1-1.9 2.2-0.6 2.1-1.4 2.1-3.2 2.1-0.8 2.2 0 2.1-4.1 2.1-0.4 2.2-4 2.1-1.8 2.1 0.5 2.1-4.2 2.2-2 2.1-2.9 2.1-0.7 2.1-2.2 2.2-4.8 2.1 0.4 2.1-4.5 2.2-3.2 2.1-3 2.1-2.3 2.1-5 2.2-1.8 2.1-1.6 2.1-3.2 2.2-2.7 2.1-4.7 2.1-6.1 2.1-2 2.2-2.9 2.1-2.5M30.3 584.6l2.1-3.5 2.2-4.9 2.1-2.7 2.1-4 2.1-2.5 2.2-4.6 2.1-0.8 2.1-4.8 2.2-3.6 2.1-3.3 2.1-2.5 2.1-3.4 2.2-1.7 2.1-4.8 2.1 0.4 2.2-1.1 2.1-2.2 2.1-2.5 2.1-3.7 2.2-0.8 2.1-2.3 2.1-3.6 2.1-0.3 2.2-3.3 2.1-2.5 2.1-2.1 2.2-1.4 2.1-1.1 2.1-2.1 2.1-2.9 2.2-1.8 2.1-1.2 2.1-2 2.2-1.7 2.1-1.4 2.1-2.1 2.1-0.9 2.2-2.3 2.1-1.7 2.1-1.2 2.2-1.5 2.1-3 2.1-0.2 2.1-1.7 2.2-1.4 2.1-2.7 2.1-2 2.2-1.4 2.1-3.6 2.1-1.2 2.1-2.6 2.2-0.3 2.1-3.2 2.1-4.1 2.1-1.9 2.2-1.8 2.1-3.3 2.1-2.2 2.2-2.4 2.1-3 2.1-3 2.1-2.1 2.2-5.7 2.1-4.1 2.1-0.8 2.2-3.2 2.1-6.4 2.1-1.2 2.1-3.9 2.2-3.6 2.1-3.3M30.3 584.9l2.1-6.7 2.2-1.1 2.1-3.1 2.1-5.2 2.1-0.9 2.2-2.1 2.1-5.5 2.1-2.4 2.2-2.7 2.1-2.9 2.1-3 2.1-3.1 2.2-0.8 2.1-5.6 2.1-1.5 2.2-2.5 2.1-2.6 2.1-3.3 2.1-1.9 2.2-3.7 2.1 1.3 2.1-4.4 2.1-2.1 2.2 0.6 2.1-4.2 2.1-1.4 2.2-1.9 2.1-1.9 2.1-2 2.1-1.5 2.2-1.8 2.1-2.3 2.1-1.5 2.2-1.9 2.1-2.2 2.1-0.4 2.1-1.8 2.2-1.7 2.1-1.9 2.1-2.7 2.2-1.1 2.1-2.1 2.1-2.4 2.1 0.9 2.2-3 2.1-1.6 2.1-2.8 2.2-0.8 2.1-4.3 2.1-0.2 2.1-1.9 2.2-1.9 2.1-2.1 2.1-3.5 2.1-1.9 2.2-3.4 2.1-1.8 2.1-3.6 2.2-2.4 2.1-3.8 2.1-2.4 2.1-1.4 2.2-5.1 2.1-0.9 2.1-2.8 2.2-5.5 2.1-0.8 2.1-4.3 2.1-2.6 2.2-3.9 2.1-6.5M30.3 586.4l2.1-5.4 2.2 0.1 2.1-5.7 2.1-3.8 2.1-3.9 2.2-3.8 2.1-2.2 2.1-4.5 2.2-1.3 2.1-5.6 2.1-2.2 2.1-2.4 2.2-3.9 2.1-0.9 2.1-1.6 2.2-4.4 2.1-2 2.1-1.9 2.1-1.9 2.2-3.1 2.1-2.5 2.1-0.7 2.1-1.8 2.2-3.4 2.1-0.9 2.1-3.4 2.2-1.9 2.1-0.8 2.1-3.2 2.1-0.6 2.2-1.9 2.1-1.9 2.1-1.9 2.2-1.8 2.1-1.5 2.1-1.3 2.1-1.8 2.2-1.1 2.1-1.9 2.1-2.3 2.2-1.7 2.1-1.4 2.1-2.3 2.1-1.1 2.2-2.3 2.1-1.9 2.1-2.6 2.2-1.9 2.1-0.3 2.1-2.5 2.1-0.9 2.2-5.8 2.1 1.5 2.1-4.4 2.1-1.2 2.2-4.3 2.1-2.9 2.1-3.3 2.2-1.5 2.1-4.3 2.1-1.3 2.1-2.6 2.2-3 2.1-3 2.1-6 2.2-2.2 2.1-2.9 2.1-0.1 2.1-6.1 2.2-4.8 2.1-0.9" stroke="#969696" stroke-width="0.5"/>
<path d="M30.3 586.3l2.1-5 2.2-4.9 2.1-4.3 2.1-3.4 2.1-2 2.2-0.8 2.1-4.1 2.1-3.7 2.2-4 2.1-3.3 2.1-1.1 2.1-2.4 2.2-3.4 2.1-2.7 2.1-3.1 2.2-2.6 2.1-1.6 2.1-0.5 2.1-4.1 2.2-0.3 2.1-4.4 2.1-4.2 2.1-1 2.2-1.3 2.1-3.2 2.1 0.1 2.2-2.8 2.1-1.9 2.1-1.3 2.1-2 2.2-2.3 2.1-1.7 2.1-1.7 2.2-1.8 2.1-1.9 2.1-1.4 2.1-1.4 2.2-2.2 2.1-1.4 2.1-1.9 2.2-1 2.1-2.4 2.1-1.6 2.1-1.1 2.2-4.2 2.1-0.9 2.1-2.1 2.2-2.6 2.1-2.6 2.1-1.8 2.1-0.5 2.2-3 2.1-1.4 2.1-2.5 2.1-2.9 2.2-3.2 2.1-0.1 2.1-4.6 2.2-2.4 2.1-1.3 2.1-7.6 2.1 0.3 2.2-4.9 2.1-1.9 2.1-3.9 2.2-4.2 2.1-2.4 2.1-3.5 2.1-5.1 2.2-3.5 2.1-5.6M30.3 585l2.1-0.4 2.2-3.7 2.1-5.9 2.1-4.8 2.1-2.9 2.2-1.2 2.1-5.4 2.1-1.3 2.2-4.6 2.1 0.6 2.1-5 2.1-4.5 2.2-2.3 2.1-3.2 2.1 1.5 2.2-7.4 2.1-1.9 2.1-3.4 2.1 0.1 2.2-3.4 2.1-1.9 2.1-1.4 2.1-2.6 2.2-1.7 2.1-2.4 2.1-1.4 2.2-2.1 2.1-1.5 2.1-2.1 2.1-2.2 2.2-1.9 2.1-1.8 2.1-1.9 2.2-1.4 2.1-1.7 2.1-1.3 2.1-2.8 2.2-2.1 2.1-1 2.1-1.8 2.2-0.9 2.1-2.3 2.1-2.6 2.1-1.1 2.2-0.5 2.1-3.1 2.1-1.7 2.2-2.7 2.1-2.7 2.1-0.8 2.1-2.6 2.2-2.7 2.1-0.5 2.1-3.1 2.1-0.9 2.2-4.5 2.1-3.1 2.1-2.3 2.2-2.8 2.1-1.4 2.1-2.8 2.1-5.4 2.2-2.4 2.1-1.9 2.1-4.4 2.2-1.8 2.1-3.2 2.1-5.5 2.1-3.3 2.2-4.6 2.1-7.1M30.3 586.4l2.1-6.9 2.2 1.5 2.1-7.6 2.1-0.4 2.1-3.1 2.2-5 2.1-3.3 2.1-2.9 2.2-2.2 2.1-4.9 2.1-0.8 2.1-4.9 2.2-5 2.1 1.4 2.1-4.2 2.2-2.4 2.1-1 2.1-3.8 2.1-3.2 2.2-2.2 2.1-1.9 2.1-1.2 2.1-2.4 2.2-1.5 2.1-3.3 2.1-0.7 2.2-1.7 2.1-2.2 2.1-2.9 2.1-0.4 2.2-2.7 2.1-1.8 2.1-1.5 2.2-1.9 2.1-1.1 2.1-2.2 2.1-1.7 2.2-1.1 2.1-2.2 2.1-1.6 2.2-2.1 2.1-1.9 2.1-2.1 2.1-1 2.2-2.4 2.1-2.2 2.1-2.7 2.2-0.8 2.1-1.5 2.1-2 2.1-2.7 2.2-0.7 2.1-2.9 2.1-4.1 2.1-3.9 2.2-1.9 2.1-0.5 2.1-4.7 2.2-1.8 2.1-2 2.1-5.1 2.1-2.6 2.2-3.2 2.1-3 2.1-3.9 2.2-1.9 2.1-3.5 2.1-3.3 2.1-5.7 2.2-3.3 2.1-4.6M30.3 586.9l2.1-0.5 2.2-6.5 2.1-4.8 2.1-3.6 2.1-3.4 2.2-3.1 2.1-5.3 2.1-0.5 2.2-4.8 2.1-3.1 2.1-2.9 2.1-4 2.2 0.4 2.1-2.9 2.1-3.5 2.2-2.7 2.1-2.5 2.1-1.3 2.1-2.6 2.2-3.9 2.1-1.5 2.1-2.2 2.1-2.2 2.2-2.7 2.1-0.7 2.1-2.3 2.2-0.8 2.1-2.6 2.1-2.2 2.1-1.9 2.2-1.3 2.1-1.7 2.1-2 2.2-1.5 2.1-1.8 2.1-1.9 2.1-1.9 2.2-2.1 2.1-1.1 2.1-1.1 2.2-2.3 2.1-1.3 2.1-2.8 2.1-1.8 2.2 0.1 2.1-2.9 2.1-3.9 2.2-1.4 2.1-1 2.1 0.5 2.1-5.7 2.2-2 2.1-1.9 2.1-3.4 2.1-2 2.2-2.8 2.1-1.8 2.1-2.7 2.2-3.4 2.1-2.1 2.1-1.9 2.1-3 2.2-5 2.1-1.9 2.1-3.3 2.2-3.7 2.1-5.4 2.1-0.1 2.1-3.4 2.2-7.5 2.1-3.6M30.3 587.4l2.1-6.3 2.2-0.8 2.1-4.8 2.1-3.3 2.1-1.7 2.2-4.1 2.1-3.8 2.1-3.8 2.2-2.1 2.1-5.9 2.1-1.2 2.1-1.9 2.2-3 2.1-3.5 2.1-2 2.2-2.2 2.1-2.4 2.1-3.5 2.1-3.8 2.2 1.4 2.1-4 2.1-2.4 2.1-1.4 2.2-4 2.1-0.6 2.1-0.8 2.2-3.1 2.1-1.2 2.1-2.9 2.1-1.5 2.2-2.3 2.1-1.2 2.1-2.2 2.2-2 2.1-1.3 2.1-1.4 2.1-1.9 2.2-1.9 2.1-1.4 2.1-2.1 2.2-2.1 2.1-0.5 2.1-1.3 2.1-2.2 2.2-1.3 2.1-2.5 2.1-2.4 2.2-0.8 2.1-3.5 2.1-2 2.1-0.7 2.2-3.2 2.1-1 2.1-4.5 2.1-1.6 2.2-3.3 2.1-3.7 2.1-2.1 2.2-2.3 2.1-3.4 2.1-2.3 2.1-3.8 2.2-5.4 2.1-0.4 2.1-3.9 2.2-3.7 2.1-3.6 2.1-3.9 2.1-1.1 2.2-4.6 2.1-4.5M30.3 589.6l2.1-6.6 2.2-4.9 2.1-0.9 2.1-3.2 2.1-4.8 2.2-4.1 2.1-2.5 2.1-3.6 2.2-4.1 2.1-2.6 2.1-2.1 2.1-1.9 2.2-3.9 2.1-3.8 2.1 0 2.2-5.5 2.1-1.3 2.1-3.5 2.1-0.6 2.2-2.2 2.1-1.8 2.1-3.4 2.1-2 2.2-1.9 2.1-2.2 2.1-2.1 2.2-1.3 2.1-2.7 2.1-0.7 2.1-2.4 2.2-2.2 2.1-1.6 2.1-2 2.2-1.4 2.1-1.8 2.1-1.7 2.1-1.1 2.2-2.6 2.1-0.8 2.1-1.9 2.2-1.5 2.1-2.8 2.1-1.2 2.1-2.9 2.2-2.1 2.1-1.1 2.1-2.6 2.2-3.1 2.1 0.9 2.1-2 2.1-5.2 2.2 0.3 2.1-5.8 2.1-0.4 2.1 0.8 2.2-5.7 2.1-1.5 2.1-2.9 2.2-3.6 2.1-1.3 2.1-3.2 2.1-3.6 2.2-0.9 2.1-4.9 2.1-4 2.2-3.1 2.1-3.6 2.1-3.4 2.1-1.2 2.2-5.2 2.1-2.6M30.3 587.1l2.1-4.6 2.2-4.2 2.1-1.7 2.1-5.4 2.1-3.7 2.2-2 2.1-3.8 2.1-3.7 2.2-5.2 2.1-1.8 2.1-1.6 2.1-2.7 2.2-0.9 2.1-4.1 2.1-3.3 2.2-1.2 2.1-3.3 2.1-3.1 2.1-1 2.2-1.4 2.1-3.4 2.1-2.2 2.1-4.2 2.2-0.1 2.1-2 2.1-2.7 2.2-0.9 2.1-2.1 2.1-2 2.1-1.9 2.2-2 2.1-1.8 2.1-1.6 2.2-2.2 2.1-1.3 2.1-2.1 2.1-1.5 2.2-2 2.1-2.1 2.1-1 2.2-1.6 2.1-2.3 2.1-1.5 2.1-3.2 2.2-0.4 2.1-1.6 2.1-4 2.2 0.2 2.1-3.3 2.1-0.9 2.1-3.4 2.2-3.1 2.1-2.1 2.1-0.6 2.1-3.4 2.2-3.1 2.1-1.4 2.1-4.5 2.2-2.3 2.1-3 2.1-1 2.1-3.5 2.2-1.3 2.1-3.8 2.1-5.4 2.2-2.1 2.1-4.9 2.1-2.6 2.1-4.6 2.2-3.4 2.1-6.2M30.3 586.7l2.1-5.4 2.2-3.8 2.1-3 2.1-3.2 2.1-0.9 2.2-5.7 2.1-1.5 2.1-2.7 2.2-4.4 2.1-4.2 2.1-2.3 2.1-3.1 2.2-2.9 2.1-2.8 2.1-1 2.2-2.6 2.1-3.7 2.1-3.3 2.1-1.4 2.2-1.7 2.1-2.3 2.1-2.2 2.1-1.9 2.2-1.7 2.1-3.6 2.1-1 2.2-0.9 2.1-2.9 2.1-2.1 2.1-2 2.2-1.2 2.1-1.8 2.1-2.6 2.2-1.2 2.1-1.6 2.1-2.1 2.1-2.2 2.2-1.7 2.1-0.8 2.1-2.2 2.2-1.2 2.1-2.2 2.1-1.3 2.1-4.1 2.2-1 2.1-0.8 2.1-2 2.2-3.3 2.1-0.3 2.1-2.5 2.1-2 2.2-2.6 2.1-3.9 2.1 0 2.1-1.8 2.2-2.5 2.1-3.1 2.1-1.8 2.2-3 2.1-3.3 2.1-4.6 2.1-2.9 2.2-2.6 2.1-4.2 2.1-3 2.2-3.3 2.1-2.6 2.1-5.8 2.1-2.5 2.2-3.6 2.1-3.6M30.3 589.3l2.1-8.8 2.2 1.6 2.1-5.8 2.1-4.7 2.1-2.4 2.2-3.6 2.1-2.3 2.1-3.6 2.2-3.2 2.1-2.6 2.1-4.1 2.1-3.7 2.2-3 2.1-3.4 2.1-1.5 2.2-5 2.1 0.4 2.1-1.2 2.1-2.1 2.2-3.7 2.1-2.6 2.1-2.2 2.1-1.5 2.2-2.9 2.1-1.2 2.1-1.6 2.2-2.1 2.1-2.1 2.1-2.1 2.1-1 2.2-2 2.1-2.5 2.1-1.6 2.2-1.9 2.1-1.6 2.1-1.6 2.1-2.1 2.2-1 2.1-2.2 2.1-1.9 2.2-1.9 2.1-0.6 2.1-2.5 2.1-3.1 2.2-1.4 2.1-2.5 2.1-2.3 2.2-0.2 2.1-2.6 2.1-3.4 2.1-1.3 2.2-0.8 2.1-3.5 2.1-2.2 2.1-1.4 2.2-2.7 2.1-3.9 2.1-2.6 2.2-0.8 2.1-3.2 2.1-3.8 2.1-3.5 2.2-3.2 2.1-2.5 2.1-4.9 2.2-0.5 2.1-5 2.1-4.7 2.1-3.6 2.2-3.5 2.1-4.5M30.3 585.8l2.1-0.9 2.2-3.1 2.1-4.4 2.1-1.1 2.1-6.3 2.2-3.9 2.1-2.4 2.1-4 2.2-4.3 2.1-2.1 2.1-4.8 2.1-1.3 2.2-5.5 2.1-0.8 2.1-1.3 2.2-4.4 2.1-1.8 2.1-0.8 2.1-5.1 2.2-0.1 2.1-2.9 2.1-3.7 2.1 0.4 2.2-2 2.1-2.9 2.1-0.3 2.2-4 2.1-0.9 2.1-3.1 2.1-1.7 2.2-1 2.1-1.9 2.1-2.4 2.2-1.3 2.1-2 2.1-1.8 2.1-1.9 2.2-1.3 2.1-1.3 2.1-2.6 2.2-1.6 2.1-2.2 2.1-0.4 2.1-3.7 2.2-1.1 2.1-1.3 2.1-2.7 2.2-1.4 2.1-0.5 2.1-3.2 2.1-3.1 2.2-2.3 2.1-2.3 2.1-1.5 2.1-2.2 2.2-3.2 2.1-3.3 2.1-2.4 2.2-3.3 2.1-1.6 2.1-3 2.1-2.8 2.2-3.4 2.1-2.8 2.1-3.9 2.2-2.9 2.1-6 2.1-1.1 2.1-3.6 2.2-6 2.1-6M30.3 587.7l2.1-3.1 2.2-6.6 2.1-3.1 2.1-3 2.1-3.9 2.2-1.4 2.1-4.1 2.1-3.7 2.2-3.3 2.1-0.2 2.1-5.4 2.1-1.3 2.2-1.8 2.1-5.7 2.1-3 2.2-0.7 2.1-4.2 2.1-1.7 2.1-2.9 2.2-3.1 2.1-1.6 2.1-1.2 2.1-1.1 2.2-2.3 2.1-2.3 2.1-1.9 2.2-2.6 2.1-2.1 2.1-2.6 2.1-1.5 2.2-1 2.1-3 2.1-1.1 2.2-1.7 2.1-1.3 2.1-2.3 2.1-2.6 2.2-0.6 2.1-2 2.1-1.6 2.2-2.2 2.1-0.6 2.1-1.8 2.1-2.9 2.2-2.3 2.1-0.7 2.1-3 2.2-2.6 2.1-1.5 2.1-1.3 2.1-4.5 2.2-1.5 2.1-1.4 2.1-1.4 2.1-1.2 2.2-3.4 2.1-3.2 2.1-1.8 2.2-5.3 2.1-0.5 2.1-6.7 2.1-0.9 2.2-2.8 2.1-4 2.1-4.4 2.2-4 2.1-0.6 2.1-5.8 2.1-2.1 2.2-2.6 2.1-4.2M30.3 586.3l2.1 0.7 2.2-6.9 2.1-3.9 2.1-1.5 2.1-5.2 2.2-3.7 2.1-4.5 2.1-2.4 2.2-2.9 2.1-4 2.1-3.9 2.1-0.3 2.2-4.1 2.1-2.4 2.1-2.7 2.2-3.3 2.1-1 2.1-1.5 2.1-3.4 2.2-1.3 2.1-4.5 2.1-1.9 2.1-0.2 2.2-2.8 2.1-1 2.1-3 2.2-1.8 2.1-3.2 2.1-1.2 2.1-1.7 2.2-2.2 2.1-1.4 2.1-2.1 2.2-1.5 2.1-1.7 2.1-2.5 2.1 0.2 2.2-3.2 2.1-1 2.1-2.7 2.2-0.7 2.1-2.3 2.1-0.8 2.1-3.6 2.2-0.5 2.1-1.3 2.1-0.5 2.2-3.1 2.1-4.4 2.1-0.3 2.1-2.1 2.2-3.6 2.1-2.2 2.1-2.7 2.1-2 2.2-4.9 2.1 0.6 2.1-3.2 2.2-3.3 2.1-3.9 2.1-4.1 2.1-1.4 2.2-4.2 2.1-2.9 2.1-6.8 2.2 1.1 2.1-6.4 2.1-1.9 2.1-4.3 2.2-4.6 2.1-4.9M30.3 588.7l2.1-3.1 2.2-4.7 2.1-4.6 2.1-4.8 2.1-2.4 2.2-3.3 2.1-2 2.1-3.8 2.2-3.9 2.1-0.9 2.1-4.5 2.1-3.4 2.2-4.4 2.1 0.7 2.1-3 2.2-4.7 2.1 0.6 2.1-6.7 2.1-0.5 2.2-2.9 2.1-2 2.1-0.4 2.1-3.9 2.2-1 2.1-2.5 2.1-2.2 2.2-2.1 2.1-2.2 2.1-1.5 2.1-2.3 2.2-1.5 2.1-1.6 2.1-2.1 2.2-1.6 2.1-2 2.1-1.3 2.1-1.7 2.2-2.3 2.1-0.2 2.1-3 2.2-1.2 2.1-2.6 2.1-1.7 2.1-0.7 2.2-3 2.1-2.9 2.1-0.4 2.2-3.1 2.1-3.7 2.1 1.8 2.1-3.8 2.2-4.4 2.1-0.4 2.1-2.4 2.1-1.5 2.2-0.7 2.1-6.4 2.1-2.5 2.2-3.5 2.1-2 2.1-0.9 2.1-1.8 2.2-5.7 2.1-4.7 2.1-2 2.2-3.5 2.1-5.2 2.1-0.7 2.1-4.3 2.2-5.6 2.1-2.3M30.3 589.9l2.1-4.4 2.2-5 2.1-3.9 2.1-2.5 2.1-4 2.2-5.3 2.1-1.8 2.1-3.9 2.2-3 2.1-2.5 2.1-4.4 2.1-1.7 2.2-1.2 2.1-6.1 2.1-0.7 2.2-2.8 2.1-2.7 2.1-1.7 2.1-1.8 2.2-2.5 2.1-2.6 2.1-3.2 2.1-1.3 2.2-2.7 2.1-0.2 2.1-2.9 2.2-2.6 2.1-1.2 2.1-2.9 2.1-1.4 2.2-1.9 2.1-1.7 2.1-2.2 2.2-1.5 2.1-2.2 2.1-1.5 2.1-1.5 2.2-1.3 2.1-2.5 2.1-1 2.2-2.9 2.1-1.6 2.1-0.9 2.1-2.2 2.2-3.4 2.1-1.1 2.1-2.3 2.2-0.8 2.1-3.3 2.1-0.3 2.1-4.1 2.2-2.7 2.1-1.3 2.1-3.1 2.1-1.7 2.2-2.6 2.1-3.1 2.1-2.8 2.2-2.2 2.1-3.1 2.1-1 2.1-2.3 2.2-5.3 2.1 0.3 2.1-4.3 2.2-4 2.1-6.6 2.1-3.9 2.1-7.5 2.2 0.1 2.1-4.4M30.3 588.5l2.1-5.3 2.2-4.1 2.1-3.8 2.1-2.7 2.1-2.5 2.2-4.5 2.1-2 2.1-2.8 2.2-3.1 2.1-5.9 2.1-0.4 2.1-5.5 2.2-1.5 2.1-2.3 2.1-3 2.2-3.9 2.1 0.5 2.1-4 2.1-1.5 2.2-1.7 2.1-1.4 2.1-3.1 2.1-2.1 2.2-2.8 2.1-2.7 2.1-1.7 2.2-1.6 2.1-3.1 2.1-0.8 2.1-2.3 2.2-1.8 2.1-2.2 2.1-1.8 2.2-1.7 2.1-1.8 2.1-1.7 2.1-1.3 2.2-2.5 2.1-1 2.1-1.7 2.2-2.6 2.1-1 2.1-2.2 2.1-3.8 2.2-0.6 2.1-0.9 2.1-2 2.2-3.4 2.1-1.6 2.1-1 2.1-3.7 2.2-0.1 2.1-5.3 2.1-2.4 2.1-2.9 2.2 0.5 2.1-4.6 2.1-4.2 2.2-1 2.1-2.1 2.1-4.6 2.1 0.4 2.2-4.7 2.1-3.8 2.1-2.1 2.2-4 2.1-4.7 2.1-3.6 2.1-2.7 2.2-2.4 2.1-3.8M30.3 588.9l2.1-4.3 2.2-5 2.1-1.5 2.1-4.7 2.1-5.1 2.2-1.9 2.1-5.3 2.1-1.3 2.2-4 2.1-4.3 2.1-2.4 2.1-1.8 2.2-2.7 2.1-3.2 2.1-1.5 2.2-2 2.1-4.4 2.1-2.6 2.1-1.7 2.2-1.9 2.1-1.6 2.1-2.7 2.1-2.3 2.2-2.5 2.1-2.4 2.1-1.4 2.2-2.2 2.1-1 2.1-2.6 2.1-2.3 2.2-1.1 2.1-1.6 2.1-2.5 2.2-1.9 2.1-1.7 2.1-1.3 2.1-2.1 2.2-0.5 2.1-2.7 2.1-1.3 2.2-2.9 2.1-0.4 2.1-3.8 2.1-2.2 2.2-1.5 2.1-1.2 2.1-0.5 2.2-2.4 2.1-3.2 2.1-1.6 2.1-1.4 2.2-2.7 2.1-1.9 2.1-3.8 2.1-2.2 2.2-4.1 2.1-2.2 2.1-1.6 2.2-4.8 2.1 1.3 2.1-3.9 2.1-4 2.2-4.4 2.1-5 2.1-2 2.2-2.9 2.1-3.2 2.1-1.5 2.1-5.5 2.2-6.4 2.1-3.2M30.3 589.4l2.1-3.8 2.2-3.4 2.1-5.4 2.1-3.8 2.1-4.3 2.2-3.4 2.1-3.5 2.1-2.6 2.2-2.4 2.1-3.5 2.1-2.9 2.1-3.6 2.2-1.7 2.1-1.9 2.1-4.1 2.2-1.8 2.1-3.3 2.1-3.7 2.1-1.2 2.2-0.7 2.1-2.6 2.1-3.3 2.1-0.5 2.2-2.9 2.1-2.5 2.1-1.5 2.2-1.8 2.1-2.4 2.1-1.8 2.1-1.9 2.2-2.3 2.1-1.6 2.1-2.1 2.2-2 2.1-1.7 2.1-1.5 2.1-1.6 2.2-2 2.1-1.7 2.1-0.9 2.2-2.1 2.1-3 2.1-0.4 2.1-3.8 2.2-1.3 2.1-1.4 2.1-1.7 2.2-2.6 2.1-2.7 2.1-1.9 2.1-3 2.2-1.5 2.1-1.2 2.1-3.6 2.1-2.7 2.2-1.7 2.1-1.8 2.1-2.9 2.2-4.5 2.1-1.3 2.1-6.3 2.1-2 2.2-0.1 2.1-4.1 2.1-4.8 2.2-1.6 2.1-4.8 2.1-4.9 2.1-3.3 2.2-1.5 2.1-6.6M30.3 587.7l2.1-1.4 2.2-1.9 2.1-8.5 2.1-1.8 2.1-4.8 2.2-1.5 2.1-5.4 2.1-3.9 2.2-2 2.1-3.7 2.1-2.4 2.1-3.5 2.2-1.2 2.1-2.6 2.1-1.4 2.2-4 2.1-2.7 2.1-1.8 2.1-4.3 2.2-1.3 2.1-4.8 2.1-0.3 2.1-1.1 2.2-2.7 2.1-2.5 2.1-2.2 2.2-2.1 2.1-0.9 2.1-2.6 2.1-1.4 2.2-2.3 2.1-1.5 2.1-2 2.2-1.8 2.1-1.5 2.1-1.9 2.1-1.9 2.2-0.7 2.1-2.4 2.1-1.8 2.2-2.7 2.1-1.3 2.1-1.7 2.1-1.3 2.2-2.7 2.1-1.3 2.1-3 2.2-1 2.1-2.3 2.1-2.8 2.1-2.2 2.2-0.4 2.1-4.2 2.1-2.3 2.1-0.8 2.2-3.3 2.1-5.1 2.1-2.1 2.2-1.9 2.1-4.4 2.1 0.2 2.1-6.7 2.2-0.7 2.1-5.7 2.1-1 2.2-3.3 2.1-4.7 2.1-3.1 2.1-5.6 2.2-3.9 2.1-2.7M30.3 590.1l2.1-3 2.2-6.3 2.1-4.1 2.1-3.3 2.1-4.8 2.2-2.7 2.1-4.5 2.1-1.8 2.2-1.3 2.1-5.3 2.1-0.5 2.1-3.9 2.2-1.6 2.1-5 2.1-3.1 2.2 0.1 2.1-3.1 2.1-2.7 2.1-1.4 2.2-3.9 2.1-2.2 2.1-1.4 2.1-1.7 2.2-2.7 2.1-3.3 2.1-1 2.2-2.9 2.1-2.1 2.1-2.2 2.1-1.5 2.2-2 2.1-2.2 2.1-1.4 2.2-1.9 2.1-2.1 2.1-0.9 2.1-2.4 2.2-0.2 2.1-2.1 2.1-1.6 2.2-2.6 2.1-1.9 2.1-0.2 2.1-4.8 2.2-2.2 2.1-1.4 2.1-0.8 2.2-2.7 2.1-1.1 2.1-2.4 2.1-2.1 2.2-3.4 2.1-1.7 2.1-2.6 2.1-4.9 2.2-0.5 2.1-3.8 2.1-2.6 2.2-2 2.1-3 2.1-4.9 2.1-1.1 2.2-4.7 2.1-1.9 2.1-3.5 2.2-5.8 2.1 0.6 2.1-5 2.1-4 2.2-5.3 2.1-2.6M30.3 590.2l2.1-2.8 2.2-5.5 2.1-2.4 2.1-4.5 2.1-3 2.2-4.1 2.1-1.2 2.1-7.7 2.2-1.9 2.1-4 2.1-2.5 2.1-2.4 2.2-4.3 2.1-2.7 2.1-1 2.2-3.7 2.1-1.4 2.1-2.3 2.1-3.3 2.2-2 2.1-2.1 2.1-0.8 2.1-3 2.2-2.8 2.1-2.4 2.1-1.9 2.2-1.3 2.1-2.5 2.1-1.1 2.1-2.7 2.2-2.4 2.1-1.2 2.1-1.9 2.2-2.1 2.1-1.5 2.1-1.8 2.1-2 2.2-1.4 2.1-2.3 2.1-1 2.2-1.7 2.1-2.5 2.1-1.9 2.1-1.7 2.2-2.2 2.1-1.4 2.1-1.5 2.2-3.1 2.1-0.5 2.1-3.8 2.1-3.3 2.2-2.1 2.1-3.1 2.1-1.2 2.1-2.5 2.2-2.2 2.1-2.5 2.1-3.4 2.2-3.5 2.1-1.6 2.1-4.8 2.1-1.7 2.2-0.2 2.1-6.8 2.1-2.1 2.2-4.5 2.1-2.8 2.1-4.2 2.1-7.5 2.2-2.8 2.1-2.2M30.3 589.6l2.1-3.4 2.2-3.7 2.1-5.3 2.1-1.9 2.1-3.6 2.2-4.5 2.1-2.8 2.1-3.6 2.2-4.8 2.1-0.9 2.1-5.8 2.1-3 2.2-1.1 2.1-3.7 2.1-1 2.2-3.3 2.1-2.3 2.1-2 2.1-3.8 2.2-1.7 2.1-2.7 2.1-0.1 2.1-3.2 2.2-1.9 2.1-1.4 2.1-3.7 2.2-1.4 2.1-2.1 2.1-2.6 2.1-1 2.2-2.7 2.1-1 2.1-2.6 2.2-1.7 2.1-1.3 2.1-1.6 2.1-3.3 2.2-0.3 2.1-2.8 2.1-1.3 2.2-1.7 2.1-1.7 2.1-1.1 2.1-1.9 2.2-2.2 2.1-3.3 2.1 0.2 2.2-2.8 2.1-3.4 2.1-1.8 2.1-2 2.2-1.9 2.1-1.6 2.1-3.5 2.1-2.1 2.2-3.3 2.1-2.2 2.1-2.1 2.2-6.1 2.1 1.2 2.1-6.4 2.1-1.5 2.2-3 2.1-2.4 2.1-3.7 2.2-4.1 2.1-1.5 2.1-7.9 2.1-2.8 2.2-3.9 2.1-4.3M30.3 592.1l2.1-4.9 2.2-6.1 2.1-4.8 2.1-2.3 2.1-5.7 2.2 0.4 2.1-3.7 2.1-3.4 2.2-5.1 2.1-0.5 2.1-4 2.1-1.7 2.2-4.3 2.1-1.8 2.1-6.6 2.2-0.5 2.1-1.5 2.1-3.8 2.1-1.7 2.2-1.9 2.1-3.2 2.1-0.7 2.1-4.3 2.2-1.8 2.1-0.4 2.1-2.6 2.2-1 2.1-3.3 2.1-1.9 2.1-1.9 2.2-1.7 2.1-2.2 2.1-1.9 2.2-1.8 2.1-1.6 2.1-1.8 2.1-1.7 2.2-0.9 2.1-2.6 2.1-2.8 2.2-2.2 2.1-0.5 2.1-2.2 2.1-2.7 2.2 0.4 2.1-3.5 2.1-0.2 2.2-3.8 2.1-1.7 2.1-2.3 2.1-2.3 2.2-4.7 2.1 2 2.1-3.8 2.1-4.5 2.2-2.7 2.1-1.7 2.1-4 2.2-2.4 2.1-2.9 2.1-4.1 2.1-0.5 2.2-4.4 2.1-4.2 2.1-1.5 2.2-5.9 2.1-1 2.1-2.9 2.1-4.9 2.2-6 2.1-5.9M30.3 593.2l2.1-6.2 2.2-4.7 2.1-0.1 2.1-7.1 2.1-3.3 2.2-4.8 2.1-1.8 2.1-4.4 2.2-1.9 2.1-5.5 2.1-4.7 2.1-0.8 2.2-4.2 2.1-2.7 2.1-0.9 2.2-2.9 2.1-2.6 2.1-3.2 2.1-0.8 2.2-3.5 2.1-0.9 2.1-3.3 2.1-1.6 2.2-0.9 2.1-3 2.1-2.6 2.2-1.6 2.1-2.2 2.1-3 2.1-0.3 2.2-2.3 2.1-2 2.1-2.2 2.2-1.7 2.1-1.7 2.1-1.5 2.1-1.7 2.2-3 2.1-2.2 2.1-0.4 2.2-1.9 2.1-0.7 2.1-2.8 2.1-2.8 2.2-1.7 2.1-1.5 2.1-3.8 2.2-3.2 2.1 0.6 2.1-1.4 2.1-3.9 2.2-2.6 2.1-0.7 2.1-3.3 2.1-3.9 2.2-1.9 2.1-1.3 2.1-4.8 2.2-0.9 2.1-5.9 2.1-1.2 2.1-0.9 2.2-4.6 2.1-5.5 2.1-4.9 2.2-1.8 2.1-2.9 2.1-7.4 2.1 0.9 2.2-7.4 2.1-0.6M30.3 591.8l2.1-7.3 2.2-2.3 2.1-4.5 2.1-1.4 2.1-5.1 2.2-2 2.1-5.5 2.1-0.5 2.2-5.8 2.1-3.3 2.1-2.5 2.1-3.7 2.2-3.2 2.1-0.9 2.1-2.7 2.2-2.7 2.1-3.1 2.1-2.3 2.1-2.4 2.2-4 2.1-0.9 2.1-1.7 2.1-3.6 2.2-0.1 2.1-2.9 2.1-2.4 2.2-2.1 2.1-1 2.1-2 2.1-2.2 2.2-2.2 2.1-2.6 2.1-1.7 2.2-1.9 2.1-1.4 2.1-1.8 2.1-2.3 2.2-1.6 2.1-1.5 2.1-2.5 2.2-0.8 2.1-1.8 2.1-1.9 2.1-1.8 2.2-3.1 2.1-0.3 2.1-3.7 2.2-0.2 2.1-2.4 2.1-3.9 2.1-2.6 2.2-2 2.1-0.4 2.1-5.8 2.1-2.4 2.2-0.4 2.1-5 2.1-0.5 2.2-3.5 2.1-2 2.1-2.8 2.1-2.7 2.2-4.9 2.1-4.8 2.1-2.4 2.2-5 2.1-4.2 2.1-4.8 2.1-3.3 2.2-2.7 2.1-4.4M30.3 590.1l2.1-2.5 2.2-3.1 2.1-5.1 2.1-5.3 2.1-0.5 2.2-3.6 2.1-3.9 2.1-4.8 2.2-3.3 2.1-1.6 2.1-3.8 2.1-3.9 2.2-0.8 2.1-3.9 2.1-3.4 2.2-3 2.1-2.6 2.1-0.7 2.1-3.7 2.2-2 2.1-3 2.1-2.5 2.1-1.7 2.2-2.4 2.1-3.4 2.1-1.8 2.2-1.4 2.1-1.4 2.1-2.9 2.1-0.7 2.2-1.6 2.1-2.6 2.1-1.8 2.2-1.6 2.1-1.8 2.1-1.9 2.1-1.8 2.2-2.1 2.1-2 2.1-1.8 2.2-0.8 2.1-3.1 2.1-2.6 2.1-0.7 2.2-2 2.1-2.6 2.1-2.2 2.2-1.6 2.1-2.5 2.1-0.9 2.1-1.5 2.2-3.4 2.1-2.6 2.1-2.8 2.1-2.1 2.2-2.2 2.1-4 2.1-3.2 2.2-2.1 2.1-2.9 2.1-3.7 2.1-2.5 2.2-4.7 2.1-2.1 2.1-1.7 2.2-8.6 2.1-1.9 2.1-4.6 2.1-2.5 2.2-4.1 2.1-4.6M30.3 594.1l2.1-4.9 2.2-4.5 2.1-1.6 2.1-5.1 2.1-2.3 2.2-5.2 2.1-4.4 2.1-3.4 2.2-4.3 2.1-2.3 2.1-4 2.1-2.6 2.2-0.2 2.1-5.4 2.1-1.2 2.2-5 2.1-3.2 2.1-2.6 2.1-1.5 2.2-2.1 2.1-1.1 2.1-3.9 2.1-1.7 2.2-1.8 2.1-1.4 2.1-2 2.2-2.6 2.1-2.8 2.1-1.6 2.1-1.7 2.2-2.7 2.1-2 2.1-1.8 2.2-1.8 2.1-1.9 2.1-1.7 2.1-2.1 2.2-1 2.1-3.1 2.1-1.2 2.2-3.3 2.1 1 2.1-2.7 2.1-1.4 2.2-3.1 2.1-2.4 2.1-1.2 2.2-2.8 2.1-2.2 2.1-1.4 2.1-3.1 2.2-1.3 2.1-3.2 2.1-2.5 2.1-2.5 2.2-2.3 2.1-4.3 2.1-2.4 2.2-5 2.1 1.6 2.1-5.4 2.1-3.4 2.2-3.9 2.1-3 2.1-6.3 2.2 0.3 2.1-2.7 2.1-7.1 2.1-2.3 2.2-5.7 2.1-3.4M30.3 594.8l2.1-5.5 2.2-4.1 2.1-3.2 2.1-2.7 2.1-4.7 2.2-4.1 2.1-3.7 2.1-2.2 2.2-5.3 2.1-4.6 2.1-1.8 2.1-4.9 2.2-1.8 2.1-2.1 2.1-2.1 2.2-2.4 2.1-3 2.1-2.9 2.1-1.6 2.2-3 2.1-3.9 2.1 0.7 2.1-4 2.2-2.1 2.1-2.3 2.1-2.2 2.2-1.9 2.1-1.9 2.1-2.2 2.1-1.7 2.2-2.2 2.1-2.2 2.1-2 2.2-1.9 2.1-1.5 2.1-1.5 2.1-3.2 2.2-1.1 2.1-2.1 2.1-1.5 2.2-2.2 2.1-2.2 2.1-2.2 2.1-1 2.2-2.5 2.1-2.4 2.1 0 2.2-3.5 2.1-2.5 2.1-1 2.1-2.6 2.2-4 2.1-1.8 2.1-2 2.1-2.1 2.2-3.5 2.1-6.5 2.1 0.7 2.2-1.7 2.1-2.4 2.1-6.5 2.1-2.6 2.2-1.6 2.1-6.5 2.1-3.4 2.2-1.1 2.1-3.8 2.1-5.5 2.1-3.4 2.2-5 2.1-2.6M30.3 595.3l2.1-6.4 2.2-1.6 2.1-6.1 2.1-4.5 2.1-3.1 2.2-4.3 2.1-2.5 2.1-4.8 2.2-1.7 2.1-3 2.1-2.7 2.1-2.3 2.2-4.8 2.1-3.1 2.1-2.7 2.2-2 2.1-3.2 2.1-3.9 2.1-1.8 2.2-3.3 2.1-1.6 2.1-1.5 2.1-4.2 2.2 0.2 2.1-1.6 2.1-2.8 2.2-2.6 2.1-2.3 2.1-1.8 2.1-1.7 2.2-2.8 2.1-1.6 2.1-2 2.2-1.7 2.1-2.4 2.1-1.8 2.1-1 2.2-2.9 2.1-1.4 2.1-1.6 2.2-2.8 2.1-0.8 2.1-2.4 2.1-2.9 2.2-1.1 2.1-0.7 2.1-2.6 2.2-2.9 2.1-1.3 2.1-2.9 2.1-2.9 2.2-1.2 2.1-1.8 2.1-4.2 2.1-4.2 2.2-0.8 2.1-3.6 2.1-3.1 2.2-2.8 2.1-1.3 2.1-5.3 2.1-3.4 2.2-1.7 2.1-5.1 2.1-2 2.2-3.3 2.1-4.1 2.1-6.7 2.1-3.8 2.2-3.3 2.1-2.4M30.3 596.2l2.1-5.7 2.2-5.4 2.1-3 2.1-5.4 2.1-0.9 2.2-8.3 2.1-0.8 2.1-2.8 2.2-3.6 2.1-3.1 2.1-2.1 2.1-3.6 2.2-4.4 2.1-3.4 2.1-0.8 2.2-4.3 2.1-1.8 2.1-5 2.1-1.1 2.2-2.5 2.1-2 2.1-2.4 2.1-1.7 2.2-1.8 2.1-3.8 2.1-1.9 2.2-1.8 2.1-0.9 2.1-2.6 2.1-2.3 2.2-1.8 2.1-1.5 2.1-2.5 2.2-1.6 2.1-1.7 2.1-2.3 2.1-0.2 2.2-3.9 2.1-0.7 2.1-2.1 2.2-2.1 2.1-1.8 2.1-2 2.1-1.6 2.2-2.7 2.1-1.1 2.1-3 2.2-2.2 2.1-2 2.1-3.7 2.1-1 2.2-2.1 2.1-5.2 2.1-1.9 2.1-1.7 2.2-1.7 2.1-4.8 2.1-1.5 2.2-2.4 2.1-3 2.1-4.5 2.1-2.5 2.2-2.3 2.1-1.6 2.1-7.5 2.2-3 2.1-5.1 2.1-3.4 2.1-5.3 2.2-3.8 2.1-1.2M30.3 592.9l2.1-1.9 2.2-1.2 2.1-3.4 2.1-5.1 2.1-5.5 2.2-5.3 2.1-3.1 2.1-2.4 2.2-5 2.1-0.8 2.1-4.4 2.1-4.8 2.2-4.7 2.1 0.7 2.1-2.5 2.2-4.1 2.1-2.7 2.1-3.1 2.1-2.3 2.2-3.4 2.1-2.6 2.1-1.3 2.1-1 2.2-2.8 2.1-2.5 2.1-1.9 2.2-3 2.1-1.7 2.1-1.8 2.1-2 2.2-2.3 2.1-1.5 2.1-2.1 2.2-2 2.1-1.6 2.1-1.9 2.1-0.9 2.2-3 2.1-1.5 2.1-2.7 2.2-2.1 2.1-1.8 2.1-0.4 2.1-3.3 2.2-2.2 2.1-0.9 2.1-3.6 2.2-1 2.1-1.6 2.1-4.2 2.1-1.5 2.2-5.1 2.1-0.6 2.1-1.8 2.1-3.4 2.2-2.7 2.1-2.6 2.1-2 2.2-3.2 2.1-5.9 2.1-0.4 2.1-6.4 2.2-0.3 2.1-5.7 2.1-2.6 2.2-5.7 2.1-2.2 2.1-4 2.1-3.4 2.2-5.4 2.1-0.8" stroke="#6e6e6e" stroke-width="0.5"/>
<path d="M30.3 595.2l1.5-2.8 1.6-3.1 1.5-3 1.5-2.3 1.5-3.7 1.6-2.3 1.5-3.2 1.5-2.5 1.5-2.7 1.6-2.7 1.5-2.1 1.5-2.9 1.5-2.9 1.6-2.3 1.5-2.3 1.5-2.1 1.5-2 1.6-2.5 1.5-1.6 1.5-2.3 1.6-1.9 1.5-1.9 1.5-1.6 1.5-2.2 1.6-2.2 1.5-1.5 1.5-1.6 1.5-1.9 1.6-1.6 1.5-1.7 1.5-1.5 1.5-2 1.6-1.4 1.5-1.6 1.5-1.6 1.5-1.3 1.6-2 1.5-1.5 1.5-1.3 1.6-1.8 1.5-1.2 1.5-1.5 1.5-1.5 1.6-1.4 1.5-1.5 1.5-1.4 1.5-1.4 1.6-1.4 1.5-1.2 1.5-1.3 1.5-1.4 1.6-1.2 1.5-1.5 1.5-1.4 1.5-1.1 1.6-1.4 1.5-1.3 1.5-1.4 1.5-1.4 1.6-1.6 1.5-1.2 1.5-1.8 1.6-1.8 1.5-0.9 1.5-1.7 1.5-1.5 1.6-1.1 1.5-1.8 1.5-2.5 1.5-1.2 1.6-2.2 1.5-1.3 1.5-2 1.5-1.9 1.6-1.5 1.5-2.4 1.5-1.9 1.5-1.6 1.6-2.1 1.5-1.7 1.5-3 1.6-1.4 1.5-2.5 1.5-2.1 1.5-2.4 1.6-2.8 1.5-2.2 1.5-2.9 1.5-2.1 1.6-3.1 1.5-1.8 1.5-2.9 1.5-1.8 1.6-4.7 1.5-2.8 1.5-2.1 1.5-3.2 1.6-3.4 1.5 0" stroke="#1a1a1a" stroke-width="1.0"/>
</g>
<rect x="30.3" y="401" width="151.1" height="198.8" fill="none" stroke="#7e7e7e" stroke-width="1"/>
<line x1="26.3" y1="438.4" x2="30.3" y2="438.4" stroke="#777" stroke-width="1" />
<text x="22.8" y="442.4" font-size="11.5" fill="#222" color="#222" text-anchor="end" >1</text>
<line x1="26.3" y1="500.5" x2="30.3" y2="500.5" stroke="#777" stroke-width="1" />
<text x="22.8" y="504.5" font-size="11.5" fill="#222" color="#222" text-anchor="end" >0</text>
<line x1="26.3" y1="562.6" x2="30.3" y2="562.6" stroke="#777" stroke-width="1" />
<text x="22.8" y="566.6" font-size="11.5" fill="#222" color="#222" text-anchor="end" >-1</text>
<line x1="30.3" y1="599.8" x2="30.3" y2="603.8" stroke="#777" stroke-width="1" />
<text x="29.3" y="618.1" font-size="11.5" fill="#222" color="#222" text-anchor="middle" >-100</text>
<line x1="68.08" y1="599.8" x2="68.08" y2="603.8" stroke="#777" stroke-width="1" />
<text x="67.08" y="618.1" font-size="11.5" fill="#222" color="#222" text-anchor="middle" >-50</text>
<line x1="105.85" y1="599.8" x2="105.85" y2="603.8" stroke="#777" stroke-width="1" />
<text x="104.85" y="618.1" font-size="11.5" fill="#222" color="#222" text-anchor="middle" >0</text>
<line x1="143.62" y1="599.8" x2="143.62" y2="603.8" stroke="#777" stroke-width="1" />
<text x="142.62" y="618.1" font-size="11.5" fill="#222" color="#222" text-anchor="middle" >50</text>
<line x1="181.4" y1="599.8" x2="181.4" y2="603.8" stroke="#777" stroke-width="1" />
<text x="180.4" y="618.1" font-size="11.5" fill="#222" color="#222" text-anchor="middle" >100</text>
<text x="106" y="635.3" font-size="12" fill="#222" color="#222" text-anchor="middle" class="h" textLength="65" lengthAdjust="spacingAndGlyphs">Voltage, mV</text>
<text transform="translate(12.7,498.3) rotate(-90)" class="h" font-size="15" fill="#222" color="#222" text-anchor="middle" textLength="70" lengthAdjust="spacingAndGlyphs">Current, nA</text>
<text x="45.7" y="425.5" font-size="15.5" class="h" fill="#6f9ef0" color="#6f9ef0" textLength="18.5" lengthAdjust="spacingAndGlyphs">pH</text>
<text x="66.9" y="428.5" font-size="7.5" class="h" fill="#6f9ef0" color="#6f9ef0">i</text>
<text x="73.7" y="425.5" font-size="15" class="h" fill="#6f9ef0" color="#6f9ef0" textLength="9" lengthAdjust="spacingAndGlyphs">=</text>
<text x="86.7" y="425.5" font-size="15" class="h" fill="#6f9ef0" color="#6f9ef0" textLength="20.5" lengthAdjust="spacingAndGlyphs">5.5</text>
<polyline points="243.3,69.2 269.8,69.2 269.8,58.4 298.1,58.4 298.1,46.9 312.7,46.9 312.7,35.6 353.3,35.6 353.3,24.2 385.6,24.2 385.6,13.4 408.5,13.4 408.5,69.1 445,69.1" fill="none" stroke="#5a5a5a" stroke-width="1.2" />
<text x="251.5" y="66.5" font-size="11" fill="#555" color="#555" text-anchor="start" textLength="6.5" lengthAdjust="spacingAndGlyphs">0</text>
<text x="268.8" y="56.4" font-size="11" fill="#555" color="#555" text-anchor="start" textLength="19" lengthAdjust="spacingAndGlyphs">12.5</text>
<text x="292.3" y="45.3" font-size="11" fill="#555" color="#555" text-anchor="start" textLength="16" lengthAdjust="spacingAndGlyphs">125</text>
<text x="324.7" y="33.6" font-size="11" fill="#555" color="#555" text-anchor="start" textLength="17.5" lengthAdjust="spacingAndGlyphs">250</text>
<text x="360.6" y="21.9" font-size="11" fill="#555" color="#555" text-anchor="start" textLength="17.2" lengthAdjust="spacingAndGlyphs">500</text>
<text x="385" y="11.25" font-size="11" fill="#555" color="#555" text-anchor="start" textLength="22.3" lengthAdjust="spacingAndGlyphs">1000</text>
<text x="421.8" y="66.3" font-size="11" fill="#555" color="#555" text-anchor="start" textLength="6.5" lengthAdjust="spacingAndGlyphs">0</text>
<text x="340.8" y="51.6" font-size="11" fill="#6a6a6a" color="#6a6a6a" text-anchor="start" textLength="58.6" lengthAdjust="spacingAndGlyphs">[VUAA1],μM</text>
<rect x="242.3" y="76.3" width="202.7" height="201.2" fill="none" stroke="#555" stroke-width="1"/>
<line x1="238.8" y1="76.2" x2="242.3" y2="76.2" stroke="#555" stroke-width="1" />
<text x="233.8" y="80.5" font-size="11.5" fill="#222" color="#222" text-anchor="end" >3</text>
<line x1="238.8" y1="109.2" x2="242.3" y2="109.2" stroke="#555" stroke-width="1" />
<text x="233.8" y="113.5" font-size="11.5" fill="#222" color="#222" text-anchor="end" >2</text>
<line x1="238.8" y1="142.2" x2="242.3" y2="142.2" stroke="#555" stroke-width="1" />
<text x="233.8" y="146.5" font-size="11.5" fill="#222" color="#222" text-anchor="end" >1</text>
<line x1="238.8" y1="175.2" x2="242.3" y2="175.2" stroke="#555" stroke-width="1" />
<text x="233.8" y="179.5" font-size="11.5" fill="#222" color="#222" text-anchor="end" >0</text>
<line x1="238.8" y1="208.2" x2="242.3" y2="208.2" stroke="#555" stroke-width="1" />
<text x="233.8" y="212.5" font-size="11.5" fill="#222" color="#222" text-anchor="end" >-1</text>
<line x1="238.8" y1="241.2" x2="242.3" y2="241.2" stroke="#555" stroke-width="1" />
<text x="233.8" y="245.5" font-size="11.5" fill="#222" color="#222" text-anchor="end" >-2</text>
<line x1="238.8" y1="274.2" x2="242.3" y2="274.2" stroke="#555" stroke-width="1" />
<text x="233.8" y="278.5" font-size="11.5" fill="#222" color="#222" text-anchor="end" >-3</text>
<line x1="238.8" y1="76.3" x2="242.3" y2="76.3" stroke="#555" stroke-width="1" />
<line x1="242.3" y1="277.5" x2="242.3" y2="281.5" stroke="#555" stroke-width="1" />
<text x="242.3" y="296.6" font-size="11.5" fill="#222" color="#222" text-anchor="middle" >0</text>
<line x1="334.5" y1="277.5" x2="334.5" y2="281.5" stroke="#555" stroke-width="1" />
<text x="334.5" y="296.6" font-size="11.5" fill="#222" color="#222" text-anchor="middle" >100</text>
<line x1="426.7" y1="277.5" x2="426.7" y2="281.5" stroke="#555" stroke-width="1" />
<text x="426.7" y="296.6" font-size="11.5" fill="#222" color="#222" text-anchor="middle" >200</text>
<text x="344.15" y="310.7" font-size="12" fill="#222" color="#222" text-anchor="middle" class="h" textLength="37" lengthAdjust="spacingAndGlyphs">Time, s</text>
<text transform="translate(221,176.3) rotate(-90)" class="h" font-size="15" fill="#222" color="#222" text-anchor="middle" textLength="72" lengthAdjust="spacingAndGlyphs">C urrent,nA</text>
<text x="308.2" y="112.9" font-size="11" fill="#a0a0a0" color="#a0a0a0" text-anchor="start" textLength="40.7" lengthAdjust="spacingAndGlyphs">+100mV</text>
<text x="308.2" y="258" font-size="11" fill="#555" color="#555" text-anchor="start" textLength="37" lengthAdjust="spacingAndGlyphs">-100mV</text>
<g stroke-width="0.8" fill="#c0c0c0" stroke="#858585">
<circle cx="243.2" cy="170.4" r="5.4"/>
<circle cx="244.1" cy="170.2" r="5.4"/>
<circle cx="244.9" cy="170.8" r="5.4"/>
<circle cx="245.8" cy="170.7" r="5.4"/>
<circle cx="246.7" cy="171.0" r="5.4"/>
<circle cx="247.5" cy="171.4" r="5.4"/>
<circle cx="248.4" cy="171.5" r="5.4"/>
<circle cx="249.2" cy="171.1" r="5.4"/>
<circle cx="250.1" cy="170.9" r="5.4"/>
<circle cx="250.9" cy="170.4" r="5.4"/>
<circle cx="251.8" cy="171.1" r="5.4"/>
<circle cx="252.7" cy="170.6" r="5.4"/>
<circle cx="253.5" cy="170.0" r="5.4"/>
<circle cx="254.4" cy="170.0" r="5.4"/>
<circle cx="255.2" cy="170.4" r="5.4"/>
<circle cx="256.1" cy="170.4" r="5.4"/>
<circle cx="256.9" cy="171.7" r="5.4"/>
<circle cx="257.8" cy="170.9" r="5.4"/>
<circle cx="258.7" cy="170.6" r="5.4"/>
<circle cx="259.5" cy="170.7" r="5.4"/>
<circle cx="260.4" cy="170.4" r="5.4"/>
<circle cx="261.2" cy="170.3" r="5.4"/>
<circle cx="262.1" cy="170.5" r="5.4"/>
<circle cx="262.9" cy="171.1" r="5.4"/>
<circle cx="263.8" cy="170.9" r="5.4"/>
<circle cx="264.7" cy="171.1" r="5.4"/>
<circle cx="265.5" cy="170.3" r="5.4"/>
<circle cx="266.4" cy="170.5" r="5.4"/>
<circle cx="267.2" cy="170.2" r="5.4"/>
<circle cx="268.1" cy="170.6" r="5.4"/>
<circle cx="268.9" cy="171.1" r="5.4"/>
<circle cx="269.8" cy="170.7" r="5.4"/>
<circle cx="270.7" cy="171.0" r="5.4"/>
<circle cx="271.5" cy="171.2" r="5.4"/>
<circle cx="272.4" cy="171.3" r="5.4"/>
<circle cx="273.2" cy="170.3" r="5.4"/>
<circle cx="274.1" cy="170.7" r="5.4"/>
<circle cx="274.9" cy="171.0" r="5.4"/>
<circle cx="275.8" cy="170.9" r="5.4"/>
<circle cx="276.7" cy="170.6" r="5.4"/>
<circle cx="277.5" cy="170.7" r="5.4"/>
<circle cx="278.4" cy="170.7" r="5.4"/>
<circle cx="279.2" cy="170.8" r="5.4"/>
<circle cx="280.1" cy="170.2" r="5.4"/>
<circle cx="281.0" cy="170.7" r="5.4"/>
<circle cx="281.8" cy="169.8" r="5.4"/>
<circle cx="282.7" cy="170.8" r="5.4"/>
<circle cx="283.5" cy="171.6" r="5.4"/>
<circle cx="284.4" cy="170.8" r="5.4"/>
<circle cx="285.2" cy="170.2" r="5.4"/>
<circle cx="286.1" cy="170.3" r="5.4"/>
<circle cx="287.0" cy="170.1" r="5.4"/>
<circle cx="287.8" cy="170.0" r="5.4"/>
<circle cx="288.7" cy="169.6" r="5.4"/>
<circle cx="289.5" cy="170.5" r="5.4"/>
<circle cx="290.4" cy="169.8" r="5.4"/>
<circle cx="291.2" cy="170.1" r="5.4"/>
<circle cx="292.1" cy="170.3" r="5.4"/>
<circle cx="293.0" cy="169.5" r="5.4"/>
<circle cx="293.8" cy="169.5" r="5.4"/>
<circle cx="294.7" cy="170.7" r="5.4"/>
<circle cx="295.5" cy="169.7" r="5.4"/>
<circle cx="296.4" cy="169.7" r="5.4"/>
<circle cx="297.2" cy="170.5" r="5.4"/>
<circle cx="298.1" cy="170.3" r="5.4"/>
<circle cx="299.0" cy="170.1" r="5.4"/>
<circle cx="299.8" cy="170.0" r="5.4"/>
<circle cx="300.7" cy="169.5" r="5.4"/>
<circle cx="301.5" cy="169.4" r="5.4"/>
<circle cx="302.4" cy="170.4" r="5.4"/>
<circle cx="303.2" cy="170.9" r="5.4"/>
<circle cx="304.1" cy="170.2" r="5.4"/>
<circle cx="305.0" cy="169.6" r="5.4"/>
<circle cx="305.8" cy="169.6" r="5.4"/>
<circle cx="306.7" cy="169.2" r="5.4"/>
<circle cx="307.5" cy="169.2" r="5.4"/>
<circle cx="308.4" cy="169.2" r="5.4"/>
<circle cx="309.2" cy="170.1" r="5.4"/>
<circle cx="310.1" cy="169.1" r="5.4"/>
<circle cx="311.0" cy="170.0" r="5.4"/>
<circle cx="311.8" cy="168.9" r="5.4"/>
<circle cx="312.7" cy="169.1" r="5.4"/>
<circle cx="313.5" cy="169.0" r="5.4"/>
<circle cx="314.4" cy="168.7" r="5.4"/>
<circle cx="315.2" cy="168.5" r="5.4"/>
<circle cx="316.1" cy="168.5" r="5.4"/>
<circle cx="317.0" cy="168.7" r="5.4"/>
<circle cx="317.8" cy="167.6" r="5.4"/>
<circle cx="318.7" cy="167.1" r="5.4"/>
<circle cx="319.5" cy="166.5" r="5.4"/>
<circle cx="320.4" cy="166.2" r="5.4"/>
<circle cx="321.3" cy="164.1" r="5.4"/>
<circle cx="322.1" cy="166.9" r="5.4"/>
<circle cx="323.0" cy="165.7" r="5.4"/>
<circle cx="323.8" cy="162.0" r="5.4"/>
<circle cx="324.7" cy="161.6" r="5.4"/>
<circle cx="325.5" cy="162.7" r="5.4"/>
<circle cx="326.4" cy="161.5" r="5.4"/>
<circle cx="327.3" cy="159.6" r="5.4"/>
<circle cx="328.1" cy="156.3" r="5.4"/>
<circle cx="329.0" cy="156.1" r="5.4"/>
<circle cx="329.8" cy="155.3" r="5.4"/>
<circle cx="330.7" cy="154.5" r="5.4"/>
<circle cx="331.5" cy="151.3" r="5.4"/>
<circle cx="332.4" cy="151.7" r="5.4"/>
<circle cx="333.3" cy="148.1" r="5.4"/>
<circle cx="334.1" cy="148.3" r="5.4"/>
<circle cx="335.0" cy="146.2" r="5.4"/>
<circle cx="335.8" cy="144.9" r="5.4"/>
<circle cx="336.7" cy="144.2" r="5.4"/>
<circle cx="337.5" cy="143.1" r="5.4"/>
<circle cx="338.4" cy="139.3" r="5.4"/>
<circle cx="339.3" cy="138.4" r="5.4"/>
<circle cx="340.1" cy="140.6" r="5.4"/>
<circle cx="341.0" cy="136.4" r="5.4"/>
<circle cx="341.8" cy="137.9" r="5.4"/>
<circle cx="342.7" cy="135.0" r="5.4"/>
<circle cx="343.5" cy="133.8" r="5.4"/>
<circle cx="344.4" cy="132.6" r="5.4"/>
<circle cx="345.3" cy="132.2" r="5.4"/>
<circle cx="346.1" cy="130.6" r="5.4"/>
<circle cx="347.0" cy="126.8" r="5.4"/>
<circle cx="347.8" cy="126.9" r="5.4"/>
<circle cx="348.7" cy="124.9" r="5.4"/>
<circle cx="349.5" cy="122.2" r="5.4"/>
<circle cx="350.4" cy="122.3" r="5.4"/>
<circle cx="351.3" cy="120.4" r="5.4"/>
<circle cx="352.1" cy="120.3" r="5.4"/>
<circle cx="353.0" cy="118.5" r="5.4"/>
<circle cx="353.8" cy="116.6" r="5.4"/>
<circle cx="354.7" cy="116.9" r="5.4"/>
<circle cx="355.5" cy="116.6" r="5.4"/>
<circle cx="356.4" cy="113.6" r="5.4"/>
<circle cx="357.3" cy="112.6" r="5.4"/>
<circle cx="358.1" cy="111.2" r="5.4"/>
<circle cx="359.0" cy="110.4" r="5.4"/>
<circle cx="359.8" cy="109.0" r="5.4"/>
<circle cx="360.7" cy="107.9" r="5.4"/>
<circle cx="361.6" cy="105.6" r="5.4"/>
<circle cx="362.4" cy="103.4" r="5.4"/>
<circle cx="363.3" cy="102.8" r="5.4"/>
<circle cx="364.1" cy="100.1" r="5.4"/>
<circle cx="365.0" cy="101.1" r="5.4"/>
<circle cx="365.8" cy="99.5" r="5.4"/>
<circle cx="366.7" cy="96.5" r="5.4"/>
<circle cx="367.6" cy="95.3" r="5.4"/>
<circle cx="368.4" cy="96.2" r="5.4"/>
<circle cx="369.3" cy="96.2" r="5.4"/>
<circle cx="370.1" cy="94.3" r="5.4"/>
<circle cx="371.0" cy="94.9" r="5.4"/>
<circle cx="371.8" cy="93.9" r="5.4"/>
<circle cx="372.7" cy="92.6" r="5.4"/>
<circle cx="373.6" cy="93.2" r="5.4"/>
<circle cx="374.4" cy="93.9" r="5.4"/>
<circle cx="375.3" cy="92.2" r="5.4"/>
<circle cx="376.1" cy="94.2" r="5.4"/>
<circle cx="377.0" cy="92.9" r="5.4"/>
<circle cx="377.8" cy="88.8" r="5.4"/>
<circle cx="378.7" cy="91.3" r="5.4"/>
<circle cx="379.6" cy="90.6" r="5.4"/>
<circle cx="380.4" cy="92.0" r="5.4"/>
<circle cx="381.3" cy="88.7" r="5.4"/>
<circle cx="382.1" cy="91.5" r="5.4"/>
<circle cx="383.0" cy="88.6" r="5.4"/>
<circle cx="383.8" cy="88.5" r="5.4"/>
<circle cx="384.7" cy="89.8" r="5.4"/>
<circle cx="385.6" cy="88.1" r="5.4"/>
<circle cx="386.4" cy="91.2" r="5.4"/>
<circle cx="387.3" cy="87.3" r="5.4"/>
<circle cx="388.1" cy="87.3" r="5.4"/>
<circle cx="389.0" cy="88.7" r="5.4"/>
<circle cx="389.8" cy="88.3" r="5.4"/>
<circle cx="390.7" cy="88.0" r="5.4"/>
<circle cx="391.6" cy="87.8" r="5.4"/>
<circle cx="392.4" cy="87.9" r="5.4"/>
<circle cx="393.3" cy="85.8" r="5.4"/>
<circle cx="394.1" cy="87.6" r="5.4"/>
<circle cx="395.0" cy="86.5" r="5.4"/>
<circle cx="395.8" cy="86.9" r="5.4"/>
<circle cx="396.7" cy="82.8" r="5.4"/>
<circle cx="397.6" cy="84.0" r="5.4"/>
<circle cx="398.4" cy="87.1" r="5.4"/>
<circle cx="399.3" cy="83.7" r="5.4"/>
<circle cx="400.1" cy="81.1" r="5.4"/>
<circle cx="401.0" cy="84.3" r="5.4"/>
<circle cx="401.9" cy="84.6" r="5.4"/>
<circle cx="402.7" cy="84.7" r="5.4"/>
<circle cx="403.6" cy="83.4" r="5.4"/>
<circle cx="404.4" cy="82.4" r="5.4"/>
<circle cx="405.3" cy="84.8" r="5.4"/>
<circle cx="406.1" cy="86.8" r="5.4"/>
<circle cx="407.0" cy="86.0" r="5.4"/>
<circle cx="407.9" cy="88.0" r="5.4"/>
<circle cx="408.7" cy="92.4" r="5.4"/>
<circle cx="409.6" cy="95.2" r="5.4"/>
<circle cx="410.4" cy="100.2" r="5.4"/>
<circle cx="411.3" cy="104.7" r="5.4"/>
<circle cx="412.1" cy="117.3" r="5.4"/>
<circle cx="413.0" cy="129.8" r="5.4"/>
<circle cx="413.9" cy="147.0" r="5.4"/>
<circle cx="414.7" cy="153.7" r="5.4"/>
<circle cx="415.6" cy="159.7" r="5.4"/>
<circle cx="416.4" cy="160.6" r="5.4"/>
<circle cx="417.3" cy="162.5" r="5.4"/>
<circle cx="418.1" cy="163.6" r="5.4"/>
<circle cx="419.0" cy="164.5" r="5.4"/>
<circle cx="419.9" cy="163.9" r="5.4"/>
<circle cx="420.7" cy="164.0" r="5.4"/>
<circle cx="421.6" cy="165.7" r="5.4"/>
<circle cx="422.4" cy="164.8" r="5.4"/>
<circle cx="423.3" cy="167.7" r="5.4"/>
<circle cx="424.1" cy="164.9" r="5.4"/>
<circle cx="425.0" cy="168.0" r="5.4"/>
<circle cx="425.9" cy="168.9" r="5.4"/>
<circle cx="426.7" cy="168.0" r="5.4"/>
<circle cx="427.6" cy="166.3" r="5.4"/>
<circle cx="428.4" cy="166.7" r="5.4"/>
<circle cx="429.3" cy="166.7" r="5.4"/>
<circle cx="430.1" cy="168.3" r="5.4"/>
<circle cx="431.0" cy="168.6" r="5.4"/>
<circle cx="431.9" cy="168.7" r="5.4"/>
<circle cx="432.7" cy="167.9" r="5.4"/>
<circle cx="433.6" cy="167.9" r="5.4"/>
<circle cx="434.4" cy="168.2" r="5.4"/>
<circle cx="435.3" cy="167.8" r="5.4"/>
<circle cx="436.2" cy="168.6" r="5.4"/>
<circle cx="437.0" cy="168.5" r="5.4"/>
<circle cx="437.9" cy="167.6" r="5.4"/>
<circle cx="438.7" cy="168.8" r="5.4"/>
<circle cx="439.6" cy="168.5" r="5.4"/>
<circle cx="440.4" cy="168.1" r="5.4"/>
<circle cx="441.3" cy="169.7" r="5.4"/>
<circle cx="442.2" cy="170.6" r="5.4"/>
<circle cx="443.0" cy="169.5" r="5.4"/>
<circle cx="443.9" cy="168.6" r="5.4"/>
<circle cx="444.7" cy="169.2" r="5.4"/>
<circle cx="445.6" cy="169.4" r="5.4"/>
<circle cx="446.4" cy="169.2" r="5.4"/>
</g><g stroke-width="0.8" fill="#7c7c7c" stroke="#4a4a4a">
<circle cx="243.2" cy="182.7" r="5.4"/>
<circle cx="244.1" cy="182.2" r="5.4"/>
<circle cx="244.9" cy="182.8" r="5.4"/>
<circle cx="245.8" cy="182.8" r="5.4"/>
<circle cx="246.7" cy="182.8" r="5.4"/>
<circle cx="247.5" cy="182.9" r="5.4"/>
<circle cx="248.4" cy="181.7" r="5.4"/>
<circle cx="249.2" cy="182.3" r="5.4"/>
<circle cx="250.1" cy="182.7" r="5.4"/>
<circle cx="250.9" cy="183.6" r="5.4"/>
<circle cx="251.8" cy="182.9" r="5.4"/>
<circle cx="252.7" cy="182.4" r="5.4"/>
<circle cx="253.5" cy="182.6" r="5.4"/>
<circle cx="254.4" cy="182.8" r="5.4"/>
<circle cx="255.2" cy="182.4" r="5.4"/>
<circle cx="256.1" cy="182.6" r="5.4"/>
<circle cx="256.9" cy="183.0" r="5.4"/>
<circle cx="257.8" cy="182.6" r="5.4"/>
<circle cx="258.7" cy="182.4" r="5.4"/>
<circle cx="259.5" cy="182.4" r="5.4"/>
<circle cx="260.4" cy="182.8" r="5.4"/>
<circle cx="261.2" cy="182.9" r="5.4"/>
<circle cx="262.1" cy="182.7" r="5.4"/>
<circle cx="262.9" cy="182.4" r="5.4"/>
<circle cx="263.8" cy="182.5" r="5.4"/>
<circle cx="264.7" cy="182.2" r="5.4"/>
<circle cx="265.5" cy="182.8" r="5.4"/>
<circle cx="266.4" cy="182.7" r="5.4"/>
<circle cx="267.2" cy="182.7" r="5.4"/>
<circle cx="268.1" cy="182.5" r="5.4"/>
<circle cx="268.9" cy="183.1" r="5.4"/>
<circle cx="269.8" cy="182.1" r="5.4"/>
<circle cx="270.7" cy="182.7" r="5.4"/>
<circle cx="271.5" cy="182.1" r="5.4"/>
<circle cx="272.4" cy="182.0" r="5.4"/>
<circle cx="273.2" cy="183.2" r="5.4"/>
<circle cx="274.1" cy="182.5" r="5.4"/>
<circle cx="274.9" cy="182.4" r="5.4"/>
<circle cx="275.8" cy="182.6" r="5.4"/>
<circle cx="276.7" cy="182.4" r="5.4"/>
<circle cx="277.5" cy="182.9" r="5.4"/>
<circle cx="278.4" cy="182.2" r="5.4"/>
<circle cx="279.2" cy="182.5" r="5.4"/>
<circle cx="280.1" cy="182.7" r="5.4"/>
<circle cx="281.0" cy="183.6" r="5.4"/>
<circle cx="281.8" cy="182.2" r="5.4"/>
<circle cx="282.7" cy="183.1" r="5.4"/>
<circle cx="283.5" cy="182.0" r="5.4"/>
<circle cx="284.4" cy="182.1" r="5.4"/>
<circle cx="285.2" cy="183.1" r="5.4"/>
<circle cx="286.1" cy="183.1" r="5.4"/>
<circle cx="287.0" cy="182.4" r="5.4"/>
<circle cx="287.8" cy="182.0" r="5.4"/>
<circle cx="288.7" cy="182.4" r="5.4"/>
<circle cx="289.5" cy="182.4" r="5.4"/>
<circle cx="290.4" cy="182.4" r="5.4"/>
<circle cx="291.2" cy="181.8" r="5.4"/>
<circle cx="292.1" cy="182.3" r="5.4"/>
<circle cx="293.0" cy="183.0" r="5.4"/>
<circle cx="293.8" cy="181.9" r="5.4"/>
<circle cx="294.7" cy="182.1" r="5.4"/>
<circle cx="295.5" cy="182.5" r="5.4"/>
<circle cx="296.4" cy="182.5" r="5.4"/>
<circle cx="297.2" cy="181.9" r="5.4"/>
<circle cx="298.1" cy="182.2" r="5.4"/>
<circle cx="299.0" cy="182.5" r="5.4"/>
<circle cx="299.8" cy="182.0" r="5.4"/>
<circle cx="300.7" cy="182.6" r="5.4"/>
<circle cx="301.5" cy="182.6" r="5.4"/>
<circle cx="302.4" cy="183.2" r="5.4"/>
<circle cx="303.2" cy="182.7" r="5.4"/>
<circle cx="304.1" cy="181.5" r="5.4"/>
<circle cx="305.0" cy="183.3" r="5.4"/>
<circle cx="305.8" cy="183.2" r="5.4"/>
<circle cx="306.7" cy="182.3" r="5.4"/>
<circle cx="307.5" cy="183.0" r="5.4"/>
<circle cx="308.4" cy="182.4" r="5.4"/>
<circle cx="309.2" cy="182.1" r="5.4"/>
<circle cx="310.1" cy="183.0" r="5.4"/>
<circle cx="311.0" cy="183.1" r="5.4"/>
<circle cx="311.8" cy="182.5" r="5.4"/>
<circle cx="312.7" cy="182.7" r="5.4"/>
<circle cx="313.5" cy="182.3" r="5.4"/>
<circle cx="314.4" cy="183.1" r="5.4"/>
<circle cx="315.2" cy="182.8" r="5.4"/>
<circle cx="316.1" cy="183.3" r="5.4"/>
<circle cx="317.0" cy="183.5" r="5.4"/>
<circle cx="317.8" cy="183.5" r="5.4"/>
<circle cx="318.7" cy="184.1" r="5.4"/>
<circle cx="319.5" cy="183.6" r="5.4"/>
<circle cx="320.4" cy="184.5" r="5.4"/>
<circle cx="321.3" cy="185.9" r="5.4"/>
<circle cx="322.1" cy="186.4" r="5.4"/>
<circle cx="323.0" cy="186.7" r="5.4"/>
<circle cx="323.8" cy="188.7" r="5.4"/>
<circle cx="324.7" cy="189.6" r="5.4"/>
<circle cx="325.5" cy="190.2" r="5.4"/>
<circle cx="326.4" cy="192.6" r="5.4"/>
<circle cx="327.3" cy="193.2" r="5.4"/>
<circle cx="328.1" cy="192.9" r="5.4"/>
<circle cx="329.0" cy="195.6" r="5.4"/>
<circle cx="329.8" cy="196.7" r="5.4"/>
<circle cx="330.7" cy="198.1" r="5.4"/>
<circle cx="331.5" cy="198.3" r="5.4"/>
<circle cx="332.4" cy="199.4" r="5.4"/>
<circle cx="333.3" cy="201.3" r="5.4"/>
<circle cx="334.1" cy="203.4" r="5.4"/>
<circle cx="335.0" cy="204.6" r="5.4"/>
<circle cx="335.8" cy="204.6" r="5.4"/>
<circle cx="336.7" cy="207.5" r="5.4"/>
<circle cx="337.5" cy="207.2" r="5.4"/>
<circle cx="338.4" cy="213.4" r="5.4"/>
<circle cx="339.3" cy="212.7" r="5.4"/>
<circle cx="340.1" cy="212.8" r="5.4"/>
<circle cx="341.0" cy="216.5" r="5.4"/>
<circle cx="341.8" cy="218.3" r="5.4"/>
<circle cx="342.7" cy="220.6" r="5.4"/>
<circle cx="343.5" cy="219.1" r="5.4"/>
<circle cx="344.4" cy="221.3" r="5.4"/>
<circle cx="345.3" cy="221.7" r="5.4"/>
<circle cx="346.1" cy="225.5" r="5.4"/>
<circle cx="347.0" cy="225.7" r="5.4"/>
<circle cx="347.8" cy="226.7" r="5.4"/>
<circle cx="348.7" cy="228.9" r="5.4"/>
<circle cx="349.5" cy="229.9" r="5.4"/>
<circle cx="350.4" cy="230.0" r="5.4"/>
<circle cx="351.3" cy="231.8" r="5.4"/>
<circle cx="352.1" cy="231.9" r="5.4"/>
<circle cx="353.0" cy="232.8" r="5.4"/>
<circle cx="353.8" cy="234.0" r="5.4"/>
<circle cx="354.7" cy="235.4" r="5.4"/>
<circle cx="355.5" cy="235.7" r="5.4"/>
<circle cx="356.4" cy="234.8" r="5.4"/>
<circle cx="357.3" cy="236.9" r="5.4"/>
<circle cx="358.1" cy="239.4" r="5.4"/>
<circle cx="359.0" cy="241.5" r="5.4"/>
<circle cx="359.8" cy="242.3" r="5.4"/>
<circle cx="360.7" cy="244.7" r="5.4"/>
<circle cx="361.6" cy="248.3" r="5.4"/>
<circle cx="362.4" cy="249.8" r="5.4"/>
<circle cx="363.3" cy="251.9" r="5.4"/>
<circle cx="364.1" cy="251.6" r="5.4"/>
<circle cx="365.0" cy="253.8" r="5.4"/>
<circle cx="365.8" cy="256.4" r="5.4"/>
<circle cx="366.7" cy="258.7" r="5.4"/>
<circle cx="367.6" cy="259.4" r="5.4"/>
<circle cx="368.4" cy="261.5" r="5.4"/>
<circle cx="369.3" cy="263.7" r="5.4"/>
<circle cx="370.1" cy="265.5" r="5.4"/>
<circle cx="371.0" cy="265.9" r="5.4"/>
<circle cx="371.8" cy="266.5" r="5.4"/>
<circle cx="372.7" cy="263.2" r="5.4"/>
<circle cx="373.6" cy="266.3" r="5.4"/>
<circle cx="374.4" cy="266.2" r="5.4"/>
<circle cx="375.3" cy="266.5" r="5.4"/>
<circle cx="376.1" cy="267.3" r="5.4"/>
<circle cx="377.0" cy="266.2" r="5.4"/>
<circle cx="377.8" cy="268.4" r="5.4"/>
<circle cx="378.7" cy="268.8" r="5.4"/>
<circle cx="379.6" cy="269.2" r="5.4"/>
<circle cx="380.4" cy="270.4" r="5.4"/>
<circle cx="381.3" cy="270.7" r="5.4"/>
<circle cx="382.1" cy="269.4" r="5.4"/>
<circle cx="383.0" cy="271.1" r="5.4"/>
<circle cx="383.8" cy="269.4" r="5.4"/>
<circle cx="384.7" cy="270.5" r="5.4"/>
<circle cx="385.6" cy="270.4" r="5.4"/>
<circle cx="386.4" cy="271.2" r="5.4"/>
<circle cx="387.3" cy="271.2" r="5.4"/>
<circle cx="388.1" cy="271.7" r="5.4"/>
<circle cx="389.0" cy="272.0" r="5.4"/>
<circle cx="389.8" cy="272.3" r="5.4"/>
<circle cx="390.7" cy="272.7" r="5.4"/>
<circle cx="391.6" cy="272.6" r="5.4"/>
<circle cx="392.4" cy="272.1" r="5.4"/>
<circle cx="393.3" cy="271.8" r="5.4"/>
<circle cx="394.1" cy="272.3" r="5.4"/>
<circle cx="395.0" cy="272.7" r="5.4"/>
<circle cx="395.8" cy="272.8" r="5.4"/>
<circle cx="396.7" cy="272.9" r="5.4"/>
<circle cx="397.6" cy="272.5" r="5.4"/>
<circle cx="398.4" cy="274.3" r="5.4"/>
<circle cx="399.3" cy="276.1" r="5.4"/>
<circle cx="400.1" cy="277.1" r="5.4"/>
<circle cx="401.0" cy="273.7" r="5.4"/>
<circle cx="401.9" cy="272.9" r="5.4"/>
<circle cx="402.7" cy="274.4" r="5.4"/>
<circle cx="403.6" cy="278.9" r="5.4"/>
<circle cx="404.4" cy="271.8" r="5.4"/>
<circle cx="405.3" cy="271.8" r="5.4"/>
<circle cx="406.1" cy="273.4" r="5.4"/>
<circle cx="407.0" cy="272.7" r="5.4"/>
<circle cx="407.9" cy="271.1" r="5.4"/>
<circle cx="408.7" cy="273.0" r="5.4"/>
<circle cx="409.6" cy="272.5" r="5.4"/>
<circle cx="410.4" cy="269.7" r="5.4"/>
<circle cx="411.3" cy="265.8" r="5.4"/>
<circle cx="412.1" cy="257.4" r="5.4"/>
<circle cx="413.0" cy="243.5" r="5.4"/>
<circle cx="413.9" cy="230.0" r="5.4"/>
<circle cx="414.7" cy="212.8" r="5.4"/>
<circle cx="415.6" cy="202.9" r="5.4"/>
<circle cx="416.4" cy="196.2" r="5.4"/>
<circle cx="417.3" cy="194.4" r="5.4"/>
<circle cx="418.1" cy="191.1" r="5.4"/>
<circle cx="419.0" cy="189.2" r="5.4"/>
<circle cx="419.9" cy="189.0" r="5.4"/>
<circle cx="420.7" cy="185.3" r="5.4"/>
<circle cx="421.6" cy="187.5" r="5.4"/>
<circle cx="422.4" cy="184.9" r="5.4"/>
<circle cx="423.3" cy="186.7" r="5.4"/>
<circle cx="424.1" cy="184.9" r="5.4"/>
<circle cx="425.0" cy="185.3" r="5.4"/>
<circle cx="425.9" cy="184.9" r="5.4"/>
<circle cx="426.7" cy="185.2" r="5.4"/>
<circle cx="427.6" cy="185.0" r="5.4"/>
<circle cx="428.4" cy="184.7" r="5.4"/>
<circle cx="429.3" cy="181.2" r="5.4"/>
<circle cx="430.1" cy="182.8" r="5.4"/>
<circle cx="431.0" cy="185.1" r="5.4"/>
<circle cx="431.9" cy="183.9" r="5.4"/>
<circle cx="432.7" cy="184.8" r="5.4"/>
<circle cx="433.6" cy="182.2" r="5.4"/>
<circle cx="434.4" cy="182.1" r="5.4"/>
<circle cx="435.3" cy="183.0" r="5.4"/>
<circle cx="436.2" cy="183.7" r="5.4"/>
<circle cx="437.0" cy="182.7" r="5.4"/>
<circle cx="437.9" cy="183.1" r="5.4"/>
<circle cx="438.7" cy="182.0" r="5.4"/>
<circle cx="439.6" cy="181.8" r="5.4"/>
<circle cx="440.4" cy="182.0" r="5.4"/>
<circle cx="441.3" cy="181.8" r="5.4"/>
<circle cx="442.2" cy="181.1" r="5.4"/>
<circle cx="443.0" cy="180.6" r="5.4"/>
<circle cx="443.9" cy="180.1" r="5.4"/>
<circle cx="444.7" cy="180.4" r="5.4"/>
<circle cx="445.6" cy="180.5" r="5.4"/>
<circle cx="446.4" cy="179.9" r="5.4"/>
</g>
<polyline points="241,394.7 292.2,394.7 292.2,383.3 311.6,383.3 311.6,372.3 327.7,372.3 327.7,361.4 349.8,361.4 349.8,350 379.5,350 379.5,339 416.5,339 416.5,395 442.5,395" fill="none" stroke="#5a5a5a" stroke-width="1.2" />
<text x="259.8" y="391.6" font-size="11" fill="#555" color="#555" text-anchor="start" textLength="6.5" lengthAdjust="spacingAndGlyphs">0</text>
<text x="284.4" y="381.7" font-size="11" fill="#555" color="#555" text-anchor="start" textLength="18.7" lengthAdjust="spacingAndGlyphs">12.5</text>
<text x="307.3" y="370.8" font-size="11" fill="#555" color="#555" text-anchor="start" textLength="16.4" lengthAdjust="spacingAndGlyphs">125</text>
<text x="329.7" y="359" font-size="11" fill="#555" color="#555" text-anchor="start" textLength="16.7" lengthAdjust="spacingAndGlyphs">250</text>
<text x="356.6" y="348.1" font-size="11" fill="#555" color="#555" text-anchor="start" textLength="17.1" lengthAdjust="spacingAndGlyphs">500</text>
<text x="387.5" y="336.5" font-size="11" fill="#555" color="#555" text-anchor="start" textLength="22.2" lengthAdjust="spacingAndGlyphs">1000</text>
<text x="426.8" y="392.3" font-size="11" fill="#555" color="#555" text-anchor="start" textLength="6.5" lengthAdjust="spacingAndGlyphs">0</text>
<text x="346.9" y="375" font-size="11" fill="#6a6a6a" color="#6a6a6a" text-anchor="start" textLength="57.8" lengthAdjust="spacingAndGlyphs">[VUAA1],μM</text>
<rect x="240.6" y="401.8" width="202.6" height="197.6" fill="none" stroke="#555" stroke-width="1"/>
<line x1="237.1" y1="439.8" x2="240.6" y2="439.8" stroke="#555" stroke-width="1" />
<text x="232.1" y="444.1" font-size="11.5" fill="#222" color="#222" text-anchor="end" >1</text>
<line x1="237.1" y1="501.05" x2="240.6" y2="501.05" stroke="#555" stroke-width="1" />
<text x="232.1" y="505.35" font-size="11.5" fill="#222" color="#222" text-anchor="end" >0</text>
<line x1="237.1" y1="562.3" x2="240.6" y2="562.3" stroke="#555" stroke-width="1" />
<text x="232.1" y="566.6" font-size="11.5" fill="#222" color="#222" text-anchor="end" >-1</text>
<line x1="240.6" y1="599.4" x2="240.6" y2="603.4" stroke="#555" stroke-width="1" />
<text x="240.6" y="617.3" font-size="11.5" fill="#222" color="#222" text-anchor="middle" >0</text>
<line x1="332.4" y1="599.4" x2="332.4" y2="603.4" stroke="#555" stroke-width="1" />
<text x="332.4" y="617.3" font-size="11.5" fill="#222" color="#222" text-anchor="middle" >100</text>
<line x1="424.2" y1="599.4" x2="424.2" y2="603.4" stroke="#555" stroke-width="1" />
<text x="424.2" y="617.3" font-size="11.5" fill="#222" color="#222" text-anchor="middle" >200</text>
<text x="342.4" y="635" font-size="12" fill="#222" color="#222" text-anchor="middle" class="h" textLength="37" lengthAdjust="spacingAndGlyphs">Time, s</text>
<text transform="translate(221,498.3) rotate(-90)" class="h" font-size="15" fill="#222" color="#222" text-anchor="middle" textLength="70" lengthAdjust="spacingAndGlyphs">Current, nA</text>
<text x="327.6" y="437.5" font-size="11" fill="#a0a0a0" color="#a0a0a0" text-anchor="start" textLength="40.5" lengthAdjust="spacingAndGlyphs">+100mV</text>
<text x="327.1" y="577.3" font-size="11" fill="#555" color="#555" text-anchor="start" textLength="37.7" lengthAdjust="spacingAndGlyphs">-100mV</text>
<g stroke-width="0.8" fill="#c0c0c0" stroke="#858585">
<circle cx="241.5" cy="495.4" r="5.4"/>
<circle cx="242.4" cy="495.9" r="5.4"/>
<circle cx="243.2" cy="495.9" r="5.4"/>
<circle cx="244.1" cy="495.6" r="5.4"/>
<circle cx="244.9" cy="495.4" r="5.4"/>
<circle cx="245.8" cy="495.4" r="5.4"/>
<circle cx="246.6" cy="495.5" r="5.4"/>
<circle cx="247.5" cy="496.2" r="5.4"/>
<circle cx="248.3" cy="495.7" r="5.4"/>
<circle cx="249.2" cy="495.6" r="5.4"/>
<circle cx="250.1" cy="495.8" r="5.4"/>
<circle cx="250.9" cy="495.4" r="5.4"/>
<circle cx="251.8" cy="495.1" r="5.4"/>
<circle cx="252.6" cy="496.0" r="5.4"/>
<circle cx="253.5" cy="495.3" r="5.4"/>
<circle cx="254.3" cy="495.9" r="5.4"/>
<circle cx="255.2" cy="495.9" r="5.4"/>
<circle cx="256.0" cy="495.7" r="5.4"/>
<circle cx="256.9" cy="494.8" r="5.4"/>
<circle cx="257.7" cy="495.3" r="5.4"/>
<circle cx="258.6" cy="495.6" r="5.4"/>
<circle cx="259.4" cy="495.1" r="5.4"/>
<circle cx="260.3" cy="495.5" r="5.4"/>
<circle cx="261.2" cy="495.4" r="5.4"/>
<circle cx="262.0" cy="496.0" r="5.4"/>
<circle cx="262.9" cy="496.0" r="5.4"/>
<circle cx="263.7" cy="496.1" r="5.4"/>
<circle cx="264.6" cy="495.2" r="5.4"/>
<circle cx="265.4" cy="496.1" r="5.4"/>
<circle cx="266.3" cy="495.0" r="5.4"/>
<circle cx="267.1" cy="496.1" r="5.4"/>
<circle cx="268.0" cy="495.6" r="5.4"/>
<circle cx="268.8" cy="495.5" r="5.4"/>
<circle cx="269.7" cy="496.0" r="5.4"/>
<circle cx="270.5" cy="496.4" r="5.4"/>
<circle cx="271.4" cy="495.8" r="5.4"/>
<circle cx="272.3" cy="494.9" r="5.4"/>
<circle cx="273.1" cy="495.0" r="5.4"/>
<circle cx="274.0" cy="496.1" r="5.4"/>
<circle cx="274.8" cy="495.5" r="5.4"/>
<circle cx="275.7" cy="495.6" r="5.4"/>
<circle cx="276.5" cy="495.1" r="5.4"/>
<circle cx="277.4" cy="495.4" r="5.4"/>
<circle cx="278.2" cy="495.9" r="5.4"/>
<circle cx="279.1" cy="494.7" r="5.4"/>
<circle cx="279.9" cy="495.2" r="5.4"/>
<circle cx="280.8" cy="495.9" r="5.4"/>
<circle cx="281.6" cy="495.1" r="5.4"/>
<circle cx="282.5" cy="495.2" r="5.4"/>
<circle cx="283.4" cy="495.1" r="5.4"/>
<circle cx="284.2" cy="496.0" r="5.4"/>
<circle cx="285.1" cy="495.5" r="5.4"/>
<circle cx="285.9" cy="495.8" r="5.4"/>
<circle cx="286.8" cy="495.6" r="5.4"/>
<circle cx="287.6" cy="495.6" r="5.4"/>
<circle cx="288.5" cy="495.4" r="5.4"/>
<circle cx="289.3" cy="495.9" r="5.4"/>
<circle cx="290.2" cy="495.1" r="5.4"/>
<circle cx="291.0" cy="495.7" r="5.4"/>
<circle cx="291.9" cy="495.4" r="5.4"/>
<circle cx="292.7" cy="495.6" r="5.4"/>
<circle cx="293.6" cy="495.4" r="5.4"/>
<circle cx="294.4" cy="495.2" r="5.4"/>
<circle cx="295.3" cy="495.7" r="5.4"/>
<circle cx="296.2" cy="495.2" r="5.4"/>
<circle cx="297.0" cy="495.7" r="5.4"/>
<circle cx="297.9" cy="495.4" r="5.4"/>
<circle cx="298.7" cy="495.6" r="5.4"/>
<circle cx="299.6" cy="495.8" r="5.4"/>
<circle cx="300.4" cy="496.4" r="5.4"/>
<circle cx="301.3" cy="495.8" r="5.4"/>
<circle cx="302.1" cy="495.7" r="5.4"/>
<circle cx="303.0" cy="495.7" r="5.4"/>
<circle cx="303.8" cy="494.9" r="5.4"/>
<circle cx="304.7" cy="495.8" r="5.4"/>
<circle cx="305.5" cy="495.2" r="5.4"/>
<circle cx="306.4" cy="494.4" r="5.4"/>
<circle cx="307.3" cy="495.8" r="5.4"/>
<circle cx="308.1" cy="495.2" r="5.4"/>
<circle cx="309.0" cy="495.1" r="5.4"/>
<circle cx="309.8" cy="495.4" r="5.4"/>
<circle cx="310.7" cy="495.3" r="5.4"/>
<circle cx="311.5" cy="495.1" r="5.4"/>
<circle cx="312.4" cy="494.4" r="5.4"/>
<circle cx="313.2" cy="495.6" r="5.4"/>
<circle cx="314.1" cy="495.1" r="5.4"/>
<circle cx="314.9" cy="495.2" r="5.4"/>
<circle cx="315.8" cy="494.5" r="5.4"/>
<circle cx="316.6" cy="494.7" r="5.4"/>
<circle cx="317.5" cy="494.5" r="5.4"/>
<circle cx="318.4" cy="495.1" r="5.4"/>
<circle cx="319.2" cy="495.1" r="5.4"/>
<circle cx="320.1" cy="495.2" r="5.4"/>
<circle cx="320.9" cy="495.4" r="5.4"/>
<circle cx="321.8" cy="495.5" r="5.4"/>
<circle cx="322.6" cy="495.1" r="5.4"/>
<circle cx="323.5" cy="494.9" r="5.4"/>
<circle cx="324.3" cy="495.1" r="5.4"/>
<circle cx="325.2" cy="495.8" r="5.4"/>
<circle cx="326.0" cy="495.0" r="5.4"/>
<circle cx="326.9" cy="494.1" r="5.4"/>
<circle cx="327.7" cy="495.2" r="5.4"/>
<circle cx="328.6" cy="495.6" r="5.4"/>
<circle cx="329.5" cy="494.6" r="5.4"/>
<circle cx="330.3" cy="495.5" r="5.4"/>
<circle cx="331.2" cy="495.1" r="5.4"/>
<circle cx="332.0" cy="495.0" r="5.4"/>
<circle cx="332.9" cy="495.3" r="5.4"/>
<circle cx="333.7" cy="495.5" r="5.4"/>
<circle cx="334.6" cy="495.0" r="5.4"/>
<circle cx="335.4" cy="495.5" r="5.4"/>
<circle cx="336.3" cy="494.9" r="5.4"/>
<circle cx="337.1" cy="494.9" r="5.4"/>
<circle cx="338.0" cy="495.5" r="5.4"/>
<circle cx="338.8" cy="494.8" r="5.4"/>
<circle cx="339.7" cy="495.5" r="5.4"/>
<circle cx="340.6" cy="494.9" r="5.4"/>
<circle cx="341.4" cy="495.3" r="5.4"/>
<circle cx="342.3" cy="495.5" r="5.4"/>
<circle cx="343.1" cy="495.2" r="5.4"/>
<circle cx="344.0" cy="494.9" r="5.4"/>
<circle cx="344.8" cy="494.7" r="5.4"/>
<circle cx="345.7" cy="494.7" r="5.4"/>
<circle cx="346.5" cy="495.3" r="5.4"/>
<circle cx="347.4" cy="495.0" r="5.4"/>
<circle cx="348.2" cy="496.0" r="5.4"/>
<circle cx="349.1" cy="494.6" r="5.4"/>
<circle cx="349.9" cy="493.6" r="5.4"/>
<circle cx="350.8" cy="491.7" r="5.4"/>
<circle cx="351.7" cy="489.7" r="5.4"/>
<circle cx="352.5" cy="488.3" r="5.4"/>
<circle cx="353.4" cy="484.9" r="5.4"/>
<circle cx="354.2" cy="482.3" r="5.4"/>
<circle cx="355.1" cy="474.0" r="5.4"/>
<circle cx="355.9" cy="472.2" r="5.4"/>
<circle cx="356.8" cy="473.9" r="5.4"/>
<circle cx="357.6" cy="469.7" r="5.4"/>
<circle cx="358.5" cy="465.3" r="5.4"/>
<circle cx="359.3" cy="461.1" r="5.4"/>
<circle cx="360.2" cy="459.5" r="5.4"/>
<circle cx="361.0" cy="463.5" r="5.4"/>
<circle cx="361.9" cy="454.5" r="5.4"/>
<circle cx="362.7" cy="459.0" r="5.4"/>
<circle cx="363.6" cy="455.3" r="5.4"/>
<circle cx="364.5" cy="456.4" r="5.4"/>
<circle cx="365.3" cy="453.7" r="5.4"/>
<circle cx="366.2" cy="449.6" r="5.4"/>
<circle cx="367.0" cy="450.9" r="5.4"/>
<circle cx="367.9" cy="447.3" r="5.4"/>
<circle cx="368.7" cy="447.4" r="5.4"/>
<circle cx="369.6" cy="450.4" r="5.4"/>
<circle cx="370.4" cy="450.4" r="5.4"/>
<circle cx="371.3" cy="444.7" r="5.4"/>
<circle cx="372.1" cy="446.4" r="5.4"/>
<circle cx="373.0" cy="445.5" r="5.4"/>
<circle cx="373.8" cy="444.0" r="5.4"/>
<circle cx="374.7" cy="448.4" r="5.4"/>
<circle cx="375.6" cy="448.1" r="5.4"/>
<circle cx="376.4" cy="445.7" r="5.4"/>
<circle cx="377.3" cy="447.8" r="5.4"/>
<circle cx="378.1" cy="446.7" r="5.4"/>
<circle cx="379.0" cy="448.3" r="5.4"/>
<circle cx="379.8" cy="444.8" r="5.4"/>
<circle cx="380.7" cy="445.5" r="5.4"/>
<circle cx="381.5" cy="443.1" r="5.4"/>
<circle cx="382.4" cy="441.1" r="5.4"/>
<circle cx="383.2" cy="437.6" r="5.4"/>
<circle cx="384.1" cy="437.3" r="5.4"/>
<circle cx="384.9" cy="436.1" r="5.4"/>
<circle cx="385.8" cy="432.6" r="5.4"/>
<circle cx="386.7" cy="431.4" r="5.4"/>
<circle cx="387.5" cy="426.7" r="5.4"/>
<circle cx="388.4" cy="424.7" r="5.4"/>
<circle cx="389.2" cy="420.2" r="5.4"/>
<circle cx="390.1" cy="420.8" r="5.4"/>
<circle cx="390.9" cy="413.4" r="5.4"/>
<circle cx="391.8" cy="414.2" r="5.4"/>
<circle cx="392.6" cy="412.7" r="5.4"/>
<circle cx="393.5" cy="416.8" r="5.4"/>
<circle cx="394.3" cy="414.7" r="5.4"/>
<circle cx="395.2" cy="412.4" r="5.4"/>
<circle cx="396.0" cy="415.6" r="5.4"/>
<circle cx="396.9" cy="405.9" r="5.4"/>
<circle cx="397.8" cy="407.9" r="5.4"/>
<circle cx="398.6" cy="407.8" r="5.4"/>
<circle cx="399.5" cy="404.6" r="5.4"/>
<circle cx="400.3" cy="412.2" r="5.4"/>
<circle cx="401.2" cy="409.8" r="5.4"/>
<circle cx="402.0" cy="403.2" r="5.4"/>
<circle cx="402.9" cy="403.6" r="5.4"/>
<circle cx="403.7" cy="405.2" r="5.4"/>
<circle cx="404.6" cy="403.4" r="5.4"/>
<circle cx="405.4" cy="403.2" r="5.4"/>
<circle cx="406.3" cy="404.5" r="5.4"/>
<circle cx="407.1" cy="405.4" r="5.4"/>
<circle cx="408.0" cy="406.5" r="5.4"/>
<circle cx="408.9" cy="405.4" r="5.4"/>
<circle cx="409.7" cy="405.9" r="5.4"/>
<circle cx="410.6" cy="403.8" r="5.4"/>
<circle cx="411.4" cy="411.5" r="5.4"/>
<circle cx="412.3" cy="406.8" r="5.4"/>
<circle cx="413.1" cy="408.1" r="5.4"/>
<circle cx="414.0" cy="409.3" r="5.4"/>
<circle cx="414.8" cy="411.4" r="5.4"/>
<circle cx="415.6" cy="419.0" r="5.4"/>
<circle cx="416.4" cy="441.6" r="5.4"/>
<circle cx="417.2" cy="466.1" r="5.4"/>
</g><g stroke-width="0.8" fill="#7c7c7c" stroke="#4a4a4a">
<circle cx="241.5" cy="505.7" r="5.4"/>
<circle cx="242.4" cy="505.6" r="5.4"/>
<circle cx="243.2" cy="507.1" r="5.4"/>
<circle cx="244.1" cy="505.9" r="5.4"/>
<circle cx="244.9" cy="506.9" r="5.4"/>
<circle cx="245.8" cy="506.7" r="5.4"/>
<circle cx="246.6" cy="506.7" r="5.4"/>
<circle cx="247.5" cy="506.8" r="5.4"/>
<circle cx="248.3" cy="505.9" r="5.4"/>
<circle cx="249.2" cy="505.7" r="5.4"/>
<circle cx="250.1" cy="507.0" r="5.4"/>
<circle cx="250.9" cy="506.1" r="5.4"/>
<circle cx="251.8" cy="506.2" r="5.4"/>
<circle cx="252.6" cy="506.5" r="5.4"/>
<circle cx="253.5" cy="506.5" r="5.4"/>
<circle cx="254.3" cy="506.4" r="5.4"/>
<circle cx="255.2" cy="506.5" r="5.4"/>
<circle cx="256.0" cy="506.7" r="5.4"/>
<circle cx="256.9" cy="506.4" r="5.4"/>
<circle cx="257.7" cy="506.3" r="5.4"/>
<circle cx="258.6" cy="506.3" r="5.4"/>
<circle cx="259.4" cy="506.8" r="5.4"/>
<circle cx="260.3" cy="506.1" r="5.4"/>
<circle cx="261.2" cy="506.9" r="5.4"/>
<circle cx="262.0" cy="506.7" r="5.4"/>
<circle cx="262.9" cy="506.9" r="5.4"/>
<circle cx="263.7" cy="507.2" r="5.4"/>
<circle cx="264.6" cy="506.4" r="5.4"/>
<circle cx="265.4" cy="506.7" r="5.4"/>
<circle cx="266.3" cy="505.9" r="5.4"/>
<circle cx="267.1" cy="506.5" r="5.4"/>
<circle cx="268.0" cy="506.1" r="5.4"/>
<circle cx="268.8" cy="506.8" r="5.4"/>
<circle cx="269.7" cy="506.7" r="5.4"/>
<circle cx="270.5" cy="506.3" r="5.4"/>
<circle cx="271.4" cy="506.7" r="5.4"/>
<circle cx="272.3" cy="506.8" r="5.4"/>
<circle cx="273.1" cy="506.5" r="5.4"/>
<circle cx="274.0" cy="506.0" r="5.4"/>
<circle cx="274.8" cy="506.3" r="5.4"/>
<circle cx="275.7" cy="506.3" r="5.4"/>
<circle cx="276.5" cy="505.5" r="5.4"/>
<circle cx="277.4" cy="506.2" r="5.4"/>
<circle cx="278.2" cy="506.7" r="5.4"/>
<circle cx="279.1" cy="506.4" r="5.4"/>
<circle cx="279.9" cy="507.0" r="5.4"/>
<circle cx="280.8" cy="506.6" r="5.4"/>
<circle cx="281.6" cy="505.9" r="5.4"/>
<circle cx="282.5" cy="506.3" r="5.4"/>
<circle cx="283.4" cy="507.0" r="5.4"/>
<circle cx="284.2" cy="506.8" r="5.4"/>
<circle cx="285.1" cy="507.1" r="5.4"/>
<circle cx="285.9" cy="505.6" r="5.4"/>
<circle cx="286.8" cy="506.7" r="5.4"/>
<circle cx="287.6" cy="507.0" r="5.4"/>
<circle cx="288.5" cy="505.9" r="5.4"/>
<circle cx="289.3" cy="506.5" r="5.4"/>
<circle cx="290.2" cy="506.9" r="5.4"/>
<circle cx="291.0" cy="506.9" r="5.4"/>
<circle cx="291.9" cy="507.0" r="5.4"/>
<circle cx="292.7" cy="506.6" r="5.4"/>
<circle cx="293.6" cy="506.6" r="5.4"/>
<circle cx="294.4" cy="506.4" r="5.4"/>
<circle cx="295.3" cy="506.9" r="5.4"/>
<circle cx="296.2" cy="506.8" r="5.4"/>
<circle cx="297.0" cy="506.4" r="5.4"/>
<circle cx="297.9" cy="506.1" r="5.4"/>
<circle cx="298.7" cy="505.8" r="5.4"/>
<circle cx="299.6" cy="506.1" r="5.4"/>
<circle cx="300.4" cy="507.1" r="5.4"/>
<circle cx="301.3" cy="506.7" r="5.4"/>
<circle cx="302.1" cy="506.3" r="5.4"/>
<circle cx="303.0" cy="506.9" r="5.4"/>
<circle cx="303.8" cy="507.1" r="5.4"/>
<circle cx="304.7" cy="507.2" r="5.4"/>
<circle cx="305.5" cy="506.6" r="5.4"/>
<circle cx="306.4" cy="506.9" r="5.4"/>
<circle cx="307.3" cy="506.7" r="5.4"/>
<circle cx="308.1" cy="507.1" r="5.4"/>
<circle cx="309.0" cy="506.4" r="5.4"/>
<circle cx="309.8" cy="506.9" r="5.4"/>
<circle cx="310.7" cy="507.1" r="5.4"/>
<circle cx="311.5" cy="507.0" r="5.4"/>
<circle cx="312.4" cy="507.1" r="5.4"/>
<circle cx="313.2" cy="506.4" r="5.4"/>
<circle cx="314.1" cy="506.3" r="5.4"/>
<circle cx="314.9" cy="506.9" r="5.4"/>
<circle cx="315.8" cy="506.9" r="5.4"/>
<circle cx="316.6" cy="505.8" r="5.4"/>
<circle cx="317.5" cy="506.3" r="5.4"/>
<circle cx="318.4" cy="506.0" r="5.4"/>
<circle cx="319.2" cy="506.4" r="5.4"/>
<circle cx="320.1" cy="506.5" r="5.4"/>
<circle cx="320.9" cy="506.5" r="5.4"/>
<circle cx="321.8" cy="506.0" r="5.4"/>
<circle cx="322.6" cy="505.7" r="5.4"/>
<circle cx="323.5" cy="506.4" r="5.4"/>
<circle cx="324.3" cy="506.5" r="5.4"/>
<circle cx="325.2" cy="506.2" r="5.4"/>
<circle cx="326.0" cy="506.3" r="5.4"/>
<circle cx="326.9" cy="506.6" r="5.4"/>
<circle cx="327.7" cy="506.8" r="5.4"/>
<circle cx="328.6" cy="506.8" r="5.4"/>
<circle cx="329.5" cy="505.9" r="5.4"/>
<circle cx="330.3" cy="506.7" r="5.4"/>
<circle cx="331.2" cy="506.7" r="5.4"/>
<circle cx="332.0" cy="506.7" r="5.4"/>
<circle cx="332.9" cy="507.0" r="5.4"/>
<circle cx="333.7" cy="506.4" r="5.4"/>
<circle cx="334.6" cy="506.6" r="5.4"/>
<circle cx="335.4" cy="506.4" r="5.4"/>
<circle cx="336.3" cy="506.0" r="5.4"/>
<circle cx="337.1" cy="506.6" r="5.4"/>
<circle cx="338.0" cy="506.5" r="5.4"/>
<circle cx="338.8" cy="506.8" r="5.4"/>
<circle cx="339.7" cy="506.2" r="5.4"/>
<circle cx="340.6" cy="506.4" r="5.4"/>
<circle cx="341.4" cy="506.1" r="5.4"/>
<circle cx="342.3" cy="505.9" r="5.4"/>
<circle cx="343.1" cy="507.1" r="5.4"/>
<circle cx="344.0" cy="505.9" r="5.4"/>
<circle cx="344.8" cy="507.1" r="5.4"/>
<circle cx="345.7" cy="507.0" r="5.4"/>
<circle cx="346.5" cy="507.3" r="5.4"/>
<circle cx="347.4" cy="506.0" r="5.4"/>
<circle cx="348.2" cy="506.8" r="5.4"/>
<circle cx="349.1" cy="506.4" r="5.4"/>
<circle cx="349.9" cy="507.0" r="5.4"/>
<circle cx="350.8" cy="506.2" r="5.4"/>
<circle cx="351.7" cy="507.6" r="5.4"/>
<circle cx="352.5" cy="507.2" r="5.4"/>
<circle cx="353.4" cy="508.5" r="5.4"/>
<circle cx="354.2" cy="508.4" r="5.4"/>
<circle cx="355.1" cy="505.8" r="5.4"/>
<circle cx="355.9" cy="515.0" r="5.4"/>
<circle cx="356.8" cy="517.1" r="5.4"/>
<circle cx="357.6" cy="518.5" r="5.4"/>
<circle cx="358.5" cy="523.2" r="5.4"/>
<circle cx="359.3" cy="531.0" r="5.4"/>
<circle cx="360.2" cy="527.7" r="5.4"/>
<circle cx="361.0" cy="528.2" r="5.4"/>
<circle cx="361.9" cy="537.4" r="5.4"/>
<circle cx="362.7" cy="539.0" r="5.4"/>
<circle cx="363.6" cy="543.7" r="5.4"/>
<circle cx="364.5" cy="544.2" r="5.4"/>
<circle cx="365.3" cy="545.1" r="5.4"/>
<circle cx="366.2" cy="538.6" r="5.4"/>
<circle cx="367.0" cy="548.6" r="5.4"/>
<circle cx="367.9" cy="541.1" r="5.4"/>
<circle cx="368.7" cy="545.8" r="5.4"/>
<circle cx="369.6" cy="548.5" r="5.4"/>
<circle cx="370.4" cy="548.7" r="5.4"/>
<circle cx="371.3" cy="546.5" r="5.4"/>
<circle cx="372.1" cy="549.3" r="5.4"/>
<circle cx="373.0" cy="549.4" r="5.4"/>
<circle cx="373.8" cy="550.2" r="5.4"/>
<circle cx="374.7" cy="550.3" r="5.4"/>
<circle cx="375.6" cy="551.7" r="5.4"/>
<circle cx="376.4" cy="554.7" r="5.4"/>
<circle cx="377.3" cy="556.9" r="5.4"/>
<circle cx="378.1" cy="554.2" r="5.4"/>
<circle cx="379.0" cy="557.3" r="5.4"/>
<circle cx="379.8" cy="558.5" r="5.4"/>
<circle cx="380.7" cy="565.2" r="5.4"/>
<circle cx="381.5" cy="562.8" r="5.4"/>
<circle cx="382.4" cy="566.0" r="5.4"/>
<circle cx="383.2" cy="568.2" r="5.4"/>
<circle cx="384.1" cy="569.6" r="5.4"/>
<circle cx="384.9" cy="572.9" r="5.4"/>
<circle cx="385.8" cy="577.8" r="5.4"/>
<circle cx="386.7" cy="577.8" r="5.4"/>
<circle cx="387.5" cy="574.1" r="5.4"/>
<circle cx="388.4" cy="576.3" r="5.4"/>
<circle cx="389.2" cy="578.8" r="5.4"/>
<circle cx="390.1" cy="576.6" r="5.4"/>
<circle cx="390.9" cy="582.8" r="5.4"/>
<circle cx="391.8" cy="577.6" r="5.4"/>
<circle cx="392.6" cy="583.6" r="5.4"/>
<circle cx="393.5" cy="590.6" r="5.4"/>
<circle cx="394.3" cy="591.4" r="5.4"/>
<circle cx="395.2" cy="595.6" r="5.4"/>
<circle cx="396.0" cy="597.3" r="5.4"/>
<circle cx="396.9" cy="598.0" r="5.4"/>
<circle cx="397.8" cy="597.2" r="5.4"/>
<circle cx="398.6" cy="592.2" r="5.4"/>
<circle cx="399.5" cy="596.4" r="5.4"/>
<circle cx="400.3" cy="589.9" r="5.4"/>
<circle cx="401.2" cy="592.8" r="5.4"/>
<circle cx="402.0" cy="587.8" r="5.4"/>
<circle cx="402.9" cy="585.0" r="5.4"/>
<circle cx="403.7" cy="582.9" r="5.4"/>
<circle cx="404.6" cy="592.3" r="5.4"/>
<circle cx="405.4" cy="585.4" r="5.4"/>
<circle cx="406.3" cy="583.7" r="5.4"/>
<circle cx="407.1" cy="587.6" r="5.4"/>
<circle cx="408.0" cy="583.7" r="5.4"/>
<circle cx="408.9" cy="589.3" r="5.4"/>
<circle cx="409.7" cy="586.8" r="5.4"/>
<circle cx="410.6" cy="580.1" r="5.4"/>
<circle cx="411.4" cy="584.4" r="5.4"/>
<circle cx="412.3" cy="586.3" r="5.4"/>
<circle cx="413.1" cy="586.4" r="5.4"/>
<circle cx="414.0" cy="585.8" r="5.4"/>
<circle cx="414.8" cy="586.0" r="5.4"/>
<circle cx="416.5" cy="559.2" r="5.4"/>
<circle cx="417.3" cy="531.1" r="5.4"/>
</g>
<text x="474" y="33" font-size="20" fill="#111" color="#111" text-anchor="start" class="h">c</text>
<text x="497.5" y="56.9" font-size="17" fill="#1f1ff0" color="#1f1ff0" text-anchor="start" class="h" textLength="82" lengthAdjust="spacingAndGlyphs">CpomOrco</text>
<rect x="523.5" y="78.5" width="207.2" height="198.4" fill="none" stroke="#808080" stroke-width="1"/>
<line x1="519.5" y1="261.5" x2="523.5" y2="261.5" stroke="#666" stroke-width="1" />
<text x="513.6" y="266.1" font-size="11.5" fill="#222" color="#222" text-anchor="end" textLength="16.5" lengthAdjust="spacingAndGlyphs">0.0</text>
<line x1="519.5" y1="185.4" x2="523.5" y2="185.4" stroke="#666" stroke-width="1" />
<text x="513.6" y="190" font-size="11.5" fill="#222" color="#222" text-anchor="end" textLength="16.5" lengthAdjust="spacingAndGlyphs">0.5</text>
<line x1="519.5" y1="109.3" x2="523.5" y2="109.3" stroke="#666" stroke-width="1" />
<text x="513.6" y="113.9" font-size="11.5" fill="#222" color="#222" text-anchor="end" textLength="16.5" lengthAdjust="spacingAndGlyphs">1.0</text>
<line x1="543.9" y1="276.9" x2="543.9" y2="280.9" stroke="#666" stroke-width="1" />
<text x="543.9" y="296.6" font-size="11.5" fill="#222" color="#222" text-anchor="middle" >10</text>
<line x1="612.9" y1="276.9" x2="612.9" y2="280.9" stroke="#666" stroke-width="1" />
<text x="612.9" y="296.6" font-size="11.5" fill="#222" color="#222" text-anchor="middle" >100</text>
<line x1="681.9" y1="276.9" x2="681.9" y2="280.9" stroke="#666" stroke-width="1" />
<text x="681.9" y="296.6" font-size="11.5" fill="#222" color="#222" text-anchor="middle" >1000</text>
<text x="616" y="314" font-size="10.5" fill="#333" color="#333" text-anchor="middle" textLength="60" lengthAdjust="spacingAndGlyphs">[VUAA1], μM</text>
<text transform="translate(490.3,179) rotate(-90)" class="h" font-size="12" fill="#222" color="#222" text-anchor="middle" textLength="86" lengthAdjust="spacingAndGlyphs">|C urrent|, nA</text>
<text x="536.7" y="216.7" font-size="15.5" class="h" fill="#6f9ef0" color="#6f9ef0" textLength="18.5" lengthAdjust="spacingAndGlyphs">pH</text>
<text x="557.9" y="219.7" font-size="7.5" class="h" fill="#6f9ef0" color="#6f9ef0">i</text>
<text x="564.7" y="216.7" font-size="15" class="h" fill="#6f9ef0" color="#6f9ef0" textLength="9" lengthAdjust="spacingAndGlyphs">=</text>
<text x="577.7" y="216.7" font-size="15" class="h" fill="#6f9ef0" color="#6f9ef0" textLength="20.5" lengthAdjust="spacingAndGlyphs">5.5</text>
<text x="536.7" y="235.5" font-size="15.5" class="h" fill="#1c1c78" color="#1c1c78" textLength="18.5" lengthAdjust="spacingAndGlyphs">pH</text>
<text x="557.9" y="238.5" font-size="7.5" class="h" fill="#1c1c78" color="#1c1c78">i</text>
<text x="564.7" y="235.5" font-size="15" class="h" fill="#1c1c78" color="#1c1c78" textLength="9" lengthAdjust="spacingAndGlyphs">=</text>
<text x="577.7" y="235.5" font-size="15" class="h" fill="#1c1c78" color="#1c1c78" textLength="20.5" lengthAdjust="spacingAndGlyphs">8.0</text>
<line x1="619.59" y1="255.87" x2="619.59" y2="250.85" stroke="#555" stroke-width="1" />
<line x1="616.09" y1="255.87" x2="623.09" y2="255.87" stroke="#555" stroke-width="1" />
<line x1="616.09" y1="250.85" x2="623.09" y2="250.85" stroke="#555" stroke-width="1" />
<line x1="661.13" y1="218.88" x2="661.13" y2="135.94" stroke="#d0d0d0" stroke-width="1" />
<line x1="657.63" y1="218.88" x2="664.63" y2="218.88" stroke="#d0d0d0" stroke-width="1" />
<line x1="657.63" y1="135.94" x2="664.63" y2="135.94" stroke="#d0d0d0" stroke-width="1" />
<line x1="681.9" y1="197.58" x2="681.9" y2="92.56" stroke="#d0d0d0" stroke-width="1" />
<line x1="678.4" y1="197.58" x2="685.4" y2="197.58" stroke="#d0d0d0" stroke-width="1" />
<line x1="678.4" y1="92.56" x2="685.4" y2="92.56" stroke="#d0d0d0" stroke-width="1" />
<line x1="661.13" y1="256.17" x2="661.13" y2="245.52" stroke="#555" stroke-width="1" />
<line x1="657.63" y1="256.17" x2="664.63" y2="256.17" stroke="#555" stroke-width="1" />
<line x1="657.63" y1="245.52" x2="664.63" y2="245.52" stroke="#555" stroke-width="1" />
<line x1="681.9" y1="243.24" x2="681.9" y2="224.21" stroke="#555" stroke-width="1" />
<line x1="678.4" y1="243.24" x2="685.4" y2="243.24" stroke="#555" stroke-width="1" />
<line x1="678.4" y1="224.21" x2="685.4" y2="224.21" stroke="#555" stroke-width="1" />
<path d="M536.45 261.5 538.3 261.5 540.14 261.5 541.98 261.5 543.82 261.5 545.66 261.5 547.5 261.5 549.34 261.5 551.18 261.5 553.02 261.5 554.87 261.5 556.71 261.5 558.55 261.5 560.39 261.5 562.23 261.5 564.07 261.5 565.91 261.5 567.75 261.5 569.59 261.5 571.44 261.5 573.28 261.5 575.12 261.5 576.96 261.5 578.8 261.49 580.64 261.49 582.48 261.49 584.32 261.49 586.16 261.49 588 261.48 589.85 261.48 591.69 261.48 593.53 261.47 595.37 261.47 597.21 261.46 599.05 261.45 600.89 261.45 602.73 261.43 604.57 261.42 606.42 261.41 608.26 261.39 610.1 261.36 611.94 261.34 613.78 261.3 615.62 261.26 617.46 261.22 619.3 261.16 621.14 261.09 622.99 261.01 624.83 260.91 626.67 260.79 628.51 260.65 630.35 260.49 632.19 260.29 634.03 260.06 635.87 259.78 637.71 259.46 639.56 259.07 641.4 258.63 643.24 258.11 645.08 257.51 646.92 256.82 648.76 256.03 650.6 255.15 652.44 254.16 654.28 253.06 656.12 251.87 657.97 250.59 659.81 249.22 661.65 247.8 663.49 246.35 665.33 244.88 667.17 243.41 669.01 241.99 670.85 240.62 672.69 239.33 674.54 238.12 676.38 237.01 678.22 236.01 680.06 235.11 681.9 234.31" fill="none" stroke="#6f9ef0" stroke-width="0.9"/>
<path d="M550.59 256.17 552.25 256.17 553.91 256.17 555.57 256.17 557.24 256.17 558.9 256.17 560.56 256.17 562.22 256.17 563.88 256.17 565.55 256.17 567.21 256.17 568.87 256.17 570.53 256.17 572.2 256.17 573.86 256.17 575.52 256.17 577.18 256.17 578.84 256.17 580.51 256.17 582.17 256.17 583.83 256.17 585.49 256.16 587.16 256.16 588.82 256.16 590.48 256.16 592.14 256.15 593.8 256.15 595.47 256.14 597.13 256.13 598.79 256.12 600.45 256.11 602.11 256.09 603.78 256.07 605.44 256.05 607.1 256.02 608.76 255.98 610.43 255.93 612.09 255.87 613.75 255.79 615.41 255.7 617.07 255.58 618.74 255.44 620.4 255.25 622.06 255.03 623.72 254.75 625.39 254.4 627.05 253.96 628.71 253.43 630.37 252.77 632.03 251.95 633.7 250.95 635.36 249.73 637.02 248.23 638.68 246.43 640.35 244.25 642.01 241.66 643.67 238.6 645.33 235.03 646.99 230.91 648.66 226.25 650.32 221.06 651.98 215.39 653.64 209.33 655.3 203.01 656.97 196.57 658.63 190.16 660.29 183.93 661.95 178.03 663.62 172.56 665.28 167.59 666.94 163.16 668.6 159.28 670.26 155.94 671.93 153.08 673.59 150.68 675.25 148.67 676.91 147 678.58 145.63 680.24 144.51 681.9 143.59" fill="none" stroke="#10107a" stroke-width="0.9"/>
<polyline points="550.59,255.87 619.59,255.26 640.36,247.8 661.13,177.03 681.9,145.37" fill="none" stroke="#0a0a80" stroke-width="1.5" />
<polyline points="550.59,261.5 619.59,261.04 640.36,261.5 661.13,250.54 681.9,233.34" fill="none" stroke="#6f9ef0" stroke-width="1.3" />
<circle cx="550.59" cy="255.87" r="5.7" fill="#000080" stroke="#000060" stroke-width="0.5"/>
<circle cx="619.59" cy="255.26" r="5.7" fill="#000080" stroke="#000060" stroke-width="0.5"/>
<circle cx="640.36" cy="247.8" r="5.7" fill="#000080" stroke="#000060" stroke-width="0.5"/>
<circle cx="661.13" cy="177.03" r="5.7" fill="#000080" stroke="#000060" stroke-width="0.5"/>
<circle cx="681.9" cy="145.37" r="5.7" fill="#000080" stroke="#000060" stroke-width="0.5"/>
<circle cx="550.59" cy="261.5" r="5.9" fill="#6e9bf0" stroke="#5a88e0" stroke-width="0.5"/>
<circle cx="619.59" cy="261.04" r="5.9" fill="#6e9bf0" stroke="#5a88e0" stroke-width="0.5"/>
<circle cx="640.36" cy="261.5" r="5.9" fill="#6e9bf0" stroke="#5a88e0" stroke-width="0.5"/>
<circle cx="661.13" cy="250.54" r="5.9" fill="#6e9bf0" stroke="#5a88e0" stroke-width="0.5"/>
<circle cx="681.9" cy="233.34" r="5.9" fill="#6e9bf0" stroke="#5a88e0" stroke-width="0.5"/>
<rect x="548.4" y="90.3" width="93.6" height="89.1" fill="#fff" stroke="#9a9a9a" stroke-width="0.9"/>
<line x1="545.4" y1="177.1" x2="548.4" y2="177.1" stroke="#888" stroke-width="0.8" />
<text x="542.9" y="180.4" font-size="8.5" fill="#333" color="#333" text-anchor="end" textLength="12.5" lengthAdjust="spacingAndGlyphs">0.0</text>
<line x1="545.4" y1="137.75" x2="548.4" y2="137.75" stroke="#888" stroke-width="0.8" />
<text x="542.9" y="141.05" font-size="8.5" fill="#333" color="#333" text-anchor="end" textLength="12.5" lengthAdjust="spacingAndGlyphs">0.5</text>
<line x1="545.4" y1="98.4" x2="548.4" y2="98.4" stroke="#888" stroke-width="0.8" />
<text x="542.9" y="101.7" font-size="8.5" fill="#333" color="#333" text-anchor="end" textLength="12.5" lengthAdjust="spacingAndGlyphs">1.0</text>
<line x1="557.75" y1="179.4" x2="557.75" y2="182.4" stroke="#888" stroke-width="0.8" />
<text x="557.75" y="191.7" font-size="8.5" fill="#333" color="#333" text-anchor="middle" >10</text>
<line x1="589.05" y1="179.4" x2="589.05" y2="182.4" stroke="#888" stroke-width="0.8" />
<text x="589.05" y="191.7" font-size="8.5" fill="#333" color="#333" text-anchor="middle" >100</text>
<line x1="620.35" y1="179.4" x2="620.35" y2="182.4" stroke="#888" stroke-width="0.8" />
<text x="620.35" y="191.7" font-size="8.5" fill="#333" color="#333" text-anchor="middle" >1000</text>
<line x1="610.93" y1="173.95" x2="610.93" y2="140.11" stroke="#ddd" stroke-width="0.8" />
<line x1="608.43" y1="173.95" x2="613.43" y2="173.95" stroke="#ddd" stroke-width="0.8" />
<line x1="608.43" y1="140.11" x2="613.43" y2="140.11" stroke="#ddd" stroke-width="0.8" />
<line x1="601.51" y1="161.36" x2="601.51" y2="151.13" stroke="#ddd" stroke-width="0.8" />
<line x1="599.01" y1="161.36" x2="604.01" y2="161.36" stroke="#ddd" stroke-width="0.8" />
<line x1="599.01" y1="151.13" x2="604.01" y2="151.13" stroke="#ddd" stroke-width="0.8" />
<polyline points="560.78,173.95 592.08,171.98 601.51,176 610.93,156.64 620.35,98.4" fill="none" stroke="#6f9ef0" stroke-width="1.0" />
<polyline points="560.78,170.02 592.08,165.29 601.51,154.28 610.93,119.65 620.35,98.4" fill="none" stroke="#10107a" stroke-width="1.0" />
<circle cx="560.78" cy="170.02" r="3.8" fill="#000080"/>
<circle cx="592.08" cy="165.29" r="3.8" fill="#000080"/>
<circle cx="601.51" cy="154.28" r="3.8" fill="#000080"/>
<circle cx="610.93" cy="119.65" r="3.8" fill="#000080"/>
<circle cx="620.35" cy="98.4" r="3.8" fill="#000080"/>
<circle cx="560.78" cy="173.95" r="3.9" fill="#6e9bf0"/>
<circle cx="592.08" cy="171.98" r="3.9" fill="#6e9bf0"/>
<circle cx="601.51" cy="176" r="3.9" fill="#6e9bf0"/>
<circle cx="610.93" cy="156.64" r="3.9" fill="#6e9bf0"/>
<circle cx="620.35" cy="98.4" r="3.9" fill="#6e9bf0"/>
<text x="474" y="358.3" font-size="20" fill="#111" color="#111" text-anchor="start" class="h">d</text>
<text x="497.5" y="383.5" font-size="17" fill="#f01a1a" color="#f01a1a" text-anchor="start" class="h" textLength="82" lengthAdjust="spacingAndGlyphs">CpomOrco</text>
<text x="577.2" y="374.1" font-size="8" fill="#f01a1a" color="#f01a1a" text-anchor="start" textLength="25.8" lengthAdjust="spacingAndGlyphs">Q417H</text>
<rect x="523.6" y="401.9" width="207.6" height="196.75" fill="none" stroke="#808080" stroke-width="1"/>
<line x1="519.6" y1="584.4" x2="523.6" y2="584.4" stroke="#666" stroke-width="1" />
<text x="513.6" y="589" font-size="11.5" fill="#222" color="#222" text-anchor="end" textLength="16.5" lengthAdjust="spacingAndGlyphs">0.0</text>
<line x1="519.6" y1="508.15" x2="523.6" y2="508.15" stroke="#666" stroke-width="1" />
<text x="513.6" y="512.75" font-size="11.5" fill="#222" color="#222" text-anchor="end" textLength="16.5" lengthAdjust="spacingAndGlyphs">0.5</text>
<line x1="519.6" y1="431.9" x2="523.6" y2="431.9" stroke="#666" stroke-width="1" />
<text x="513.6" y="436.5" font-size="11.5" fill="#222" color="#222" text-anchor="end" textLength="16.5" lengthAdjust="spacingAndGlyphs">1.0</text>
<line x1="545" y1="598.65" x2="545" y2="602.65" stroke="#666" stroke-width="1" />
<text x="545" y="618" font-size="11.5" fill="#222" color="#222" text-anchor="middle" >10</text>
<line x1="613.55" y1="598.65" x2="613.55" y2="602.65" stroke="#666" stroke-width="1" />
<text x="613.55" y="618" font-size="11.5" fill="#222" color="#222" text-anchor="middle" >100</text>
<line x1="682.1" y1="598.65" x2="682.1" y2="602.65" stroke="#666" stroke-width="1" />
<text x="682.1" y="618" font-size="11.5" fill="#222" color="#222" text-anchor="middle" >1000</text>
<text x="616" y="632.7" font-size="10.5" fill="#333" color="#333" text-anchor="middle" textLength="60" lengthAdjust="spacingAndGlyphs">[VUAA1], μM</text>
<text transform="translate(490.3,504.5) rotate(-90)" class="h" font-size="12" fill="#222" color="#222" text-anchor="middle" textLength="86" lengthAdjust="spacingAndGlyphs">|C urrent|, nA</text>
<text x="536.7" y="546.2" font-size="15.5" class="h" fill="#6f9ef0" color="#6f9ef0" textLength="18.5" lengthAdjust="spacingAndGlyphs">pH</text>
<text x="557.9" y="549.2" font-size="7.5" class="h" fill="#6f9ef0" color="#6f9ef0">i</text>
<text x="564.7" y="546.2" font-size="15" class="h" fill="#6f9ef0" color="#6f9ef0" textLength="9" lengthAdjust="spacingAndGlyphs">=</text>
<text x="577.7" y="546.2" font-size="15" class="h" fill="#6f9ef0" color="#6f9ef0" textLength="20.5" lengthAdjust="spacingAndGlyphs">5.5</text>
<text x="536.7" y="565" font-size="15.5" class="h" fill="#1c1c78" color="#1c1c78" textLength="18.5" lengthAdjust="spacingAndGlyphs">pH</text>
<text x="557.9" y="568" font-size="7.5" class="h" fill="#1c1c78" color="#1c1c78">i</text>
<text x="564.7" y="565" font-size="15" class="h" fill="#1c1c78" color="#1c1c78" textLength="9" lengthAdjust="spacingAndGlyphs">=</text>
<text x="577.7" y="565" font-size="15" class="h" fill="#1c1c78" color="#1c1c78" textLength="20.5" lengthAdjust="spacingAndGlyphs">8.0</text>
<line x1="682.1" y1="543.23" x2="682.1" y2="531.79" stroke="#555" stroke-width="1" />
<line x1="678.6" y1="543.23" x2="685.6" y2="543.23" stroke="#555" stroke-width="1" />
<line x1="678.6" y1="531.79" x2="685.6" y2="531.79" stroke="#555" stroke-width="1" />
<line x1="661.46" y1="580.59" x2="661.46" y2="560.76" stroke="#777" stroke-width="1" />
<line x1="657.96" y1="580.59" x2="664.96" y2="580.59" stroke="#777" stroke-width="1" />
<line x1="657.96" y1="560.76" x2="664.96" y2="560.76" stroke="#777" stroke-width="1" />
<line x1="682.1" y1="569.15" x2="682.1" y2="540.17" stroke="#ccc" stroke-width="1" />
<line x1="678.6" y1="569.15" x2="685.6" y2="569.15" stroke="#ccc" stroke-width="1" />
<line x1="678.6" y1="540.17" x2="685.6" y2="540.17" stroke="#ccc" stroke-width="1" />
<path d="M537.6 584.4 539.43 584.4 541.26 584.4 543.09 584.4 544.92 584.4 546.75 584.4 548.58 584.4 550.41 584.4 552.24 584.4 554.06 584.4 555.89 584.4 557.72 584.4 559.55 584.4 561.38 584.4 563.21 584.4 565.04 584.4 566.87 584.4 568.7 584.4 570.53 584.4 572.36 584.4 574.18 584.4 576.01 584.4 577.84 584.4 579.67 584.39 581.5 584.39 583.33 584.39 585.16 584.39 586.99 584.39 588.82 584.39 590.65 584.38 592.48 584.38 594.3 584.38 596.13 584.37 597.96 584.37 599.79 584.36 601.62 584.35 603.45 584.34 605.28 584.33 607.11 584.32 608.94 584.3 610.77 584.28 612.6 584.26 614.42 584.23 616.25 584.2 618.08 584.16 619.91 584.11 621.74 584.05 623.57 583.98 625.4 583.9 627.23 583.79 629.06 583.67 630.89 583.53 632.71 583.36 634.54 583.16 636.37 582.92 638.2 582.64 640.03 582.3 641.86 581.91 643.69 581.45 645.52 580.91 647.35 580.29 649.18 579.58 651.01 578.77 652.83 577.85 654.66 576.82 656.49 575.69 658.32 574.45 660.15 573.11 661.98 571.69 663.81 570.21 665.64 568.68 667.47 567.14 669.3 565.6 671.13 564.1 672.95 562.65 674.78 561.29 676.61 560.01 678.44 558.83 680.27 557.77 682.1 556.81" fill="none" stroke="#6f9ef0" stroke-width="0.9"/>
<path d="M549.93 582.87 551.6 582.87 553.27 582.87 554.95 582.87 556.62 582.87 558.29 582.87 559.97 582.87 561.64 582.87 563.31 582.87 564.99 582.87 566.66 582.87 568.33 582.87 570 582.87 571.68 582.87 573.35 582.87 575.02 582.87 576.7 582.87 578.37 582.87 580.04 582.87 581.72 582.87 583.39 582.87 585.06 582.87 586.74 582.87 588.41 582.87 590.08 582.87 591.75 582.87 593.43 582.87 595.1 582.87 596.77 582.87 598.45 582.87 600.12 582.87 601.79 582.87 603.47 582.87 605.14 582.87 606.81 582.86 608.48 582.86 610.16 582.86 611.83 582.85 613.5 582.85 615.18 582.84 616.85 582.83 618.52 582.82 620.2 582.81 621.87 582.79 623.54 582.77 625.22 582.74 626.89 582.71 628.56 582.67 630.23 582.62 631.91 582.56 633.58 582.48 635.25 582.38 636.93 582.25 638.6 582.1 640.27 581.9 641.95 581.66 643.62 581.37 645.29 581 646.97 580.56 648.64 580 650.31 579.33 651.98 578.52 653.66 577.54 655.33 576.38 657 575 658.68 573.41 660.35 571.57 662.02 569.5 663.7 567.21 665.37 564.73 667.04 562.11 668.72 559.39 670.39 556.65 672.06 553.96 673.73 551.38 675.41 548.96 677.08 546.74 678.75 544.75 680.43 542.99 682.1 541.47" fill="none" stroke="#10107a" stroke-width="0.9"/>
<polyline points="549.93,582.11 620.19,582.26 640.83,582.26 661.46,568.24 682.1,537.89" fill="none" stroke="#0a0a80" stroke-width="1.2" />
<circle cx="549.93" cy="582.11" r="5.7" fill="#000080" stroke="#000060" stroke-width="0.5"/>
<circle cx="620.19" cy="582.26" r="5.7" fill="#000080" stroke="#000060" stroke-width="0.5"/>
<circle cx="640.83" cy="582.26" r="5.7" fill="#000080" stroke="#000060" stroke-width="0.5"/>
<circle cx="661.46" cy="568.24" r="5.7" fill="#000080" stroke="#000060" stroke-width="0.5"/>
<circle cx="682.1" cy="537.89" r="5.7" fill="#000080" stroke="#000060" stroke-width="0.5"/>
<path d="M537.6 584.4 539.43 584.4 541.26 584.4 543.09 584.4 544.92 584.4 546.75 584.4 548.58 584.4 550.41 584.4 552.24 584.4 554.06 584.4 555.89 584.4 557.72 584.4 559.55 584.4 561.38 584.4 563.21 584.4 565.04 584.4 566.87 584.4 568.7 584.4 570.53 584.4 572.36 584.4 574.18 584.4 576.01 584.4 577.84 584.4 579.67 584.39 581.5 584.39 583.33 584.39 585.16 584.39 586.99 584.39 588.82 584.39 590.65 584.38 592.48 584.38 594.3 584.38 596.13 584.37 597.96 584.37 599.79 584.36 601.62 584.35 603.45 584.34 605.28 584.33 607.11 584.32 608.94 584.3 610.77 584.28 612.6 584.26 614.42 584.23 616.25 584.2 618.08 584.16 619.91 584.11 621.74 584.05 623.57 583.98 625.4 583.9 627.23 583.79 629.06 583.67 630.89 583.53 632.71 583.36 634.54 583.16 636.37 582.92 638.2 582.64 640.03 582.3 641.86 581.91 643.69 581.45 645.52 580.91 647.35 580.29 649.18 579.58 651.01 578.77 652.83 577.85 654.66 576.82 656.49 575.69 658.32 574.45 660.15 573.11 661.98 571.69 663.81 570.21 665.64 568.68 667.47 567.14 669.3 565.6 671.13 564.1 672.95 562.65 674.78 561.29 676.61 560.01 678.44 558.83 680.27 557.77 682.1 556.81" fill="none" stroke="#5a85e6" stroke-width="1.4"/>
<polyline points="549.93,584.4 620.19,585.31 640.83,584.1 661.46,572.2 682.1,554.66" fill="none" stroke="#6f9ef0" stroke-width="1.5" />
<circle cx="549.93" cy="584.4" r="5.9" fill="#6e9bf0" stroke="#5a88e0" stroke-width="0.5"/>
<circle cx="620.19" cy="585.31" r="5.9" fill="#6e9bf0" stroke="#5a88e0" stroke-width="0.5"/>
<circle cx="640.83" cy="584.1" r="5.9" fill="#6e9bf0" stroke="#5a88e0" stroke-width="0.5"/>
<circle cx="661.46" cy="572.2" r="5.9" fill="#6e9bf0" stroke="#5a88e0" stroke-width="0.5"/>
<circle cx="682.1" cy="554.66" r="5.9" fill="#6e9bf0" stroke="#5a88e0" stroke-width="0.5"/>
<rect x="548.3" y="414.9" width="93.1" height="89.3" fill="#fff" stroke="#9a9a9a" stroke-width="0.9"/>
<line x1="545.3" y1="500.4" x2="548.3" y2="500.4" stroke="#888" stroke-width="0.8" />
<text x="542.8" y="503.7" font-size="8.5" fill="#333" color="#333" text-anchor="end" textLength="12.5" lengthAdjust="spacingAndGlyphs">0.0</text>
<line x1="545.3" y1="461.5" x2="548.3" y2="461.5" stroke="#888" stroke-width="0.8" />
<text x="542.8" y="464.8" font-size="8.5" fill="#333" color="#333" text-anchor="end" textLength="12.5" lengthAdjust="spacingAndGlyphs">0.5</text>
<line x1="545.3" y1="422.6" x2="548.3" y2="422.6" stroke="#888" stroke-width="0.8" />
<text x="542.8" y="425.9" font-size="8.5" fill="#333" color="#333" text-anchor="end" textLength="12.5" lengthAdjust="spacingAndGlyphs">1.0</text>
<line x1="558.2" y1="504.2" x2="558.2" y2="507.2" stroke="#888" stroke-width="0.8" />
<text x="558.2" y="516.5" font-size="8.5" fill="#333" color="#333" text-anchor="middle" >10</text>
<line x1="588.8" y1="504.2" x2="588.8" y2="507.2" stroke="#888" stroke-width="0.8" />
<text x="588.8" y="516.5" font-size="8.5" fill="#333" color="#333" text-anchor="middle" >100</text>
<line x1="619.4" y1="504.2" x2="619.4" y2="507.2" stroke="#888" stroke-width="0.8" />
<text x="619.4" y="516.5" font-size="8.5" fill="#333" color="#333" text-anchor="middle" >1000</text>
<line x1="560.4" y1="492.62" x2="560.4" y2="484.06" stroke="#ccc" stroke-width="0.8" />
<line x1="557.9" y1="492.62" x2="562.9" y2="492.62" stroke="#ccc" stroke-width="0.8" />
<line x1="557.9" y1="484.06" x2="562.9" y2="484.06" stroke="#ccc" stroke-width="0.8" />
<line x1="610.19" y1="465.39" x2="610.19" y2="449.05" stroke="#ccc" stroke-width="0.8" />
<line x1="607.69" y1="465.39" x2="612.69" y2="465.39" stroke="#ccc" stroke-width="0.8" />
<line x1="607.69" y1="449.05" x2="612.69" y2="449.05" stroke="#ccc" stroke-width="0.8" />
<polyline points="560.4,488.34 591.77,494.18 600.98,496.51 610.19,456.05 619.4,422.6" fill="none" stroke="#3a3aa0" stroke-width="1.0" />
<polyline points="560.4,495.73 591.77,498.07 600.98,496.51 610.19,476.28 619.4,422.6" fill="none" stroke="#10107a" stroke-width="1.0" />
<circle cx="560.4" cy="495.73" r="3.8" fill="#000080"/>
<circle cx="591.77" cy="498.07" r="3.8" fill="#000080"/>
<circle cx="600.98" cy="496.51" r="3.8" fill="#000080"/>
<circle cx="610.19" cy="476.28" r="3.8" fill="#000080"/>
<circle cx="619.4" cy="422.6" r="3.8" fill="#000080"/>
<circle cx="560.4" cy="488.34" r="3.9" fill="#6e9bf0"/>
<circle cx="591.77" cy="494.18" r="3.9" fill="#6e9bf0"/>
<circle cx="600.98" cy="496.51" r="3.9" fill="#6e9bf0"/>
<circle cx="610.19" cy="456.05" r="3.9" fill="#6e9bf0"/>
<circle cx="619.4" cy="422.6" r="3.9" fill="#6e9bf0"/>
</svg></body></html>
